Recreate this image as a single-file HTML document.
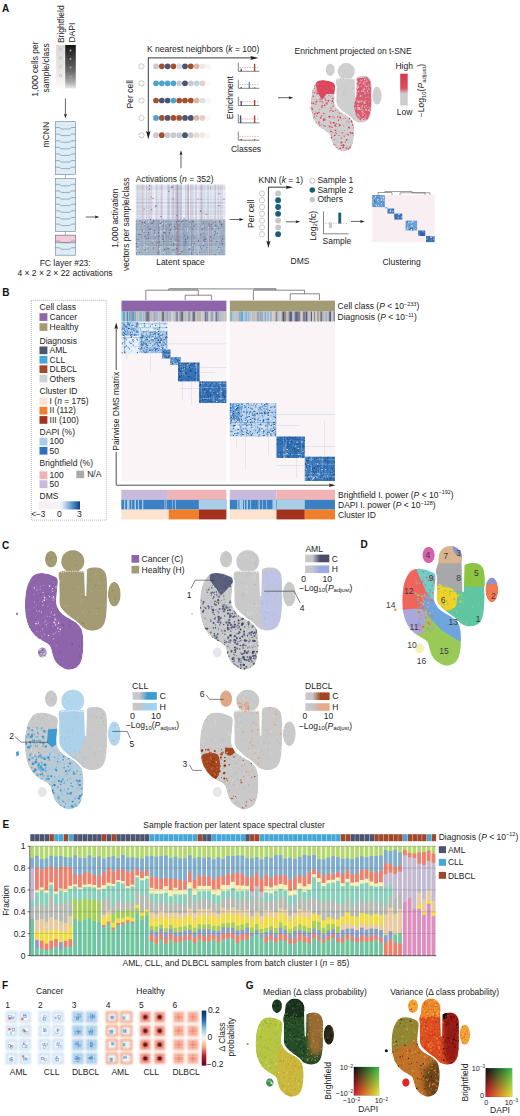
<!DOCTYPE html>
<html><head><meta charset="utf-8"><title>Figure</title>
<style>
html,body{margin:0;padding:0;background:#fff;}
body{width:520px;height:1116px;overflow:hidden;}
svg{display:block;font-family:"Liberation Sans",sans-serif;font-size:8.5px;fill:#222;}
</style></head><body>
<svg width="520" height="1116" viewBox="0 0 520 1116">
<defs><filter id="bl3" x="-20%" y="-20%" width="140%" height="140%"><feGaussianBlur stdDeviation="2.5"/></filter>
<clipPath id="tclip"><path d="M33.1 574.6C35.6 572.68 38.65 572.1 42.3 572.3C45.95 572.5 52.3 574.45 55 575.8C57.7 577.15 58.07 577.7 58.5 580.4C58.93 583.1 57.8 587.97 57.6 592C57.4 596.03 56.38 600.97 57.3 604.6C58.22 608.23 60.22 611.1 63.1 613.8C65.98 616.5 71.53 618.48 74.6 620.8C77.67 623.12 79.97 625.02 81.5 627.7C83.03 630.38 83.42 633.05 83.8 636.9C84.18 640.75 84.18 646.57 83.8 650.8C83.42 655.03 82.65 659.42 81.5 662.3C80.35 665.18 79.2 666.75 76.9 668.1C74.6 669.45 70.77 670.78 67.7 670.4C64.63 670.02 60.82 667.53 58.5 665.8C56.18 664.07 54.97 662.12 53.8 660C52.63 657.88 52.27 655.4 51.5 653.1C50.73 650.8 50.73 648.13 49.2 646.2C47.67 644.27 44.6 643.05 42.3 641.5C40 639.95 37.7 639.2 35.4 636.9C33.1 634.6 30.23 631.15 28.5 627.7C26.77 624.25 25.7 620.05 25 616.2C24.3 612.35 24.3 608.45 24.3 604.6C24.3 600.75 24.5 596.57 25 593.1C25.5 589.63 25.95 586.88 27.3 583.8C28.65 580.72 30.6 576.52 33.1 574.6Z"/><path d="M59.5 572.3C61.27 570.38 66.58 570.72 70 570.5C73.42 570.28 77.47 570.83 80 571C82.53 571.17 83.95 571.8 85.2 571.5C86.45 571.2 86.28 569.85 87.5 569.2C88.72 568.55 90.33 567.77 92.5 567.6C94.67 567.43 98.37 567.38 100.5 568.2C102.63 569.02 104.25 570.53 105.3 572.5C106.35 574.47 106.52 576.75 106.8 580C107.08 583.25 107.03 587.13 107 592C106.97 596.87 106.92 604.4 106.6 609.2C106.28 614 106 617.72 105.1 620.8C104.2 623.88 103.2 626.08 101.2 627.7C99.2 629.32 95.8 630.32 93.1 630.5C90.4 630.68 87.6 630.13 85 628.8C82.4 627.47 80.58 625.05 77.5 622.5C74.42 619.95 69.38 616.28 66.5 613.5C63.62 610.72 61.35 609.05 60.2 605.8C59.05 602.55 59.73 597.97 59.6 594C59.47 590.03 59.42 585.62 59.4 582C59.38 578.38 57.73 574.22 59.5 572.3Z"/><path d="M84.3 561.4C84.3 562.37 84.16 563.37 83.91 564.3C83.65 565.23 83.26 566.16 82.76 567C82.26 567.84 81.63 568.64 80.93 569.32C80.23 570 79.41 570.62 78.55 571.1C77.69 571.58 76.73 571.97 75.78 572.22C74.82 572.47 73.79 572.6 72.8 572.6C71.81 572.6 70.78 572.47 69.82 572.22C68.87 571.97 67.91 571.58 67.05 571.1C66.19 570.62 65.37 570 64.67 569.32C63.97 568.64 63.34 567.84 62.84 567C62.34 566.16 61.95 565.23 61.69 564.3C61.44 563.37 61.3 562.37 61.3 561.4C61.3 560.43 61.44 559.43 61.69 558.5C61.95 557.57 62.34 556.64 62.84 555.8C63.34 554.96 63.97 554.16 64.67 553.48C65.37 552.8 66.19 552.18 67.05 551.7C67.91 551.22 68.87 550.83 69.82 550.58C70.78 550.33 71.81 550.2 72.8 550.2C73.79 550.2 74.82 550.33 75.78 550.58C76.73 550.83 77.69 551.22 78.55 551.7C79.41 552.18 80.23 552.8 80.93 553.48C81.63 554.16 82.26 554.96 82.76 555.8C83.26 556.64 83.65 557.57 83.91 558.5C84.16 559.43 84.3 560.43 84.3 561.4Z"/><path d="M57.1 559.2C57.1 559.9 57.03 560.62 56.9 561.3C56.76 561.97 56.55 562.64 56.3 563.25C56.04 563.86 55.71 564.43 55.34 564.93C54.98 565.42 54.55 565.87 54.1 566.21C53.65 566.56 53.15 566.84 52.65 567.02C52.15 567.2 51.62 567.3 51.1 567.3C50.58 567.3 50.05 567.2 49.55 567.02C49.05 566.84 48.55 566.56 48.1 566.21C47.65 565.87 47.22 565.42 46.86 564.93C46.49 564.43 46.16 563.86 45.9 563.25C45.65 562.64 45.44 561.97 45.3 561.3C45.17 560.62 45.1 559.9 45.1 559.2C45.1 558.5 45.17 557.78 45.3 557.1C45.44 556.43 45.65 555.76 45.9 555.15C46.16 554.54 46.49 553.97 46.86 553.47C47.22 552.98 47.65 552.53 48.1 552.19C48.55 551.84 49.05 551.56 49.55 551.38C50.05 551.2 50.58 551.1 51.1 551.1C51.62 551.1 52.15 551.2 52.65 551.38C53.15 551.56 53.65 551.84 54.1 552.19C54.55 552.53 54.98 552.98 55.34 553.47C55.71 553.97 56.04 554.54 56.3 555.15C56.55 555.76 56.76 556.43 56.9 557.1C57.03 557.78 57.1 558.5 57.1 559.2Z"/><path d="M121.2 594.2C121.2 595.3 121.12 596.43 120.96 597.49C120.81 598.55 120.57 599.6 120.28 600.55C119.98 601.5 119.6 602.41 119.18 603.18C118.76 603.96 118.27 604.65 117.75 605.2C117.23 605.75 116.66 606.18 116.09 606.47C115.51 606.75 114.9 606.9 114.3 606.9C113.7 606.9 113.09 606.75 112.51 606.47C111.94 606.18 111.37 605.75 110.85 605.2C110.33 604.65 109.84 603.96 109.42 603.18C109 602.41 108.62 601.5 108.32 600.55C108.03 599.6 107.79 598.55 107.64 597.49C107.48 596.43 107.4 595.3 107.4 594.2C107.4 593.1 107.48 591.97 107.64 590.91C107.79 589.85 108.03 588.8 108.32 587.85C108.62 586.9 109 585.99 109.42 585.22C109.84 584.44 110.33 583.75 110.85 583.2C111.37 582.65 111.94 582.22 112.51 581.93C113.09 581.65 113.7 581.5 114.3 581.5C114.9 581.5 115.51 581.65 116.09 581.93C116.66 582.22 117.23 582.65 117.75 583.2C118.27 583.75 118.76 584.44 119.18 585.22C119.6 585.99 119.98 586.9 120.28 587.85C120.57 588.8 120.81 589.85 120.96 590.91C121.12 591.97 121.2 593.1 121.2 594.2Z"/><path d="M46.7 652.5C46.7 652.93 46.65 653.38 46.55 653.79C46.45 654.21 46.3 654.63 46.11 655C45.92 655.37 45.68 655.73 45.41 656.04C45.14 656.34 44.83 656.61 44.5 656.83C44.17 657.05 43.81 657.22 43.44 657.33C43.07 657.44 42.68 657.5 42.3 657.5C41.92 657.5 41.53 657.44 41.16 657.33C40.79 657.22 40.43 657.05 40.1 656.83C39.77 656.61 39.46 656.34 39.19 656.04C38.92 655.73 38.68 655.37 38.49 655C38.3 654.63 38.15 654.21 38.05 653.79C37.95 653.38 37.9 652.93 37.9 652.5C37.9 652.07 37.95 651.62 38.05 651.21C38.15 650.79 38.3 650.37 38.49 650C38.68 649.63 38.92 649.27 39.19 648.96C39.46 648.66 39.77 648.39 40.1 648.17C40.43 647.95 40.79 647.78 41.16 647.67C41.53 647.56 41.92 647.5 42.3 647.5C42.68 647.5 43.07 647.56 43.44 647.67C43.81 647.78 44.17 647.95 44.5 648.17C44.83 648.39 45.14 648.66 45.41 648.96C45.68 649.27 45.92 649.63 46.11 650C46.3 650.37 46.45 650.79 46.55 651.21C46.65 651.62 46.7 652.07 46.7 652.5Z"/><path d="M61.3 561.2C61.51 559.5 61.5 558.88 61.86 557.8C62.23 556.72 62.8 555.65 63.5 554.73C64.19 553.82 65.08 552.97 66.04 552.3C67 551.63 68.12 551.09 69.25 550.74C70.37 550.39 71.62 550.2 72.8 550.2C73.98 550.2 75.23 550.39 76.35 550.74C77.48 551.09 78.6 551.63 79.56 552.3C80.52 552.97 81.41 553.82 82.1 554.73C82.8 555.65 83.37 556.72 83.74 557.8C84.1 558.88 84.16 559.5 84.3 561.2C84.44 562.9 84.48 566.03 84.6 568C84.72 569.97 87.1 572.23 85 573C82.9 573.77 76.17 572.6 72 572.6C67.83 572.6 61.9 573.77 60 573C58.1 572.23 60.38 569.97 60.6 568C60.82 566.03 61.09 562.9 61.3 561.2Z"/></clipPath>
<path id="tL" d="M33.1 574.6C35.6 572.68 38.65 572.1 42.3 572.3C45.95 572.5 52.3 574.45 55 575.8C57.7 577.15 58.07 577.7 58.5 580.4C58.93 583.1 57.8 587.97 57.6 592C57.4 596.03 56.38 600.97 57.3 604.6C58.22 608.23 60.22 611.1 63.1 613.8C65.98 616.5 71.53 618.48 74.6 620.8C77.67 623.12 79.97 625.02 81.5 627.7C83.03 630.38 83.42 633.05 83.8 636.9C84.18 640.75 84.18 646.57 83.8 650.8C83.42 655.03 82.65 659.42 81.5 662.3C80.35 665.18 79.2 666.75 76.9 668.1C74.6 669.45 70.77 670.78 67.7 670.4C64.63 670.02 60.82 667.53 58.5 665.8C56.18 664.07 54.97 662.12 53.8 660C52.63 657.88 52.27 655.4 51.5 653.1C50.73 650.8 50.73 648.13 49.2 646.2C47.67 644.27 44.6 643.05 42.3 641.5C40 639.95 37.7 639.2 35.4 636.9C33.1 634.6 30.23 631.15 28.5 627.7C26.77 624.25 25.7 620.05 25 616.2C24.3 612.35 24.3 608.45 24.3 604.6C24.3 600.75 24.5 596.57 25 593.1C25.5 589.63 25.95 586.88 27.3 583.8C28.65 580.72 30.6 576.52 33.1 574.6Z"/>
<clipPath id="cL"><path d="M33.1 574.6C35.6 572.68 38.65 572.1 42.3 572.3C45.95 572.5 52.3 574.45 55 575.8C57.7 577.15 58.07 577.7 58.5 580.4C58.93 583.1 57.8 587.97 57.6 592C57.4 596.03 56.38 600.97 57.3 604.6C58.22 608.23 60.22 611.1 63.1 613.8C65.98 616.5 71.53 618.48 74.6 620.8C77.67 623.12 79.97 625.02 81.5 627.7C83.03 630.38 83.42 633.05 83.8 636.9C84.18 640.75 84.18 646.57 83.8 650.8C83.42 655.03 82.65 659.42 81.5 662.3C80.35 665.18 79.2 666.75 76.9 668.1C74.6 669.45 70.77 670.78 67.7 670.4C64.63 670.02 60.82 667.53 58.5 665.8C56.18 664.07 54.97 662.12 53.8 660C52.63 657.88 52.27 655.4 51.5 653.1C50.73 650.8 50.73 648.13 49.2 646.2C47.67 644.27 44.6 643.05 42.3 641.5C40 639.95 37.7 639.2 35.4 636.9C33.1 634.6 30.23 631.15 28.5 627.7C26.77 624.25 25.7 620.05 25 616.2C24.3 612.35 24.3 608.45 24.3 604.6C24.3 600.75 24.5 596.57 25 593.1C25.5 589.63 25.95 586.88 27.3 583.8C28.65 580.72 30.6 576.52 33.1 574.6Z"/></clipPath>
<path id="tU" d="M59.5 572.3C61.27 570.38 66.58 570.72 70 570.5C73.42 570.28 77.47 570.83 80 571C82.53 571.17 83.95 571.8 85.2 571.5C86.45 571.2 86.28 569.85 87.5 569.2C88.72 568.55 90.33 567.77 92.5 567.6C94.67 567.43 98.37 567.38 100.5 568.2C102.63 569.02 104.25 570.53 105.3 572.5C106.35 574.47 106.52 576.75 106.8 580C107.08 583.25 107.03 587.13 107 592C106.97 596.87 106.92 604.4 106.6 609.2C106.28 614 106 617.72 105.1 620.8C104.2 623.88 103.2 626.08 101.2 627.7C99.2 629.32 95.8 630.32 93.1 630.5C90.4 630.68 87.6 630.13 85 628.8C82.4 627.47 80.58 625.05 77.5 622.5C74.42 619.95 69.38 616.28 66.5 613.5C63.62 610.72 61.35 609.05 60.2 605.8C59.05 602.55 59.73 597.97 59.6 594C59.47 590.03 59.42 585.62 59.4 582C59.38 578.38 57.73 574.22 59.5 572.3Z"/>
<clipPath id="cU"><path d="M59.5 572.3C61.27 570.38 66.58 570.72 70 570.5C73.42 570.28 77.47 570.83 80 571C82.53 571.17 83.95 571.8 85.2 571.5C86.45 571.2 86.28 569.85 87.5 569.2C88.72 568.55 90.33 567.77 92.5 567.6C94.67 567.43 98.37 567.38 100.5 568.2C102.63 569.02 104.25 570.53 105.3 572.5C106.35 574.47 106.52 576.75 106.8 580C107.08 583.25 107.03 587.13 107 592C106.97 596.87 106.92 604.4 106.6 609.2C106.28 614 106 617.72 105.1 620.8C104.2 623.88 103.2 626.08 101.2 627.7C99.2 629.32 95.8 630.32 93.1 630.5C90.4 630.68 87.6 630.13 85 628.8C82.4 627.47 80.58 625.05 77.5 622.5C74.42 619.95 69.38 616.28 66.5 613.5C63.62 610.72 61.35 609.05 60.2 605.8C59.05 602.55 59.73 597.97 59.6 594C59.47 590.03 59.42 585.62 59.4 582C59.38 578.38 57.73 574.22 59.5 572.3Z"/></clipPath>
<path id="tT" d="M84.3 561.4C84.3 562.37 84.16 563.37 83.91 564.3C83.65 565.23 83.26 566.16 82.76 567C82.26 567.84 81.63 568.64 80.93 569.32C80.23 570 79.41 570.62 78.55 571.1C77.69 571.58 76.73 571.97 75.78 572.22C74.82 572.47 73.79 572.6 72.8 572.6C71.81 572.6 70.78 572.47 69.82 572.22C68.87 571.97 67.91 571.58 67.05 571.1C66.19 570.62 65.37 570 64.67 569.32C63.97 568.64 63.34 567.84 62.84 567C62.34 566.16 61.95 565.23 61.69 564.3C61.44 563.37 61.3 562.37 61.3 561.4C61.3 560.43 61.44 559.43 61.69 558.5C61.95 557.57 62.34 556.64 62.84 555.8C63.34 554.96 63.97 554.16 64.67 553.48C65.37 552.8 66.19 552.18 67.05 551.7C67.91 551.22 68.87 550.83 69.82 550.58C70.78 550.33 71.81 550.2 72.8 550.2C73.79 550.2 74.82 550.33 75.78 550.58C76.73 550.83 77.69 551.22 78.55 551.7C79.41 552.18 80.23 552.8 80.93 553.48C81.63 554.16 82.26 554.96 82.76 555.8C83.26 556.64 83.65 557.57 83.91 558.5C84.16 559.43 84.3 560.43 84.3 561.4Z"/>
<clipPath id="cT"><path d="M84.3 561.4C84.3 562.37 84.16 563.37 83.91 564.3C83.65 565.23 83.26 566.16 82.76 567C82.26 567.84 81.63 568.64 80.93 569.32C80.23 570 79.41 570.62 78.55 571.1C77.69 571.58 76.73 571.97 75.78 572.22C74.82 572.47 73.79 572.6 72.8 572.6C71.81 572.6 70.78 572.47 69.82 572.22C68.87 571.97 67.91 571.58 67.05 571.1C66.19 570.62 65.37 570 64.67 569.32C63.97 568.64 63.34 567.84 62.84 567C62.34 566.16 61.95 565.23 61.69 564.3C61.44 563.37 61.3 562.37 61.3 561.4C61.3 560.43 61.44 559.43 61.69 558.5C61.95 557.57 62.34 556.64 62.84 555.8C63.34 554.96 63.97 554.16 64.67 553.48C65.37 552.8 66.19 552.18 67.05 551.7C67.91 551.22 68.87 550.83 69.82 550.58C70.78 550.33 71.81 550.2 72.8 550.2C73.79 550.2 74.82 550.33 75.78 550.58C76.73 550.83 77.69 551.22 78.55 551.7C79.41 552.18 80.23 552.8 80.93 553.48C81.63 554.16 82.26 554.96 82.76 555.8C83.26 556.64 83.65 557.57 83.91 558.5C84.16 559.43 84.3 560.43 84.3 561.4Z"/></clipPath>
<path id="tO1" d="M57.1 559.2C57.1 559.9 57.03 560.62 56.9 561.3C56.76 561.97 56.55 562.64 56.3 563.25C56.04 563.86 55.71 564.43 55.34 564.93C54.98 565.42 54.55 565.87 54.1 566.21C53.65 566.56 53.15 566.84 52.65 567.02C52.15 567.2 51.62 567.3 51.1 567.3C50.58 567.3 50.05 567.2 49.55 567.02C49.05 566.84 48.55 566.56 48.1 566.21C47.65 565.87 47.22 565.42 46.86 564.93C46.49 564.43 46.16 563.86 45.9 563.25C45.65 562.64 45.44 561.97 45.3 561.3C45.17 560.62 45.1 559.9 45.1 559.2C45.1 558.5 45.17 557.78 45.3 557.1C45.44 556.43 45.65 555.76 45.9 555.15C46.16 554.54 46.49 553.97 46.86 553.47C47.22 552.98 47.65 552.53 48.1 552.19C48.55 551.84 49.05 551.56 49.55 551.38C50.05 551.2 50.58 551.1 51.1 551.1C51.62 551.1 52.15 551.2 52.65 551.38C53.15 551.56 53.65 551.84 54.1 552.19C54.55 552.53 54.98 552.98 55.34 553.47C55.71 553.97 56.04 554.54 56.3 555.15C56.55 555.76 56.76 556.43 56.9 557.1C57.03 557.78 57.1 558.5 57.1 559.2Z"/>
<clipPath id="cO1"><path d="M57.1 559.2C57.1 559.9 57.03 560.62 56.9 561.3C56.76 561.97 56.55 562.64 56.3 563.25C56.04 563.86 55.71 564.43 55.34 564.93C54.98 565.42 54.55 565.87 54.1 566.21C53.65 566.56 53.15 566.84 52.65 567.02C52.15 567.2 51.62 567.3 51.1 567.3C50.58 567.3 50.05 567.2 49.55 567.02C49.05 566.84 48.55 566.56 48.1 566.21C47.65 565.87 47.22 565.42 46.86 564.93C46.49 564.43 46.16 563.86 45.9 563.25C45.65 562.64 45.44 561.97 45.3 561.3C45.17 560.62 45.1 559.9 45.1 559.2C45.1 558.5 45.17 557.78 45.3 557.1C45.44 556.43 45.65 555.76 45.9 555.15C46.16 554.54 46.49 553.97 46.86 553.47C47.22 552.98 47.65 552.53 48.1 552.19C48.55 551.84 49.05 551.56 49.55 551.38C50.05 551.2 50.58 551.1 51.1 551.1C51.62 551.1 52.15 551.2 52.65 551.38C53.15 551.56 53.65 551.84 54.1 552.19C54.55 552.53 54.98 552.98 55.34 553.47C55.71 553.97 56.04 554.54 56.3 555.15C56.55 555.76 56.76 556.43 56.9 557.1C57.03 557.78 57.1 558.5 57.1 559.2Z"/></clipPath>
<path id="tO2" d="M121.2 594.2C121.2 595.3 121.12 596.43 120.96 597.49C120.81 598.55 120.57 599.6 120.28 600.55C119.98 601.5 119.6 602.41 119.18 603.18C118.76 603.96 118.27 604.65 117.75 605.2C117.23 605.75 116.66 606.18 116.09 606.47C115.51 606.75 114.9 606.9 114.3 606.9C113.7 606.9 113.09 606.75 112.51 606.47C111.94 606.18 111.37 605.75 110.85 605.2C110.33 604.65 109.84 603.96 109.42 603.18C109 602.41 108.62 601.5 108.32 600.55C108.03 599.6 107.79 598.55 107.64 597.49C107.48 596.43 107.4 595.3 107.4 594.2C107.4 593.1 107.48 591.97 107.64 590.91C107.79 589.85 108.03 588.8 108.32 587.85C108.62 586.9 109 585.99 109.42 585.22C109.84 584.44 110.33 583.75 110.85 583.2C111.37 582.65 111.94 582.22 112.51 581.93C113.09 581.65 113.7 581.5 114.3 581.5C114.9 581.5 115.51 581.65 116.09 581.93C116.66 582.22 117.23 582.65 117.75 583.2C118.27 583.75 118.76 584.44 119.18 585.22C119.6 585.99 119.98 586.9 120.28 587.85C120.57 588.8 120.81 589.85 120.96 590.91C121.12 591.97 121.2 593.1 121.2 594.2Z"/>
<clipPath id="cO2"><path d="M121.2 594.2C121.2 595.3 121.12 596.43 120.96 597.49C120.81 598.55 120.57 599.6 120.28 600.55C119.98 601.5 119.6 602.41 119.18 603.18C118.76 603.96 118.27 604.65 117.75 605.2C117.23 605.75 116.66 606.18 116.09 606.47C115.51 606.75 114.9 606.9 114.3 606.9C113.7 606.9 113.09 606.75 112.51 606.47C111.94 606.18 111.37 605.75 110.85 605.2C110.33 604.65 109.84 603.96 109.42 603.18C109 602.41 108.62 601.5 108.32 600.55C108.03 599.6 107.79 598.55 107.64 597.49C107.48 596.43 107.4 595.3 107.4 594.2C107.4 593.1 107.48 591.97 107.64 590.91C107.79 589.85 108.03 588.8 108.32 587.85C108.62 586.9 109 585.99 109.42 585.22C109.84 584.44 110.33 583.75 110.85 583.2C111.37 582.65 111.94 582.22 112.51 581.93C113.09 581.65 113.7 581.5 114.3 581.5C114.9 581.5 115.51 581.65 116.09 581.93C116.66 582.22 117.23 582.65 117.75 583.2C118.27 583.75 118.76 584.44 119.18 585.22C119.6 585.99 119.98 586.9 120.28 587.85C120.57 588.8 120.81 589.85 120.96 590.91C121.12 591.97 121.2 593.1 121.2 594.2Z"/></clipPath>
<path id="tS" d="M46.7 652.5C46.7 652.93 46.65 653.38 46.55 653.79C46.45 654.21 46.3 654.63 46.11 655C45.92 655.37 45.68 655.73 45.41 656.04C45.14 656.34 44.83 656.61 44.5 656.83C44.17 657.05 43.81 657.22 43.44 657.33C43.07 657.44 42.68 657.5 42.3 657.5C41.92 657.5 41.53 657.44 41.16 657.33C40.79 657.22 40.43 657.05 40.1 656.83C39.77 656.61 39.46 656.34 39.19 656.04C38.92 655.73 38.68 655.37 38.49 655C38.3 654.63 38.15 654.21 38.05 653.79C37.95 653.38 37.9 652.93 37.9 652.5C37.9 652.07 37.95 651.62 38.05 651.21C38.15 650.79 38.3 650.37 38.49 650C38.68 649.63 38.92 649.27 39.19 648.96C39.46 648.66 39.77 648.39 40.1 648.17C40.43 647.95 40.79 647.78 41.16 647.67C41.53 647.56 41.92 647.5 42.3 647.5C42.68 647.5 43.07 647.56 43.44 647.67C43.81 647.78 44.17 647.95 44.5 648.17C44.83 648.39 45.14 648.66 45.41 648.96C45.68 649.27 45.92 649.63 46.11 650C46.3 650.37 46.45 650.79 46.55 651.21C46.65 651.62 46.7 652.07 46.7 652.5Z"/>
<clipPath id="cS"><path d="M46.7 652.5C46.7 652.93 46.65 653.38 46.55 653.79C46.45 654.21 46.3 654.63 46.11 655C45.92 655.37 45.68 655.73 45.41 656.04C45.14 656.34 44.83 656.61 44.5 656.83C44.17 657.05 43.81 657.22 43.44 657.33C43.07 657.44 42.68 657.5 42.3 657.5C41.92 657.5 41.53 657.44 41.16 657.33C40.79 657.22 40.43 657.05 40.1 656.83C39.77 656.61 39.46 656.34 39.19 656.04C38.92 655.73 38.68 655.37 38.49 655C38.3 654.63 38.15 654.21 38.05 653.79C37.95 653.38 37.9 652.93 37.9 652.5C37.9 652.07 37.95 651.62 38.05 651.21C38.15 650.79 38.3 650.37 38.49 650C38.68 649.63 38.92 649.27 39.19 648.96C39.46 648.66 39.77 648.39 40.1 648.17C40.43 647.95 40.79 647.78 41.16 647.67C41.53 647.56 41.92 647.5 42.3 647.5C42.68 647.5 43.07 647.56 43.44 647.67C43.81 647.78 44.17 647.95 44.5 648.17C44.83 648.39 45.14 648.66 45.41 648.96C45.68 649.27 45.92 649.63 46.11 650C46.3 650.37 46.45 650.79 46.55 651.21C46.65 651.62 46.7 652.07 46.7 652.5Z"/></clipPath>
<path id="tT2" d="M61.3 561.2C61.51 559.5 61.5 558.88 61.86 557.8C62.23 556.72 62.8 555.65 63.5 554.73C64.19 553.82 65.08 552.97 66.04 552.3C67 551.63 68.12 551.09 69.25 550.74C70.37 550.39 71.62 550.2 72.8 550.2C73.98 550.2 75.23 550.39 76.35 550.74C77.48 551.09 78.6 551.63 79.56 552.3C80.52 552.97 81.41 553.82 82.1 554.73C82.8 555.65 83.37 556.72 83.74 557.8C84.1 558.88 84.16 559.5 84.3 561.2C84.44 562.9 84.48 566.03 84.6 568C84.72 569.97 87.1 572.23 85 573C82.9 573.77 76.17 572.6 72 572.6C67.83 572.6 61.9 573.77 60 573C58.1 572.23 60.38 569.97 60.6 568C60.82 566.03 61.09 562.9 61.3 561.2Z"/>
<clipPath id="cT2"><path d="M61.3 561.2C61.51 559.5 61.5 558.88 61.86 557.8C62.23 556.72 62.8 555.65 63.5 554.73C64.19 553.82 65.08 552.97 66.04 552.3C67 551.63 68.12 551.09 69.25 550.74C70.37 550.39 71.62 550.2 72.8 550.2C73.98 550.2 75.23 550.39 76.35 550.74C77.48 551.09 78.6 551.63 79.56 552.3C80.52 552.97 81.41 553.82 82.1 554.73C82.8 555.65 83.37 556.72 83.74 557.8C84.1 558.88 84.16 559.5 84.3 561.2C84.44 562.9 84.48 566.03 84.6 568C84.72 569.97 87.1 572.23 85 573C82.9 573.77 76.17 572.6 72 572.6C67.83 572.6 61.9 573.77 60 573C58.1 572.23 60.38 569.97 60.6 568C60.82 566.03 61.09 562.9 61.3 561.2Z"/></clipPath>
<linearGradient id="gDapi" x1="0" y1="0" x2="0" y2="1"><stop offset="0" stop-color="#151515"/><stop offset="0.6" stop-color="#6a6a6a"/><stop offset="0.88" stop-color="#b4b4b4"/><stop offset="1" stop-color="#ececec"/></linearGradient>
<linearGradient id="gBf" x1="0" y1="0" x2="0" y2="1"><stop offset="0" stop-color="#d8d8d8"/><stop offset="0.6" stop-color="#e8e8e8"/><stop offset="1" stop-color="#fcfcfc"/></linearGradient>
<linearGradient id="gHL" x1="0" y1="0" x2="0" y2="1"><stop offset="0" stop-color="#d8374f"/><stop offset="0.45" stop-color="#dc4a5e"/><stop offset="0.63" stop-color="#cdcdcd"/><stop offset="1" stop-color="#cccccc"/></linearGradient>
<linearGradient id="gDMS" x1="0" y1="0" x2="1" y2="0"><stop offset="0" stop-color="#f7eef1"/><stop offset="0.5" stop-color="#f7f3f6"/><stop offset="0.58" stop-color="#dce9f5"/><stop offset="0.8" stop-color="#5d97cf"/><stop offset="1" stop-color="#0d3f85"/></linearGradient>
<linearGradient id="gAMLC" x1="0" y1="0" x2="1" y2="0"><stop offset="0" stop-color="#c9c9cc"/><stop offset="0.3" stop-color="#c6c6ca"/><stop offset="0.62" stop-color="#4a4c6a"/><stop offset="1" stop-color="#4a4c6a"/></linearGradient>
<linearGradient id="gAMLH" x1="0" y1="0" x2="1" y2="0"><stop offset="0" stop-color="#c9c9cc"/><stop offset="0.3" stop-color="#c6c6ca"/><stop offset="0.62" stop-color="#9ea8e6"/><stop offset="1" stop-color="#9ea8e6"/></linearGradient>
<linearGradient id="gCLLC" x1="0" y1="0" x2="1" y2="0"><stop offset="0" stop-color="#c9c9cc"/><stop offset="0.3" stop-color="#c6c6ca"/><stop offset="0.62" stop-color="#3a9ad2"/><stop offset="1" stop-color="#3a9ad2"/></linearGradient>
<linearGradient id="gCLLH" x1="0" y1="0" x2="1" y2="0"><stop offset="0" stop-color="#c9c9cc"/><stop offset="0.3" stop-color="#c6c6ca"/><stop offset="0.62" stop-color="#9fd3f0"/><stop offset="1" stop-color="#9fd3f0"/></linearGradient>
<linearGradient id="gDLBC" x1="0" y1="0" x2="1" y2="0"><stop offset="0" stop-color="#c9c9cc"/><stop offset="0.3" stop-color="#c6c6ca"/><stop offset="0.62" stop-color="#a4471f"/><stop offset="1" stop-color="#a4471f"/></linearGradient>
<linearGradient id="gDLBH" x1="0" y1="0" x2="1" y2="0"><stop offset="0" stop-color="#c9c9cc"/><stop offset="0.3" stop-color="#c6c6ca"/><stop offset="0.62" stop-color="#e6a98a"/><stop offset="1" stop-color="#e6a98a"/></linearGradient>
<filter id="bl" x="-30%" y="-30%" width="160%" height="160%"><feGaussianBlur stdDeviation="1.1"/></filter>
<filter id="bl2" x="-30%" y="-30%" width="160%" height="160%"><feGaussianBlur stdDeviation="0.45"/></filter>
<linearGradient id="gRdBu" x1="0" y1="0" x2="0" y2="1"><stop offset="0" stop-color="#053061"/><stop offset="0.17" stop-color="#2166ac"/><stop offset="0.33" stop-color="#92c5de"/><stop offset="0.5" stop-color="#f7f7f7"/><stop offset="0.67" stop-color="#f4a582"/><stop offset="0.83" stop-color="#b2182b"/><stop offset="1" stop-color="#67001f"/></linearGradient>
<linearGradient id="cmAT" x1="0" y1="0" x2="1" y2="0"><stop offset="0" stop-color="#0a0a0a"/><stop offset="1" stop-color="#3cbc4c"/></linearGradient>
<linearGradient id="cmAB" x1="0" y1="0" x2="1" y2="0"><stop offset="0" stop-color="#e8182a"/><stop offset="1" stop-color="#eeea30"/></linearGradient>
<linearGradient id="cmAM" x1="0" y1="0" x2="0" y2="1"><stop offset="0" stop-color="#fff" stop-opacity="0"/><stop offset="1" stop-color="#fff" stop-opacity="1"/></linearGradient>
<mask id="cmAK" maskContentUnits="userSpaceOnUse"><rect x="353.8" y="1066.9" width="25.4" height="28.5" fill="url(#cmAM)"/></mask>
<linearGradient id="cmBT" x1="0" y1="0" x2="1" y2="0"><stop offset="0" stop-color="#0a0a0a"/><stop offset="1" stop-color="#3cbc4c"/></linearGradient>
<linearGradient id="cmBB" x1="0" y1="0" x2="1" y2="0"><stop offset="0" stop-color="#e8182a"/><stop offset="1" stop-color="#eeea30"/></linearGradient>
<linearGradient id="cmBM" x1="0" y1="0" x2="0" y2="1"><stop offset="0" stop-color="#fff" stop-opacity="0"/><stop offset="1" stop-color="#fff" stop-opacity="1"/></linearGradient>
<mask id="cmBK" maskContentUnits="userSpaceOnUse"><rect x="485.6" y="1068.1" width="26.7" height="28.8" fill="url(#cmBM)"/></mask></defs>
<rect width="520" height="1116" fill="#fff"/>
<text x="2" y="12" font-weight="bold" font-size="10" fill="#111">A</text>
<text x="38.4" y="69" text-anchor="middle" transform="rotate(-90 38.4 69)">1,000 cells per</text>
<text x="48.8" y="67.8" text-anchor="middle" transform="rotate(-90 48.8 67.8)">sample/class</text>
<text x="64.2" y="24.2" text-anchor="middle" transform="rotate(-90 64.2 24.2)">Brightfield</text>
<text x="74.6" y="32.6" text-anchor="middle" transform="rotate(-90 74.6 32.6)">DAPI</text>
<rect x="56.2" y="45" width="8.6" height="43.5" fill="url(#gBf)"/>
<rect x="65.2" y="45" width="10.6" height="43.5" fill="url(#gDapi)"/>
<circle cx="60.5" cy="49.5" r="1.3" fill="none" stroke="#b0b0b0" stroke-width="0.5"/>
<circle cx="70.5" cy="50.5" r="1" fill="#cfcfcf" opacity="0.8"/>
<circle cx="60.5" cy="58" r="1.3" fill="none" stroke="#b0b0b0" stroke-width="0.5"/>
<circle cx="70.5" cy="59" r="1" fill="#cfcfcf" opacity="0.68"/>
<circle cx="60.5" cy="66.5" r="1.3" fill="none" stroke="#b0b0b0" stroke-width="0.5"/>
<circle cx="70.5" cy="67.5" r="1" fill="#cfcfcf" opacity="0.56"/>
<circle cx="60.5" cy="75.5" r="1.3" fill="none" stroke="#b0b0b0" stroke-width="0.5"/>
<circle cx="70.5" cy="76.5" r="1" fill="#cfcfcf" opacity="0.44"/>
<line x1="65.4" y1="98.5" x2="65.4" y2="114.62" stroke="#222" stroke-width="0.7"/>
<polygon points="65.4,118.3 63.9,113.7 65.4,114.39 66.9,113.7" fill="#222"/>
<text x="49.3" y="134.7" text-anchor="middle" transform="rotate(-90 49.3 134.7)">mCNN</text>
<rect x="55.4" y="121.7" width="20" height="52.9" fill="#dcedf8" stroke="#6f7f8f" stroke-width="0.6"/>
<path d="M55.4 127.51 L59.5 127.51 Q60.5 129.01 61.5 129.01 L69.3 129.01 Q70.3 129.01 71.3 127.51 L75.4 127.51" fill="none" stroke="#6f7f8f" stroke-width="0.6"/>
<path d="M55.4 134.12 L59.5 134.12 Q60.5 135.62 61.5 135.62 L69.3 135.62 Q70.3 135.62 71.3 134.12 L75.4 134.12" fill="none" stroke="#6f7f8f" stroke-width="0.6"/>
<path d="M55.4 140.74 L59.5 140.74 Q60.5 142.24 61.5 142.24 L69.3 142.24 Q70.3 142.24 71.3 140.74 L75.4 140.74" fill="none" stroke="#6f7f8f" stroke-width="0.6"/>
<path d="M55.4 147.35 L59.5 147.35 Q60.5 148.85 61.5 148.85 L69.3 148.85 Q70.3 148.85 71.3 147.35 L75.4 147.35" fill="none" stroke="#6f7f8f" stroke-width="0.6"/>
<path d="M55.4 153.96 L59.5 153.96 Q60.5 155.46 61.5 155.46 L69.3 155.46 Q70.3 155.46 71.3 153.96 L75.4 153.96" fill="none" stroke="#6f7f8f" stroke-width="0.6"/>
<path d="M55.4 160.57 L59.5 160.57 Q60.5 162.07 61.5 162.07 L69.3 162.07 Q70.3 162.07 71.3 160.57 L75.4 160.57" fill="none" stroke="#6f7f8f" stroke-width="0.6"/>
<path d="M55.4 167.19 L59.5 167.19 Q60.5 168.69 61.5 168.69 L69.3 168.69 Q70.3 168.69 71.3 167.19 L75.4 167.19" fill="none" stroke="#6f7f8f" stroke-width="0.6"/>
<line x1="65.4" y1="174.6" x2="65.4" y2="178.5" stroke="#6f7f8f" stroke-width="0.6"/>
<rect x="55.4" y="178.5" width="20" height="53" fill="#dcedf8" stroke="#6f7f8f" stroke-width="0.6"/>
<path d="M55.4 184.32 L59.5 184.32 Q60.5 185.82 61.5 185.82 L69.3 185.82 Q70.3 185.82 71.3 184.32 L75.4 184.32" fill="none" stroke="#6f7f8f" stroke-width="0.6"/>
<path d="M55.4 190.95 L59.5 190.95 Q60.5 192.45 61.5 192.45 L69.3 192.45 Q70.3 192.45 71.3 190.95 L75.4 190.95" fill="none" stroke="#6f7f8f" stroke-width="0.6"/>
<path d="M55.4 197.57 L59.5 197.57 Q60.5 199.07 61.5 199.07 L69.3 199.07 Q70.3 199.07 71.3 197.57 L75.4 197.57" fill="none" stroke="#6f7f8f" stroke-width="0.6"/>
<path d="M55.4 204.2 L59.5 204.2 Q60.5 205.7 61.5 205.7 L69.3 205.7 Q70.3 205.7 71.3 204.2 L75.4 204.2" fill="none" stroke="#6f7f8f" stroke-width="0.6"/>
<path d="M55.4 210.82 L59.5 210.82 Q60.5 212.32 61.5 212.32 L69.3 212.32 Q70.3 212.32 71.3 210.82 L75.4 210.82" fill="none" stroke="#6f7f8f" stroke-width="0.6"/>
<path d="M55.4 217.45 L59.5 217.45 Q60.5 218.95 61.5 218.95 L69.3 218.95 Q70.3 218.95 71.3 217.45 L75.4 217.45" fill="none" stroke="#6f7f8f" stroke-width="0.6"/>
<path d="M55.4 224.07 L59.5 224.07 Q60.5 225.57 61.5 225.57 L69.3 225.57 Q70.3 225.57 71.3 224.07 L75.4 224.07" fill="none" stroke="#6f7f8f" stroke-width="0.6"/>
<line x1="65.4" y1="231.5" x2="65.4" y2="235.2" stroke="#6f7f8f" stroke-width="0.6"/>
<rect x="55.4" y="235.2" width="20" height="20" fill="#dcedf8" stroke="#6f7f8f" stroke-width="0.6"/>
<rect x="55.4" y="235.2" width="20" height="7.67" fill="#f6c9d6" stroke="#6f7f8f" stroke-width="0.6"/>
<path d="M55.4 241.07 L59.5 241.07 Q60.5 242.57 61.5 242.57 L69.3 242.57 Q70.3 242.57 71.3 241.07 L75.4 241.07" fill="none" stroke="#6f7f8f" stroke-width="0.6"/>
<path d="M55.4 247.73 L59.5 247.73 Q60.5 249.23 61.5 249.23 L69.3 249.23 Q70.3 249.23 71.3 247.73 L75.4 247.73" fill="none" stroke="#6f7f8f" stroke-width="0.6"/>
<text x="65.2" y="265.6" text-anchor="middle">FC layer #23:</text>
<text x="65" y="276.2" text-anchor="middle">4 × 2 × 2 × 22 activations</text>
<line x1="85.8" y1="217" x2="95.72" y2="217" stroke="#222" stroke-width="0.7"/>
<polygon points="99.4,217 94.8,215.5 95.49,217 94.8,218.5" fill="#222"/>
<text x="117.7" y="218.3" text-anchor="middle" transform="rotate(-90 117.7 218.3)">1,000 activation</text>
<text x="128.6" y="224.2" text-anchor="middle" transform="rotate(-90 128.6 224.2)">vectors per sample/class</text>
<text x="135.8" y="181.6">Activations (<tspan font-style="italic">n</tspan> = 352)</text>
<rect x="135.8" y="184.6" width="89.4" height="35" fill="#dde3ee"/>
<rect x="135.8" y="219.6" width="89.4" height="35.6" fill="#9fb2c5"/>
<g><rect x="135.8" y="184.6" width="0.9" height="35" fill="#e8eef6" opacity="0.7"/><rect x="135.8" y="219.6" width="0.9" height="35.6" fill="#6c7898" opacity="0.31"/><rect x="136.7" y="184.6" width="1.1" height="35" fill="#c0cadc" opacity="0.62"/><rect x="136.7" y="219.6" width="1.1" height="35.6" fill="#9aa2bc" opacity="0.36"/><rect x="137.8" y="184.6" width="1.1" height="35" fill="#c0cadc" opacity="0.49"/><rect x="137.8" y="219.6" width="1.1" height="35.6" fill="#a8bccc" opacity="0.59"/><rect x="138.9" y="184.6" width="0.5" height="35" fill="#c0cadc" opacity="0.5"/><rect x="138.9" y="219.6" width="0.5" height="35.6" fill="#9aa2bc" opacity="0.76"/><rect x="139.4" y="184.6" width="1.1" height="35" fill="#d8c8d4" opacity="0.68"/><rect x="139.4" y="219.6" width="1.1" height="35.6" fill="#a8bccc" opacity="0.37"/><rect x="140.5" y="184.6" width="1.1" height="35" fill="#d8c8d4" opacity="0.37"/><rect x="140.5" y="219.6" width="1.1" height="35.6" fill="#8aa6bc" opacity="0.4"/><rect x="141.6" y="184.6" width="0.7" height="35" fill="#d8c8d4" opacity="0.74"/><rect x="141.6" y="219.6" width="0.7" height="35.6" fill="#7e96b0" opacity="0.46"/><rect x="142.3" y="184.6" width="0.7" height="35" fill="#c8a8b8" opacity="0.74"/><rect x="142.3" y="219.6" width="0.7" height="35.6" fill="#b0a0b8" opacity="0.39"/><rect x="143" y="184.6" width="0.7" height="35" fill="#a8b8cc" opacity="0.45"/><rect x="143" y="219.6" width="0.7" height="35.6" fill="#b8ccd8" opacity="0.51"/><rect x="143.7" y="184.6" width="0.7" height="35" fill="#b4a0b4" opacity="0.33"/><rect x="143.7" y="219.6" width="0.7" height="35.6" fill="#7e96b0" opacity="0.71"/><rect x="144.4" y="184.6" width="0.5" height="35" fill="#e8eef6" opacity="0.33"/><rect x="144.4" y="219.6" width="0.5" height="35.6" fill="#b8ccd8" opacity="0.71"/><rect x="144.9" y="184.6" width="1.1" height="35" fill="#e8eef6" opacity="0.39"/><rect x="144.9" y="219.6" width="1.1" height="35.6" fill="#8c9cb4" opacity="0.65"/><rect x="146" y="184.6" width="0.5" height="35" fill="#b4a0b4" opacity="0.79"/><rect x="146" y="219.6" width="0.5" height="35.6" fill="#8aa6bc" opacity="0.77"/><rect x="146.5" y="184.6" width="0.9" height="35" fill="#a8b8cc" opacity="0.31"/><rect x="146.5" y="219.6" width="0.9" height="35.6" fill="#98acc4" opacity="0.48"/><rect x="147.4" y="184.6" width="0.5" height="35" fill="#f4f6fa" opacity="0.32"/><rect x="147.4" y="219.6" width="0.5" height="35.6" fill="#9aa2bc" opacity="0.61"/><rect x="147.9" y="184.6" width="0.7" height="35" fill="#cdd8e6" opacity="0.68"/><rect x="147.9" y="219.6" width="0.7" height="35.6" fill="#8c9cb4" opacity="0.47"/><rect x="148.6" y="184.6" width="0.9" height="35" fill="#c8a8b8" opacity="0.43"/><rect x="148.6" y="219.6" width="0.9" height="35.6" fill="#8c9cb4" opacity="0.35"/><rect x="149.5" y="184.6" width="0.9" height="35" fill="#b4a0b4" opacity="0.32"/><rect x="149.5" y="219.6" width="0.9" height="35.6" fill="#a8bccc" opacity="0.4"/><rect x="150.4" y="184.6" width="0.9" height="35" fill="#d8c8d4" opacity="0.47"/><rect x="150.4" y="219.6" width="0.9" height="35.6" fill="#6c7898" opacity="0.35"/><rect x="151.3" y="184.6" width="0.9" height="35" fill="#b4a0b4" opacity="0.39"/><rect x="151.3" y="219.6" width="0.9" height="35.6" fill="#a8bccc" opacity="0.61"/><rect x="152.2" y="184.6" width="0.9" height="35" fill="#f4f6fa" opacity="0.38"/><rect x="152.2" y="219.6" width="0.9" height="35.6" fill="#8aa6bc" opacity="0.34"/><rect x="153.1" y="184.6" width="1.1" height="35" fill="#eef2f8" opacity="0.42"/><rect x="153.1" y="219.6" width="1.1" height="35.6" fill="#a890a8" opacity="0.47"/><rect x="154.2" y="184.6" width="0.9" height="35" fill="#f4f6fa" opacity="0.63"/><rect x="154.2" y="219.6" width="0.9" height="35.6" fill="#9aa2bc" opacity="0.33"/><rect x="155.1" y="184.6" width="0.5" height="35" fill="#f4f6fa" opacity="0.47"/><rect x="155.1" y="219.6" width="0.5" height="35.6" fill="#b0a0b8" opacity="0.37"/><rect x="155.6" y="184.6" width="0.7" height="35" fill="#a8b8cc" opacity="0.35"/><rect x="155.6" y="219.6" width="0.7" height="35.6" fill="#98acc4" opacity="0.49"/><rect x="156.3" y="184.6" width="0.5" height="35" fill="#a8b8cc" opacity="0.45"/><rect x="156.3" y="219.6" width="0.5" height="35.6" fill="#8c9cb4" opacity="0.76"/><rect x="156.8" y="184.6" width="0.7" height="35" fill="#c8a8b8" opacity="0.53"/><rect x="156.8" y="219.6" width="0.7" height="35.6" fill="#8c9cb4" opacity="0.64"/><rect x="157.5" y="184.6" width="0.9" height="35" fill="#f4f6fa" opacity="0.44"/><rect x="157.5" y="219.6" width="0.9" height="35.6" fill="#8c9cb4" opacity="0.5"/><rect x="158.4" y="184.6" width="0.7" height="35" fill="#cdd8e6" opacity="0.49"/><rect x="158.4" y="219.6" width="0.7" height="35.6" fill="#6c7898" opacity="0.78"/><rect x="159.1" y="184.6" width="1.1" height="35" fill="#e8eef6" opacity="0.39"/><rect x="159.1" y="219.6" width="1.1" height="35.6" fill="#8c9cb4" opacity="0.44"/><rect x="160.2" y="184.6" width="0.9" height="35" fill="#cdd8e6" opacity="0.69"/><rect x="160.2" y="219.6" width="0.9" height="35.6" fill="#b8ccd8" opacity="0.65"/><rect x="161.1" y="184.6" width="0.5" height="35" fill="#b4a0b4" opacity="0.48"/><rect x="161.1" y="219.6" width="0.5" height="35.6" fill="#7e96b0" opacity="0.72"/><rect x="161.6" y="184.6" width="0.9" height="35" fill="#b4a0b4" opacity="0.78"/><rect x="161.6" y="219.6" width="0.9" height="35.6" fill="#b8ccd8" opacity="0.62"/><rect x="162.5" y="184.6" width="0.5" height="35" fill="#f4f6fa" opacity="0.57"/><rect x="162.5" y="219.6" width="0.5" height="35.6" fill="#7e96b0" opacity="0.46"/><rect x="163" y="184.6" width="0.9" height="35" fill="#f4f6fa" opacity="0.44"/><rect x="163" y="219.6" width="0.9" height="35.6" fill="#6c7898" opacity="0.62"/><rect x="163.9" y="184.6" width="0.9" height="35" fill="#e8eef6" opacity="0.44"/><rect x="163.9" y="219.6" width="0.9" height="35.6" fill="#b8ccd8" opacity="0.67"/><rect x="164.8" y="184.6" width="1.1" height="35" fill="#e8eef6" opacity="0.76"/><rect x="164.8" y="219.6" width="1.1" height="35.6" fill="#9aa2bc" opacity="0.73"/><rect x="165.9" y="184.6" width="1.1" height="35" fill="#e8eef6" opacity="0.78"/><rect x="165.9" y="219.6" width="1.1" height="35.6" fill="#6c7898" opacity="0.37"/><rect x="167" y="184.6" width="0.7" height="35" fill="#c0cadc" opacity="0.72"/><rect x="167" y="219.6" width="0.7" height="35.6" fill="#8c9cb4" opacity="0.44"/><rect x="167.7" y="184.6" width="0.5" height="35" fill="#a8b8cc" opacity="0.39"/><rect x="167.7" y="219.6" width="0.5" height="35.6" fill="#a890a8" opacity="0.56"/><rect x="168.2" y="184.6" width="1.1" height="35" fill="#b4a0b4" opacity="0.61"/><rect x="168.2" y="219.6" width="1.1" height="35.6" fill="#7e96b0" opacity="0.66"/><rect x="169.3" y="184.6" width="0.5" height="35" fill="#c0cadc" opacity="0.38"/><rect x="169.3" y="219.6" width="0.5" height="35.6" fill="#8c9cb4" opacity="0.61"/><rect x="169.8" y="184.6" width="0.7" height="35" fill="#c0cadc" opacity="0.68"/><rect x="169.8" y="219.6" width="0.7" height="35.6" fill="#9aa2bc" opacity="0.62"/><rect x="170.5" y="184.6" width="0.5" height="35" fill="#f4f6fa" opacity="0.79"/><rect x="170.5" y="219.6" width="0.5" height="35.6" fill="#9aa2bc" opacity="0.33"/><rect x="171" y="184.6" width="0.7" height="35" fill="#cdd8e6" opacity="0.46"/><rect x="171" y="219.6" width="0.7" height="35.6" fill="#9aa2bc" opacity="0.54"/><rect x="171.7" y="184.6" width="0.5" height="35" fill="#a8b8cc" opacity="0.53"/><rect x="171.7" y="219.6" width="0.5" height="35.6" fill="#98acc4" opacity="0.63"/><rect x="172.2" y="184.6" width="0.5" height="35" fill="#c0cadc" opacity="0.42"/><rect x="172.2" y="219.6" width="0.5" height="35.6" fill="#b8ccd8" opacity="0.3"/><rect x="172.7" y="184.6" width="1.1" height="35" fill="#b4a0b4" opacity="0.73"/><rect x="172.7" y="219.6" width="1.1" height="35.6" fill="#a8bccc" opacity="0.64"/><rect x="173.8" y="184.6" width="0.9" height="35" fill="#eef2f8" opacity="0.57"/><rect x="173.8" y="219.6" width="0.9" height="35.6" fill="#7e96b0" opacity="0.35"/><rect x="174.7" y="184.6" width="0.9" height="35" fill="#b4a0b4" opacity="0.78"/><rect x="174.7" y="219.6" width="0.9" height="35.6" fill="#9aa2bc" opacity="0.51"/><rect x="175.6" y="184.6" width="0.9" height="35" fill="#f4f6fa" opacity="0.37"/><rect x="175.6" y="219.6" width="0.9" height="35.6" fill="#a890a8" opacity="0.49"/><rect x="176.5" y="184.6" width="1.1" height="35" fill="#c0cadc" opacity="0.78"/><rect x="176.5" y="219.6" width="1.1" height="35.6" fill="#a890a8" opacity="0.35"/><rect x="177.6" y="184.6" width="0.5" height="35" fill="#a8b8cc" opacity="0.35"/><rect x="177.6" y="219.6" width="0.5" height="35.6" fill="#a890a8" opacity="0.76"/><rect x="178.1" y="184.6" width="0.7" height="35" fill="#e8eef6" opacity="0.61"/><rect x="178.1" y="219.6" width="0.7" height="35.6" fill="#a890a8" opacity="0.49"/><rect x="178.8" y="184.6" width="1.1" height="35" fill="#c0cadc" opacity="0.55"/><rect x="178.8" y="219.6" width="1.1" height="35.6" fill="#8c9cb4" opacity="0.79"/><rect x="179.9" y="184.6" width="1.1" height="35" fill="#a8b8cc" opacity="0.78"/><rect x="179.9" y="219.6" width="1.1" height="35.6" fill="#9aa2bc" opacity="0.6"/><rect x="181" y="184.6" width="0.9" height="35" fill="#b4a0b4" opacity="0.55"/><rect x="181" y="219.6" width="0.9" height="35.6" fill="#98acc4" opacity="0.31"/><rect x="181.9" y="184.6" width="0.9" height="35" fill="#f4f6fa" opacity="0.76"/><rect x="181.9" y="219.6" width="0.9" height="35.6" fill="#9aa2bc" opacity="0.54"/><rect x="182.8" y="184.6" width="0.5" height="35" fill="#f4f6fa" opacity="0.42"/><rect x="182.8" y="219.6" width="0.5" height="35.6" fill="#8aa6bc" opacity="0.69"/><rect x="183.3" y="184.6" width="1.1" height="35" fill="#eef2f8" opacity="0.54"/><rect x="183.3" y="219.6" width="1.1" height="35.6" fill="#6c7898" opacity="0.44"/><rect x="184.4" y="184.6" width="1.1" height="35" fill="#eef2f8" opacity="0.42"/><rect x="184.4" y="219.6" width="1.1" height="35.6" fill="#7e96b0" opacity="0.72"/><rect x="185.5" y="184.6" width="0.9" height="35" fill="#b4a0b4" opacity="0.55"/><rect x="185.5" y="219.6" width="0.9" height="35.6" fill="#8c9cb4" opacity="0.56"/><rect x="186.4" y="184.6" width="0.5" height="35" fill="#eef2f8" opacity="0.68"/><rect x="186.4" y="219.6" width="0.5" height="35.6" fill="#7e96b0" opacity="0.44"/><rect x="186.9" y="184.6" width="0.9" height="35" fill="#b4a0b4" opacity="0.67"/><rect x="186.9" y="219.6" width="0.9" height="35.6" fill="#8aa6bc" opacity="0.53"/><rect x="187.8" y="184.6" width="0.9" height="35" fill="#d8c8d4" opacity="0.32"/><rect x="187.8" y="219.6" width="0.9" height="35.6" fill="#7e96b0" opacity="0.58"/><rect x="188.7" y="184.6" width="0.5" height="35" fill="#c8a8b8" opacity="0.4"/><rect x="188.7" y="219.6" width="0.5" height="35.6" fill="#98acc4" opacity="0.69"/><rect x="189.2" y="184.6" width="1.1" height="35" fill="#f4f6fa" opacity="0.73"/><rect x="189.2" y="219.6" width="1.1" height="35.6" fill="#98acc4" opacity="0.54"/><rect x="190.3" y="184.6" width="0.7" height="35" fill="#b4a0b4" opacity="0.53"/><rect x="190.3" y="219.6" width="0.7" height="35.6" fill="#a8bccc" opacity="0.45"/><rect x="191" y="184.6" width="0.5" height="35" fill="#a8b8cc" opacity="0.59"/><rect x="191" y="219.6" width="0.5" height="35.6" fill="#8c9cb4" opacity="0.76"/><rect x="191.5" y="184.6" width="0.7" height="35" fill="#d8c8d4" opacity="0.54"/><rect x="191.5" y="219.6" width="0.7" height="35.6" fill="#6c7898" opacity="0.74"/><rect x="192.2" y="184.6" width="0.9" height="35" fill="#c8a8b8" opacity="0.38"/><rect x="192.2" y="219.6" width="0.9" height="35.6" fill="#a890a8" opacity="0.57"/><rect x="193.1" y="184.6" width="0.5" height="35" fill="#cdd8e6" opacity="0.67"/><rect x="193.1" y="219.6" width="0.5" height="35.6" fill="#7e96b0" opacity="0.71"/><rect x="193.6" y="184.6" width="0.5" height="35" fill="#eef2f8" opacity="0.47"/><rect x="193.6" y="219.6" width="0.5" height="35.6" fill="#98acc4" opacity="0.79"/><rect x="194.1" y="184.6" width="1.1" height="35" fill="#f4f6fa" opacity="0.32"/><rect x="194.1" y="219.6" width="1.1" height="35.6" fill="#a8bccc" opacity="0.41"/><rect x="195.2" y="184.6" width="0.5" height="35" fill="#d8c8d4" opacity="0.8"/><rect x="195.2" y="219.6" width="0.5" height="35.6" fill="#8c9cb4" opacity="0.37"/><rect x="195.7" y="184.6" width="0.7" height="35" fill="#a8b8cc" opacity="0.7"/><rect x="195.7" y="219.6" width="0.7" height="35.6" fill="#a8bccc" opacity="0.61"/><rect x="196.4" y="184.6" width="0.5" height="35" fill="#c8a8b8" opacity="0.35"/><rect x="196.4" y="219.6" width="0.5" height="35.6" fill="#98acc4" opacity="0.67"/><rect x="196.9" y="184.6" width="0.9" height="35" fill="#eef2f8" opacity="0.59"/><rect x="196.9" y="219.6" width="0.9" height="35.6" fill="#a8bccc" opacity="0.67"/><rect x="197.8" y="184.6" width="0.7" height="35" fill="#eef2f8" opacity="0.52"/><rect x="197.8" y="219.6" width="0.7" height="35.6" fill="#b8ccd8" opacity="0.64"/><rect x="198.5" y="184.6" width="1.1" height="35" fill="#f4f6fa" opacity="0.48"/><rect x="198.5" y="219.6" width="1.1" height="35.6" fill="#b8ccd8" opacity="0.76"/><rect x="199.6" y="184.6" width="0.7" height="35" fill="#b4a0b4" opacity="0.38"/><rect x="199.6" y="219.6" width="0.7" height="35.6" fill="#6c7898" opacity="0.45"/><rect x="200.3" y="184.6" width="0.7" height="35" fill="#b4a0b4" opacity="0.33"/><rect x="200.3" y="219.6" width="0.7" height="35.6" fill="#b0a0b8" opacity="0.43"/><rect x="201" y="184.6" width="0.9" height="35" fill="#c8a8b8" opacity="0.79"/><rect x="201" y="219.6" width="0.9" height="35.6" fill="#b0a0b8" opacity="0.73"/><rect x="201.9" y="184.6" width="1.1" height="35" fill="#a8b8cc" opacity="0.39"/><rect x="201.9" y="219.6" width="1.1" height="35.6" fill="#8aa6bc" opacity="0.63"/><rect x="203" y="184.6" width="0.5" height="35" fill="#eef2f8" opacity="0.35"/><rect x="203" y="219.6" width="0.5" height="35.6" fill="#a8bccc" opacity="0.55"/><rect x="203.5" y="184.6" width="1.1" height="35" fill="#c0cadc" opacity="0.49"/><rect x="203.5" y="219.6" width="1.1" height="35.6" fill="#8c9cb4" opacity="0.54"/><rect x="204.6" y="184.6" width="0.9" height="35" fill="#cdd8e6" opacity="0.7"/><rect x="204.6" y="219.6" width="0.9" height="35.6" fill="#8aa6bc" opacity="0.57"/><rect x="205.5" y="184.6" width="1.1" height="35" fill="#eef2f8" opacity="0.72"/><rect x="205.5" y="219.6" width="1.1" height="35.6" fill="#98acc4" opacity="0.64"/><rect x="206.6" y="184.6" width="0.7" height="35" fill="#cdd8e6" opacity="0.34"/><rect x="206.6" y="219.6" width="0.7" height="35.6" fill="#8c9cb4" opacity="0.71"/><rect x="207.3" y="184.6" width="0.7" height="35" fill="#a8b8cc" opacity="0.48"/><rect x="207.3" y="219.6" width="0.7" height="35.6" fill="#b0a0b8" opacity="0.44"/><rect x="208" y="184.6" width="0.9" height="35" fill="#a8b8cc" opacity="0.49"/><rect x="208" y="219.6" width="0.9" height="35.6" fill="#b8ccd8" opacity="0.62"/><rect x="208.9" y="184.6" width="1.1" height="35" fill="#e8eef6" opacity="0.56"/><rect x="208.9" y="219.6" width="1.1" height="35.6" fill="#a890a8" opacity="0.8"/><rect x="210" y="184.6" width="0.7" height="35" fill="#d8c8d4" opacity="0.5"/><rect x="210" y="219.6" width="0.7" height="35.6" fill="#a8bccc" opacity="0.32"/><rect x="210.7" y="184.6" width="0.7" height="35" fill="#c0cadc" opacity="0.4"/><rect x="210.7" y="219.6" width="0.7" height="35.6" fill="#8c9cb4" opacity="0.74"/><rect x="211.4" y="184.6" width="1.1" height="35" fill="#e8eef6" opacity="0.3"/><rect x="211.4" y="219.6" width="1.1" height="35.6" fill="#8c9cb4" opacity="0.45"/><rect x="212.5" y="184.6" width="1.1" height="35" fill="#e8eef6" opacity="0.53"/><rect x="212.5" y="219.6" width="1.1" height="35.6" fill="#a8bccc" opacity="0.4"/><rect x="213.6" y="184.6" width="0.7" height="35" fill="#cdd8e6" opacity="0.49"/><rect x="213.6" y="219.6" width="0.7" height="35.6" fill="#98acc4" opacity="0.73"/><rect x="214.3" y="184.6" width="1.1" height="35" fill="#d8c8d4" opacity="0.58"/><rect x="214.3" y="219.6" width="1.1" height="35.6" fill="#a8bccc" opacity="0.44"/><rect x="215.4" y="184.6" width="0.7" height="35" fill="#b4a0b4" opacity="0.64"/><rect x="215.4" y="219.6" width="0.7" height="35.6" fill="#8aa6bc" opacity="0.54"/><rect x="216.1" y="184.6" width="0.5" height="35" fill="#e8eef6" opacity="0.76"/><rect x="216.1" y="219.6" width="0.5" height="35.6" fill="#b8ccd8" opacity="0.46"/><rect x="216.6" y="184.6" width="0.5" height="35" fill="#eef2f8" opacity="0.64"/><rect x="216.6" y="219.6" width="0.5" height="35.6" fill="#8c9cb4" opacity="0.72"/><rect x="217.1" y="184.6" width="0.7" height="35" fill="#cdd8e6" opacity="0.69"/><rect x="217.1" y="219.6" width="0.7" height="35.6" fill="#b8ccd8" opacity="0.45"/><rect x="217.8" y="184.6" width="0.7" height="35" fill="#d8c8d4" opacity="0.32"/><rect x="217.8" y="219.6" width="0.7" height="35.6" fill="#8aa6bc" opacity="0.59"/><rect x="218.5" y="184.6" width="0.5" height="35" fill="#a8b8cc" opacity="0.76"/><rect x="218.5" y="219.6" width="0.5" height="35.6" fill="#b8ccd8" opacity="0.64"/><rect x="219" y="184.6" width="0.7" height="35" fill="#f4f6fa" opacity="0.48"/><rect x="219" y="219.6" width="0.7" height="35.6" fill="#a8bccc" opacity="0.67"/><rect x="219.7" y="184.6" width="1.1" height="35" fill="#d8c8d4" opacity="0.69"/><rect x="219.7" y="219.6" width="1.1" height="35.6" fill="#9aa2bc" opacity="0.64"/><rect x="220.8" y="184.6" width="0.5" height="35" fill="#a8b8cc" opacity="0.66"/><rect x="220.8" y="219.6" width="0.5" height="35.6" fill="#7e96b0" opacity="0.3"/><rect x="221.3" y="184.6" width="0.5" height="35" fill="#f4f6fa" opacity="0.69"/><rect x="221.3" y="219.6" width="0.5" height="35.6" fill="#98acc4" opacity="0.38"/><rect x="221.8" y="184.6" width="0.5" height="35" fill="#c8a8b8" opacity="0.72"/><rect x="221.8" y="219.6" width="0.5" height="35.6" fill="#6c7898" opacity="0.58"/><rect x="222.3" y="184.6" width="0.5" height="35" fill="#cdd8e6" opacity="0.42"/><rect x="222.3" y="219.6" width="0.5" height="35.6" fill="#8c9cb4" opacity="0.35"/><rect x="222.8" y="184.6" width="1.1" height="35" fill="#eef2f8" opacity="0.64"/><rect x="222.8" y="219.6" width="1.1" height="35.6" fill="#8aa6bc" opacity="0.55"/><rect x="223.9" y="184.6" width="0.5" height="35" fill="#eef2f8" opacity="0.43"/><rect x="223.9" y="219.6" width="0.5" height="35.6" fill="#98acc4" opacity="0.52"/><rect x="224.4" y="184.6" width="0.5" height="35" fill="#eef2f8" opacity="0.78"/><rect x="224.4" y="219.6" width="0.5" height="35.6" fill="#b0a0b8" opacity="0.39"/><rect x="224.9" y="184.6" width="0.3" height="35" fill="#c0cadc" opacity="0.57"/><rect x="224.9" y="219.6" width="0.3" height="35.6" fill="#a8bccc" opacity="0.76"/><rect x="135.8" y="184.6" width="89.4" height="0.5" fill="#ffffff" opacity="0.17"/><rect x="135.8" y="186.19" width="89.4" height="0.5" fill="#b08aa8" opacity="0.3"/><rect x="135.8" y="187.67" width="89.4" height="0.5" fill="#b08aa8" opacity="0.31"/><rect x="135.8" y="188.83" width="89.4" height="0.5" fill="#7a88b0" opacity="0.27"/><rect x="135.8" y="190.08" width="89.4" height="0.5" fill="#e8eef4" opacity="0.28"/><rect x="135.8" y="190.99" width="89.4" height="0.5" fill="#ffffff" opacity="0.38"/><rect x="135.8" y="192.04" width="89.4" height="0.5" fill="#e8eef4" opacity="0.37"/><rect x="135.8" y="193.64" width="89.4" height="0.5" fill="#ffffff" opacity="0.18"/><rect x="135.8" y="194.69" width="89.4" height="0.5" fill="#ffffff" opacity="0.34"/><rect x="135.8" y="195.7" width="89.4" height="0.5" fill="#e8eef4" opacity="0.23"/><rect x="135.8" y="196.6" width="89.4" height="0.5" fill="#ffffff" opacity="0.27"/><rect x="135.8" y="197.96" width="89.4" height="0.5" fill="#e8eef4" opacity="0.39"/><rect x="135.8" y="199.29" width="89.4" height="0.5" fill="#7a88b0" opacity="0.17"/><rect x="135.8" y="200.65" width="89.4" height="0.5" fill="#ffffff" opacity="0.33"/><rect x="135.8" y="202.09" width="89.4" height="0.5" fill="#7a88b0" opacity="0.37"/><rect x="135.8" y="202.95" width="89.4" height="0.5" fill="#7a88b0" opacity="0.24"/><rect x="135.8" y="204.36" width="89.4" height="0.5" fill="#ffffff" opacity="0.37"/><rect x="135.8" y="205.68" width="89.4" height="0.5" fill="#b08aa8" opacity="0.29"/><rect x="135.8" y="206.84" width="89.4" height="0.5" fill="#9ab0c0" opacity="0.31"/><rect x="135.8" y="208.4" width="89.4" height="0.5" fill="#9ab0c0" opacity="0.16"/><rect x="135.8" y="209.54" width="89.4" height="0.5" fill="#ffffff" opacity="0.35"/><rect x="135.8" y="210.65" width="89.4" height="0.5" fill="#b08aa8" opacity="0.23"/><rect x="135.8" y="211.69" width="89.4" height="0.5" fill="#b08aa8" opacity="0.22"/><rect x="135.8" y="213.04" width="89.4" height="0.5" fill="#7a88b0" opacity="0.16"/><rect x="135.8" y="214.27" width="89.4" height="0.5" fill="#9ab0c0" opacity="0.29"/><rect x="135.8" y="215.09" width="89.4" height="0.5" fill="#ffffff" opacity="0.39"/><rect x="135.8" y="216.55" width="89.4" height="0.5" fill="#e8eef4" opacity="0.36"/><rect x="135.8" y="218.11" width="89.4" height="0.5" fill="#ffffff" opacity="0.15"/><rect x="135.8" y="219.33" width="89.4" height="0.5" fill="#b08aa8" opacity="0.24"/><rect x="135.8" y="220.4" width="89.4" height="0.5" fill="#ffffff" opacity="0.19"/><rect x="135.8" y="221.69" width="89.4" height="0.5" fill="#b08aa8" opacity="0.33"/><rect x="135.8" y="222.57" width="89.4" height="0.5" fill="#ffffff" opacity="0.3"/><rect x="135.8" y="223.87" width="89.4" height="0.5" fill="#b08aa8" opacity="0.26"/><rect x="135.8" y="225.43" width="89.4" height="0.5" fill="#e8eef4" opacity="0.18"/><rect x="135.8" y="226.48" width="89.4" height="0.5" fill="#b08aa8" opacity="0.27"/><rect x="135.8" y="227.63" width="89.4" height="0.5" fill="#e8eef4" opacity="0.16"/><rect x="135.8" y="228.96" width="89.4" height="0.5" fill="#b08aa8" opacity="0.28"/><rect x="135.8" y="230.54" width="89.4" height="0.5" fill="#ffffff" opacity="0.15"/><rect x="135.8" y="231.44" width="89.4" height="0.5" fill="#e8eef4" opacity="0.32"/><rect x="135.8" y="232.4" width="89.4" height="0.5" fill="#ffffff" opacity="0.16"/><rect x="135.8" y="233.67" width="89.4" height="0.5" fill="#e8eef4" opacity="0.33"/><rect x="135.8" y="234.75" width="89.4" height="0.5" fill="#e8eef4" opacity="0.2"/><rect x="135.8" y="235.77" width="89.4" height="0.5" fill="#b08aa8" opacity="0.23"/><rect x="135.8" y="236.98" width="89.4" height="0.5" fill="#b08aa8" opacity="0.24"/><rect x="135.8" y="238.43" width="89.4" height="0.5" fill="#9ab0c0" opacity="0.36"/><rect x="135.8" y="239.91" width="89.4" height="0.5" fill="#ffffff" opacity="0.27"/><rect x="135.8" y="240.99" width="89.4" height="0.5" fill="#b08aa8" opacity="0.36"/><rect x="135.8" y="242.18" width="89.4" height="0.5" fill="#ffffff" opacity="0.17"/><rect x="135.8" y="243.3" width="89.4" height="0.5" fill="#9ab0c0" opacity="0.22"/><rect x="135.8" y="244.84" width="89.4" height="0.5" fill="#7a88b0" opacity="0.27"/><rect x="135.8" y="246.01" width="89.4" height="0.5" fill="#ffffff" opacity="0.31"/><rect x="135.8" y="247.45" width="89.4" height="0.5" fill="#e8eef4" opacity="0.32"/><rect x="135.8" y="248.33" width="89.4" height="0.5" fill="#ffffff" opacity="0.3"/><rect x="135.8" y="249.28" width="89.4" height="0.5" fill="#e8eef4" opacity="0.16"/><rect x="135.8" y="250.63" width="89.4" height="0.5" fill="#ffffff" opacity="0.23"/><rect x="135.8" y="251.73" width="89.4" height="0.5" fill="#e8eef4" opacity="0.29"/><rect x="135.8" y="253.08" width="89.4" height="0.5" fill="#e8eef4" opacity="0.4"/><rect x="135.8" y="254.54" width="89.4" height="0.5" fill="#9ab0c0" opacity="0.29"/><path d="M148.8 234.6h1M215.3 244h1M189.9 227.4h1M164.5 249.4h1M186.3 241.9h1M162.6 229.9h1M138.5 224.1h1M217.9 228.1h1M144 225.4h1M199 252.3h1M169 224.2h1M204.1 237.5h1M219.1 243.1h1M149.3 238.1h1M206.1 222.1h1M186.2 229.7h1M182.6 233.6h1M136.1 239.8h1M216.9 249.2h1M199.7 241.4h1M198.3 245.1h1M162.7 238.4h1M192.5 235.3h1M216.9 226h1M173.5 249.5h1M219.4 247.6h1M155.8 221h1M183.7 242.8h1M174.6 229.6h1M164.7 248.3h1M162.9 239.3h1M197.6 239h1M213.3 238.2h1M165.9 236.2h1M210 188.1h1M150.8 197h1M194 225.7h1M200.9 211.1h1M204 233.9h1M191 243.4h1M189.3 248.5h1M197.5 199.1h1M206.1 214.1h1M200.7 199.2h1M168.2 191.7h1M219.8 236.9h1M156.1 205.7h1M159.2 242.5h1M205.5 214.5h1" stroke="#a07a98" stroke-width="1"/><path d="M137.6 246.9h1M151.6 242.8h1M196.8 254.3h1M178.6 240.8h1M201 248.5h1M168.2 248.4h1M140.3 234.7h1M159.8 245.2h1M212.7 222.8h1M216.9 233.3h1M214.8 225.3h1M194.9 224.4h1M139 234.4h1M220.9 240.9h1M218.9 221.2h1M207.8 223.1h1M202.6 233.1h1M184.3 235.5h1M184.1 245.6h1M156.4 245h1M192.9 222h1M170.2 242h1M193.4 226.2h1M180.3 253.2h1M204.6 239h1M177.1 223.7h1M154.3 238h1M169.6 242.2h1M192.1 229h1M175.2 228.2h1M158.6 236.2h1M136 252.9h1M169.9 230.1h1M193 249.3h1M168.9 225.7h1M152.6 198.4h1M168.5 191.3h1M215.1 233.2h1M147.5 247.9h1M152.8 222.3h1M189.7 222.6h1M142.1 222.6h1M143.6 209h1" stroke="#7a6a8a" stroke-width="1"/><path d="M161 222.8h1M218.1 228.3h1M206.4 247.8h1M203.7 227.9h1M148 238.2h1M210.3 236.7h1M135.9 243.5h1M191.2 253.7h1M214.7 254.5h1M221 224.7h1M179.7 253.6h1M192.7 246.8h1M167.3 248.3h1M208.3 225h1M153 248.1h1M192.1 221.4h1M148.1 232.7h1M221.3 225h1M156.8 243.2h1M162.5 225.9h1M176 222.2h1M178.7 225.1h1M185.5 220.4h1M197.3 241.4h1M186.9 238.8h1M143.6 232.4h1M175.4 240h1M159.2 242h1M220.5 224.2h1M210.6 240.4h1M144.6 250h1M172.2 250.4h1M141.7 222.5h1M171.8 236.2h1M164.4 232.7h1M146 238.8h1M176 248.7h1M171.6 244.8h1M147.7 227.2h1M193.8 237.9h1M164.8 233.2h1M149.9 219.6h1M156.9 243h1M184.6 241.3h1M214.8 222.1h1M148.9 189.1h1M178 221.5h1M223.5 199.2h1M170.8 187.4h1M170.5 239h1M158 232.7h1M149.1 185.6h1M170.6 224.1h1M151.2 209.6h1M163.2 232.4h1M217.9 247.2h1M160.5 216.5h1M209.5 226.3h1M218.3 205.5h1M138.9 252.5h1M182.4 220.9h1M218.6 193.8h1" stroke="#5a6484" stroke-width="1"/><path d="M204.4 241.4h1M222.2 239h1M221.7 243.5h1M216.4 241.5h1M215.3 225.9h1M200.3 234.6h1M214.6 231.6h1M185 239.7h1M200.4 222.2h1M164 249.7h1M203.2 240.1h1M154.1 233.1h1M157.6 252.9h1M169.7 230.2h1M219.4 222.3h1M159.8 223.4h1M174.1 226.4h1M211.6 228.6h1M137.7 239.7h1M188.8 249.3h1M180.8 221.9h1M173.2 245.3h1M203 222.8h1M153.2 220.7h1M143.8 224h1M169 232.9h1M136.5 246.9h1M204.6 239.5h1M218.8 253.1h1M162.3 239.3h1M148 232.3h1M198 240.7h1M138.1 234.4h1M144 222.4h1M181.5 251.5h1M163.7 241.4h1M148.7 229.4h1M185 243.2h1M193.8 243.2h1M142.1 230.8h1M201.7 229h1M150.7 223.2h1M187 236.8h1M147.6 234.7h1M173.1 243.6h1M183.6 218.8h1M176.4 215.7h1M153.9 230.6h1M162.4 236h1M172 186.9h1M203.4 245.9h1M214 234.9h1M151.9 223.1h1M200.2 246.9h1M199.9 210.9h1M144.2 236.1h1M139.4 220.9h1M155 206.3h1M150 228.8h1M210.7 224.9h1M172.4 198.8h1" stroke="#4e5a78" stroke-width="1"/><path d="M163 252.4h1M202.6 243.4h1M143.9 224.3h1M214.4 227.5h1M152.7 240.8h1M179.3 252.7h1M137.2 248.3h1M202.3 226.9h1M186.8 230.4h1M177.6 223.1h1M173.2 253.9h1M155 234.8h1M177.3 222.8h1M156.9 244.2h1M175.7 242.9h1M146.2 250.9h1M221.5 229.3h1M159 249h1M148 221.9h1M199.7 222.5h1M146.5 246.4h1M176 230.5h1M169.5 242.9h1M184.7 228.8h1M161.8 223.9h1M165.6 223.7h1M192.2 245.3h1M163.4 230.3h1M206.8 236.9h1M187.2 228.9h1M146.6 246.7h1M160.8 231.7h1M168.6 247h1M135.9 251h1M221.2 214.2h1M182.3 199.2h1M174.2 242h1M177.1 242.9h1M159.3 225h1M143.2 230.8h1M221.7 221.2h1M167.4 192.4h1M144.5 245.3h1M188.5 247.2h1M174.7 246.4h1" stroke="#e8eef4" stroke-width="1"/><rect x="176.5" y="184.6" width="2.0" height="70.6" fill="#8a6480" opacity="0.45"/><rect x="188" y="184.6" width="1.0" height="35" fill="#8a6480" opacity="0.3"/></g>
<text x="180.5" y="264.7" text-anchor="middle">Latent space</text>
<line x1="181" y1="168.3" x2="181" y2="153.98" stroke="#222" stroke-width="0.7"/>
<polygon points="181,150.3 179.5,154.9 181,154.21 182.5,154.9" fill="#222"/>
<text x="147" y="52.2">K nearest neighbors (<tspan font-style="italic">k</tspan> = 100)</text>
<line x1="148.3" y1="57.9" x2="252" y2="57.9" stroke="#222" stroke-width="0.9"/>
<polygon points="258.4,57.9 250.2,55.9 251.43,57.9 250.2,59.9" fill="#222"/>
<line x1="148.3" y1="57.5" x2="148.3" y2="132" stroke="#222" stroke-width="0.9"/>
<polygon points="148.3,139.2 146.1,131 148.3,132.23 150.5,131" fill="#222"/>
<text x="133.2" y="94.2" text-anchor="middle" transform="rotate(-90 133.2 94.2)">Per cell</text>
<circle cx="141.5" cy="66.3" r="2.6" fill="#fff" stroke="#a8a8a8" stroke-width="0.6"/>
<circle cx="156" cy="66.3" r="2.85" fill="#c9c9cf"/>
<circle cx="161.8" cy="66.3" r="2.85" fill="#a4502e"/>
<circle cx="167.6" cy="66.3" r="2.85" fill="#4b5472"/>
<circle cx="173.4" cy="66.3" r="2.85" fill="#a4502e"/>
<circle cx="179.2" cy="66.3" r="2.85" fill="#d8d8dc"/>
<circle cx="185" cy="66.3" r="2.85" fill="#4b5472"/>
<circle cx="190.8" cy="66.3" r="2.85" fill="#a4502e"/>
<circle cx="196.6" cy="66.3" r="2.85" fill="#d4ad9b" opacity="0.85"/>
<circle cx="202.4" cy="66.3" r="2.85" fill="#e4d8d2" opacity="0.6"/>
<circle cx="208.2" cy="66.3" r="2.85" fill="#e4d8d2" opacity="0.25"/>
<circle cx="141.5" cy="83.3" r="2.6" fill="#fff" stroke="#a8a8a8" stroke-width="0.6"/>
<circle cx="156" cy="83.3" r="2.85" fill="#4fa3cf"/>
<circle cx="161.8" cy="83.3" r="2.85" fill="#4fa3cf"/>
<circle cx="167.6" cy="83.3" r="2.85" fill="#4fa3cf"/>
<circle cx="173.4" cy="83.3" r="2.85" fill="#4fa3cf"/>
<circle cx="179.2" cy="83.3" r="2.85" fill="#c9c9cf"/>
<circle cx="185" cy="83.3" r="2.85" fill="#4b5472"/>
<circle cx="190.8" cy="83.3" r="2.85" fill="#c9c9cf"/>
<circle cx="196.6" cy="83.3" r="2.85" fill="#a9cfe6" opacity="0.85"/>
<circle cx="202.4" cy="83.3" r="2.85" fill="#d4ad9b" opacity="0.6"/>
<circle cx="208.2" cy="83.3" r="2.85" fill="#dfe8f0" opacity="0.25"/>
<circle cx="141.5" cy="100.5" r="2.6" fill="#fff" stroke="#a8a8a8" stroke-width="0.6"/>
<circle cx="156" cy="100.5" r="2.85" fill="#a4502e"/>
<circle cx="161.8" cy="100.5" r="2.85" fill="#4b5472"/>
<circle cx="167.6" cy="100.5" r="2.85" fill="#4b5472"/>
<circle cx="173.4" cy="100.5" r="2.85" fill="#4fa3cf"/>
<circle cx="179.2" cy="100.5" r="2.85" fill="#a4502e"/>
<circle cx="185" cy="100.5" r="2.85" fill="#a4502e"/>
<circle cx="190.8" cy="100.5" r="2.85" fill="#a4502e"/>
<circle cx="196.6" cy="100.5" r="2.85" fill="#d4ad9b" opacity="0.85"/>
<circle cx="202.4" cy="100.5" r="2.85" fill="#c9c9cf" opacity="0.6"/>
<circle cx="208.2" cy="100.5" r="2.85" fill="#e4d8d2" opacity="0.25"/>
<circle cx="141.5" cy="117.9" r="2.6" fill="#fff" stroke="#a8a8a8" stroke-width="0.6"/>
<circle cx="156" cy="117.9" r="2.85" fill="#4fa3cf"/>
<circle cx="161.8" cy="117.9" r="2.85" fill="#a4502e"/>
<circle cx="167.6" cy="117.9" r="2.85" fill="#4b5472"/>
<circle cx="173.4" cy="117.9" r="2.85" fill="#a4502e"/>
<circle cx="179.2" cy="117.9" r="2.85" fill="#a4502e"/>
<circle cx="185" cy="117.9" r="2.85" fill="#4b5472"/>
<circle cx="190.8" cy="117.9" r="2.85" fill="#4b5472"/>
<circle cx="196.6" cy="117.9" r="2.85" fill="#d4ad9b" opacity="0.85"/>
<circle cx="202.4" cy="117.9" r="2.85" fill="#d4ad9b" opacity="0.6"/>
<circle cx="208.2" cy="117.9" r="2.85" fill="#e4d8d2" opacity="0.25"/>
<circle cx="141.5" cy="135.2" r="2.6" fill="#fff" stroke="#a8a8a8" stroke-width="0.6"/>
<circle cx="156" cy="135.2" r="2.85" fill="#c9c9cf"/>
<circle cx="161.8" cy="135.2" r="2.85" fill="#a4502e"/>
<circle cx="167.6" cy="135.2" r="2.85" fill="#c9c9cf"/>
<circle cx="173.4" cy="135.2" r="2.85" fill="#c9c9cf"/>
<circle cx="179.2" cy="135.2" r="2.85" fill="#c9c9cf"/>
<circle cx="185" cy="135.2" r="2.85" fill="#4b5472"/>
<circle cx="190.8" cy="135.2" r="2.85" fill="#c9c9cf"/>
<circle cx="196.6" cy="135.2" r="2.85" fill="#e4d8d2" opacity="0.85"/>
<circle cx="202.4" cy="135.2" r="2.85" fill="#e4d8d2" opacity="0.6"/>
<circle cx="208.2" cy="135.2" r="2.85" fill="#e4d8d2" opacity="0.25"/>
<rect x="240.5" y="68.8" width="1.4" height="2.5" fill="#4b5472"/>
<rect x="253.9" y="63.8" width="1.4" height="7.5" fill="#b0452a"/>
<line x1="238.3" y1="62.7" x2="238.3" y2="71.3" stroke="#333" stroke-width="0.6"/>
<line x1="238.3" y1="71.3" x2="259.4" y2="71.3" stroke="#333" stroke-width="0.6"/>
<line x1="239.5" y1="67.5" x2="259.4" y2="67.5" stroke="#e05a5a" stroke-width="0.5" stroke-dasharray="1.3 1.2"/>
<rect x="240.5" y="87.1" width="1.4" height="1.2" fill="#4b5472"/>
<rect x="248.6" y="81.8" width="1.4" height="6.5" fill="#4fa3cf"/>
<rect x="253.9" y="87.3" width="1.4" height="1" fill="#b0452a"/>
<line x1="238.3" y1="79.7" x2="238.3" y2="88.3" stroke="#333" stroke-width="0.6"/>
<line x1="238.3" y1="88.3" x2="259.4" y2="88.3" stroke="#333" stroke-width="0.6"/>
<line x1="239.5" y1="84.5" x2="259.4" y2="84.5" stroke="#e05a5a" stroke-width="0.5" stroke-dasharray="1.3 1.2"/>
<rect x="240.5" y="101" width="1.4" height="4.5" fill="#4b5472"/>
<rect x="253.9" y="100" width="1.4" height="5.5" fill="#b0452a"/>
<line x1="238.3" y1="96.9" x2="238.3" y2="105.5" stroke="#333" stroke-width="0.6"/>
<line x1="238.3" y1="105.5" x2="259.4" y2="105.5" stroke="#333" stroke-width="0.6"/>
<line x1="239.5" y1="101.7" x2="259.4" y2="101.7" stroke="#e05a5a" stroke-width="0.5" stroke-dasharray="1.3 1.2"/>
<rect x="239.9" y="115.4" width="1.4" height="7.5" fill="#4b5472"/>
<rect x="253.9" y="115.4" width="1.4" height="7.5" fill="#b0452a"/>
<line x1="238.3" y1="114.3" x2="238.3" y2="122.9" stroke="#333" stroke-width="0.6"/>
<line x1="238.3" y1="122.9" x2="259.4" y2="122.9" stroke="#333" stroke-width="0.6"/>
<line x1="239.5" y1="119.1" x2="259.4" y2="119.1" stroke="#e05a5a" stroke-width="0.5" stroke-dasharray="1.3 1.2"/>
<rect x="240.5" y="139" width="1.4" height="1.2" fill="#4b5472"/>
<rect x="253.9" y="139.2" width="1.4" height="1" fill="#b0452a"/>
<line x1="238.3" y1="131.6" x2="238.3" y2="140.2" stroke="#333" stroke-width="0.6"/>
<line x1="238.3" y1="140.2" x2="259.4" y2="140.2" stroke="#333" stroke-width="0.6"/>
<line x1="239.5" y1="136.4" x2="259.4" y2="136.4" stroke="#e05a5a" stroke-width="0.5" stroke-dasharray="1.3 1.2"/>
<text x="233.3" y="97.7" text-anchor="middle" transform="rotate(-90 233.3 97.7)">Enrichment</text>
<text x="246" y="152.4" text-anchor="middle">Classes</text>
<line x1="278" y1="97.7" x2="289.62" y2="97.7" stroke="#222" stroke-width="0.7"/>
<polygon points="293.3,97.7 288.7,96.2 289.39,97.7 288.7,99.2" fill="#222"/>
<text x="294.5" y="53.8">Enrichment projected on t-SNE</text>
<text x="404.2" y="69.4" text-anchor="middle">High</text>
<rect x="400.2" y="73.7" width="7.5" height="31.8" fill="url(#gHL)"/>
<text x="404.5" y="115.2" text-anchor="middle">Low</text>
<text x="424.2" y="90.6" text-anchor="middle" transform="rotate(-90 424.2 90.6)">−Log<tspan font-size="6" dy="1.5">10</tspan><tspan dy="-1.5">(</tspan><tspan font-style="italic">P</tspan><tspan font-size="6" dy="1.5">adjust</tspan><tspan dy="-1.5">)</tspan></text>
<line x1="229.6" y1="219.5" x2="240.12" y2="219.5" stroke="#222" stroke-width="0.7"/>
<polygon points="243.8,219.5 239.2,218 239.89,219.5 239.2,221" fill="#222"/>
<text x="258.5" y="183.1">KNN (<tspan font-style="italic">k</tspan> = 1)</text>
<line x1="268.4" y1="187.2" x2="287" y2="187.2" stroke="#222" stroke-width="0.9"/>
<polygon points="293,187.2 285.8,185.5 286.88,187.2 285.8,188.9" fill="#222"/>
<line x1="268.4" y1="187.2" x2="268.4" y2="242" stroke="#222" stroke-width="0.9"/>
<polygon points="268.4,248 266.4,240.8 268.4,241.88 270.4,240.8" fill="#222"/>
<text x="253.6" y="213.7" text-anchor="middle" transform="rotate(-90 253.6 213.7)">Per cell</text>
<circle cx="262" cy="193.4" r="2.6" fill="#fff" stroke="#a8a8a8" stroke-width="0.6"/>
<circle cx="278.1" cy="193.4" r="2.9" fill="#c8c6c6"/>
<circle cx="262" cy="200.2" r="2.6" fill="#fff" stroke="#a8a8a8" stroke-width="0.6"/>
<circle cx="278.1" cy="200.2" r="2.9" fill="#195f7a"/>
<circle cx="262" cy="207" r="2.6" fill="#fff" stroke="#a8a8a8" stroke-width="0.6"/>
<circle cx="278.1" cy="207" r="2.9" fill="#195f7a"/>
<circle cx="262" cy="213.8" r="2.6" fill="#fff" stroke="#a8a8a8" stroke-width="0.6"/>
<circle cx="278.1" cy="213.8" r="2.9" fill="#195f7a"/>
<circle cx="262" cy="220.6" r="2.6" fill="#fff" stroke="#a8a8a8" stroke-width="0.6"/>
<circle cx="278.1" cy="220.6" r="2.9" fill="#c8c6c6"/>
<circle cx="262" cy="227.4" r="2.6" fill="#fff" stroke="#a8a8a8" stroke-width="0.6"/>
<circle cx="278.1" cy="227.4" r="2.9" fill="#cbc4c8"/>
<circle cx="262" cy="234.2" r="2.6" fill="#fff" stroke="#a8a8a8" stroke-width="0.6"/>
<circle cx="278.1" cy="234.2" r="2.9" fill="#195f7a"/>
<line x1="286" y1="221.8" x2="296.52" y2="221.8" stroke="#222" stroke-width="0.7"/>
<polygon points="300.2,221.8 295.6,220.3 296.29,221.8 295.6,223.3" fill="#222"/>
<circle cx="312.3" cy="180.7" r="2.6" fill="#fff" stroke="#999" stroke-width="0.6"/>
<circle cx="312.3" cy="190" r="2.8" fill="#195f7a"/>
<circle cx="312.3" cy="199.5" r="2.7" fill="#c6c6c6"/>
<text x="317.4" y="183.1">Sample 1</text>
<text x="317.4" y="192.6">Sample 2</text>
<text x="317.4" y="202.2">Others</text>
<text x="315.8" y="225.8" text-anchor="middle" transform="rotate(-90 315.8 225.8)">Log<tspan font-size="6" dy="1.5">2</tspan><tspan dy="-1.5">(fc)</tspan></text>
<line x1="323.5" y1="211.5" x2="323.5" y2="233.8" stroke="#333" stroke-width="0.6"/>
<line x1="323.5" y1="233.8" x2="348.5" y2="233.8" stroke="#333" stroke-width="0.6"/>
<line x1="325" y1="223.3" x2="348.5" y2="223.3" stroke="#e05a5a" stroke-width="0.5" stroke-dasharray="1.2 1.4"/>
<rect x="329" y="222.4" width="2.8" height="5.6" fill="#c8c8c8"/>
<rect x="338.3" y="212.6" width="2.9" height="10.9" fill="#195f7a"/>
<text x="336.9" y="244.4" text-anchor="middle">Sample</text>
<text x="300" y="263.9" text-anchor="middle">DMS</text>
<line x1="351" y1="221.4" x2="361.12" y2="221.4" stroke="#222" stroke-width="0.7"/>
<polygon points="364.8,221.4 360.2,219.9 360.89,221.4 360.2,222.9" fill="#222"/>
<rect x="372.2" y="195" width="62.4" height="47.1" fill="#f9eef2"/>
<rect x="372.2" y="195" width="12.6" height="12.1" fill="#5d95cc"/><rect x="384.8" y="207.1" width="2.7" height="1.4" fill="#8ab8e0"/><rect x="387.5" y="208.5" width="6.7" height="5.1" fill="#3f7cbc"/><rect x="394.2" y="213.6" width="8.1" height="6" fill="#3a74b5"/><rect x="405.5" y="220.6" width="11.6" height="9.9" fill="#6ca2d6"/><rect x="418" y="230.5" width="7.2" height="5.5" fill="#2f66a8"/><rect x="426" y="236" width="8.6" height="6.1" fill="#3a70b0"/><path d="M377.6 199.7h1M383.3 200.2h1M383 197.8h1M375.5 204.6h1M383.5 195.5h1M378.1 201.9h1M372.8 201.7h1M373.6 203.4h1M397.8 217.7h1M398.3 214.4h1M401.1 217h1M405.8 229.6h1M418.4 232h1M422.3 231.1h1" stroke="#cfe3f4" stroke-width="1"/><path d="M374.4 203.1h1M374.1 201.2h1M392.5 209.5h1M396.1 218.3h1M394.9 218h1M399 215h1M410.3 228.2h1M412 229.8h1M408.5 225.4h1M407 221.9h1M411.8 228.3h1M409.2 229.4h1M406.4 226h1M423.5 233.6h1M426.2 240.5h1" stroke="#1f4f8f" stroke-width="1"/><path d="M378.1 205.6h1M376.1 206h1M375 196.7h1M381.3 199.8h1M380.7 200.2h1M373.8 198.2h1M382.7 197.8h1M382.6 197h1M377.1 200h1M380.4 197.1h1M380.9 203.8h1M392.4 211.2h1M390.1 210.7h1M389.7 211.6h1M398.7 214.6h1M408.3 222.6h1M412 221.2h1M411.2 222.7h1M407.2 228.2h1M411.2 229.6h1M411.3 225.8h1M418.4 235.1h1M432.7 236.7h1M430.5 236.9h1M430.7 237.4h1" stroke="#ffffff" stroke-width="1"/><path d="M380.7 197.4h1M381.2 205.7h1M380.5 195.6h1M372.8 199.7h1M390 209.9h1M394.4 218.1h1M412.9 221.7h1M407 226.2h1M413.8 229h1M407.7 225.4h1M411.7 226.4h1M418.7 234.2h1M423.5 232.1h1M430.7 240h1M426.2 239.7h1M426.7 238.2h1M433.3 239.6h1" stroke="#9cc4e8" stroke-width="1"/>
<polyline points="378,195 378,192.5 392,192.5 392,195" fill="none" stroke="#444" stroke-width="0.5"/>
<polyline points="385,192.5 385,191.5 412,191.5 412,192.8" fill="none" stroke="#444" stroke-width="0.5"/>
<polyline points="400,195 400,192.8 425,192.8 425,195" fill="none" stroke="#444" stroke-width="0.5"/>
<polyline points="412,192.8 430,192.8 430,195" fill="none" stroke="#444" stroke-width="0.5"/>
<text x="401.6" y="265.1" text-anchor="middle">Clustering</text>
<g transform="translate(292.4 -344.1) scale(0.74)"><use href="#tU" fill="#cfcfcf"/><use href="#tT" fill="#cfcfcf"/><use href="#tO1" fill="#cfcfcf"/><use href="#tS" fill="#fff"/><use href="#tO2" fill="#cfcfcf" stroke="#fff" stroke-width="1"/><use href="#tL" fill="#cfcfcf" stroke="#fff" stroke-width="1.6"/><g clip-path="url(#tclip)"><g><path d="M62.4 632.4h0M60 642.9h0M82.9 647.8h0M91.7 585.6h0" stroke="#b9b9b9" stroke-width="2" stroke-linecap="round"/><path d="M76.2 635.7h0M44.2 621.5h0M115.4 598.6h0M62.3 621.9h0M63.4 643.6h0M103.8 600.7h0M46.2 581.4h0M38.2 602.6h0M77.7 621.4h0M96 601.4h0M82.4 648h0M117.6 598.3h0M71.8 591.6h0M42.4 609.4h0M83 595h0M28.7 616h0M61.3 654.6h0M52 567h0M117.2 604.2h0M76.6 571.1h0" stroke="#b9b9b9" stroke-width="1" stroke-linecap="round"/><path d="M37.5 614.6h0M65.5 567.1h0M54 620.8h0M63.2 648.5h0M47.6 588.9h0M71.1 585.9h0M38.1 626.2h0M72 587h0M77.2 559.4h0M66.9 607.9h0M55.2 579h0M46.4 591.2h0M101.8 615.3h0M82.5 587.9h0M95.8 621.3h0M31.4 600h0M99.5 612.9h0M43.6 581.1h0M71 613.7h0M92.5 591.3h0M92.8 612.9h0M96.7 576.5h0M33.5 628h0M86.5 627.7h0M52.1 606h0M37.4 614.3h0M43.2 591.7h0M110.4 595.5h0M117.7 595.4h0M76.8 612.8h0M50.7 574.8h0M33.3 615h0" stroke="#d9d9d9" stroke-width="1.5" stroke-linecap="round"/><path d="M45.3 620.5h0M60.6 665.2h0M29.9 623.7h0M49.4 574.5h0M110.4 604.5h0M69.4 593.3h0M68.3 566.7h0M93 573.8h0M77.1 644.8h0M55.1 623h0M73.9 632.2h0M49.8 551.8h0M95 622.5h0M64.5 615h0M68.2 569.3h0M48.8 558.5h0M102.5 617.3h0M116 602.5h0M41.5 623.1h0M64.8 668.6h0M99.3 603h0M82.6 584.4h0M58.2 653.7h0M76.8 658.4h0" stroke="#c0c0c0" stroke-width="1" stroke-linecap="round"/><path d="M101.4 595.4h0M100.8 587h0M50.7 584.4h0M28.9 587.8h0M43.9 576.5h0M31.6 623.9h0M72.7 629.9h0M71.1 587.2h0M26.8 597.8h0M78.9 627.7h0M48.4 576.9h0M38.4 618.4h0M62.3 620.6h0M78.6 568.3h0M44.7 588.4h0M71.4 583.4h0M95.3 610.7h0M70.2 661.7h0M58.8 661.7h0M29 606.3h0M65.1 572.4h0" stroke="#b9b9b9" stroke-width="1.5" stroke-linecap="round"/><path d="M95 573.5h0M60.4 623.8h0M78 617.3h0M61.9 631.6h0M92.8 623.6h0M55.8 580.2h0M70 559.8h0M98.6 609.2h0M49.5 583.1h0M78.2 603.8h0M72.4 628.7h0M62.8 584.9h0M90.5 619.6h0M77 663.1h0M114 588.3h0M60.3 664.5h0M70.2 623.8h0M73.8 636.9h0M55.7 648.4h0M82.5 574.9h0M79.1 561.1h0M118.4 599.2h0M28.6 599.7h0M81.7 638.1h0" stroke="#c0c0c0" stroke-width="1.5" stroke-linecap="round"/><path d="M71 581.9h0M68.4 646.4h0M98.7 580.8h0M25.4 595.3h0M75.1 636.4h0M103.7 589.4h0M48.4 609.3h0M95.1 604.4h0M54.4 630.1h0M62 658.1h0M69.4 636.3h0M115.7 584.1h0M88 622.5h0M37.3 595.5h0M82.8 597.7h0M103.3 580.1h0M74.2 621.9h0M80.2 561.9h0M91.4 611.6h0M70.6 555.9h0M75.8 556.5h0M49.6 585.8h0M90.2 579h0M61.4 607.1h0M53.9 612.4h0" stroke="#d9d9d9" stroke-width="1" stroke-linecap="round"/><path d="M62.7 627.9h0M101.6 623.1h0M64.2 659.9h0M51.2 593.1h0M101.2 595.7h0" stroke="#d9d9d9" stroke-width="2" stroke-linecap="round"/><path d="M69.2 590.6h0M103.9 594.6h0M66.3 669.4h0M61.5 602.3h0M81.4 584.4h0" stroke="#c0c0c0" stroke-width="2" stroke-linecap="round"/></g><path d="M31 573 L55 574 L58 581 L57 592 L46 592 L40 600 L33 588 Z" fill="#dc3a52" opacity="0.9"/><path d="M86 571 L101 569 L106 576 L107 600 L106 615 L102 626 L92 628 L86 622 L83 608 L86 596 Z" fill="#dc3a52" opacity="0.78"/><g><path d="M85.8 581h0M96.3 575.3h0M102 589.2h0M94.3 620.6h0M102.5 596.3h0M104.7 614.1h0M103.2 580.7h0M91.5 573.1h0M99.6 612.2h0M101.2 574.4h0M89 581.4h0" stroke="#e38a98" stroke-width="2" stroke-linecap="round"/><path d="M89.5 569.1h0M100.2 573.3h0M106.2 579.1h0M94.2 595.9h0M103.1 583.5h0M88.2 582.2h0M99.7 622.4h0M91 595.7h0M100.1 613.6h0M97.5 618.5h0M92.9 600.9h0M95.8 614.1h0M85.8 610.1h0M106 594.7h0" stroke="#f2b9c2" stroke-width="1" stroke-linecap="round"/><path d="M95.7 620.6h0M87 591.2h0M98.2 589.5h0M106 611.8h0M94.1 610.3h0M84.2 606.5h0M106.5 586h0M97.3 575.3h0M87.9 611.8h0M105.6 577.4h0" stroke="#c8c8c8" stroke-width="1.5" stroke-linecap="round"/><path d="M84 615.1h0M84.8 600.7h0M85.6 597.6h0M90 602.3h0M98.2 600.6h0M91.3 628.4h0M86.6 587.6h0M99.7 607.8h0M94.9 607.6h0M90.2 577.3h0M96.1 625h0M93.4 574h0M99.4 596.7h0M99.4 571.5h0M97.9 591.9h0M102.1 581.2h0M98.2 623.6h0M98.1 579.6h0M84.3 580.3h0M91.8 576.9h0M93.6 569.5h0M87.6 600.4h0" stroke="#d2d2d2" stroke-width="1.5" stroke-linecap="round"/><path d="M95.2 616.2h0M92.7 613.1h0M84.6 627.4h0M97.3 585.2h0M101.5 588h0M86.1 580.7h0M94 588.2h0M84.5 616.9h0M87.3 583.3h0M94.5 615.8h0M99.8 581.9h0M99.4 613.7h0M105.3 615.4h0M97.7 572.5h0M89.8 601.9h0M89.5 610.4h0" stroke="#d2d2d2" stroke-width="2" stroke-linecap="round"/><path d="M105.9 580.3h0M88.5 569.9h0M103.9 614.9h0M93 581.4h0M98 603.3h0M87.2 602.5h0M90.8 610.8h0M98.5 612.9h0M93.2 610.7h0M95.3 617.8h0M98.1 576.9h0" stroke="#f2b9c2" stroke-width="1.5" stroke-linecap="round"/><path d="M93.9 625.6h0M99.2 620.5h0M96.1 588.2h0M99.9 584.1h0M97.8 580.1h0M92.4 608.2h0M94.2 583.7h0M92 574.2h0M102.6 578.8h0M86.8 588.3h0M94.1 609.3h0M102.4 609.9h0M101.2 609.9h0M95.5 577.8h0M88.1 575.5h0" stroke="#e38a98" stroke-width="1.5" stroke-linecap="round"/><path d="M94.8 613.4h0M101.5 570.3h0M86.3 592.6h0M95.9 569.8h0" stroke="#c8c8c8" stroke-width="1" stroke-linecap="round"/><path d="M102.7 614h0M89.3 582.9h0M88.5 610.7h0M97.8 609.5h0M103.3 585.4h0M99.8 575.3h0M96.2 577.8h0M106.3 590h0M89.2 588.7h0M88 581.3h0M88 626.8h0M87.5 584.2h0M90.8 612.7h0" stroke="#f2b9c2" stroke-width="2" stroke-linecap="round"/><path d="M97.5 582h0M99.7 589.7h0M106.6 606.6h0M100.2 622.3h0M104.8 618.3h0M100.7 601.6h0M98.4 617.9h0M86.5 570.8h0M100.8 586.1h0" stroke="#e38a98" stroke-width="1" stroke-linecap="round"/><path d="M85.9 587.6h0M85.9 623.1h0M89.9 612.4h0" stroke="#d2d2d2" stroke-width="2.5" stroke-linecap="round"/><path d="M91 625.3h0M96.9 569.3h0M84.1 595.7h0M103.2 602.6h0M94.6 572.7h0M89.3 579h0M102.5 591.5h0M104 609.8h0M88.8 606.1h0M104.6 573.6h0M96.7 588.4h0" stroke="#d2d2d2" stroke-width="1" stroke-linecap="round"/><path d="M97.1 603h0M93.4 602.2h0M97.7 604.3h0M92.3 594.4h0" stroke="#c8c8c8" stroke-width="2.5" stroke-linecap="round"/><path d="M88.3 607.6h0M106.2 581.1h0M106.8 597.8h0M95.9 586.5h0M89.8 621.8h0M84.8 611.5h0M98.2 626.2h0M94.4 629.3h0M94.6 608.1h0" stroke="#c8c8c8" stroke-width="2" stroke-linecap="round"/><path d="M89.4 602.9h0M94.3 626.5h0M88.2 619.9h0M87.2 575h0" stroke="#f2b9c2" stroke-width="2.5" stroke-linecap="round"/><path d="M88.6 612.8h0M90.9 623.5h0M104.5 611.9h0M94.7 617h0" stroke="#e38a98" stroke-width="2.5" stroke-linecap="round"/></g><g><path d="M58.2 644.5h0M28.2 625.8h0M54.8 622.5h0M59.4 632h0M49.4 635.7h0M72.5 665.1h0M31.8 616.8h0M61.9 613.5h0M58.1 614.3h0M56.5 660.1h0M50.6 629.2h0M29.8 622.7h0M66.1 652.3h0M51 651h0M76.4 636.9h0M38.7 634.1h0M71.5 657.1h0M36.6 634.4h0M74.1 646.4h0M54.1 644.2h0M37.7 624.1h0M75.6 647.7h0M46.7 604h0M56.8 653.7h0M52.4 611.4h0" stroke="#e06a7a" stroke-width="2" stroke-linecap="round"/><path d="M76.7 637.5h0M57.4 648h0M43.6 607.4h0M80.2 629.1h0M64.5 623.6h0M80.6 629.2h0M52.7 650.9h0M66.1 657.6h0M42.6 626.1h0M69.2 661.6h0M54 601.5h0M81.8 633.9h0M28.4 604.5h0M81.1 644.8h0M64.7 665.5h0M73.3 654h0M83.5 637.6h0M26.4 612.9h0M33.8 618.2h0M61.4 611.4h0M63.9 633.7h0M48.7 601.1h0M57.7 634.6h0" stroke="#dc3a52" stroke-width="2.5" stroke-linecap="round"/><path d="M78.2 666.4h0M75.5 647.7h0M56.6 631.2h0M73.5 665.4h0M67.5 644.2h0M39.5 609.8h0M35.9 630h0M24.7 603.4h0M61.9 667.3h0M65.3 625.9h0" stroke="#e06a7a" stroke-width="2.5" stroke-linecap="round"/><path d="M55.7 631.3h0M59.2 636h0M75.9 637.2h0M25.7 610.5h0M26.8 611.2h0M37.3 602.3h0M59.8 664.7h0M35.9 631.7h0M39.9 602h0M49.1 622.3h0M50 623.5h0M32.9 621.7h0M44.4 635.7h0M69.1 663.8h0M66.1 627h0M75.4 665.9h0M57.5 640.5h0M52 631.7h0M58.4 641.5h0M63.1 635.2h0M79.3 645.8h0M54.7 608.5h0M62.9 648.1h0M71.7 619.3h0M31.6 605.5h0M59.8 645.4h0M52.7 642.6h0M55.2 607.7h0M31.4 618.2h0M52.2 614.2h0M70.3 648.9h0M76.2 629.9h0" stroke="#dc3a52" stroke-width="1.5" stroke-linecap="round"/><path d="M42.7 634.9h0M42.4 627.8h0M29.8 619h0M32.5 602.8h0M68.4 661h0M61.1 623h0M39.3 621.6h0M78.3 644.1h0M68.5 664.3h0M77.7 664.1h0M77.4 625.2h0M36 617.1h0M42.6 618.3h0M55 615.5h0M50.5 622.5h0M76.2 668h0M51.9 630.7h0M50.8 636h0M38.4 624.4h0M55.2 630.7h0M46.6 605.5h0M53.4 637.1h0M40.3 607.9h0M27.7 624.3h0M51.9 642.7h0M66.2 661.4h0M62.2 627.6h0M66.5 651.7h0" stroke="#dc3a52" stroke-width="2" stroke-linecap="round"/><path d="M76.6 625.7h0M69.4 625.5h0M36.1 613.3h0M51.9 622.8h0M64.6 634.5h0M66.8 657.5h0M32.2 630.3h0M45.1 604.5h0M71 641.2h0M77.7 625.3h0M76.8 624.6h0M65.9 618h0M78.5 665.3h0M43.9 627.5h0" stroke="#dc3a52" stroke-width="1" stroke-linecap="round"/><path d="M64.6 627.4h0M58.2 606.5h0M72 625.7h0M72.6 651.6h0M51.6 606.5h0M47.7 609.5h0M58.6 649.3h0M49.9 647.3h0M83 642h0M49.6 644.5h0M50.1 630.3h0M44.7 609.2h0" stroke="#d2d2d2" stroke-width="2.5" stroke-linecap="round"/><path d="M74.5 660.8h0M81.5 641.9h0M48.1 644.4h0M50.7 619.4h0M43.9 632h0M34.1 630.1h0M69.1 667.4h0M28.5 627.4h0M30.8 617.2h0M57.1 600.9h0M54.3 639.7h0M55.1 644.8h0M66.5 653.1h0M29.6 603.6h0M78.9 641.8h0M65.5 660.5h0M35.9 609.9h0M74.8 648.9h0" stroke="#d2d2d2" stroke-width="2" stroke-linecap="round"/><path d="M53.1 648.6h0M60 640.3h0M62.7 667.3h0M50.6 614.9h0M50.1 635.3h0M31.4 602.2h0M54.7 625.1h0M72 624.7h0M69.4 634.8h0M56.9 623.9h0M44.8 635.6h0M80.4 627.7h0M52.8 656.9h0M73.9 628.5h0M51.3 640.9h0M58.8 660.6h0M63 617.6h0M53.5 613.9h0M47.5 604.6h0M32.5 601.3h0" stroke="#e06a7a" stroke-width="1.5" stroke-linecap="round"/><path d="M61.3 653.3h0M77.8 637.4h0M35.5 628.1h0M70 626.6h0M26.9 620.5h0M38.9 634.7h0M60.4 661.1h0" stroke="#d2d2d2" stroke-width="1" stroke-linecap="round"/><path d="M67.4 624.9h0M30.1 627.2h0M61 652.9h0M66.4 626.7h0M48.1 606.9h0M25.1 611.9h0M66.8 652.5h0M59.7 660h0M33.4 628.9h0M71 666h0M51.9 641.5h0M57.6 654.1h0M41.9 636.3h0M32.7 626.4h0M42.4 623.4h0M55 619.3h0M41.6 632.4h0M83.3 639.8h0M59.3 640.3h0" stroke="#d2d2d2" stroke-width="1.5" stroke-linecap="round"/><path d="M50.2 637.2h0M54.9 614.5h0M64.2 618.3h0M44.5 626.6h0M35.4 630h0M78.4 661.9h0M27.2 616.6h0M68.8 648.7h0M46.5 642.3h0M51.3 610.7h0M44.8 624.2h0M72.5 646.2h0" stroke="#e06a7a" stroke-width="1" stroke-linecap="round"/></g><g><path d="M43.2 592.6h0M45.9 586.9h0" stroke="#dc3a52" stroke-width="2.5" stroke-linecap="round"/><path d="M55.8 585.9h0M45.2 583.9h0M52.4 579.8h0M35.9 580.2h0M47 584.6h0M48.6 581.6h0M32.7 576.6h0M44.9 599.8h0M29.7 581.1h0" stroke="#dc3a52" stroke-width="1.5" stroke-linecap="round"/><path d="M35.2 577.8h0M46.1 601.1h0M53.4 604.7h0" stroke="#dc3a52" stroke-width="1" stroke-linecap="round"/><path d="M36.7 575h0M33.4 591.6h0M40.5 580.4h0M38.3 587.7h0M28.3 595.1h0M33.8 591.6h0M40.9 575.3h0M57.1 596.3h0M54.8 588.2h0M37.5 599.1h0M51.3 587h0M52.9 578.4h0" stroke="#dc3a52" stroke-width="2" stroke-linecap="round"/><path d="M47 583.8h0M31.4 580.2h0M56.7 590.6h0M29.9 584.3h0M30.5 580.6h0M37.3 583.4h0M30.2 590.5h0M55.7 603.7h0M34.3 601.4h0M25.9 604.7h0M32 599.4h0M37 584.6h0M35.1 588.7h0M44.2 593.6h0M37.4 599.8h0M49.6 594h0M54.5 576.8h0M45.4 587h0" stroke="#e06a7a" stroke-width="1.5" stroke-linecap="round"/><path d="M34.3 578.5h0M54.5 597.9h0M56.2 598.3h0M54.8 584.1h0" stroke="#e06a7a" stroke-width="2.5" stroke-linecap="round"/><path d="M40.8 578.9h0M51.1 596.1h0M53.6 593.7h0M25.6 597.9h0" stroke="#e06a7a" stroke-width="1" stroke-linecap="round"/><path d="M43.8 597.9h0M27 587h0M29.7 590.2h0M57.8 585.2h0M44.6 600.4h0M40.8 603.9h0M31.8 589.2h0M26.6 589.6h0" stroke="#e06a7a" stroke-width="2" stroke-linecap="round"/></g></g><path d="M84.6 566 L86.6 566 L86.2 582 L85.8 596 L85.4 596 L84.9 582 Z" fill="#fff" stroke="#fff" stroke-width="0.96" stroke-linejoin="round"/><path d="M33.1 574.6C35.6 572.68 38.65 572.1 42.3 572.3C45.95 572.5 52.3 574.45 55 575.8C57.7 577.15 58.07 577.7 58.5 580.4C58.93 583.1 57.8 587.97 57.6 592C57.4 596.03 56.38 600.97 57.3 604.6C58.22 608.23 60.22 611.1 63.1 613.8C65.98 616.5 71.53 618.48 74.6 620.8C77.67 623.12 79.97 625.02 81.5 627.7C83.03 630.38 83.42 633.05 83.8 636.9C84.18 640.75 84.18 646.57 83.8 650.8C83.42 655.03 82.65 659.42 81.5 662.3C80.35 665.18 79.2 666.75 76.9 668.1C74.6 669.45 70.77 670.78 67.7 670.4C64.63 670.02 60.82 667.53 58.5 665.8C56.18 664.07 54.97 662.12 53.8 660C52.63 657.88 52.27 655.4 51.5 653.1C50.73 650.8 50.73 648.13 49.2 646.2C47.67 644.27 44.6 643.05 42.3 641.5C40 639.95 37.7 639.2 35.4 636.9C33.1 634.6 30.23 631.15 28.5 627.7C26.77 624.25 25.7 620.05 25 616.2C24.3 612.35 24.3 608.45 24.3 604.6C24.3 600.75 24.5 596.57 25 593.1C25.5 589.63 25.95 586.88 27.3 583.8C28.65 580.72 30.6 576.52 33.1 574.6Z" fill="none" stroke="#fff" stroke-width="1.6"/><path d="M121.2 594.2C121.2 595.3 121.12 596.43 120.96 597.49C120.81 598.55 120.57 599.6 120.28 600.55C119.98 601.5 119.6 602.41 119.18 603.18C118.76 603.96 118.27 604.65 117.75 605.2C117.23 605.75 116.66 606.18 116.09 606.47C115.51 606.75 114.9 606.9 114.3 606.9C113.7 606.9 113.09 606.75 112.51 606.47C111.94 606.18 111.37 605.75 110.85 605.2C110.33 604.65 109.84 603.96 109.42 603.18C109 602.41 108.62 601.5 108.32 600.55C108.03 599.6 107.79 598.55 107.64 597.49C107.48 596.43 107.4 595.3 107.4 594.2C107.4 593.1 107.48 591.97 107.64 590.91C107.79 589.85 108.03 588.8 108.32 587.85C108.62 586.9 109 585.99 109.42 585.22C109.84 584.44 110.33 583.75 110.85 583.2C111.37 582.65 111.94 582.22 112.51 581.93C113.09 581.65 113.7 581.5 114.3 581.5C114.9 581.5 115.51 581.65 116.09 581.93C116.66 582.22 117.23 582.65 117.75 583.2C118.27 583.75 118.76 584.44 119.18 585.22C119.6 585.99 119.98 586.9 120.28 587.85C120.57 588.8 120.81 589.85 120.96 590.91C121.12 591.97 121.2 593.1 121.2 594.2Z" fill="none" stroke="#fff" stroke-width="1"/><path d="M61 572.3 Q72 570.3 84 572.3" fill="none" stroke="#fff" stroke-width="0.9" stroke-dasharray="1.2 1"/></g>
<circle cx="310" cy="108" r="0.7" fill="#bbb"/>
<circle cx="322" cy="100" r="0.5" fill="#bbb"/>
<text x="2.3" y="295.5" font-weight="bold" font-size="10" fill="#111">B</text>
<rect x="31.3" y="300.3" width="75" height="219.8" fill="none" stroke="#777" stroke-width="0.6" stroke-dasharray="0.9 1.1"/>
<text x="39.6" y="310.1">Cell class</text>
<rect x="39.5" y="313.2" width="7.9" height="7.7" fill="#8e64aa"/>
<text x="49.6" y="320.4">Cancer</text>
<rect x="39.5" y="323.2" width="7.9" height="7.7" fill="#a29b74"/>
<text x="49.6" y="330.3">Healthy</text>
<text x="39.6" y="343.5">Diagnosis</text>
<rect x="39.5" y="346.5" width="7.9" height="7.7" fill="#4d5470"/>
<text x="49.6" y="353.4">AML</text>
<rect x="39.5" y="355.9" width="7.9" height="7.7" fill="#45a6d8"/>
<text x="49.6" y="362.8">CLL</text>
<rect x="39.5" y="365.3" width="7.9" height="7.7" fill="#a2482a"/>
<text x="49.6" y="372.2">DLBCL</text>
<rect x="39.5" y="374.7" width="7.9" height="7.7" fill="#cdd2d8"/>
<text x="49.6" y="381.6">Others</text>
<text x="39.6" y="394.3">Cluster ID</text>
<rect x="39.5" y="397.5" width="7.9" height="7.7" fill="#fde3cf"/>
<text x="49.6" y="404">I (<tspan font-style="italic">n</tspan> = 175)</text>
<rect x="39.5" y="406.8" width="7.9" height="7.7" fill="#ef7f2b"/>
<text x="49.6" y="413.2">II (112)</text>
<rect x="39.5" y="416.1" width="7.9" height="7.7" fill="#a5321f"/>
<text x="49.6" y="422.5">III (100)</text>
<text x="39.6" y="435">DAPI (%)</text>
<rect x="39.5" y="437.7" width="7.9" height="7.7" fill="#a9cbe7"/>
<text x="49.6" y="444.4">100</text>
<rect x="39.5" y="446.9" width="7.9" height="7.7" fill="#2f71bf"/>
<text x="49.6" y="453.6">50</text>
<text x="39.6" y="466.3">Brightfield (%)</text>
<rect x="39.5" y="471.4" width="7.9" height="7.7" fill="#f2b3b5"/>
<text x="49.6" y="478.4">100</text>
<rect x="39.5" y="480.3" width="7.9" height="7.7" fill="#c9badc"/>
<text x="49.6" y="487.1">50</text>
<rect x="76.3" y="470.7" width="7.9" height="7.5" fill="#a9a9a9"/>
<text x="87.2" y="477.4">N/A</text>
<text x="39.6" y="498.6">DMS</text>
<rect x="38.8" y="501.3" width="41.2" height="8.2" fill="url(#gDMS)"/>
<text x="31.3" y="517.1" font-size="8.2">&lt;−3</text>
<text x="59.4" y="517.1" text-anchor="middle">0</text>
<text x="79.4" y="517.1" text-anchor="middle">3</text>
<polyline points="145.8,300.3 145.8,290.2 198.3,290.2 198.3,295.2" fill="none" stroke="#555" stroke-width="0.7"/>
<polyline points="185.2,300.3 185.2,295.2 211.4,295.2 211.4,300.3" fill="none" stroke="#555" stroke-width="0.7"/>
<polyline points="168.7,290.2 168.7,288.9 276,288.9 276,290.2" fill="none" stroke="#555" stroke-width="0.7"/>
<line x1="170" y1="288.9" x2="198" y2="288.9" stroke="#999" stroke-width="1.6"/>
<line x1="254" y1="288.9" x2="276" y2="288.9" stroke="#999" stroke-width="1.6"/>
<polyline points="253.4,300.3 253.4,290.2 304.6,290.2 304.6,293.8" fill="none" stroke="#555" stroke-width="0.7"/>
<polyline points="290.2,300.3 290.2,293.8 319.4,293.8 319.4,300.3" fill="none" stroke="#555" stroke-width="0.7"/>
<rect x="121.5" y="300.2" width="104.9" height="0.9" fill="#cdb8dc"/>
<rect x="121.5" y="301" width="104.9" height="10.5" fill="#8e64aa"/>
<rect x="229.8" y="300.2" width="105.2" height="0.9" fill="#d6d2bf"/>
<rect x="229.8" y="301" width="105.2" height="10.5" fill="#a29b74"/>
<rect x="121.5" y="311.5" width="1.05" height="10" fill="#6ab6dc"/><rect x="122.5" y="311.5" width="2.85" height="10" fill="#58aed6"/><rect x="125.3" y="311.5" width="1.65" height="10" fill="#b0b4bc"/><rect x="126.9" y="311.5" width="1.05" height="10" fill="#6c7288"/><rect x="127.9" y="311.5" width="0.85" height="10" fill="#8cc2e0"/><rect x="128.7" y="311.5" width="1.65" height="10" fill="#58aed6"/><rect x="130.3" y="311.5" width="1.05" height="10" fill="#878ca2"/><rect x="131.3" y="311.5" width="2.85" height="10" fill="#878ca2"/><rect x="134.1" y="311.5" width="2.25" height="10" fill="#6ab6dc"/><rect x="136.3" y="311.5" width="2.25" height="10" fill="#c6b9aa"/><rect x="138.5" y="311.5" width="2.85" height="10" fill="#a9b6c8"/><rect x="141.3" y="311.5" width="0.85" height="10" fill="#58aed6"/><rect x="142.1" y="311.5" width="0.85" height="10" fill="#b7c3d0"/><rect x="142.9" y="311.5" width="1.65" height="10" fill="#a9b6c8"/><rect x="144.5" y="311.5" width="1.65" height="10" fill="#9ea4b4"/><rect x="146.1" y="311.5" width="2.85" height="10" fill="#6c7288"/><rect x="148.9" y="311.5" width="0.85" height="10" fill="#6c7288"/><rect x="149.7" y="311.5" width="2.85" height="10" fill="#c6b9aa"/><rect x="152.5" y="311.5" width="0.85" height="10" fill="#b0b4bc"/><rect x="153.3" y="311.5" width="1.65" height="10" fill="#9ea4b4"/><rect x="154.9" y="311.5" width="2.25" height="10" fill="#a9b6c8"/><rect x="157.1" y="311.5" width="1.65" height="10" fill="#a9b6c8"/><rect x="158.7" y="311.5" width="1.65" height="10" fill="#b7c3d0"/><rect x="160.3" y="311.5" width="0.85" height="10" fill="#bdb1a4"/><rect x="161.1" y="311.5" width="0.85" height="10" fill="#b0b4bc"/><rect x="161.9" y="311.5" width="2.25" height="10" fill="#6c7288"/><rect x="164.1" y="311.5" width="2.25" height="10" fill="#b0b4bc"/><rect x="166.3" y="311.5" width="2.25" height="10" fill="#9ea4b4"/><rect x="168.5" y="311.5" width="2.85" height="10" fill="#a9b6c8"/><rect x="171.3" y="311.5" width="1.35" height="10" fill="#d2cfd0"/><rect x="172.6" y="311.5" width="1.05" height="10" fill="#c6b9aa"/><rect x="173.6" y="311.5" width="1.05" height="10" fill="#a9b6c8"/><rect x="174.6" y="311.5" width="1.05" height="10" fill="#b0b4bc"/><rect x="175.6" y="311.5" width="2.85" height="10" fill="#878ca2"/><rect x="178.4" y="311.5" width="1.05" height="10" fill="#b7c3d0"/><rect x="179.4" y="311.5" width="1.35" height="10" fill="#878ca2"/><rect x="180.7" y="311.5" width="2.85" height="10" fill="#6c7288"/><rect x="183.5" y="311.5" width="1.05" height="10" fill="#bdb1a4"/><rect x="184.5" y="311.5" width="1.65" height="10" fill="#bdb1a4"/><rect x="186.1" y="311.5" width="0.85" height="10" fill="#b7c3d0"/><rect x="186.9" y="311.5" width="1.35" height="10" fill="#b7c3d0"/><rect x="188.2" y="311.5" width="1.65" height="10" fill="#878ca2"/><rect x="189.8" y="311.5" width="0.85" height="10" fill="#9ea4b4"/><rect x="190.6" y="311.5" width="1.05" height="10" fill="#bdb1a4"/><rect x="191.6" y="311.5" width="0.85" height="10" fill="#b0b4bc"/><rect x="192.4" y="311.5" width="2.85" height="10" fill="#6c7288"/><rect x="195.2" y="311.5" width="1.35" height="10" fill="#a9b6c8"/><rect x="196.5" y="311.5" width="2.25" height="10" fill="#bdb1a4"/><rect x="198.7" y="311.5" width="2.25" height="10" fill="#bdb1a4"/><rect x="200.9" y="311.5" width="1.35" height="10" fill="#d2cfd0"/><rect x="202.2" y="311.5" width="1.05" height="10" fill="#b7c3d0"/><rect x="203.2" y="311.5" width="1.65" height="10" fill="#b7c3d0"/><rect x="204.8" y="311.5" width="1.35" height="10" fill="#6c7288"/><rect x="206.1" y="311.5" width="2.25" height="10" fill="#878ca2"/><rect x="208.3" y="311.5" width="1.05" height="10" fill="#c6b9aa"/><rect x="209.3" y="311.5" width="1.65" height="10" fill="#b7c3d0"/><rect x="210.9" y="311.5" width="2.85" height="10" fill="#9ea4b4"/><rect x="213.7" y="311.5" width="0.85" height="10" fill="#d2cfd0"/><rect x="214.5" y="311.5" width="1.05" height="10" fill="#a9b6c8"/><rect x="215.5" y="311.5" width="1.65" height="10" fill="#6c7288"/><rect x="217.1" y="311.5" width="2.25" height="10" fill="#9ea4b4"/><rect x="219.3" y="311.5" width="1.65" height="10" fill="#b0b4bc"/><rect x="220.9" y="311.5" width="0.85" height="10" fill="#b0b4bc"/><rect x="221.7" y="311.5" width="2.85" height="10" fill="#b7c3d0"/><rect x="224.5" y="311.5" width="1.65" height="10" fill="#c6b9aa"/><rect x="226.1" y="311.5" width="0.35" height="10" fill="#9ea4b4"/><rect x="229.8" y="311.5" width="2.85" height="10" fill="#7fb5d6"/><rect x="232.6" y="311.5" width="2.25" height="10" fill="#c9bcb0"/><rect x="234.8" y="311.5" width="1.05" height="10" fill="#b7c3d0"/><rect x="235.8" y="311.5" width="2.85" height="10" fill="#b7c3d0"/><rect x="238.6" y="311.5" width="2.25" height="10" fill="#9ea4b4"/><rect x="240.8" y="311.5" width="2.25" height="10" fill="#58aed6"/><rect x="243" y="311.5" width="2.25" height="10" fill="#b7c3d0"/><rect x="245.2" y="311.5" width="2.25" height="10" fill="#7fb5d6"/><rect x="247.4" y="311.5" width="2.25" height="10" fill="#a9b6c8"/><rect x="249.6" y="311.5" width="1.05" height="10" fill="#7cbcdc"/><rect x="250.6" y="311.5" width="1.05" height="10" fill="#b7c3d0"/><rect x="251.6" y="311.5" width="2.85" height="10" fill="#c9bcb0"/><rect x="254.4" y="311.5" width="0.85" height="10" fill="#7fb5d6"/><rect x="255.2" y="311.5" width="1.65" height="10" fill="#c9bcb0"/><rect x="256.8" y="311.5" width="2.85" height="10" fill="#9ea4b4"/><rect x="259.6" y="311.5" width="1.65" height="10" fill="#9ea4b4"/><rect x="261.2" y="311.5" width="1.65" height="10" fill="#58aed6"/><rect x="262.8" y="311.5" width="0.85" height="10" fill="#c9bcb0"/><rect x="263.6" y="311.5" width="1.05" height="10" fill="#a9b6c8"/><rect x="264.6" y="311.5" width="1.65" height="10" fill="#9ea4b4"/><rect x="266.2" y="311.5" width="1.05" height="10" fill="#b7c3d0"/><rect x="267.2" y="311.5" width="1.65" height="10" fill="#7fb5d6"/><rect x="268.8" y="311.5" width="0.85" height="10" fill="#d5c9c3"/><rect x="269.6" y="311.5" width="1.65" height="10" fill="#a9b6c8"/><rect x="271.2" y="311.5" width="1.05" height="10" fill="#7fb5d6"/><rect x="272.2" y="311.5" width="2.85" height="10" fill="#d5c9c3"/><rect x="275" y="311.5" width="1.05" height="10" fill="#bdb1a4"/><rect x="276" y="311.5" width="1.65" height="10" fill="#7b8098"/><rect x="277.6" y="311.5" width="2.25" height="10" fill="#b7c3d0"/><rect x="279.8" y="311.5" width="1.05" height="10" fill="#d5c9c3"/><rect x="280.8" y="311.5" width="1.65" height="10" fill="#c6b9aa"/><rect x="282.4" y="311.5" width="2.25" height="10" fill="#4e546c"/><rect x="284.6" y="311.5" width="1.35" height="10" fill="#7b8098"/><rect x="285.9" y="311.5" width="2.85" height="10" fill="#c6b9aa"/><rect x="288.7" y="311.5" width="1.05" height="10" fill="#5e647c"/><rect x="289.7" y="311.5" width="2.85" height="10" fill="#5e647c"/><rect x="292.5" y="311.5" width="1.35" height="10" fill="#b7c3d0"/><rect x="293.8" y="311.5" width="1.35" height="10" fill="#9ea4b4"/><rect x="295.1" y="311.5" width="2.85" height="10" fill="#5e647c"/><rect x="297.9" y="311.5" width="2.25" height="10" fill="#7b8098"/><rect x="300.1" y="311.5" width="1.05" height="10" fill="#bdb1a4"/><rect x="301.1" y="311.5" width="1.65" height="10" fill="#d5c9c3"/><rect x="302.7" y="311.5" width="2.85" height="10" fill="#7b8098"/><rect x="305.5" y="311.5" width="2.25" height="10" fill="#5e647c"/><rect x="307.7" y="311.5" width="1.05" height="10" fill="#a9b6c8"/><rect x="308.7" y="311.5" width="0.85" height="10" fill="#b7c3d0"/><rect x="309.5" y="311.5" width="1.65" height="10" fill="#bdb1a4"/><rect x="311.1" y="311.5" width="1.05" height="10" fill="#4e546c"/><rect x="312.1" y="311.5" width="1.05" height="10" fill="#d5c9c3"/><rect x="313.1" y="311.5" width="1.05" height="10" fill="#b7c3d0"/><rect x="314.1" y="311.5" width="1.35" height="10" fill="#7b8098"/><rect x="315.4" y="311.5" width="2.25" height="10" fill="#d5c9c3"/><rect x="317.6" y="311.5" width="1.05" height="10" fill="#4e546c"/><rect x="318.6" y="311.5" width="1.05" height="10" fill="#bdb1a4"/><rect x="319.6" y="311.5" width="0.85" height="10" fill="#c6b9aa"/><rect x="320.4" y="311.5" width="0.85" height="10" fill="#5e647c"/><rect x="321.2" y="311.5" width="1.05" height="10" fill="#4e546c"/><rect x="322.2" y="311.5" width="2.25" height="10" fill="#bdb1a4"/><rect x="324.4" y="311.5" width="1.65" height="10" fill="#a9b6c8"/><rect x="326" y="311.5" width="1.05" height="10" fill="#a9b6c8"/><rect x="327" y="311.5" width="1.35" height="10" fill="#b7c3d0"/><rect x="328.3" y="311.5" width="0.85" height="10" fill="#9ea4b4"/><rect x="329.1" y="311.5" width="2.25" height="10" fill="#5e647c"/><rect x="331.3" y="311.5" width="1.35" height="10" fill="#b7c3d0"/><rect x="332.6" y="311.5" width="1.05" height="10" fill="#bdb1a4"/><rect x="333.6" y="311.5" width="1.35" height="10" fill="#7b8098"/>
<rect x="121.5" y="322" width="104.9" height="159" fill="#fbf4f7"/>
<rect x="229.8" y="322" width="105.2" height="159" fill="#fbf4f7"/>
<rect x="121.5" y="322" width="46" height="31.5" fill="#e4eef8"/><rect x="121.5" y="327.47" width="46" height="0.6" fill="#1e5fa6" opacity="0.5"/><rect x="121.5" y="349.08" width="46" height="0.6" fill="#ffffff" opacity="0.5"/><rect x="121.5" y="323.48" width="46" height="0.6" fill="#1e5fa6" opacity="0.5"/><rect x="121.5" y="331.76" width="46" height="0.6" fill="#1e5fa6" opacity="0.5"/><rect x="121.5" y="336.47" width="46" height="0.6" fill="#ffffff" opacity="0.5"/><rect x="121.5" y="344.91" width="46" height="0.6" fill="#ffffff" opacity="0.5"/><rect x="121.5" y="337.46" width="46" height="0.6" fill="#1e5fa6" opacity="0.5"/><rect x="148.53" y="322" width="0.6" height="31.5" fill="#cfe0f2" opacity="0.5"/><rect x="151.22" y="322" width="0.6" height="31.5" fill="#ffffff" opacity="0.5"/><rect x="145.25" y="322" width="0.6" height="31.5" fill="#cfe0f2" opacity="0.5"/><rect x="166.54" y="322" width="0.6" height="31.5" fill="#cfe0f2" opacity="0.5"/><rect x="133.22" y="322" width="0.6" height="31.5" fill="#ffffff" opacity="0.5"/><rect x="159.55" y="322" width="0.6" height="31.5" fill="#1e5fa6" opacity="0.5"/><rect x="124.51" y="322" width="0.6" height="31.5" fill="#1e5fa6" opacity="0.5"/><rect x="150.89" y="322" width="0.6" height="31.5" fill="#ffffff" opacity="0.5"/><rect x="154.84" y="322" width="0.6" height="31.5" fill="#cfe0f2" opacity="0.5"/><rect x="141.56" y="322" width="0.6" height="31.5" fill="#cfe0f2" opacity="0.5"/><rect x="124.54" y="322" width="0.6" height="31.5" fill="#1e5fa6" opacity="0.5"/><rect x="121.5" y="322" width="17.5" height="14" fill="#a8c8e8"/><rect x="121.5" y="324.56" width="17.5" height="0.6" fill="#ffffff" opacity="0.5"/><rect x="121.5" y="323.72" width="17.5" height="0.6" fill="#cfe0f2" opacity="0.5"/><rect x="121.5" y="334.34" width="17.5" height="0.6" fill="#1e5fa6" opacity="0.5"/><rect x="122.77" y="322" width="0.6" height="14" fill="#1e5fa6" opacity="0.5"/><rect x="136.38" y="322" width="0.6" height="14" fill="#1e5fa6" opacity="0.5"/><rect x="133.13" y="322" width="0.6" height="14" fill="#ffffff" opacity="0.5"/><rect x="128.82" y="322" width="0.6" height="14" fill="#ffffff" opacity="0.5"/><rect x="139.5" y="331" width="27.8" height="22" fill="#a4c4e6"/><rect x="139.5" y="344.61" width="27.8" height="0.6" fill="#cfe0f2" opacity="0.5"/><rect x="139.5" y="334.82" width="27.8" height="0.6" fill="#cfe0f2" opacity="0.5"/><rect x="139.5" y="346.72" width="27.8" height="0.6" fill="#ffffff" opacity="0.5"/><rect x="139.5" y="332.77" width="27.8" height="0.6" fill="#ffffff" opacity="0.5"/><rect x="139.5" y="337.88" width="27.8" height="0.6" fill="#ffffff" opacity="0.5"/><rect x="166.5" y="331" width="0.6" height="22" fill="#1e5fa6" opacity="0.5"/><rect x="155.15" y="331" width="0.6" height="22" fill="#1e5fa6" opacity="0.5"/><rect x="146.48" y="331" width="0.6" height="22" fill="#1e5fa6" opacity="0.5"/><rect x="154.08" y="331" width="0.6" height="22" fill="#cfe0f2" opacity="0.5"/><rect x="139.97" y="331" width="0.6" height="22" fill="#ffffff" opacity="0.5"/><rect x="149.53" y="331" width="0.6" height="22" fill="#ffffff" opacity="0.5"/><rect x="162" y="349.5" width="8.5" height="9" fill="#3f78b8"/><rect x="162" y="353.93" width="8.5" height="0.6" fill="#ffffff" opacity="0.5"/><rect x="162" y="351.44" width="8.5" height="0.6" fill="#ffffff" opacity="0.5"/><rect x="163.39" y="349.5" width="0.6" height="9" fill="#cfe0f2" opacity="0.5"/><rect x="162.17" y="349.5" width="0.6" height="9" fill="#cfe0f2" opacity="0.5"/><rect x="170" y="357" width="10.8" height="8" fill="#6e9ed2"/><rect x="170" y="361.89" width="10.8" height="0.6" fill="#1e5fa6" opacity="0.5"/><rect x="170" y="363.43" width="10.8" height="0.6" fill="#ffffff" opacity="0.5"/><rect x="176.99" y="357" width="0.6" height="8" fill="#cfe0f2" opacity="0.5"/><rect x="175.14" y="357" width="0.6" height="8" fill="#1e5fa6" opacity="0.5"/><rect x="178" y="362.5" width="21.6" height="18.9" fill="#3b74b6"/><rect x="178" y="366.73" width="21.6" height="0.6" fill="#cfe0f2" opacity="0.5"/><rect x="178" y="375.94" width="21.6" height="0.6" fill="#1e5fa6" opacity="0.5"/><rect x="178" y="363.74" width="21.6" height="0.6" fill="#1e5fa6" opacity="0.5"/><rect x="178" y="378.88" width="21.6" height="0.6" fill="#1e5fa6" opacity="0.5"/><rect x="197.98" y="362.5" width="0.6" height="18.9" fill="#1e5fa6" opacity="0.5"/><rect x="180.05" y="362.5" width="0.6" height="18.9" fill="#cfe0f2" opacity="0.5"/><rect x="182.2" y="362.5" width="0.6" height="18.9" fill="#cfe0f2" opacity="0.5"/><rect x="196.43" y="362.5" width="0.6" height="18.9" fill="#ffffff" opacity="0.5"/><rect x="183.75" y="362.5" width="0.6" height="18.9" fill="#cfe0f2" opacity="0.5"/><rect x="199" y="381.4" width="27.4" height="21.6" fill="#3a74b6"/><rect x="199" y="382.96" width="27.4" height="0.6" fill="#ffffff" opacity="0.5"/><rect x="199" y="398.11" width="27.4" height="0.6" fill="#cfe0f2" opacity="0.5"/><rect x="199" y="387.12" width="27.4" height="0.6" fill="#ffffff" opacity="0.5"/><rect x="199" y="398.49" width="27.4" height="0.6" fill="#cfe0f2" opacity="0.5"/><rect x="199" y="392.43" width="27.4" height="0.6" fill="#1e5fa6" opacity="0.5"/><rect x="212.72" y="381.4" width="0.6" height="21.6" fill="#ffffff" opacity="0.5"/><rect x="220.75" y="381.4" width="0.6" height="21.6" fill="#ffffff" opacity="0.5"/><rect x="219.91" y="381.4" width="0.6" height="21.6" fill="#cfe0f2" opacity="0.5"/><rect x="201.46" y="381.4" width="0.6" height="21.6" fill="#cfe0f2" opacity="0.5"/><rect x="200.4" y="381.4" width="0.6" height="21.6" fill="#1e5fa6" opacity="0.5"/><rect x="208.34" y="381.4" width="0.6" height="21.6" fill="#1e5fa6" opacity="0.5"/><rect x="229.8" y="403" width="46.7" height="33.5" fill="#bcd4ee"/><rect x="229.8" y="426.8" width="46.7" height="0.6" fill="#ffffff" opacity="0.5"/><rect x="229.8" y="411.98" width="46.7" height="0.6" fill="#ffffff" opacity="0.5"/><rect x="229.8" y="406.85" width="46.7" height="0.6" fill="#cfe0f2" opacity="0.5"/><rect x="229.8" y="422.25" width="46.7" height="0.6" fill="#1e5fa6" opacity="0.5"/><rect x="229.8" y="404.44" width="46.7" height="0.6" fill="#ffffff" opacity="0.5"/><rect x="229.8" y="411.87" width="46.7" height="0.6" fill="#1e5fa6" opacity="0.5"/><rect x="229.8" y="425.98" width="46.7" height="0.6" fill="#ffffff" opacity="0.5"/><rect x="229.8" y="425.82" width="46.7" height="0.6" fill="#ffffff" opacity="0.5"/><rect x="274.81" y="403" width="0.6" height="33.5" fill="#cfe0f2" opacity="0.5"/><rect x="255.73" y="403" width="0.6" height="33.5" fill="#ffffff" opacity="0.5"/><rect x="260.69" y="403" width="0.6" height="33.5" fill="#cfe0f2" opacity="0.5"/><rect x="236.53" y="403" width="0.6" height="33.5" fill="#ffffff" opacity="0.5"/><rect x="267.6" y="403" width="0.6" height="33.5" fill="#1e5fa6" opacity="0.5"/><rect x="238.34" y="403" width="0.6" height="33.5" fill="#ffffff" opacity="0.5"/><rect x="275.37" y="403" width="0.6" height="33.5" fill="#cfe0f2" opacity="0.5"/><rect x="240.74" y="403" width="0.6" height="33.5" fill="#1e5fa6" opacity="0.5"/><rect x="246.01" y="403" width="0.6" height="33.5" fill="#1e5fa6" opacity="0.5"/><rect x="233.06" y="403" width="0.6" height="33.5" fill="#cfe0f2" opacity="0.5"/><rect x="275.05" y="403" width="0.6" height="33.5" fill="#1e5fa6" opacity="0.5"/><rect x="229.8" y="403" width="10.2" height="17" fill="#6c9ed3"/><rect x="229.8" y="403.39" width="10.2" height="0.6" fill="#ffffff" opacity="0.5"/><rect x="229.8" y="417.74" width="10.2" height="0.6" fill="#ffffff" opacity="0.5"/><rect x="229.8" y="418.54" width="10.2" height="0.6" fill="#cfe0f2" opacity="0.5"/><rect x="229.8" y="417.46" width="10.2" height="0.6" fill="#ffffff" opacity="0.5"/><rect x="231.29" y="403" width="0.6" height="17" fill="#ffffff" opacity="0.5"/><rect x="238.46" y="403" width="0.6" height="17" fill="#cfe0f2" opacity="0.5"/><rect x="276.5" y="436.5" width="28.3" height="21.5" fill="#3c76b8"/><rect x="276.5" y="451.3" width="28.3" height="0.6" fill="#1e5fa6" opacity="0.5"/><rect x="276.5" y="454.02" width="28.3" height="0.6" fill="#ffffff" opacity="0.5"/><rect x="276.5" y="444.08" width="28.3" height="0.6" fill="#1e5fa6" opacity="0.5"/><rect x="276.5" y="443.57" width="28.3" height="0.6" fill="#1e5fa6" opacity="0.5"/><rect x="276.5" y="446.65" width="28.3" height="0.6" fill="#1e5fa6" opacity="0.5"/><rect x="284.83" y="436.5" width="0.6" height="21.5" fill="#ffffff" opacity="0.5"/><rect x="301.55" y="436.5" width="0.6" height="21.5" fill="#ffffff" opacity="0.5"/><rect x="287.99" y="436.5" width="0.6" height="21.5" fill="#1e5fa6" opacity="0.5"/><rect x="282.07" y="436.5" width="0.6" height="21.5" fill="#1e5fa6" opacity="0.5"/><rect x="289.36" y="436.5" width="0.6" height="21.5" fill="#1e5fa6" opacity="0.5"/><rect x="286.27" y="436.5" width="0.6" height="21.5" fill="#cfe0f2" opacity="0.5"/><rect x="283.13" y="436.5" width="0.6" height="21.5" fill="#ffffff" opacity="0.5"/><rect x="304.8" y="456.7" width="30.2" height="24.3" fill="#3e78ba"/><rect x="304.8" y="475.82" width="30.2" height="0.6" fill="#ffffff" opacity="0.5"/><rect x="304.8" y="459.31" width="30.2" height="0.6" fill="#cfe0f2" opacity="0.5"/><rect x="304.8" y="463.75" width="30.2" height="0.6" fill="#ffffff" opacity="0.5"/><rect x="304.8" y="477.5" width="30.2" height="0.6" fill="#cfe0f2" opacity="0.5"/><rect x="304.8" y="473.75" width="30.2" height="0.6" fill="#1e5fa6" opacity="0.5"/><rect x="304.8" y="473.61" width="30.2" height="0.6" fill="#ffffff" opacity="0.5"/><rect x="319.62" y="456.7" width="0.6" height="24.3" fill="#cfe0f2" opacity="0.5"/><rect x="310.66" y="456.7" width="0.6" height="24.3" fill="#cfe0f2" opacity="0.5"/><rect x="320.4" y="456.7" width="0.6" height="24.3" fill="#1e5fa6" opacity="0.5"/><rect x="305.56" y="456.7" width="0.6" height="24.3" fill="#ffffff" opacity="0.5"/><rect x="327.03" y="456.7" width="0.6" height="24.3" fill="#1e5fa6" opacity="0.5"/><rect x="310.93" y="456.7" width="0.6" height="24.3" fill="#cfe0f2" opacity="0.5"/><rect x="321.82" y="456.7" width="0.6" height="24.3" fill="#cfe0f2" opacity="0.5"/><path d="M135.2 344.5h0.5M145.1 333.3h0.5M132.1 330.2h0.5M150.4 350.9h0.5M147.6 333h0.5M129.8 352.7h0.5M150.5 336.9h0.5M164.6 343.3h0.5M166.6 327.9h0.5M147.8 341.4h0.5M158.3 323.2h0.5M156.8 339.2h0.5M143.2 342.1h0.5M127.7 326.5h0.5M136 331.2h0.5M124.7 324.9h0.5M123.5 323.5h0.5M127.7 333.8h0.5M155.9 331.6h0.5M161.5 332.9h0.5M157.4 352.1h0.5M142.7 331.3h0.5M159.5 344.9h0.5M273.5 425.2h0.5M262.8 410.4h0.5M243.2 433.7h0.5M259.8 418.5h0.5M229.8 408.7h0.5M269.1 429.3h0.5M244.9 408.1h0.5M256.7 427.9h0.5M325.8 471.2h0.5M317.6 471.9h0.5M330.9 469.2h0.5" stroke="#ffffff" stroke-width="0.5"/><path d="M122.4 339.2h0.5M163.4 324.4h0.5M135.3 346.6h0.5M124.7 329.2h0.5M161.7 331.1h0.5M141.1 324.7h0.5M153.9 345.2h0.5M163.4 331h0.5M158 337.2h0.5M141 330.6h0.5M126.6 326.1h0.5M131.3 327.3h0.5M165.1 341.1h0.5M156.8 343.7h0.5M165.5 333.8h0.5M152.2 334.4h0.5M151.5 347.7h0.5M140.3 350.7h0.5M142.7 333.5h0.5M142.8 335.1h0.5M179.3 360.7h0.5M179.8 363.4h0.5M180.8 380.9h0.5M198.5 368.5h0.5M178.8 370.4h0.5M181.4 364.9h0.5M178.4 370.6h0.5M187.4 369.3h0.5M183.8 379.9h0.5M195 372.1h0.5M189.5 366h0.5M188.2 363.3h0.5M212.9 384.5h0.5M214.6 382.6h0.5M208.3 390h0.5M218.9 401.1h0.5M206.4 392.9h0.5M201 398.9h0.5M219.4 391.2h0.5M214.8 398.7h0.5M215.3 383.3h0.5M209.3 386.8h0.5M222.7 399.7h0.5M218.2 402h0.5M237 408.3h0.5M236.4 429.3h0.5M251.7 403.7h0.5M275.3 427.3h0.5M258.7 431.8h0.5M259 411.6h0.5M257.2 419.2h0.5M231.2 418.6h0.5M231.6 436h0.5M231.5 420.4h0.5M253.7 426h0.5M254.8 419.9h0.5M237.8 409.8h0.5M231.2 425.7h0.5M242.9 432.2h0.5M265.3 406.3h0.5M233.8 404.4h0.5M236.1 406.7h0.5M231.6 419.4h0.5M286.6 438.6h0.5M288.4 446.8h0.5M303.4 442.5h0.5M278.2 439.7h0.5M296.2 456h0.5M278 445h0.5M280.2 446.1h0.5M299.1 439.9h0.5M316.1 469.4h0.5M319 466.1h0.5M309.9 463.1h0.5M318.1 459.4h0.5M313.4 466.4h0.5M332 460.3h0.5M333.9 471.1h0.5M326.1 478.6h0.5M321.7 471.6h0.5" stroke="#1e5fa6" stroke-width="0.5"/><path d="M131.2 350.9h1M130.2 332h1M121.8 331.4h1M160.1 326.2h1M127.7 334.2h1M145.3 342.5h1M122.8 338h1M148.6 323.6h1M128.9 353h1M128.8 327.4h1M132.4 336h1M129.8 337h1M137.2 340.1h1M165 327.5h1M150.8 343.6h1M154.4 351.2h1M135.9 329.2h1M135.8 331.3h1M132.3 330.6h1M140.8 343.7h1M139.9 337h1M159.1 340.9h1M160.4 346.1h1M159.1 351.5h1M148.6 351h1M150.7 333.7h1M164.4 336.4h1M139.5 335.7h1M155.7 337.3h1M187.2 364.7h1M181.8 380.1h1M181.7 364.1h1M179.3 364.9h1M219.2 390.2h1M208.8 402.2h1M204.6 391.3h1M219.5 392.4h1M213.3 400.1h1M210.7 389.7h1M247.8 409.1h1M250.5 412.2h1M229.9 424.4h1M250.3 406.5h1M245.9 432.1h1M232.3 416.2h1M270.4 406.9h1M268 435.8h1M261.6 410.2h1M235.3 429.6h1M266.9 417.4h1M267.7 413.2h1M253.6 416.7h1M265 405.5h1M266 408.7h1M238.1 433.8h1M232.8 417.2h1M258.8 414.1h1M256.5 426.4h1M238.4 405.7h1M288.1 451.2h1M302.5 451.6h1M308 464.8h1M321.1 469.5h1" stroke="#a9cbe8" stroke-width="1"/><path d="M159.8 332.6h0.5M144.1 323.2h0.5M139.4 346h0.5M140.1 331.3h0.5M155.9 323.4h0.5M124.8 341.6h0.5M155.5 325.1h0.5M135.8 332.4h0.5M146.2 327.3h0.5M150.2 326.2h0.5M154.5 344.8h0.5M135.4 329.3h0.5M135 327.4h0.5M129.9 331.5h0.5M153.1 337.9h0.5M166.6 336.6h0.5M162.8 341.3h0.5M139.6 338.6h0.5M153.9 344.9h0.5M147.9 352.1h0.5M150.4 349.9h0.5M163.3 353.7h0.5M165.8 351.9h0.5M178.1 362.6h0.5M183 370.7h0.5M194.5 378.1h0.5M181.5 373.5h0.5M181.5 372.4h0.5M224.8 394.4h0.5M204.8 402.2h0.5M218.8 400.4h0.5M199.8 383.5h0.5M221.5 393.2h0.5M202.3 392.7h0.5M220.9 400.5h0.5M221.7 394h0.5M220.4 395.2h0.5M223.3 397.4h0.5M215.8 392.2h0.5M221.3 395.7h0.5M201.4 387.3h0.5M210.7 384.6h0.5M209 395.6h0.5M206.6 392h0.5M254.2 417.3h0.5M251.2 424.1h0.5M230 411h0.5M274.3 426.6h0.5M265.7 413.2h0.5M250.4 412.2h0.5M231.3 412.6h0.5M232.2 425.8h0.5M260.1 417.8h0.5M231.6 412.5h0.5M247.9 405.2h0.5M230.7 406.5h0.5M274.6 417.2h0.5M254.9 432.1h0.5M270.4 407.3h0.5M266.7 425.2h0.5M239.1 413.6h0.5M253.6 416.9h0.5M240.9 434.9h0.5M241.1 414.5h0.5M271.7 423.4h0.5M231.7 423h0.5M262.9 420.7h0.5M234.6 413.6h0.5M237.6 407.5h0.5M236 414.7h0.5M294 443.1h0.5M302.5 452.2h0.5M295.5 441.3h0.5M281.3 439.4h0.5M283.9 444.9h0.5M300.2 438.9h0.5M288.4 448.5h0.5M303.8 446.8h0.5M282.9 439.4h0.5M301.8 450.7h0.5M299.2 442.6h0.5M291.1 442.5h0.5M287.4 451.2h0.5M311.4 468.3h0.5M322.9 467.6h0.5M334.2 460.7h0.5M326.4 466.9h0.5M322.2 470.6h0.5M318.8 458.7h0.5M327.6 473.7h0.5M328.4 477.9h0.5M317.6 461.1h0.5M318.8 461.1h0.5M313.2 478.3h0.5M325.5 461.6h0.5M319.4 479.7h0.5M322.4 476.3h0.5M311.8 465.3h0.5M323.4 470.6h0.5M315.5 474.4h0.5M331.4 475.5h0.5M312.9 474.6h0.5" stroke="#2b6db3" stroke-width="0.5"/><path d="M132.7 330.9h0.5M156.6 334.9h0.5M126.7 341.4h0.5M139.5 340.2h0.5M138.5 327.3h0.5M153.8 337.6h0.5M153.1 325.8h0.5M157.6 332h0.5M146.5 326.6h0.5M161.7 351.7h0.5M127.8 351.9h0.5M145.1 323.7h0.5M129.2 336.3h0.5M137.7 322.8h0.5M147.8 346.6h0.5M153.8 342.1h0.5M171.4 358.3h0.5M183.5 368.7h0.5M185.5 377.6h0.5M213.7 397.4h0.5M270 425.2h0.5M260.2 433.3h0.5M248.7 411.2h0.5M253 409.5h0.5M273.6 426.8h0.5M231.5 415.9h0.5M250.7 431.1h0.5M265.1 421.7h0.5M234 426.5h0.5M259.1 431.1h0.5M262.5 424.9h0.5M237.5 408.9h0.5M261.2 403.8h0.5M241.6 434.2h0.5M235.3 410.6h0.5M236.8 407.5h0.5M296.3 442.5h0.5M313.1 477.2h0.5M330.3 459.8h0.5M318.9 463.4h0.5" stroke="#f6f8fc" stroke-width="0.5"/><path d="M130.2 335.3h1M136.9 352.7h1M158.1 331.4h1M165.7 337h1M123.2 335.4h1M144.3 352.2h1M146.6 347.5h1M159.9 342.6h1M150 334.8h1M143.9 326h1M143.7 332.3h1M132.7 341.6h1M127.4 333h1M157.2 329.2h1M128 328.5h1M122 329h1M123.8 328.2h1M134.3 329h1M142.7 336.1h1M142.2 337.7h1M141.2 334.9h1M157.6 334.9h1M141.5 347.6h1M158 334.4h1M140.7 337.8h1M146.3 337.6h1M140.5 349.9h1M144.8 346.7h1M166.1 333.1h1M162.4 352.1h1M159.1 342.1h1M172.9 361.8h1M176.8 360.1h1M172.2 363.3h1M179.1 360.4h1M176.5 359.8h1M182.9 367.2h1M179.8 377h1M185.4 372.6h1M193.2 368.5h1M180.9 375.7h1M195.2 374.7h1M198.2 380.2h1M180.1 371.5h1M187.2 366.1h1M194.1 363.3h1M183.3 364h1M178.9 376.3h1M184.6 367.5h1M180.8 368.3h1M186.1 373.4h1M180.5 365.3h1M189 367.6h1M190.4 371.2h1M181.8 363.6h1M202 399.5h1M218.5 387.3h1M210 394.9h1M209.4 388.1h1M203.8 389.6h1M206.3 397.2h1M211.3 397.9h1M211.1 383.1h1M210.1 385.3h1M213.2 386.8h1M212.1 383.1h1M220.7 384.7h1M199.6 398h1M200 384.6h1M223.5 402h1M210.1 395.6h1M220.6 392.3h1M224.2 396.5h1M221.7 382.1h1M202.1 382.1h1M212.4 390h1M213.3 392.4h1M264.4 413.8h1M267.3 432.4h1M272.9 430.5h1M247.5 433.5h1M238.5 419.3h1M275 430.8h1M255.3 407h1M251.7 409h1M271.6 431.3h1M274.1 429.3h1M270.2 434.8h1M252.2 415.9h1M273.2 422.7h1M246.7 417.3h1M255.3 430.2h1M246.9 421.8h1M240.4 407.9h1M259.3 429.3h1M231 417.3h1M233.1 417.4h1M267.6 413.8h1M275.2 434.2h1M246.1 425h1M267.7 419.5h1M238.1 429.5h1M267.7 412.6h1M270.7 425.8h1M242.1 415.1h1M254.2 419.1h1M234.3 433.5h1M252.1 414h1M271.8 431.1h1M237.8 412.7h1M256.5 404.1h1M250.9 427.7h1M258.2 409.6h1M249.9 419.4h1M252.2 418.2h1M235.7 421.7h1M263.1 421h1M265.1 425.9h1M234.6 418.5h1M235.8 417h1M230.1 407.7h1M233 413.8h1M237.2 407.6h1M282.4 442.1h1M297.2 444.3h1M283.6 437.7h1M294.1 449h1M296.5 455.6h1M286.9 448.8h1M279.6 452.9h1M301.8 454.3h1M303.8 440.6h1M302.1 456.3h1M281.1 455h1M290.1 443h1M303.4 446.5h1M283.5 452.7h1M290.7 441.2h1M290 454.6h1M289.5 439.7h1M292.4 438.8h1M286.5 456.1h1M314.1 468.1h1M313.2 474.7h1M320.7 468.6h1M310.8 478.9h1M314.2 473.6h1M306.9 476.3h1M319.4 477.5h1M329.1 478.2h1M327.3 457.9h1M308.9 479.1h1M329 480h1M316.4 458.1h1M312.6 471.8h1M327.7 463.2h1M314.5 477.7h1M307.5 460.5h1M314.1 459.3h1M332 479.4h1M304.9 464.1h1M325.3 460h1M327 479.1h1M314 468h1M305.8 469.2h1M318 470.8h1M327.2 461.5h1M315.7 471.9h1M309.8 477.4h1M307.8 475.2h1M333.8 474.2h1M318.6 461.8h1M331.5 462.9h1M330.6 477.7h1M305.7 466.7h1M330.4 478.6h1M311.5 464.5h1M323.9 478.1h1" stroke="#0f3d7a" stroke-width="1"/><path d="M142.5 353h0.5M127 338.6h0.5M155.3 338.8h0.5M131.6 329.8h0.5M160.6 332.6h0.5M130.9 329.9h0.5M154.4 347.6h0.5M126.1 333.4h0.5M138.9 349.6h0.5M130.2 344.3h0.5M137.3 333.5h0.5M149.1 340.7h0.5M163.7 329.2h0.5M127.1 333.4h0.5M137.9 332h0.5M122.2 330.8h0.5M155.6 343.3h0.5M154 331.4h0.5M201.2 399.2h0.5M267.7 409.3h0.5M267.2 417h0.5M242.9 435.9h0.5M262.9 429.4h0.5M242.6 408.1h0.5M253.6 436h0.5M241.4 417.5h0.5M250.6 405.7h0.5M270.8 433.8h0.5M236.3 420.5h0.5M265.6 405h0.5M237.3 418.1h0.5M229.9 416.1h0.5M292.4 448.1h0.5M278 447.3h0.5M289.3 452.1h0.5M312.4 477.6h0.5M326.6 463.9h0.5M321.2 470h0.5M307.4 466.7h0.5M306.1 459.3h0.5M318.6 471.2h0.5" stroke="#6aa3d6" stroke-width="0.5"/><path d="M150.3 335.8h0.5M138.1 348.8h0.5M146.1 330.4h0.5M123.3 338h0.5M129.7 333.6h0.5M146.9 339.1h0.5M146 343.4h0.5M161.5 352.3h0.5M159.7 335.1h0.5M164.9 345.2h0.5M162.6 341.4h0.5M142.1 339.8h0.5M164.7 350.1h0.5M170.3 357.8h0.5M172.5 363.2h0.5M171.6 358.1h0.5M173.9 359.9h0.5M170.2 358.5h0.5M197.2 370.1h0.5M180.6 375.4h0.5M194.3 372.5h0.5M179 370.1h0.5M197.2 379.1h0.5M190.2 376.5h0.5M185.3 372.8h0.5M189.4 365.4h0.5M182.3 375.1h0.5M182.6 366.1h0.5M185.6 378.8h0.5M223.3 390.9h0.5M199.7 401.8h0.5M215.3 386.9h0.5M213.8 384.4h0.5M219.4 388.8h0.5M208.4 395.6h0.5M201.2 396.1h0.5M202.3 396.3h0.5M248.4 434.7h0.5M230.5 425.8h0.5M253.7 430.5h0.5M259.7 424.1h0.5M273 414.6h0.5M269.5 430.9h0.5M244.5 423.7h0.5M254.9 425.8h0.5M254.7 419.2h0.5M258.8 417.2h0.5M260.8 426.4h0.5M272.7 407.1h0.5M251.3 427.7h0.5M272.4 419.5h0.5M267.7 404.7h0.5M265.8 406.3h0.5M241.3 426.4h0.5M245.2 421.7h0.5M237.6 405h0.5M237.5 413.9h0.5M280.7 437.8h0.5M300.8 438.9h0.5M279.7 443h0.5M295.6 437.3h0.5M280.2 444.3h0.5M297.5 439.7h0.5M287.4 456.6h0.5M282.6 452.1h0.5M287.2 439.9h0.5M301.8 439.3h0.5M277.2 449.5h0.5M294.9 438.4h0.5M310.3 464h0.5M316.5 474.9h0.5M325.9 463.3h0.5M312.3 478.5h0.5M321 480.4h0.5M323.4 458.8h0.5M308.7 466h0.5M315.7 461.6h0.5M317.2 462.5h0.5M328.2 457h0.5" stroke="#0f3d7a" stroke-width="0.5"/><path d="M147.9 341.7h1M122.7 333.4h1M151.7 332.4h1M121.9 323.9h1M163.1 351.8h1M160.2 340.9h1M132.1 337.3h1M132.7 345.1h1M124.2 347.8h1M127.7 323.8h1M130.9 337.2h1M128.9 325.4h1M158.9 327.8h1M134.1 326.8h1M127.5 322.6h1M136.9 340h1M159.6 338.1h1M131.5 334.5h1M164.9 323h1M124.9 331.7h1M124.7 326.6h1M124.1 330.1h1M136.3 325.9h1M161.3 340.2h1M151.3 340h1M162.2 334.4h1M149.3 347.8h1M166.3 337.3h1M163.7 339.6h1M165 337.9h1M143.1 351h1M141.5 351.3h1M140.3 337.8h1M154.4 333.5h1M156.1 349.2h1M150.5 350.1h1M154.3 331.8h1M165 350.2h1M167.9 357.3h1M174.9 358.6h1M178.3 368.7h1M188.9 377h1M183.3 377.9h1M191.9 364.9h1M180.8 367.6h1M178.7 377.6h1M190.3 370.1h1M182.9 375.8h1M187.6 380.6h1M182.2 379.8h1M189.7 370.4h1M180.9 380.6h1M181.4 371.7h1M180 380.3h1M194.8 374.3h1M190.4 370.8h1M180.3 376.8h1M193.6 366.3h1M184.2 377.8h1M183.9 372.4h1M193.9 379.5h1M178.8 369.6h1M190.2 364.9h1M213.4 394.5h1M217.7 394.6h1M211.7 395.1h1M222.4 395h1M206 392.9h1M206.1 390.6h1M207.1 394.7h1M210 399h1M206.3 399.7h1M216.3 383.3h1M222.7 393.9h1M201.8 397.5h1M204.8 399.5h1M222 385.3h1M204.7 399.4h1M224.7 397.6h1M211.7 401.9h1M201.4 400.7h1M216.7 398.4h1M214.2 386.2h1M219.2 396.8h1M209.2 401.6h1M207.8 396.5h1M199.4 385.2h1M265.5 404.3h1M244.8 407h1M257.1 413.6h1M260.7 409.9h1M234.4 419.9h1M244.8 420.3h1M250.7 425.8h1M264.5 411.1h1M263 420.8h1M247.4 403.5h1M242.6 434.5h1M237.4 433.6h1M273.8 424.7h1M266.3 409.2h1M272.8 428.2h1M233 425.9h1M273.6 416.8h1M264 412.6h1M251.2 435.6h1M246.1 432.4h1M259.7 424.6h1M253.4 411.2h1M230.6 408.1h1M234.5 425.3h1M263.3 419.6h1M263.9 408.7h1M244.8 418.2h1M230.5 431.3h1M262.8 435.6h1M230.4 410.7h1M232.3 414.8h1M230.3 418.1h1M235.9 409.2h1M235.9 405.3h1M237.8 407.9h1M298.4 452.7h1M281.7 457.1h1M294.5 439.4h1M287.6 439.6h1M287 438.3h1M294.2 448.8h1M293.4 455.1h1M279.8 454.6h1M297.6 447.7h1M286.2 446.8h1M286.2 450.7h1M295.4 455.1h1M290.4 437.9h1M281.8 457.3h1M295.3 452h1M301.8 445.2h1M303.9 438.1h1M294.4 437.3h1M292.1 442h1M284.7 441.4h1M299.4 443.3h1M280.7 452.1h1M283.7 445h1M291.6 448.8h1M291.9 450.1h1M283.7 439h1M279.7 440h1M277.1 454.3h1M295.5 443.7h1M316.8 467h1M311.3 462.1h1M331.7 468.5h1M305.3 464.1h1M304.9 469.9h1M332.5 474.5h1M311.8 471.2h1M316.8 466.1h1M312.4 468.7h1M308.5 461.6h1M305.9 465h1M319.1 466h1M320.9 476.1h1M332.5 472.3h1M319 463.7h1M307.8 458.6h1M329.6 478.4h1M322.1 474.9h1M325.2 460.1h1M316.8 476.9h1M321.8 476.3h1M324.2 461h1M334 462h1M314.4 471.9h1" stroke="#15488a" stroke-width="1"/><path d="M159.5 344.1h0.5M159.9 346.8h0.5M123 329h0.5M122.7 328.2h0.5M134.7 333.8h0.5M126.9 335.4h0.5M161.9 346.2h0.5M165.3 348.7h0.5M151.4 337.5h0.5M151.8 352.5h0.5M162.1 350.5h0.5M159.6 333.2h0.5M159.7 348.5h0.5M141.2 343.5h0.5M168.8 356.1h0.5M168.5 351.8h0.5M165.2 350h0.5M170.9 360.6h0.5M178.4 360.8h0.5M180 365.9h0.5M178.4 375.3h0.5M188.5 375.6h0.5M217 394.3h0.5M215.4 384h0.5M202.3 398.5h0.5M201.3 390.9h0.5M214.3 396.5h0.5M211.7 391.5h0.5M203.5 384.7h0.5M224.3 383.1h0.5M222.7 401.1h0.5M200.2 389.8h0.5M203.8 399h0.5M251.4 424.1h0.5M255.4 430.9h0.5M253.7 418.6h0.5M240.6 428.7h0.5M230 404.8h0.5M270 415.9h0.5M238.2 432.7h0.5M259.8 425.9h0.5M234.9 413.5h0.5M257.4 427.9h0.5M261 432h0.5M235.9 435.5h0.5M232.4 414.5h0.5M297.4 456.6h0.5M302.8 443.5h0.5M295.2 447.1h0.5M286.6 438.5h0.5M291.8 437.3h0.5M290.6 453.4h0.5M302.6 454h0.5M279.8 453.5h0.5M278.7 437.7h0.5M303.1 440.6h0.5M290.2 444.3h0.5M303.2 454h0.5M281.4 437.8h0.5M311.8 476h0.5M330.1 458.7h0.5M323.8 473.3h0.5M326.9 479.2h0.5M331.2 457.9h0.5M307.7 468.8h0.5M317.5 462.4h0.5M331.4 462.7h0.5M328 472.6h0.5M313.6 464.6h0.5M321.7 465.3h0.5M305.4 466.6h0.5M332.6 464.3h0.5M309.5 469.9h0.5M306.5 459h0.5M319.4 463.4h0.5" stroke="#3b7fc0" stroke-width="0.5"/><path d="M147.3 335.9h1M129 349h1M149 341.8h1M145.7 331.8h1M158.9 347h1M157.1 344.1h1M122.4 342.5h1M130.5 343.2h1M124.4 338.5h1M158.2 350.3h1M156.2 342.5h1M138.3 348.4h1M127.7 347.8h1M129.3 324.4h1M126.8 324.4h1M125.4 334.2h1M134.7 326.3h1M129.1 328.5h1M131.9 334.7h1M123.7 324.9h1M128.3 324.6h1M137.4 324.1h1M132.1 325.3h1M136.7 324.3h1M142 344.1h1M159.8 340.6h1M149.9 333.1h1M149.1 340.6h1M144.5 348.6h1M143.2 331.7h1M160.7 338.6h1M164.2 350.4h1M155.6 338.2h1M151.6 336.3h1M157.4 345.2h1M158.3 346.7h1M146.7 349.7h1M166.3 350.5h1M162.4 350.4h1M163.8 352h1M164.3 350.2h1M177.7 364.3h1M192.5 363.4h1M187.6 378.6h1M188.5 363.5h1M179 378.8h1M182.3 376.7h1M183.3 378.4h1M185.3 366.2h1M187.3 363.2h1M201.3 387.3h1M202.9 392h1M203.2 390.1h1M214.9 398.9h1M218.3 396.8h1M208.4 397h1M208.4 388.4h1M224.2 400.8h1M215.8 392.3h1M209.1 390.1h1M202.3 391h1M203.4 387.9h1M205.1 389.1h1M209.8 396.2h1M211.6 389.5h1M223.8 400.3h1M201.7 384.9h1M200.6 398.6h1M209.3 390.2h1M220.5 384.8h1M210 402.1h1M203.5 396h1M203.3 397.8h1M208.2 391.1h1M204.8 383.7h1M247.4 420.3h1M268.4 419.6h1M241 419.4h1M250.1 431.6h1M237.5 432.7h1M253 415.2h1M242.6 428.8h1M248 407.5h1M231.7 431.8h1M241.6 420.8h1M241.6 404.5h1M254.1 414.9h1M258.9 431h1M263 421.6h1M243.5 411.6h1M267.7 418.8h1M261.4 428.5h1M247 430.6h1M258.3 436.1h1M241.4 430.4h1M263 432.9h1M262.1 406.9h1M236.3 433.5h1M249.5 433h1M271.3 435.6h1M269.6 429.8h1M262.4 405.5h1M249.6 435.4h1M244.4 424.1h1M252.8 405h1M257.1 427.2h1M258.8 434.9h1M260.1 408.1h1M246.3 413h1M236.7 416.4h1M234.6 422.7h1M257.6 419.9h1M262.7 421.4h1M258.9 407.8h1M237.8 417.4h1M262 415.3h1M254 421.3h1M237.6 418.4h1M232.9 411.1h1M237 412.4h1M234.3 417.6h1M237 408.7h1M277.4 453.2h1M299.9 437.3h1M290.2 440h1M287 452.7h1M281.2 452.3h1M298.4 451.8h1M297.8 448.6h1M286.9 447.9h1M297.9 444.9h1M295.3 449.5h1M276.6 444.5h1M299 439.6h1M279.7 439.1h1M298.5 437.6h1M285.3 457.3h1M288.2 443.7h1M301.8 439.4h1M284.1 440.7h1M282.9 446.2h1M283.9 442h1M281.1 444h1M279.1 447h1M298 449.8h1M288.2 446h1M301.5 440.1h1M290.2 448.6h1M319.4 477h1M313.7 472.3h1M332.6 472.1h1M325.2 459.1h1M305 475.2h1M326.1 458.4h1M321.9 477.3h1M326.1 476.6h1M328.7 476.3h1M328 463.3h1M333 479.9h1M305.8 474.2h1M318.6 465.9h1M310.8 471.7h1M329.1 460.3h1M325.8 480.1h1M311.1 464h1M326.1 474.9h1M319.4 476.5h1M324.9 467.3h1M320 475.7h1M331.9 458.2h1M333 478.1h1M331.2 466h1M322.2 475h1M329.5 463.2h1M320.5 476.3h1M326.6 468.7h1M313.8 478.8h1M322.7 471.7h1M316.3 464.4h1M329.2 478.8h1M328.6 461.5h1M309.4 480.3h1" stroke="#2b6db3" stroke-width="1"/><path d="M124.2 324h0.5M139.7 351.1h0.5M164.5 324.8h0.5M155.7 348.8h0.5M159.5 335.5h0.5M125.5 325.7h0.5M133 332.6h0.5M130.1 334.1h0.5M126.8 327.6h0.5M160.6 332.9h0.5M144.4 337.8h0.5M162.1 342.6h0.5M142.3 346.2h0.5M148.6 336.8h0.5M162.4 335.4h0.5M152.6 343.2h0.5M155.4 336.3h0.5M166.4 353.5h0.5M164.4 351h0.5M172.1 364.2h0.5M174.5 363h0.5M182.3 379.5h0.5M182 373.7h0.5M181.9 364.8h0.5M182.9 368.5h0.5M183.2 371.9h0.5M208 398h0.5M214.5 397.9h0.5M213.1 393.6h0.5M209.1 383.6h0.5M209.7 383.7h0.5M206.5 392.7h0.5M213.3 394h0.5M211.2 383.3h0.5M220 382.7h0.5M213.3 383.1h0.5M200.9 392.8h0.5M204.8 399h0.5M268.5 431.1h0.5M232 425.8h0.5M239.7 431.8h0.5M250.3 407.5h0.5M258.6 429.8h0.5M238.2 409.2h0.5M232.6 434.7h0.5M231 405.8h0.5M255.4 423.8h0.5M258.9 432.1h0.5M252.7 426.2h0.5M259.1 415.7h0.5M257.8 421.9h0.5M257.1 420.6h0.5M253 414.8h0.5M250.7 411.9h0.5M249.2 431.2h0.5M269.9 430.6h0.5M267.1 434.5h0.5M232 414.9h0.5M233.1 416.7h0.5M236.3 410.9h0.5M302.8 438.2h0.5M287.4 454h0.5M293.3 448.8h0.5M294.4 452.7h0.5M277 450.9h0.5M289.8 455.6h0.5M290.1 443.8h0.5M282.2 440.2h0.5M295.5 453.9h0.5M279.1 442.2h0.5M303.4 454.1h0.5M300.8 455h0.5M333 478.3h0.5M328.8 479.9h0.5M325 458.7h0.5M321.7 477h0.5M334 474.5h0.5M319.5 465.4h0.5M324.1 458.3h0.5M333.6 475.4h0.5M331.2 471.7h0.5M311.8 468.8h0.5M314 460.7h0.5M322.8 470.8h0.5M316.8 462.4h0.5M324.8 457.8h0.5M311.7 464.4h0.5M315.9 459.9h0.5M308.5 479.3h0.5M324.6 466.9h0.5M313 478.1h0.5" stroke="#1a5398" stroke-width="0.5"/><path d="M149 339.1h0.5M136.7 342.5h0.5M131.1 327.1h0.5M122.3 349.6h0.5M126.8 331.4h0.5M123.5 330.6h0.5M127.7 334.8h0.5M128.1 326h0.5M159.2 350.8h0.5M155.5 343h0.5M150.1 334.3h0.5M158.5 333.9h0.5M144.1 337.9h0.5M157.5 335.8h0.5M204.5 387.6h0.5M264 415h0.5M261.8 418h0.5M246.7 416.6h0.5M254.5 403.5h0.5M274.1 405.8h0.5M268.6 429.9h0.5M262.4 406.7h0.5M275.1 430h0.5M274.9 422h0.5M241.5 405.2h0.5M264.3 408.4h0.5M244.8 412.8h0.5M283.3 449.4h0.5M296.6 448.2h0.5M282.3 445h0.5M287.8 436.8h0.5" stroke="#a9cbe8" stroke-width="0.5"/><path d="M130.8 329.5h1M151.4 323.8h1M147.2 345.3h1M122.3 330h1M137.8 322.6h1M165.1 322.8h1M155.5 325.1h1M125.6 328.9h1M128.3 345.1h1M155 345.4h1M136.9 333.5h1M147.5 323.3h1M160.8 341.6h1M157.2 335.7h1M160.1 333.7h1M145.2 330.9h1M161.1 332.9h1M127.3 336.8h1M145 336.2h1M133.3 326.1h1M133.2 326.1h1M124.6 328.9h1M140 345.7h1M145.6 336.6h1M148.2 334.9h1M143.6 340.1h1M166.2 349.2h1M146.4 342.7h1M148.8 340h1M159.2 346.8h1M159.1 344.1h1M153.8 335.2h1M146.5 332.4h1M166.3 350h1M179.6 361.3h1M183.4 372.6h1M207.7 384.9h1M273.8 406.9h1M269.7 406.2h1M264.4 403.5h1M242.5 414.3h1M269.8 418.9h1M242.3 413.2h1M250.4 426.2h1M268.5 408.2h1M238.8 427.6h1M235.1 419.2h1M247.3 404.8h1M245.7 405.6h1M272.1 413.6h1M261.9 426.8h1M236 434.7h1M249.1 429.1h1M229.9 423.2h1M274.9 408.4h1M256.3 434.2h1M235.5 430.1h1M234.7 407.4h1M230.4 414.8h1M233 410.1h1M295.2 446.2h1M289.3 442.8h1M289.6 440.2h1M324.8 469.5h1" stroke="#d7e7f5" stroke-width="1"/><path d="M123.8 350.9h1M139 335.7h1M158.4 339.7h1M157 340.9h1M121.6 324.1h1M156.8 339.9h1M161.3 342.6h1M137 343h1M133.1 332.8h1M160.9 325h1M137.6 345.5h1M131.1 333.2h1M145.5 348.1h1M154.5 329.9h1M136 341h1M151 345.2h1M136.6 328.8h1M151.2 327.1h1M152.1 324.7h1M142.4 346.9h1M134.7 327.2h1M134.3 329.3h1M137.1 334.9h1M130.2 332.2h1M152 343.3h1M139.9 344.9h1M161.3 337h1M152.7 338.4h1M157.5 346h1M156 334.7h1M166.9 356.1h1M170.3 357.9h1M174.6 364.1h1M187.3 365.9h1M183.5 368.4h1M189.2 363.7h1M223.7 401.2h1M209.7 391h1M211.7 397.7h1M221 391.8h1M217.2 393.4h1M271.2 413.9h1M244.7 421.3h1M230.7 413.4h1M245.8 421.1h1M261.5 426.5h1M272.1 434.9h1M236.3 411.7h1M230.7 406.5h1M270.3 423.8h1M269.2 414.6h1M251.1 406.2h1M260.2 405.5h1M267.1 416.7h1M273.5 420.1h1M274 425.6h1M268 416.2h1M246.6 424.6h1M260.9 421.9h1M232.6 433.1h1M235.3 405.2h1M234.9 408.8h1M284.1 457.2h1M296.7 442.2h1M301.5 441.8h1M312.9 478.7h1M317 464h1M326.8 475.9h1M308.7 477h1M311.1 467.9h1M311.9 479.1h1M319.2 474h1" stroke="#f6f8fc" stroke-width="1"/><path d="M164.9 342.5h1M132 337.4h1M143.8 332.9h1M164 347.6h1M140.1 326.4h1M159.7 348h1M166 327.5h1M145.4 348.6h1M139.6 332h1M149.5 347.6h1M124.7 348.5h1M136.4 343.7h1M143.6 330.3h1M141.7 351.3h1M155.3 326.8h1M138.2 344.5h1M124.6 344.9h1M122.8 333.9h1M133.8 325h1M134 325.9h1M130.3 330.5h1M130.2 324.2h1M133.1 326.2h1M122.8 330.6h1M135.9 333.2h1M148.2 342.1h1M140.5 350.6h1M144.2 346.3h1M142.6 339.7h1M152.2 338.1h1M158.9 346.9h1M161.2 348.5h1M165 345.8h1M155.8 335.9h1M165.4 348.9h1M163.5 357.8h1M172.8 362.1h1M195.2 365.1h1M188.1 365.1h1M216.2 401.5h1M268.6 429.4h1M236.1 407.3h1M269 434.9h1M264.1 429h1M261.5 430.5h1M245.8 422.1h1M234.8 427.3h1M234.2 405.1h1M252 416.8h1M262.6 404.9h1M264.2 407.8h1M274.7 430.3h1M235.4 414.7h1M257.1 405.2h1M273.1 406.6h1M270.1 418.8h1M252.2 404.3h1M247.8 412.8h1M236.1 423.5h1M233.7 432.3h1M261 404.8h1M251.7 428.2h1M259.5 423.1h1M264.4 405.2h1M247.3 418.5h1M235.7 428.9h1M237.7 425.8h1M237 412.5h1M237.2 404.8h1M298.3 454.4h1M286.6 453.5h1M299 457.2h1M297.8 448.3h1M286.9 449.6h1M292.9 445.4h1M316.5 477.1h1M305.7 469.4h1M317.6 473.6h1M322 469.5h1M313.6 477.6h1" stroke="#ffffff" stroke-width="1"/><path d="M151.6 324.4h1M140.3 344.3h1M124.3 352.5h1M149.4 350.4h1M143.8 323.8h1M121.8 343.9h1M123.9 324.9h1M130.9 337h1M121.7 352.9h1M132.7 339.8h1M157.7 339.5h1M140.8 345h1M154.2 338.4h1M134.5 335.2h1M148.8 337.2h1M131.7 332h1M137.1 331.9h1M126.3 326.6h1M130 332.5h1M137.1 323.2h1M165.2 338.2h1M141.3 348.1h1M146.7 339.5h1M149.6 332.3h1M164.7 343.8h1M140.9 337.3h1M141.7 336h1M151.8 350.1h1M161.2 345h1M160.7 339.4h1M160.5 335.5h1M158 345.5h1M156.9 348.8h1M162.1 348.7h1M162.8 345.3h1M162.4 347.5h1M158.9 336.9h1M157.3 346.1h1M155.2 349.7h1M158.1 340.5h1M168.6 352.9h1M166 351.8h1M166.6 357h1M166 351.3h1M171.4 358.9h1M177.3 361.7h1M180.7 379.2h1M183 368.4h1M178.6 366.3h1M184.9 368.4h1M178.8 365.3h1M188 376.8h1M186.2 363.5h1M182.2 377.9h1M197.9 375.4h1M184.7 363.3h1M188.2 377.2h1M195.4 372.4h1M188.8 371.2h1M180 370.5h1M189.4 376.3h1M196.2 372.6h1M197.2 378.8h1M178 379.2h1M183.2 367.4h1M212.3 398.9h1M219.7 388.1h1M204.7 383.8h1M218.5 387.7h1M221.1 400.3h1M221.6 383.4h1M203 401.1h1M209.9 401.5h1M205.7 384.3h1M205.7 391.4h1M202.5 389.9h1M200.2 395.5h1M200.4 395.9h1M207.5 391.1h1M215.2 398.9h1M217.9 395h1M223.1 395.2h1M206.3 392.1h1M219.9 401.2h1M223.4 385.8h1M240.8 416.6h1M233.1 435.5h1M274.8 417.5h1M266.6 426.1h1M248.9 416.7h1M260.8 413.1h1M274.6 435.1h1M237.7 412.3h1M250.9 424.9h1M265.3 413h1M241.6 434.2h1M259.4 413.4h1M268 415.4h1M230.2 423.3h1M268.7 424h1M236 408.6h1M270.4 407.6h1M266.2 403.9h1M263 431.5h1M274.1 422.7h1M272.8 424.7h1M269.2 410.5h1M249.2 412.8h1M261.4 413.4h1M241.8 431.7h1M233 428.2h1M264 404.7h1M250.1 422.7h1M238.8 413.1h1M251.6 422.1h1M256.9 432.5h1M247.2 425.3h1M254.3 411.5h1M239.8 426.9h1M236.4 435.5h1M233 411.2h1M232.6 418.4h1M238 405.4h1M297 450.3h1M292.7 447.7h1M298.3 456.2h1M284.8 439.9h1M276.7 439.8h1M296.2 449.9h1M290.4 446.1h1M277 443.1h1M301.9 446.8h1M293 445.8h1M298.6 439.6h1M299.5 446.7h1M296.5 439.4h1M286.7 447.9h1M290.4 441.6h1M278.4 439.5h1M293.5 456.9h1M278.4 449.1h1M292.1 437.5h1M287.5 442.5h1M286.9 445.6h1M282.4 444h1M294.4 450.1h1M290.2 438.1h1M286.3 443.4h1M288.2 456.7h1M284.4 437.1h1M285.3 441.4h1M318.9 466.1h1M307.5 463.5h1M332.6 457.9h1M312.3 469.7h1M316 469.3h1M331 476.7h1M326.8 463.8h1M330.5 467.7h1M323.3 469.7h1M330 472.8h1M332 469.5h1M321 474.1h1M307.9 478.2h1M315.6 459h1M310.5 462.1h1M315 480h1M313.5 468.2h1M305.5 475.6h1M305.8 459.6h1M305.7 459.8h1M309.2 466.5h1M331.3 475.6h1M330.9 468h1M321.1 473.2h1M333.6 474.5h1M312.4 475.5h1M314.7 477.9h1M306.2 460.4h1M327.2 459.1h1M318.7 479.9h1" stroke="#1a5398" stroke-width="1"/><path d="M123.9 351.3h1M149.1 336h1M166 332.9h1M140 329h1M132.7 328.6h1M123.1 332.4h1M132.2 340.1h1M153.6 328.9h1M144.7 342.8h1M125.6 327.3h1M165.9 333.8h1M126.1 345.7h1M126 339.9h1M152.5 350h1M155.6 332.7h1M139.9 348.6h1M157.2 340.7h1M130.9 329.3h1M131.8 329.3h1M127.2 331h1M129.6 323.4h1M131.4 325.3h1M125.5 325.9h1M126.3 329.2h1M131 329.7h1M137.1 331.7h1M156.5 337.1h1M145.1 339.3h1M154 343.9h1M140.9 339.8h1M145.9 343.8h1M143 342.3h1M140.6 346.5h1M154.8 333.9h1M157.3 340.8h1M164.9 344.7h1M162.6 337.9h1M149.7 343.5h1M146.1 351.3h1M158.9 346.5h1M144.6 336.6h1M149.9 350.4h1M153.6 348.6h1M152.4 336.5h1M158.9 348.5h1M169.5 352.1h1M164.9 356.8h1M163.3 350.4h1M171 358.3h1M178.1 358.7h1M176 357.6h1M194.3 368.5h1M179.5 367.4h1M182.4 380.6h1M182 380.6h1M184.9 365.1h1M193.2 369.2h1M193.9 373.3h1M188.6 371.7h1M197.9 374.3h1M193.2 368.6h1M198.2 374.4h1M189.7 363.7h1M192.8 367.8h1M190.1 375h1M192.5 364.6h1M179 378.4h1M198 368.5h1M182.3 372.2h1M182.8 379.7h1M186.5 365.5h1M193.3 367.9h1M192.6 379.8h1M217.1 383.8h1M199.6 390h1M214.8 389.1h1M221.8 385.2h1M215.6 396.6h1M209.1 391.5h1M221.8 391.3h1M218.9 390.7h1M215 383.3h1M212.1 398.3h1M218.6 390h1M225.3 390.8h1M219 401.9h1M199.4 399.7h1M222.1 387.5h1M212.7 387.7h1M219.2 391.5h1M205.6 400.9h1M216.8 385.3h1M215.7 384.8h1M217.3 394.9h1M209.3 397.5h1M216.3 392.5h1M225.2 393.2h1M208.9 383.6h1M218.6 395h1M270.5 428.8h1M248.3 404.7h1M230.2 408.5h1M270.4 407h1M245.3 424.9h1M232.5 414.6h1M264 435.5h1M265.4 429.6h1M265.9 419.6h1M270.3 433.7h1M262.4 416.9h1M274.7 412.6h1M265.1 406.6h1M260.9 425h1M273.3 406.7h1M259.5 408h1M260.3 423h1M250.8 434.6h1M261.8 413.2h1M244.7 428.3h1M236.2 418.5h1M251.5 427.3h1M244.5 407.6h1M258.7 428.2h1M260.3 406.4h1M238.7 425h1M240.3 416.1h1M242.9 411.8h1M230.2 421h1M268.8 432.4h1M255.3 427h1M237.2 429.7h1M247.9 416.4h1M253.6 403.7h1M231.9 406.3h1M238.9 421.3h1M248.9 424.6h1M258.3 431h1M262.7 421.2h1M265.6 403.9h1M237.9 414.9h1M236.9 412.9h1M236.5 409.7h1M234.9 410.1h1M237.8 419.5h1M230.7 415.7h1M232.9 407.6h1M300.4 439.8h1M293.7 440.8h1M301.9 454.1h1M293.7 455.8h1M283.8 456.6h1M278.3 456.6h1M296.2 455.2h1M285.2 455.4h1M293.4 450.4h1M292.5 441.4h1M280.9 444h1M287.8 451.2h1M278.2 449.1h1M300.2 455.8h1M290.3 448.4h1M284.6 437.1h1M296.6 455.1h1M290 441h1M292.6 441.5h1M279 444.1h1M283.2 437.5h1M283.5 445.7h1M307.3 472.7h1M321.3 477h1M318 462.8h1M308.5 461.9h1M330.1 467.1h1M313.3 474.6h1M321 474.5h1M314.2 474.2h1M317.6 474.4h1M312 466.6h1M319.6 465.8h1M318.5 457.6h1M330 469.9h1M310.9 463h1M318.5 476.3h1M321.3 457.6h1M310.9 464.2h1M331 476.5h1M312.1 462.8h1M316.8 474.4h1M312.4 459h1M321 468h1M315.6 462.1h1M327 462.4h1M330.6 459.2h1M314.8 462.4h1M313.5 463.5h1M319.7 465.9h1M332 478.9h1M314.2 471h1M309.5 464.2h1M327.4 459.8h1" stroke="#3b7fc0" stroke-width="1"/><path d="M122.7 323.5h1M156.7 342.5h1M148 330.2h1M157.2 350.1h1M158.4 329.5h1M145.3 349.3h1M155.6 335h1M162 343.8h1M164.7 343.4h1M141.2 333.2h1M161.2 352.5h1M141.3 338.8h1M153.6 339.6h1M157 351.9h1M122.9 328.9h1M136.1 338.9h1M140 344.8h1M144.4 325.8h1M129.9 329.8h1M128.3 327.2h1M141.1 336.2h1M156.8 333.1h1M151 350.2h1M161.5 347.5h1M164.4 350h1M143.5 348.1h1M141.9 341.4h1M147.8 351.9h1M162.9 350.3h1M144.3 340.5h1M158.3 337.2h1M203.4 401.8h1M225.1 389.3h1M204 392.9h1M222.8 382.1h1M222.9 398.3h1M203.2 383.9h1M260.9 407.1h1M234.8 430.6h1M263.6 431.1h1M264.1 408.2h1M256.9 418.9h1M266.5 425.6h1M233.1 412.5h1M239 412.7h1M258.4 424.5h1M262.9 408.9h1M268.5 431.8h1M258.1 418.6h1M256.7 414.5h1M231.3 405.8h1M268.2 421.7h1M247.4 425.2h1M259.4 430.5h1M251.2 421h1M248.4 414.1h1M233.5 417.3h1M296.8 442.2h1M298.3 452.4h1M291.3 450.2h1M286.3 454.7h1M306.9 470.6h1M331.2 471.2h1M308.9 459.8h1" stroke="#6aa3d6" stroke-width="1"/><path d="M156.3 338.4h0.5M125.4 339h0.5M152.1 341.4h0.5M146.8 352.3h0.5M158.3 340.2h0.5M138.5 344h0.5M161.5 349.2h0.5M128.8 331.9h0.5M160.6 349.8h0.5M144.5 348.7h0.5M154.1 334.5h0.5M161.8 347.8h0.5M141.7 346.8h0.5M149.1 338.1h0.5M149.8 347h0.5M144.5 347.1h0.5M163.8 357.1h0.5M187.9 364.8h0.5M195.8 372.5h0.5M184.7 363.4h0.5M180.9 379h0.5M184 380.2h0.5M196.4 378h0.5M192.6 378.1h0.5M182.2 380.1h0.5M183.7 379.6h0.5M192.4 370.7h0.5M213.9 393h0.5M221.7 397.4h0.5M225.6 382.1h0.5M224.3 391.5h0.5M209.5 393.8h0.5M200.6 393.4h0.5M225.6 391h0.5M216.3 383.2h0.5M209.1 401h0.5M201.5 397h0.5M213 382.7h0.5M223.7 399.2h0.5M207.2 401.1h0.5M229.9 435.3h0.5M271.4 415.7h0.5M250.8 418h0.5M233.5 429.1h0.5M256.8 433.6h0.5M272.7 434.7h0.5M263.1 420.2h0.5M251.4 419.1h0.5M271.7 430.5h0.5M264.5 413.9h0.5M241.4 430.6h0.5M249.3 414.1h0.5M254.4 414.1h0.5M263.2 411.7h0.5M237.8 403.4h0.5M235.2 409.6h0.5M292.4 449.6h0.5M295.4 452.1h0.5M300.6 450.2h0.5M287 446.8h0.5M296.3 440.7h0.5M284.6 440.4h0.5M291.6 450.4h0.5M283.8 443.1h0.5M291.8 452.9h0.5M280.2 454.1h0.5M280.9 438h0.5M288.1 445.4h0.5M281.7 441.8h0.5M313.7 464.2h0.5M311.9 466.8h0.5M319.2 459.5h0.5M333.4 471.8h0.5M333.3 458.3h0.5M324 465.3h0.5M320.3 479.8h0.5M315.7 464.7h0.5M317.7 467h0.5M318 465.7h0.5M309 465h0.5M314.8 460.1h0.5M325.2 459.2h0.5M312.6 464h0.5M316.9 460.1h0.5M332.3 470.6h0.5M323.1 474.1h0.5" stroke="#15488a" stroke-width="0.5"/><path d="M129.1 342.1h1M136.2 331.7h1M145.3 352.7h1M155.3 328.9h1M165.9 327.5h1M130.5 343.5h1M125.5 346.5h1M157.3 342.9h1M149.9 326.1h1M155.2 325.5h1M133.2 330.1h1M123.7 333.2h1M133.7 330.7h1M133.4 325.2h1M134 335.1h1M124.2 333.4h1M146.5 346h1M143 344h1M141 343.9h1M154.6 350.9h1M163.4 342.5h1M142.3 345.6h1M157.8 339.2h1M149.1 350.2h1M141.3 341.8h1M158.4 333.7h1M153.2 334.4h1M162.6 351.6h1M140.4 341.9h1M144.3 343.7h1M145.4 344.6h1M152.2 346h1M156.5 338.6h1M154.3 348h1M158.8 342.7h1M147.1 345.4h1M152.5 340h1M163.2 354.5h1M164.4 353h1M166 357.4h1M177.4 360.3h1M177.8 361.8h1M176.5 359.2h1M197.9 379.1h1M190.6 378.8h1M188.9 370.7h1M180.6 373.7h1M179.3 374h1M194.2 373.5h1M191.6 368.6h1M190.7 364h1M187.9 365.6h1M179.4 377.3h1M192.6 366.5h1M197.9 380h1M191.1 377.7h1M193.9 378.7h1M195 374.3h1M191.7 368.4h1M179.5 368.7h1M190.6 366.4h1M216.2 396.8h1M207.4 383.6h1M213.2 389.1h1M204 388.5h1M221.4 386.8h1M199.7 402h1M224.8 390.6h1M223 392.4h1M217.6 390.5h1M205 388.9h1M216.6 396.7h1M203.4 396.2h1M219.7 401.2h1M215.4 388.2h1M217.6 386.5h1M223.9 398h1M221.6 402.6h1M219.1 389.6h1M219.5 391h1M207.9 385.2h1M216.2 394.6h1M211.4 400.7h1M224.8 397.9h1M206 382.2h1M211.9 397.3h1M215 393.1h1M250.5 408.4h1M247.1 412.1h1M273.1 427.1h1M271.7 412.3h1M241.7 406.8h1M267.7 423h1M234 425.7h1M244.2 405.7h1M254.4 414.3h1M274.4 429.7h1M274 407.1h1M259.7 420.4h1M232.7 416.2h1M238.7 420.3h1M270.8 425.3h1M264.5 413.3h1M266.3 434.1h1M233.6 426h1M255.3 405.4h1M261.2 404.1h1M245.6 422.9h1M263.8 405.9h1M251.4 405.3h1M242.5 424.9h1M249.7 411.7h1M241.3 404.2h1M254.7 415.8h1M230.6 421.8h1M231 420.2h1M255.8 413.4h1M263.3 430.9h1M237.3 420.6h1M237.9 418.5h1M241.3 409.2h1M254.7 419h1M271.6 413h1M252.1 433.6h1M263.5 431.7h1M273.5 432.8h1M230.2 403.8h1M234.5 415.3h1M276.7 454.8h1M280.3 438.4h1M278.3 439.9h1M286.6 442h1M277.1 444.7h1M293.8 454.2h1M302.6 445.3h1M286.6 454.8h1M286 437.5h1M295.3 455.2h1M302.7 453.8h1M299 446.6h1M289.7 453h1M296.1 453.4h1M279.8 440.8h1M301.2 453.3h1M285.7 439.2h1M281.9 454.1h1M295.6 457.4h1M295 438.5h1M292.3 438.3h1M288.9 437.1h1M299.4 456.2h1M288.5 448.9h1M291.3 447.5h1M309.3 457.2h1M306.2 470.4h1M308.2 479.7h1M312 471.7h1M320.5 465.3h1M306.5 472.9h1M319.5 473.3h1M326.5 466.3h1M312.1 467.4h1M305 463.6h1M323.7 467.6h1M306.5 461.2h1M310.6 474.6h1M319.6 457.3h1M315.7 472.2h1M323.2 480h1M329.6 474.3h1M324.3 459.7h1M322 468.8h1M310.6 467.2h1M326.3 467.2h1" stroke="#1e5fa6" stroke-width="1"/><path d="M129.3 337h0.5M139.8 341h0.5M141.2 331.9h0.5M144.8 328h0.5M162.5 344.2h0.5M131 335.4h0.5M122.6 323.9h0.5M133.5 326.4h0.5M142.9 350.6h0.5M182.5 369.6h0.5M214.6 384.7h0.5M216.7 382.2h0.5M220.5 391.3h0.5M262.2 426.9h0.5M236.8 434.4h0.5M269.5 418.4h0.5M241.3 412.8h0.5M257.4 422.7h0.5M258.5 412.5h0.5M234.9 404.8h0.5M258.5 409.6h0.5M237.3 415.8h0.5M235.6 417.2h0.5M285.2 446h0.5M333.4 472.4h0.5" stroke="#d7e7f5" stroke-width="0.5"/><rect x="167" y="343.5" width="59.4" height="0.7" fill="#b8d0ea" opacity="0.55"/><rect x="121.5" y="346" width="38.5" height="0.7" fill="#b8d0ea" opacity="0.55"/><rect x="200" y="367" width="26.4" height="0.7" fill="#b8d0ea" opacity="0.55"/><rect x="199" y="372" width="16" height="0.7" fill="#b8d0ea" opacity="0.55"/><rect x="182" y="381" width="0.7" height="19" fill="#b8d0ea" opacity="0.55"/><rect x="191" y="381" width="0.7" height="24" fill="#b8d0ea" opacity="0.55"/><rect x="126" y="353" width="0.7" height="7" fill="#b8d0ea" opacity="0.55"/><rect x="150" y="353" width="0.7" height="19" fill="#b8d0ea" opacity="0.55"/><rect x="276.5" y="414" width="58.5" height="0.7" fill="#b8d0ea" opacity="0.55"/><rect x="276.5" y="425" width="23.5" height="0.7" fill="#b8d0ea" opacity="0.55"/><rect x="245" y="436.5" width="0.7" height="33.5" fill="#b8d0ea" opacity="0.55"/><rect x="268" y="436.5" width="0.7" height="18.5" fill="#b8d0ea" opacity="0.55"/><rect x="296" y="458" width="0.7" height="20" fill="#b8d0ea" opacity="0.55"/><rect x="324" y="420" width="0.7" height="36" fill="#b8d0ea" opacity="0.55"/><rect x="305" y="446" width="30" height="0.7" fill="#b8d0ea" opacity="0.55"/><rect x="276" y="465" width="28" height="0.7" fill="#b8d0ea" opacity="0.55"/><rect x="236" y="436.5" width="0.7" height="11.5" fill="#b8d0ea" opacity="0.55"/><rect x="180" y="388" width="19" height="0.7" fill="#b8d0ea" opacity="0.55"/>
<line x1="116.2" y1="484.9" x2="116.2" y2="452" stroke="#222" stroke-width="0.8"/>
<line x1="116.2" y1="370" x2="116.2" y2="327" stroke="#222" stroke-width="0.8"/>
<polygon points="116.2,322.6 114.4,329.1 116.2,328.12 118,329.1" fill="#222"/>
<line x1="116.2" y1="485.2" x2="330" y2="485.2" stroke="#222" stroke-width="0.8"/>
<polygon points="335.4,485.2 328.9,483.4 329.88,485.2 328.9,487" fill="#222"/>
<text x="119.3" y="411.3" text-anchor="middle" transform="rotate(-90 119.3 411.3)">Pairwise DMS matrix</text>
<rect x="121.3" y="489.8" width="46.6" height="10" fill="#c9badc"/>
<rect x="167.9" y="489.8" width="58.5" height="10" fill="#f2b3b5"/>
<rect x="229.8" y="489.8" width="46.7" height="10" fill="#c9badc"/>
<rect x="276.5" y="489.8" width="58.5" height="10" fill="#f2b3b5"/>
<rect x="121.3" y="499.8" width="105.1" height="9.8" fill="#3b7fc4"/>
<rect x="198.8" y="499.8" width="27.6" height="9.8" fill="#a9cfe8"/>
<rect x="229.8" y="499.8" width="105.2" height="9.8" fill="#3b7fc4"/>
<rect x="276.5" y="499.8" width="28.3" height="9.8" fill="#a9cfe8"/>
<rect x="124" y="499.8" width="1.2" height="9.8" fill="#a9cfe8"/>
<rect x="127" y="499.8" width="2.5" height="9.8" fill="#a9cfe8"/>
<rect x="131" y="499.8" width="0.8" height="9.8" fill="#a9cfe8"/>
<rect x="134.5" y="499.8" width="1.5" height="9.8" fill="#a9cfe8"/>
<rect x="138" y="499.8" width="1" height="9.8" fill="#a9cfe8"/>
<rect x="142" y="499.8" width="1.3" height="9.8" fill="#a9cfe8"/>
<rect x="164.5" y="499.8" width="0.8" height="9.8" fill="#a9cfe8"/>
<rect x="166" y="499.8" width="0.6" height="9.8" fill="#a9cfe8"/>
<rect x="172" y="499.8" width="0.6" height="9.8" fill="#a9cfe8"/>
<rect x="175" y="499.8" width="0.8" height="9.8" fill="#a9cfe8"/>
<rect x="237.3" y="499.8" width="1.2" height="9.8" fill="#a9cfe8"/>
<rect x="239.5" y="499.8" width="3.5" height="9.8" fill="#a9cfe8"/>
<rect x="244" y="499.8" width="1" height="9.8" fill="#a9cfe8"/>
<rect x="246.5" y="499.8" width="1.5" height="9.8" fill="#a9cfe8"/>
<rect x="250" y="499.8" width="0.8" height="9.8" fill="#a9cfe8"/>
<rect x="258.5" y="499.8" width="1.2" height="9.8" fill="#a9cfe8"/>
<rect x="262" y="499.8" width="0.7" height="9.8" fill="#a9cfe8"/>
<rect x="266" y="499.8" width="0.7" height="9.8" fill="#a9cfe8"/>
<rect x="272.5" y="499.8" width="3.5" height="9.8" fill="#a9cfe8"/>
<rect x="121.3" y="509.6" width="47.4" height="9.8" fill="#fde3cf"/>
<rect x="168.7" y="509.6" width="30.1" height="9.8" fill="#ef7f2b"/>
<rect x="198.8" y="509.6" width="27.6" height="9.8" fill="#a5321f"/>
<rect x="229.8" y="509.6" width="46.7" height="9.8" fill="#fde3cf"/>
<rect x="276.5" y="509.6" width="28.3" height="9.8" fill="#a5321f"/>
<rect x="304.8" y="509.6" width="30.2" height="9.8" fill="#ef7f2b"/>
<text x="337.6" y="309.1">Cell class (<tspan font-style="italic">P</tspan> &lt; 10<tspan font-size="5.5" dy="-3.3">−233</tspan><tspan dy="3.3">)</tspan></text>
<text x="337.6" y="319.9">Diagnosis (<tspan font-style="italic">P</tspan> &lt; 10<tspan font-size="5.5" dy="-3.3">−11</tspan><tspan dy="3.3">)</tspan></text>
<text x="338" y="497.6">Brightfield I. power (<tspan font-style="italic">P</tspan> &lt; 10<tspan font-size="5.5" dy="-3.3">−192</tspan><tspan dy="3.3">)</tspan></text>
<text x="338" y="508.3">DAPI I. power (<tspan font-style="italic">P</tspan> &lt; 10<tspan font-size="5.5" dy="-3.3">−128</tspan><tspan dy="3.3">)</tspan></text>
<text x="338" y="517.8">Cluster ID</text>
<text x="2" y="549" font-weight="bold" font-size="10" fill="#111">C</text>
<g transform="translate(0 0) scale(1)"><use href="#tU" fill="#a29b74"/><use href="#tT" fill="#a29b74"/><use href="#tO1" fill="#a29b74"/><use href="#tS" fill="#a99abd"/><use href="#tO2" fill="#a29b74" stroke="#fff" stroke-width="1"/><use href="#tL" fill="#8e64aa" stroke="#fff" stroke-width="1.4"/><g clip-path="url(#tclip)"><g><path d="M44.7 597.7h0M49.5 586h0M54.2 622.5h0M44.3 600.2h0M58.6 623.1h0M60.3 629.2h0M36 623.8h0" stroke="#ffffff" stroke-width="1.5" stroke-linecap="round"/><path d="M44.8 634.3h0M58.9 631.6h0M36.2 637h0M53.7 634.2h0M55 618.5h0M52.9 591.5h0M54 615.4h0M36.7 610.8h0M34.4 601.9h0M41.9 635.9h0M52.1 597.9h0M53.1 600.1h0M52.1 590h0" stroke="#e6dcef" stroke-width="1" stroke-linecap="round"/><path d="M44.7 625.2h0M41.2 623h0M58.8 626.3h0M50.5 636.8h0M40.5 631.7h0M47.7 616.2h0M48.9 600h0M45.3 614.9h0M61 632.1h0M59.1 629.3h0M40.3 586.4h0M42.4 637.1h0" stroke="#b9a2cc" stroke-width="0.5" stroke-linecap="round"/><path d="M41 639.9h0M53.3 638.9h0M37 590.1h0M54.8 614.7h0M43 592.6h0M36.8 637h0M49.5 596.8h0M52.7 588.5h0M51.4 612.1h0M39.1 611.1h0M43 605.2h0M42.7 601.7h0M38.5 623.1h0M41.6 612.1h0M54.1 598.3h0" stroke="#ffffff" stroke-width="1" stroke-linecap="round"/><path d="M38.3 593.2h0M40 624.9h0M40.3 586.4h0M36.3 621.8h0M53.2 600.2h0M55.9 588.9h0M38.2 632h0M37.4 623.9h0M57.1 624.4h0M34.5 594.1h0M38.2 621h0M35.2 603h0M45.3 621.2h0M48.6 595.6h0M36.6 631.5h0M47.9 623h0M56.2 620.4h0M59.7 634.4h0" stroke="#b9a2cc" stroke-width="1" stroke-linecap="round"/><path d="M56 586.8h0M54.5 622.4h0M48.5 635.6h0M53.4 596.8h0M55.2 619.7h0M55.5 625h0M34.4 587.9h0M57.8 627.9h0M56.5 599.8h0" stroke="#e6dcef" stroke-width="1.5" stroke-linecap="round"/><path d="M47.8 606.7h0M46.8 599.5h0M52.6 608.1h0M55.2 623.3h0" stroke="#ffffff" stroke-width="0.5" stroke-linecap="round"/><path d="M44 599.9h0M47.2 616.3h0M56.5 631.9h0M36.4 605.4h0M39.7 601.3h0M43.8 585.4h0" stroke="#e6dcef" stroke-width="0.5" stroke-linecap="round"/><path d="M42.5 628.9h0M46.3 624.5h0M55.1 633h0M45.3 621.1h0M43.9 596h0M40.1 589.6h0" stroke="#b9a2cc" stroke-width="1.5" stroke-linecap="round"/></g><g><path d="M40.7 594.2h0M59.4 651.7h0M37.9 600.7h0M48.1 593.8h0M82.1 656.7h0M69.6 622.1h0M69.7 625.2h0M79.6 646.4h0" stroke="#7a549a" stroke-width="1.5" stroke-linecap="round"/><path d="M49.4 575.2h0M62.1 624.7h0M42.1 635h0M53.2 579.1h0M55.1 584.2h0M52.4 612.2h0M67.6 650.8h0M79.4 655.6h0M52.9 657.1h0" stroke="#7a549a" stroke-width="1" stroke-linecap="round"/><path d="M60.1 627.4h0M33.8 613.8h0M26.2 603.2h0M78.6 627.9h0M54 659.1h0M69 647.7h0M48 638.2h0M37 585.3h0M35.6 616.3h0M79.4 649.3h0" stroke="#a284bb" stroke-width="1" stroke-linecap="round"/><path d="M29.8 581.8h0M46.8 626.5h0M34 607.2h0M62.4 626.9h0M56.4 645.6h0M28.1 609.7h0M53.4 583.3h0M52.6 626.2h0M44 622.7h0M49.9 613.9h0" stroke="#a284bb" stroke-width="1.5" stroke-linecap="round"/><path d="M72.3 643.9h0M63.1 625.3h0" stroke="#7a549a" stroke-width="2" stroke-linecap="round"/><path d="M50.2 616.8h0" stroke="#a284bb" stroke-width="2" stroke-linecap="round"/></g><g><path d="M96.2 613.9h0M91.4 591.5h0M82.8 612.2h0M49.8 563.5h0M95.5 574h0M99.7 590.2h0M65.5 606.4h0M81.3 601.6h0M82.1 594.3h0M78.2 616.7h0M78.5 587.1h0M98.3 604.9h0M69.5 614.4h0M98.8 582.8h0M78.3 617.1h0" stroke="#b3ad8a" stroke-width="1.5" stroke-linecap="round"/><path d="M49.5 558.8h0M73.8 554.1h0M110.2 597.1h0M80 555.1h0M60.4 584.3h0M120.1 599.2h0M116.5 597.5h0M88.5 591.8h0M99.7 588.9h0M115.7 599.5h0M52.7 552.3h0M89.1 611.9h0M68.9 558.4h0M66.6 584.4h0" stroke="#8f895f" stroke-width="1" stroke-linecap="round"/><path d="M92.5 613.4h0M68.5 605.6h0M75.9 605.2h0M89.7 623.5h0M62.9 574.3h0M61.6 581h0M65.2 560.6h0M105.5 588.9h0M78.9 608.2h0M82.1 587.3h0M80 605.9h0M106.3 579h0M68.6 611h0M84.9 616h0M64.2 605.7h0M79.4 552.8h0" stroke="#b3ad8a" stroke-width="1" stroke-linecap="round"/><path d="M95.6 585.4h0M90.1 579.8h0M54.8 557.1h0M112.7 590.6h0M86.1 593.6h0M84.5 596.4h0M98.3 608.5h0M47 558.9h0M48.8 564.8h0M101.9 579.3h0M75.4 565.2h0M51 558.6h0M114.7 598.3h0M48 555.3h0" stroke="#8f895f" stroke-width="1.5" stroke-linecap="round"/><path d="M83.1 623.6h0" stroke="#8f895f" stroke-width="2" stroke-linecap="round"/></g><g><path d="M41.5 652.9h0M41.3 652.3h0M39.3 649.7h0M41 649.5h0M43.6 656.7h0" stroke="#ffffff" stroke-width="1" stroke-linecap="round"/><path d="M39.3 652.6h0M42.7 649.8h0M43.2 653.1h0M40.9 651.9h0" stroke="#6a4a8a" stroke-width="1.5" stroke-linecap="round"/><path d="M41.2 651.6h0M44.2 654.9h0" stroke="#c0b0d0" stroke-width="1.5" stroke-linecap="round"/><path d="M41.1 650.9h0M41.2 652.2h0M44.5 655.4h0M42.2 650.3h0M43.7 648.2h0" stroke="#6a4a8a" stroke-width="1" stroke-linecap="round"/><path d="M38.8 653.8h0M40.6 656.3h0" stroke="#6a4a8a" stroke-width="0.5" stroke-linecap="round"/><path d="M40.2 650h0" stroke="#ffffff" stroke-width="0.5" stroke-linecap="round"/><path d="M46.4 654.3h0M43.3 657.2h0M38.9 649.7h0" stroke="#c0b0d0" stroke-width="0.5" stroke-linecap="round"/><path d="M41.7 648h0" stroke="#c0b0d0" stroke-width="1" stroke-linecap="round"/><path d="M44 653.8h0M42.2 657.3h0" stroke="#ffffff" stroke-width="1.5" stroke-linecap="round"/></g></g><path d="M84.6 566 L86.6 566 L86.2 582 L85.8 596 L85.4 596 L84.9 582 Z" fill="#fff" stroke="#fff" stroke-width="0.96" stroke-linejoin="round"/><path d="M33.1 574.6C35.6 572.68 38.65 572.1 42.3 572.3C45.95 572.5 52.3 574.45 55 575.8C57.7 577.15 58.07 577.7 58.5 580.4C58.93 583.1 57.8 587.97 57.6 592C57.4 596.03 56.38 600.97 57.3 604.6C58.22 608.23 60.22 611.1 63.1 613.8C65.98 616.5 71.53 618.48 74.6 620.8C77.67 623.12 79.97 625.02 81.5 627.7C83.03 630.38 83.42 633.05 83.8 636.9C84.18 640.75 84.18 646.57 83.8 650.8C83.42 655.03 82.65 659.42 81.5 662.3C80.35 665.18 79.2 666.75 76.9 668.1C74.6 669.45 70.77 670.78 67.7 670.4C64.63 670.02 60.82 667.53 58.5 665.8C56.18 664.07 54.97 662.12 53.8 660C52.63 657.88 52.27 655.4 51.5 653.1C50.73 650.8 50.73 648.13 49.2 646.2C47.67 644.27 44.6 643.05 42.3 641.5C40 639.95 37.7 639.2 35.4 636.9C33.1 634.6 30.23 631.15 28.5 627.7C26.77 624.25 25.7 620.05 25 616.2C24.3 612.35 24.3 608.45 24.3 604.6C24.3 600.75 24.5 596.57 25 593.1C25.5 589.63 25.95 586.88 27.3 583.8C28.65 580.72 30.6 576.52 33.1 574.6Z" fill="none" stroke="#fff" stroke-width="1.4"/><path d="M121.2 594.2C121.2 595.3 121.12 596.43 120.96 597.49C120.81 598.55 120.57 599.6 120.28 600.55C119.98 601.5 119.6 602.41 119.18 603.18C118.76 603.96 118.27 604.65 117.75 605.2C117.23 605.75 116.66 606.18 116.09 606.47C115.51 606.75 114.9 606.9 114.3 606.9C113.7 606.9 113.09 606.75 112.51 606.47C111.94 606.18 111.37 605.75 110.85 605.2C110.33 604.65 109.84 603.96 109.42 603.18C109 602.41 108.62 601.5 108.32 600.55C108.03 599.6 107.79 598.55 107.64 597.49C107.48 596.43 107.4 595.3 107.4 594.2C107.4 593.1 107.48 591.97 107.64 590.91C107.79 589.85 108.03 588.8 108.32 587.85C108.62 586.9 109 585.99 109.42 585.22C109.84 584.44 110.33 583.75 110.85 583.2C111.37 582.65 111.94 582.22 112.51 581.93C113.09 581.65 113.7 581.5 114.3 581.5C114.9 581.5 115.51 581.65 116.09 581.93C116.66 582.22 117.23 582.65 117.75 583.2C118.27 583.75 118.76 584.44 119.18 585.22C119.6 585.99 119.98 586.9 120.28 587.85C120.57 588.8 120.81 589.85 120.96 590.91C121.12 591.97 121.2 593.1 121.2 594.2Z" fill="none" stroke="#fff" stroke-width="1"/><path d="M61 572.3 Q72 570.3 84 572.3" fill="none" stroke="#fff" stroke-width="0.9" stroke-dasharray="1.2 1"/></g>
<circle cx="17" cy="613.8" r="1.1" fill="#8e64aa"/>
<rect x="131.5" y="555" width="7.7" height="7.7" fill="#8e64aa"/>
<text x="141.6" y="562.1">Cancer (C)</text>
<rect x="131.5" y="565.8" width="7.7" height="7.7" fill="#a29b74"/>
<text x="141.6" y="572.8">Healthy (H)</text>
<g transform="translate(175 0) scale(1)"><use href="#tU" fill="#c9c9c9"/><use href="#tT" fill="#c9c9c9"/><use href="#tO1" fill="#c9c9c9"/><use href="#tS" fill="#e6e6ea"/><use href="#tO2" fill="#c9c9c9" stroke="#fff" stroke-width="1"/><use href="#tL" fill="#c9c9c9" stroke="#fff" stroke-width="1.4"/><g clip-path="url(#tclip)"><g><path d="M47.9 610.6h0M49.3 607.6h0M39.5 600.8h0M62.2 617.7h0M27.5 589.2h0M68.1 622.3h0M71.3 610.8h0M98.9 607.6h0M75 599.4h0M71.4 560.4h0M70 647.4h0M96.7 586.3h0M87 605.7h0M45.9 576.9h0M37.2 595.1h0M68.2 583.1h0M106.6 591.1h0M85.1 594.8h0M55 579.9h0M61.3 573.2h0M58.5 622.5h0M68.4 663.6h0M38 598.9h0M105.6 602.6h0M104.2 577.1h0M93.5 604.4h0M72.2 575.4h0M57.3 580h0M46.4 610.2h0M44.7 610.6h0M92 576.4h0M79.8 566h0M80 563.2h0M30.4 598.4h0M99.4 602.9h0M111.5 602.5h0M36.6 618.5h0M79 554.7h0M32.7 606.8h0M62.9 659.8h0M57.8 617.3h0M75.1 559.2h0M52.9 639.2h0M63.1 573.5h0M67 583.5h0M116.5 589.9h0M51.6 600.4h0M100.1 582.4h0M70.6 613.8h0M68.7 592.6h0M55.4 581.3h0M33.4 628.1h0M40.5 617.3h0" stroke="#b5b5b5" stroke-width="1" stroke-linecap="round"/><path d="M77.4 605.9h0M119.1 594.7h0M77.6 571.7h0M72.3 612.6h0M76.6 613.2h0M111 583.7h0M29.5 606.1h0M99.8 616.3h0M72.8 665.5h0M65.5 651.7h0M95.5 570.4h0M43.5 602.3h0M105.9 583.2h0M62 636.3h0M71.9 586.4h0M101.4 607.2h0M98.1 578.7h0M25.8 592.3h0M114 599.5h0M46.8 599.3h0M64 617.4h0M44.9 610h0M75.8 659h0M24.9 603.5h0M71.8 592h0M73.1 614.6h0M70.1 555.4h0M42 599.5h0M70.2 629.6h0M84.7 605.5h0M103.7 622.6h0M106.1 611.9h0M54.3 563.1h0M57.8 642.4h0M101 585.6h0M106.1 601.6h0M33.5 629.4h0M81.2 606.1h0M52.4 646h0" stroke="#dadada" stroke-width="1.5" stroke-linecap="round"/><path d="M53.3 604.2h0M77.5 663.9h0M27 600.8h0M41.6 586h0M98.9 572.5h0M25.3 613.9h0M73.4 618.1h0M95 589.3h0M26.1 608.7h0M40.7 610.3h0M69.1 623.4h0M93.3 589.3h0M56.8 607.2h0M76.6 618.4h0M75.5 652.8h0M95.8 577.6h0M87.5 585.3h0M72.9 624.7h0M64.3 573.2h0M67.3 657.2h0M68 595.3h0M87.7 603.7h0M46.7 602.9h0M68.2 651.4h0M87.8 623.5h0M41.6 594.2h0M80 584.6h0M43.2 639.2h0M78.9 603.5h0M78.6 625.4h0M81.1 563.9h0M80 651.5h0M41.4 581.2h0M80.3 654h0M69.3 641h0" stroke="#b5b5b5" stroke-width="1.5" stroke-linecap="round"/><path d="M77.7 656.8h0M81.8 602.8h0M51.4 644.2h0M55.3 618.8h0M63.9 639.5h0M62.3 664.1h0M29.5 605.3h0M82.8 611.8h0M77.1 570.4h0M53.4 560.2h0M90.4 617.3h0M56.1 621h0M55.7 641h0M63 587.1h0M100 625.4h0M34.5 614.2h0M50.3 637.5h0M78 657h0M36.8 599.3h0M65.2 666.3h0M33.8 624.4h0M103.3 603.9h0M77.4 577.9h0M101.3 614.4h0M57.7 626.1h0M78.2 647.4h0M26.7 615.4h0M80.1 576.6h0M28 584.8h0M40.1 608.2h0M102.9 582.7h0M106.1 596.5h0M82.6 585.7h0M51.7 626.3h0M98 569.1h0M118.7 595.1h0M64.8 557.2h0M77.2 657.9h0M49.1 643h0M57.2 636.3h0M93.2 586h0M78.7 580.7h0M92.4 622.3h0M30.2 581.2h0M64.2 574.6h0M92.8 589.4h0M47.7 554.3h0M82.6 582.9h0M61.8 628.8h0M90.2 582.5h0M52.9 594.8h0M59.7 581.7h0M104.8 602.3h0M81.9 611.3h0M66.9 619.9h0M54.3 659h0M67.2 666.9h0M77 560.9h0M73.3 667.3h0M99.1 586.3h0M90.4 606h0M61.2 611h0M41.3 593.3h0M48.4 620h0M118.9 598.6h0M74.3 639.5h0M106.4 589.1h0M48.3 587.2h0M71.9 627.1h0M78.9 565.5h0M72.9 558.2h0M74.6 604.2h0M66 634.6h0" stroke="#dadada" stroke-width="1" stroke-linecap="round"/></g><path d="M36 572C37.5 571.25 47.9 572.3 50 572.5C52.1 572.7 56.1 573.25 57 574C57.9 574.75 59.3 578.7 59 580C58.7 581.3 55.3 585.5 54 587C52.7 588.5 47.3 594.9 46 595C44.7 595.1 42.1 589.5 41 588C39.9 586.5 35.5 581.6 35 580C34.5 578.4 34.5 572.75 36 572Z" fill="#4d5472" opacity="0.9"/><g><path d="M52.6 587.1h0M48.5 591.8h0M38.5 593h0M39.5 592.2h0M55.9 579.8h0M38 598.4h0M48.7 596h0M54 581.6h0" stroke="#6a7090" stroke-width="1.5" stroke-linecap="round"/><path d="M37.9 583.7h0M43.5 575.3h0M50.7 585.7h0M37.6 578.1h0M44.6 588.7h0M51.1 576.9h0M34.2 587.9h0M52.9 584.4h0M38.6 581.3h0M39.6 594.7h0M37.3 585.6h0" stroke="#4d5472" stroke-width="1" stroke-linecap="round"/><path d="M46 590.6h0M44.2 596.4h0M41.7 594.7h0M44.6 591.9h0M38.7 597h0M49.4 576.4h0M36.3 593h0" stroke="#6a7090" stroke-width="2" stroke-linecap="round"/><path d="M36.8 588h0M50 580.5h0M37.2 592.2h0M40 587.1h0M50.7 587.7h0M37.6 575.4h0M33.7 589.7h0" stroke="#4d5472" stroke-width="1.5" stroke-linecap="round"/><path d="M55.1 586.3h0M45.4 576.2h0M54 581.5h0M56.6 582.4h0M50.5 586.5h0M55.4 576.4h0" stroke="#4d5472" stroke-width="2" stroke-linecap="round"/><path d="M49.8 575.1h0" stroke="#6a7090" stroke-width="1" stroke-linecap="round"/></g><g><path d="M66.3 662.4h0M53.2 609.1h0M80.5 654h0M73.2 660.7h0M54.8 615.9h0M51.3 607.8h0M75.1 634.6h0M47.6 644h0M49.7 640.4h0M69.2 634.9h0M63.1 657.9h0M60.8 626.3h0M60.3 626.7h0M81.4 637.8h0M79 646h0M57.3 606.7h0M64.5 641.6h0M61.5 616.2h0M60 623.9h0M61 633.9h0M75.1 640.2h0M81.3 656.6h0M81.7 656.8h0M46.3 617.2h0M49.1 630.4h0M74.1 621.8h0M66.8 658.7h0M74.3 632.8h0M66 667.2h0M79.8 659h0M54.3 629.6h0M58.6 663.1h0M61.7 639.5h0M75.6 667.2h0M49.1 599.2h0" stroke="#8a8fa8" stroke-width="1.5" stroke-linecap="round"/><path d="M60.1 650h0M60 647.4h0M42.9 622.1h0M55.1 614h0M49.7 609.6h0M64 659.3h0M63.6 620.6h0M43.4 600.2h0M66.9 625h0M71.5 652.7h0M52.9 628.9h0M69.5 659.4h0M78.7 651.7h0M62.3 644.1h0M68.1 618.3h0M79.8 641.1h0M65.6 629.5h0M41.8 637.4h0M69.5 668.8h0M52.9 613.4h0M78.2 656h0M56 625h0M69.8 650.9h0M54.9 610.1h0M52.2 652.9h0M57.5 658.7h0M52.8 625.3h0M59.2 627.2h0M69 633.9h0M67.4 636.6h0M44 618.7h0M59.9 624.8h0" stroke="#3e4460" stroke-width="2" stroke-linecap="round"/><path d="M71.3 660.1h0M52.7 627.7h0M52.7 622.4h0M61.9 638h0M56.5 627.8h0M80 655.7h0M60.5 640.5h0M43.4 616.7h0M38.6 623.1h0M69.1 631.5h0M53.2 637.7h0M79.7 632.5h0M59.3 640.1h0M77.7 653.3h0M74.4 621.6h0M58.3 616.9h0M40.7 638.2h0M63.4 633.6h0M56.9 602.3h0M65 638.3h0M54.1 619.9h0M65.7 664.7h0M67.1 619.2h0M76.8 632.6h0M71.4 667.1h0M58.2 659.1h0M42.4 640.5h0M56.6 651h0M76.3 632.4h0" stroke="#4d5472" stroke-width="2" stroke-linecap="round"/><path d="M40.6 601.4h0M62.5 644.4h0M62 665.8h0M67.3 645.7h0M49.1 644.8h0M45.6 623.5h0M76.8 661.9h0M42.9 634.4h0M80.4 658h0M73 622.4h0M55.3 601.9h0M48.1 604.8h0M51.5 642.3h0M49.7 615.9h0M65.9 640.6h0M69.5 653h0M42.7 599.8h0M77.5 631.7h0M51.4 607.6h0M58.3 657.8h0M43.5 640.5h0M60.9 636.4h0M49.9 634.2h0M81.7 651.7h0M68.7 653.5h0M42.8 634.2h0" stroke="#5d6484" stroke-width="1.5" stroke-linecap="round"/><path d="M48.5 608h0M49.8 642.6h0M59.8 635.7h0M82 651.8h0M78.6 633.5h0M45.5 622.3h0M47.5 606.4h0M60.4 651.9h0M53.9 656.2h0M40.4 627.7h0M65.2 645.4h0M54.9 617.3h0M68.2 647.9h0M74 641.7h0M48.8 606h0M78.6 658.3h0M59 661.1h0M72.4 657.1h0M52.9 652h0M63 625.2h0M48.7 624.6h0M52.7 610.6h0M70.5 640.6h0M71.7 652.6h0M64.7 632.6h0" stroke="#3e4460" stroke-width="1.5" stroke-linecap="round"/><path d="M83.3 645.6h0M58.5 657.7h0M73.7 624h0M81.6 631.5h0M59.8 642.6h0M57.5 626.7h0M60.3 612.9h0M50 630.7h0M64.3 660.3h0M64.3 632h0M79.5 635.9h0M74.6 633.2h0M47.6 608.8h0M68.4 657h0M39.4 635.4h0M44.8 618.6h0M75.7 659.5h0M40.3 604.8h0M55.7 640.4h0M48.7 611.3h0M67.1 654.2h0M62.2 648.6h0M51.2 622.6h0M54.9 602.5h0M59.6 610.9h0M54.8 616.2h0M73.3 651.6h0M71 640.7h0M81.4 629.5h0M77.6 626.5h0M63.7 623.2h0M43.8 620.2h0" stroke="#5d6484" stroke-width="2" stroke-linecap="round"/><path d="M65.1 658.7h0M55.1 600.6h0M41.1 609.9h0M81.9 657.9h0M59.4 655.1h0M57.3 661.5h0M73.9 627.2h0M42.3 600.8h0M41.5 602.4h0M43.2 620h0M60.9 629.5h0M47.4 633.2h0M53 630h0M52.9 636.9h0M54.7 635.3h0M66.4 660.6h0M39.7 618.9h0M65.9 662.5h0" stroke="#5d6484" stroke-width="1" stroke-linecap="round"/><path d="M49.8 602.1h0M55.3 619.5h0M55 648.1h0M46 622h0M79.5 664.6h0M66.5 623.3h0M60.7 647.9h0M55.3 622.7h0M73.5 635.1h0M65.3 667.4h0M43.6 604h0M73.9 638.6h0M80.4 646.6h0M68.5 630.9h0M65.1 620.5h0M50.1 604.9h0M51.3 652.3h0M46.4 641.9h0M48.8 644.7h0M64.4 627.7h0M52.9 642.2h0M61.1 614.7h0M81.5 643.2h0M42.9 620.4h0M52.8 607.7h0M69 633.5h0M71.7 667.8h0" stroke="#8a8fa8" stroke-width="1" stroke-linecap="round"/><path d="M59.1 615.2h0M63.9 614.9h0M62.8 641.6h0M40.7 624.9h0M56.2 652h0M38.5 612.1h0M68 653.9h0M44.2 621.9h0M53.3 642.2h0M80.8 627.2h0M77.2 627h0M58.9 652.7h0M74.3 657h0M58.9 654.5h0" stroke="#3e4460" stroke-width="1" stroke-linecap="round"/><path d="M40.8 636.5h0M64.7 661h0M59.4 657.9h0M55.1 642.4h0M63.7 662h0M65.8 653.1h0M55.5 613.7h0M43.7 612.4h0M61.2 626.5h0M69 633.1h0M41.7 636.1h0M63.3 666.7h0M69.6 635.7h0M60 664.6h0M42.8 621.4h0M58.7 640.7h0M55.9 615.5h0M52.7 646.4h0M51.1 642.5h0M57.5 625.6h0M74.9 640.5h0M73.4 660.6h0M72.9 647.8h0M52.8 622h0M70.7 645.6h0M77.5 647.4h0M66.3 666.4h0M55.8 630.9h0M54.4 607.2h0M78.3 626.1h0M49.2 604.8h0M68 616.9h0M40.3 637.8h0M54.3 628h0M51 606.1h0M46.8 630.8h0" stroke="#8a8fa8" stroke-width="2" stroke-linecap="round"/><path d="M70 640.6h0M38.1 610.1h0M78.4 640.7h0M75.7 657.4h0" stroke="#4d5472" stroke-width="2.5" stroke-linecap="round"/><path d="M63 628h0M45.9 618.3h0M74.2 661.2h0M71.7 640.6h0M59.5 621.7h0M59.4 636.5h0M79 663.3h0M65.7 668.4h0M72.1 653.2h0M74.3 657.3h0M69.7 626.9h0M76.1 634.9h0M77.1 637.6h0M60.4 652.3h0M72.3 635.3h0M64.3 626.7h0M60.4 642.4h0M80.8 634.1h0M59.8 616.5h0M69.8 651.5h0M57.4 613.6h0M76.8 661.1h0M64.8 648.9h0M73.2 659.4h0" stroke="#4d5472" stroke-width="1.5" stroke-linecap="round"/><path d="M41.2 604.8h0M61.4 644.2h0M66.1 619.5h0M49.9 611.9h0M46.6 600.3h0M72.5 636.2h0M73.4 625.2h0M81.5 632.4h0M50.9 641.7h0M83.6 642.4h0M55 639.8h0M74.3 646.7h0M63.7 616.1h0M61.6 655.7h0M40 618.3h0" stroke="#4d5472" stroke-width="1" stroke-linecap="round"/><path d="M79.2 663.9h0M55.5 616.3h0M75.4 658.6h0M51.7 607.5h0M43.9 617.5h0M68.4 644.9h0M54.6 622.9h0" stroke="#5d6484" stroke-width="2.5" stroke-linecap="round"/><path d="M67.5 623.7h0M55.6 635.6h0M68.6 657.5h0M68.8 665h0M78.1 652.1h0" stroke="#3e4460" stroke-width="2.5" stroke-linecap="round"/><path d="M54.3 641.3h0" stroke="#8a8fa8" stroke-width="2.5" stroke-linecap="round"/></g><g><path d="M43.2 596.9h0M44.2 609h0M35.7 619.9h0M37.7 637.3h0M44.6 625h0M29.2 607h0M41.7 604.7h0M43.5 628.9h0M36.8 609.2h0M36.3 594.9h0M40.3 617.8h0M28.5 627.2h0M39.9 601.3h0M27.8 603.9h0M33.7 608.6h0M32.4 592.3h0M35.9 621.4h0" stroke="#6a7090" stroke-width="1.5" stroke-linecap="round"/><path d="M39.4 633.8h0M28 612h0M43.7 602.6h0M41.4 591.9h0M28.7 610.5h0M39.4 603.6h0M38.4 628.1h0M36.8 606.7h0M42.4 633.9h0M43.8 616.4h0M39.2 614.4h0" stroke="#4d5472" stroke-width="1.5" stroke-linecap="round"/><path d="M43.6 603.7h0M31.8 590h0M26.3 600.1h0M42.8 611.4h0M30 618.4h0" stroke="#4d5472" stroke-width="1" stroke-linecap="round"/><path d="M43.1 634.1h0M42.8 602.3h0M36.3 601.9h0M37.7 609.4h0M28.5 603.5h0" stroke="#6a7090" stroke-width="1" stroke-linecap="round"/><path d="M35.7 632.5h0M37.9 612.4h0M33.2 605.9h0M34 607h0M30.7 608.3h0M44.7 609h0M39.7 618.8h0" stroke="#6a7090" stroke-width="2" stroke-linecap="round"/><path d="M30.9 628.5h0M28 611.4h0M32.4 628.7h0M25.1 607.7h0M28.6 602h0" stroke="#4d5472" stroke-width="2" stroke-linecap="round"/></g><path d="M86 571 L101 569 L106 576 L107 600 L106 615 L102 626 L94 630 L87 627 L85 610 L86 596 Z" fill="#bec4e4"/><g><path d="M87 627.4h0" stroke="#c8cdea" stroke-width="2" stroke-linecap="round"/><path d="M91.7 572.6h0M88.6 587h0M92.8 624.3h0M89.6 626.7h0M89.6 609.7h0M101.9 616.9h0M86.7 620.3h0M99.2 607.7h0M96.1 617h0M86.4 597.4h0" stroke="#c8cdea" stroke-width="1" stroke-linecap="round"/><path d="M92.7 613h0M90.1 612h0M91.6 575.8h0M97.9 614.2h0M90.9 572.9h0M95.9 571.9h0M87.7 581.7h0M100.7 580.2h0M91.4 600.9h0M89.9 618.4h0M91 594.4h0M88 603.5h0M99.8 599.1h0" stroke="#b0b8de" stroke-width="1.5" stroke-linecap="round"/><path d="M93.5 593.1h0" stroke="#b0b8de" stroke-width="2" stroke-linecap="round"/><path d="M102 570.2h0M86.2 582.2h0M101.8 593.4h0M85.2 619.5h0M93 580.4h0M104.6 583.6h0M101 589.9h0M92.6 604.1h0M106.7 602.7h0M103 584.6h0M101.2 612.9h0" stroke="#b0b8de" stroke-width="1" stroke-linecap="round"/><path d="M88.8 585h0M91.2 621.9h0M85.6 615.1h0M92.8 610.4h0" stroke="#c8cdea" stroke-width="1.5" stroke-linecap="round"/></g></g><path d="M84.6 566 L86.6 566 L86.2 582 L85.8 596 L85.4 596 L84.9 582 Z" fill="#fff" stroke="#fff" stroke-width="0.96" stroke-linejoin="round"/><path d="M33.1 574.6C35.6 572.68 38.65 572.1 42.3 572.3C45.95 572.5 52.3 574.45 55 575.8C57.7 577.15 58.07 577.7 58.5 580.4C58.93 583.1 57.8 587.97 57.6 592C57.4 596.03 56.38 600.97 57.3 604.6C58.22 608.23 60.22 611.1 63.1 613.8C65.98 616.5 71.53 618.48 74.6 620.8C77.67 623.12 79.97 625.02 81.5 627.7C83.03 630.38 83.42 633.05 83.8 636.9C84.18 640.75 84.18 646.57 83.8 650.8C83.42 655.03 82.65 659.42 81.5 662.3C80.35 665.18 79.2 666.75 76.9 668.1C74.6 669.45 70.77 670.78 67.7 670.4C64.63 670.02 60.82 667.53 58.5 665.8C56.18 664.07 54.97 662.12 53.8 660C52.63 657.88 52.27 655.4 51.5 653.1C50.73 650.8 50.73 648.13 49.2 646.2C47.67 644.27 44.6 643.05 42.3 641.5C40 639.95 37.7 639.2 35.4 636.9C33.1 634.6 30.23 631.15 28.5 627.7C26.77 624.25 25.7 620.05 25 616.2C24.3 612.35 24.3 608.45 24.3 604.6C24.3 600.75 24.5 596.57 25 593.1C25.5 589.63 25.95 586.88 27.3 583.8C28.65 580.72 30.6 576.52 33.1 574.6Z" fill="none" stroke="#fff" stroke-width="1.4"/><path d="M121.2 594.2C121.2 595.3 121.12 596.43 120.96 597.49C120.81 598.55 120.57 599.6 120.28 600.55C119.98 601.5 119.6 602.41 119.18 603.18C118.76 603.96 118.27 604.65 117.75 605.2C117.23 605.75 116.66 606.18 116.09 606.47C115.51 606.75 114.9 606.9 114.3 606.9C113.7 606.9 113.09 606.75 112.51 606.47C111.94 606.18 111.37 605.75 110.85 605.2C110.33 604.65 109.84 603.96 109.42 603.18C109 602.41 108.62 601.5 108.32 600.55C108.03 599.6 107.79 598.55 107.64 597.49C107.48 596.43 107.4 595.3 107.4 594.2C107.4 593.1 107.48 591.97 107.64 590.91C107.79 589.85 108.03 588.8 108.32 587.85C108.62 586.9 109 585.99 109.42 585.22C109.84 584.44 110.33 583.75 110.85 583.2C111.37 582.65 111.94 582.22 112.51 581.93C113.09 581.65 113.7 581.5 114.3 581.5C114.9 581.5 115.51 581.65 116.09 581.93C116.66 582.22 117.23 582.65 117.75 583.2C118.27 583.75 118.76 584.44 119.18 585.22C119.6 585.99 119.98 586.9 120.28 587.85C120.57 588.8 120.81 589.85 120.96 590.91C121.12 591.97 121.2 593.1 121.2 594.2Z" fill="none" stroke="#fff" stroke-width="1"/><path d="M61 572.3 Q72 570.3 84 572.3" fill="none" stroke="#fff" stroke-width="0.9" stroke-dasharray="1.2 1"/></g>
<circle cx="192" cy="613.8" r="0.9" fill="#bbb"/>
<text x="305.4" y="552.3">AML</text>
<rect x="305.1" y="554.6" width="24.2" height="7.7" fill="url(#gAMLC)"/>
<text x="331.7" y="561.5">C</text>
<rect x="305.1" y="565.4" width="24.2" height="7.7" fill="url(#gAMLH)"/>
<text x="331.7" y="572.3">H</text>
<text x="303.7" y="581.5" text-anchor="middle">0</text>
<text x="327.3" y="581.5" text-anchor="middle">10</text>
<text x="299.2" y="590.8">−Log<tspan font-size="6" dy="1.5">10</tspan><tspan dy="-1.5">(</tspan><tspan font-style="italic">P</tspan><tspan font-size="6" dy="1.5">adjust</tspan><tspan dy="-1.5">)</tspan></text>
<text x="189.2" y="597.9" text-anchor="middle">1</text>
<polyline points="191,588.5 195,580.2 214.4,580.2" fill="none" stroke="#333" stroke-width="0.6"/>
<text x="302.2" y="611" text-anchor="middle">4</text>
<polyline points="300.2,602.8 294.2,591.2 264.2,591.2" fill="none" stroke="#333" stroke-width="0.6"/>
<g transform="translate(0 139.5) scale(1)"><use href="#tU" fill="#c9c9c9"/><use href="#tT" fill="#b1d7ef"/><use href="#tO1" fill="#c9c9c9"/><use href="#tS" fill="#e6e6ea"/><use href="#tO2" fill="#b1d7ef" stroke="#fff" stroke-width="1"/><use href="#tL" fill="#c9c9c9" stroke="#fff" stroke-width="1.4"/><g clip-path="url(#tclip)"><g><path d="M72.2 617.1h0M35.4 592.7h0M71.5 601h0M41.6 623.3h0M79.4 599.5h0M67.7 618.2h0M44.8 595.1h0M74.3 614.8h0M52.1 553.9h0M70.8 589.2h0M39.6 621.7h0M114.8 603.3h0M71.5 613.4h0M83.3 639.1h0M38.1 626.3h0M82.3 608h0M62.1 589.6h0M75.1 573.8h0M57.5 620.6h0M68.1 609.9h0M66.6 627.1h0M112.2 596.3h0M67.5 581.1h0M79 581.9h0M51.5 614.4h0M116.7 587.1h0M90.4 590.6h0M34.4 612.6h0M46.7 596h0M52.7 592.2h0M69.6 608.4h0M116.3 582.8h0M38.5 602.6h0M38.8 602h0M40.9 577.6h0M31 582.9h0M71.1 620.3h0M69 559h0M105.2 617.9h0M30.5 619.9h0M42 585.8h0M86.1 626.6h0M48.6 577.4h0M63.9 601.8h0M50.9 641h0M117 603.9h0M104.4 615.1h0M95.7 609.6h0M79.3 574.8h0M90.5 576h0M60.4 638.4h0M35.2 588.8h0M25.7 612.6h0M101.4 583.1h0M48.2 559h0M68.1 646.5h0M96.9 583.9h0M66.7 612.1h0" stroke="#dadada" stroke-width="1" stroke-linecap="round"/><path d="M69 667.3h0M85.8 590.8h0M36.7 598.7h0M106.1 603.2h0M31.2 609.6h0M85.2 599.2h0M40.6 605.4h0M66.5 602.6h0M52.3 567h0M100 609.3h0M72.8 570.7h0M38.1 595.1h0M58.3 642.6h0M70.1 603.6h0M68 670.1h0M39.9 633.4h0M65.1 643.2h0M60.5 572.7h0M69.2 591.8h0M62.4 576.7h0M71.8 578.6h0M63 642.7h0M71.3 554.3h0M78.8 658.4h0M33.8 616h0M74.1 627.9h0M26.1 603.8h0M100.4 626.4h0M58.8 648.9h0M51.9 556.5h0M38.4 616h0M34.4 612.6h0M47 614.3h0M55.7 589.6h0M25.7 599.4h0M80.5 573.1h0M48.8 615.7h0M76.2 616.4h0M59.1 627.1h0M115.6 582.3h0M70.6 643.6h0M83.1 564.3h0M51.2 584.1h0M70.7 596.8h0M31.3 610.2h0M40.7 599.5h0M34.6 625.8h0M49.9 564.4h0" stroke="#dadada" stroke-width="1.5" stroke-linecap="round"/><path d="M98.1 625.7h0M73.1 663.7h0M94.6 614h0M106.5 606.2h0M60 645.8h0M79 578.1h0M34.2 587.5h0M82.7 626.8h0M33.1 578.9h0M46.2 558.3h0M101.9 577.9h0M112.2 600.9h0M64.2 625.1h0M62.3 602.3h0M114.3 601.4h0M30.5 613.5h0M100.8 578.2h0M82.1 624.3h0M114.9 586h0M83.5 619.3h0M26.2 599.3h0M31.7 597.4h0M45.6 625.2h0M84.8 599h0M42.6 606.4h0M77 642.7h0M57.7 646.9h0M42.8 636.9h0M35.5 617.2h0M49.4 588.7h0M38.8 578h0M42.5 578.3h0M50.4 597.9h0M63.8 573.8h0M103.1 574.6h0M54.8 621.2h0M67.1 596.9h0M52.3 642.3h0M91.9 576.2h0M103.4 582.3h0M96.7 577.8h0M42.5 624h0" stroke="#b5b5b5" stroke-width="1.5" stroke-linecap="round"/><path d="M83.9 600.6h0M30 594.4h0M32.6 587.3h0M34.8 591.8h0M33 622.1h0M71.5 610.9h0M85.6 587.5h0M80.7 642.3h0M74.3 573.1h0M67.1 623.5h0M102.6 575.6h0M52.1 559.4h0M68.4 562.8h0M65.2 637h0M92.8 596.3h0M43.3 631.4h0M72.8 667.9h0M78 551.9h0M25.6 610.5h0M44.1 575.2h0M102.9 585.6h0M54.1 601.2h0M97.2 624.8h0M94.5 625.1h0M68 631.7h0M53.7 610.5h0M70 622.4h0M52.9 652.8h0M82.5 631.8h0M27.9 594.6h0M76.7 579.9h0M55 639.4h0M79 586.5h0M70.7 627.7h0M48.4 591.7h0M55 611.6h0M76.3 592.1h0M71.6 627h0M105.4 585.7h0M89 576h0M84.9 627.1h0M70.3 643.5h0M84.6 598.2h0M83.5 579.4h0M37 628.2h0M72.5 652.4h0M57.9 614.3h0M44.8 596.6h0M72 612.9h0M89.3 609.1h0M71.6 629h0M64.3 559.2h0" stroke="#b5b5b5" stroke-width="1" stroke-linecap="round"/></g><path d="M58 571 L86 571 L85 598 L80 612 L72 615 L62 610 L58 600 Z" fill="#a9d3ee" opacity="0.9"/><g><path d="M84.1 577h0M68.2 603.6h0M62.2 582.4h0M74 596.9h0" stroke="#c8c8c8" stroke-width="2" stroke-linecap="round"/><path d="M67.6 602.9h0M82.5 617.5h0M83.2 571.7h0M71.5 605.4h0M76.3 588.9h0M63.9 597.2h0M60.2 603.4h0M78.4 586h0M69.5 610.5h0M73.3 580.4h0M72.5 594.7h0M79.7 616.1h0M80.7 580.3h0M66.5 573.1h0" stroke="#c8c8c8" stroke-width="1.5" stroke-linecap="round"/><path d="M85.6 576.9h0M69 614.8h0M74.6 578.4h0M81.9 587.2h0M79.8 580.4h0M68.4 591.9h0M77.6 607.5h0M69.7 590h0M85 585h0M72.8 586.6h0M72.7 614h0M75 577.1h0M80.5 617h0M80 586.9h0M67.1 583.3h0M69.9 614.2h0" stroke="#c8c8c8" stroke-width="1" stroke-linecap="round"/><path d="M78.5 585h0M70 605.1h0M72.3 618.1h0M82.3 603.5h0M83 603.8h0M62.5 576.5h0M74.1 572.2h0M65 579h0M72.4 589.9h0" stroke="#9ccbe8" stroke-width="1.5" stroke-linecap="round"/><path d="M75.8 616.7h0M62.1 587h0M85.8 618.3h0M74.6 611.6h0M69.1 597.6h0M67.6 592.3h0M72.1 591.2h0M64.7 598.9h0M79.8 612.8h0M75.9 577.9h0" stroke="#9ccbe8" stroke-width="2" stroke-linecap="round"/><path d="M67.1 590.2h0M68.5 589.2h0M85.8 603h0M70 583.9h0M84.4 587.3h0M72.7 597h0M81.2 571.2h0" stroke="#9ccbe8" stroke-width="1" stroke-linecap="round"/></g><path d="M48 590 L57.5 589 L57.6 604 L52 608 L47 603 Z" fill="#3d9bd3"/><g><path d="M34 594.5h0M36.4 597.5h0M36.9 588.3h0M32.1 595h0M33.4 602.2h0M33.2 602.2h0M29.2 588.5h0M43.8 599.1h0M38.5 601.1h0M27.7 597.5h0" stroke="#6fb5de" stroke-width="2" stroke-linecap="round"/><path d="M26.2 604.5h0M32.1 590.8h0M30.6 597.4h0M34.3 600.9h0M28.5 595.1h0" stroke="#3d9bd3" stroke-width="2" stroke-linecap="round"/><path d="M30.6 606.2h0M41.8 588.7h0M25 601.4h0M29 589h0M40.2 601.2h0" stroke="#6fb5de" stroke-width="2.5" stroke-linecap="round"/><path d="M37.6 592.9h0M40.2 602.9h0M40.6 602.9h0M38.4 594.6h0M26.2 603.9h0M32.5 600.4h0M37.3 607.1h0M31.7 595.4h0M35.4 606.2h0" stroke="#3d9bd3" stroke-width="1.5" stroke-linecap="round"/><path d="M30.2 602.8h0M43.3 603.7h0M44.3 591.8h0M25.1 597.1h0M31.9 596.2h0M42.8 597.3h0M31.7 597.1h0M45.8 607.1h0" stroke="#3d9bd3" stroke-width="2.5" stroke-linecap="round"/><path d="M28.8 607.8h0" stroke="#3d9bd3" stroke-width="3" stroke-linecap="round"/><path d="M37.8 604.5h0" stroke="#3d9bd3" stroke-width="1" stroke-linecap="round"/><path d="M32.9 597.6h0M26.9 607.1h0M43.8 605.6h0M25.4 600.1h0M39.7 609.5h0M37.9 589.5h0M37.7 597.8h0M43 591h0" stroke="#6fb5de" stroke-width="1" stroke-linecap="round"/><path d="M25.4 597.3h0" stroke="#6fb5de" stroke-width="3" stroke-linecap="round"/><path d="M29.2 609.3h0M42.4 606.8h0M25.7 603.3h0M45.7 593.1h0M42.2 607.1h0M34.8 604.1h0M27.4 588.3h0M27.9 595.7h0M37.2 607h0M36.6 600.8h0M36.9 602.5h0M37.9 597.2h0" stroke="#6fb5de" stroke-width="1.5" stroke-linecap="round"/></g><path d="M45 612C47.33 607 56.17 608.33 62 610C67.83 611.67 76 617 80 622C84 627 85 631.67 86 640C87 648.33 91.17 666.67 86 672C80.83 677.33 61.33 677.33 55 672C48.67 666.67 49.67 650 48 640C46.33 630 42.67 617 45 612Z" fill="#9fcbe8" opacity="0.45"/><g><path d="M60.9 648.8h0M46.5 627.1h0M46.5 637.7h0M58.9 654.9h0M79.8 637.6h0M67.3 629.1h0M43 637h0M60.5 641.7h0M41.8 628.5h0M62 642.4h0M44.5 618.8h0M53.4 656.1h0M64.6 652.9h0M61.1 613.2h0" stroke="#9dcbe6" stroke-width="1.5" stroke-linecap="round"/><path d="M70.1 623.9h0M55.7 629.9h0M51.2 636.8h0M69.1 619.2h0M58.9 641.4h0M76.9 641h0M66 631.6h0M49 639.6h0M58.5 659h0M41.5 617.6h0M40.8 626.9h0M79.7 641.3h0" stroke="#2f8cc8" stroke-width="2" stroke-linecap="round"/><path d="M75.2 658.9h0M43.5 636.3h0M70.1 630.3h0M68.8 631.5h0M67.2 634.1h0M77.1 631.5h0M57.9 647.7h0M70.2 639.1h0M71 646.6h0M78.2 644.8h0M45.7 629.2h0M42.1 625.3h0" stroke="#6fb5de" stroke-width="2" stroke-linecap="round"/><path d="M40.2 615.7h0M63.6 617.2h0M71.6 666.8h0M58.5 657.9h0M56.4 631h0M59 615.3h0M61.1 642.3h0M57.5 622.2h0M81.9 655.3h0M47.6 639.2h0M53.7 653.4h0M81.4 649.6h0M67.6 653.9h0M60.9 651.2h0M79.9 645.6h0M73.8 634.6h0M77.2 667.2h0" stroke="#3d9bd3" stroke-width="2" stroke-linecap="round"/><path d="M57.4 624.5h0M62.7 614.9h0M56.3 628h0M57.9 618.7h0M64.3 650.2h0M56.6 639.6h0M50 614.6h0M47.8 644.4h0M61.7 666.7h0M59.3 662.3h0M62.2 654.6h0M54.8 618h0M63.3 643.8h0M42 639.5h0" stroke="#6fb5de" stroke-width="1.5" stroke-linecap="round"/><path d="M49.4 615.3h0M72.5 647.1h0M69 660.3h0M60.4 650.2h0M65.7 664.4h0M67.5 640.7h0M62.3 639.7h0M66 634.8h0M74.8 633.4h0M54.9 637.5h0" stroke="#2f8cc8" stroke-width="1" stroke-linecap="round"/><path d="M53.1 649.5h0M80.7 650.5h0M56.7 622.9h0M78.8 664.5h0M65.7 634.1h0M59.2 615h0M67.1 620.6h0M69.6 619.9h0M79.6 636.4h0M74.7 648.9h0M58 652.3h0M40.7 637.2h0M75.3 625.8h0M59.2 645.7h0M73.2 644.2h0M70.2 637.4h0M56 647.1h0M74.3 661.7h0M56.1 639.2h0M63.6 667.4h0" stroke="#c8c8c8" stroke-width="2" stroke-linecap="round"/><path d="M79.8 663h0M41.2 631h0M46.3 639.7h0M75.3 665.2h0M64.1 643.3h0" stroke="#6fb5de" stroke-width="2.5" stroke-linecap="round"/><path d="M45.6 618.5h0M61.4 614.7h0M46.7 629.2h0M63.6 631.7h0M70.8 642h0M61.8 667.3h0M73.9 638h0M69.6 640.6h0M60.9 616h0" stroke="#c8c8c8" stroke-width="1" stroke-linecap="round"/><path d="M47.4 631.5h0M58.5 659.3h0M58.2 614.2h0M55.8 648.5h0M48.8 624.2h0M57.2 637.7h0M57.5 625.2h0M71.4 659.2h0M63.6 642.9h0M60.2 648h0M64.1 661.7h0M80 634.2h0M60.4 613.6h0" stroke="#c8c8c8" stroke-width="1.5" stroke-linecap="round"/><path d="M53.9 642.1h0M75.8 634.3h0M49.3 645.1h0M80.6 634.9h0M60.2 622.9h0M54.3 617.8h0" stroke="#3d9bd3" stroke-width="1" stroke-linecap="round"/><path d="M83 654.6h0M60.9 644.9h0M63.2 620.2h0M41.5 622.9h0M63.1 639.8h0M68.4 626.9h0M64.4 667.6h0M81.1 661.3h0M52.3 646.3h0M71.3 653.1h0M71.1 643.7h0M62 641.3h0" stroke="#3d9bd3" stroke-width="1.5" stroke-linecap="round"/><path d="M53.5 641.5h0M49.1 613.4h0M68.4 659.2h0M59.8 656.5h0M48.1 634.3h0M58.7 619.9h0M53.9 621h0M75.4 640.9h0M59.7 638.6h0M50.2 629.5h0M73.8 664.1h0M79.8 660.6h0M71.8 624h0" stroke="#9dcbe6" stroke-width="2" stroke-linecap="round"/><path d="M44.6 619.2h0M52.5 650.9h0M54.5 645.5h0M48.4 617.9h0M78.8 659.1h0" stroke="#2f8cc8" stroke-width="2.5" stroke-linecap="round"/><path d="M53.7 656.2h0M40.9 621.8h0M63.8 652.9h0M61.9 664.1h0M43.6 629.7h0M73.8 647.4h0M55 629.5h0M60.5 613.7h0" stroke="#9dcbe6" stroke-width="1" stroke-linecap="round"/><path d="M58.6 655.5h0M58.9 636.2h0M68.4 660.8h0M76 652.2h0" stroke="#9dcbe6" stroke-width="2.5" stroke-linecap="round"/><path d="M69.9 667.1h0M52 642.6h0M44.7 612.2h0M78.8 647.4h0M49.5 639.7h0M77.8 649.1h0M77.9 645.3h0M60.1 659.6h0M64.9 662.7h0" stroke="#6fb5de" stroke-width="1" stroke-linecap="round"/><path d="M79.2 653.2h0M58.4 633.6h0M78.3 660.9h0" stroke="#c8c8c8" stroke-width="2.5" stroke-linecap="round"/><path d="M73.5 632.5h0M68.2 649.5h0M49.4 620.6h0M78.6 642h0M73.1 662.1h0M63 661.7h0M79.9 645.4h0M64.1 628.2h0M72.1 661.9h0" stroke="#2f8cc8" stroke-width="1.5" stroke-linecap="round"/><path d="M59.9 666.4h0M72.6 667h0M51.2 652.2h0M70.5 653.9h0M79.9 656.5h0" stroke="#3d9bd3" stroke-width="2.5" stroke-linecap="round"/></g><g><path d="M36.3 620.1h0M38.9 617.1h0M40.6 635h0M42.5 634.6h0" stroke="#3d9bd3" stroke-width="2" stroke-linecap="round"/><path d="M38.6 627.4h0M38.8 624h0M47.9 636.4h0M41.3 618h0M45.7 631.6h0M32.4 618.4h0M35.2 616.5h0M45.3 625.4h0M30.2 616h0" stroke="#6fb5de" stroke-width="2.5" stroke-linecap="round"/><path d="M36.7 618.3h0M42 633.3h0M46.1 627.9h0M45.7 618.7h0" stroke="#6fb5de" stroke-width="1.5" stroke-linecap="round"/><path d="M41.1 629.5h0M31.9 628.2h0M38.8 612.9h0M45 619.6h0M43.6 619h0" stroke="#3d9bd3" stroke-width="1.5" stroke-linecap="round"/><path d="M35.4 630.3h0M35.9 622.5h0M44.8 625.3h0M33.1 624.3h0" stroke="#3d9bd3" stroke-width="3" stroke-linecap="round"/><path d="M45.4 618.4h0M42.8 618.3h0M30.6 614.6h0M39.8 627.4h0M41.1 639.4h0" stroke="#6fb5de" stroke-width="2" stroke-linecap="round"/><path d="M29.3 620.1h0M38.6 625.5h0M43.1 630.1h0M33.9 631.7h0M41.1 628h0" stroke="#3d9bd3" stroke-width="2.5" stroke-linecap="round"/><path d="M37.5 635.3h0M39.3 629h0" stroke="#6fb5de" stroke-width="3" stroke-linecap="round"/><path d="M33.1 618.2h0M41.7 614.7h0" stroke="#6fb5de" stroke-width="1" stroke-linecap="round"/></g></g><path d="M84.6 566 L86.6 566 L86.2 582 L85.8 596 L85.4 596 L84.9 582 Z" fill="#fff" stroke="#fff" stroke-width="0.96" stroke-linejoin="round"/><path d="M33.1 574.6C35.6 572.68 38.65 572.1 42.3 572.3C45.95 572.5 52.3 574.45 55 575.8C57.7 577.15 58.07 577.7 58.5 580.4C58.93 583.1 57.8 587.97 57.6 592C57.4 596.03 56.38 600.97 57.3 604.6C58.22 608.23 60.22 611.1 63.1 613.8C65.98 616.5 71.53 618.48 74.6 620.8C77.67 623.12 79.97 625.02 81.5 627.7C83.03 630.38 83.42 633.05 83.8 636.9C84.18 640.75 84.18 646.57 83.8 650.8C83.42 655.03 82.65 659.42 81.5 662.3C80.35 665.18 79.2 666.75 76.9 668.1C74.6 669.45 70.77 670.78 67.7 670.4C64.63 670.02 60.82 667.53 58.5 665.8C56.18 664.07 54.97 662.12 53.8 660C52.63 657.88 52.27 655.4 51.5 653.1C50.73 650.8 50.73 648.13 49.2 646.2C47.67 644.27 44.6 643.05 42.3 641.5C40 639.95 37.7 639.2 35.4 636.9C33.1 634.6 30.23 631.15 28.5 627.7C26.77 624.25 25.7 620.05 25 616.2C24.3 612.35 24.3 608.45 24.3 604.6C24.3 600.75 24.5 596.57 25 593.1C25.5 589.63 25.95 586.88 27.3 583.8C28.65 580.72 30.6 576.52 33.1 574.6Z" fill="none" stroke="#fff" stroke-width="1.4"/><path d="M121.2 594.2C121.2 595.3 121.12 596.43 120.96 597.49C120.81 598.55 120.57 599.6 120.28 600.55C119.98 601.5 119.6 602.41 119.18 603.18C118.76 603.96 118.27 604.65 117.75 605.2C117.23 605.75 116.66 606.18 116.09 606.47C115.51 606.75 114.9 606.9 114.3 606.9C113.7 606.9 113.09 606.75 112.51 606.47C111.94 606.18 111.37 605.75 110.85 605.2C110.33 604.65 109.84 603.96 109.42 603.18C109 602.41 108.62 601.5 108.32 600.55C108.03 599.6 107.79 598.55 107.64 597.49C107.48 596.43 107.4 595.3 107.4 594.2C107.4 593.1 107.48 591.97 107.64 590.91C107.79 589.85 108.03 588.8 108.32 587.85C108.62 586.9 109 585.99 109.42 585.22C109.84 584.44 110.33 583.75 110.85 583.2C111.37 582.65 111.94 582.22 112.51 581.93C113.09 581.65 113.7 581.5 114.3 581.5C114.9 581.5 115.51 581.65 116.09 581.93C116.66 582.22 117.23 582.65 117.75 583.2C118.27 583.75 118.76 584.44 119.18 585.22C119.6 585.99 119.98 586.9 120.28 587.85C120.57 588.8 120.81 589.85 120.96 590.91C121.12 591.97 121.2 593.1 121.2 594.2Z" fill="none" stroke="#fff" stroke-width="1"/><path d="M61 572.3 Q72 570.3 84 572.3" fill="none" stroke="#fff" stroke-width="0.9" stroke-dasharray="1.2 1"/></g>
<path d="M16 752 L18.5 751 L19 755 L16.5 756.5 Z" fill="#3d9bd3"/>
<text x="132.1" y="688.6" font-size="8.9">CLL</text>
<rect x="132.6" y="692.1" width="24.2" height="7.6" fill="url(#gCLLC)"/>
<text x="159.4" y="699" font-size="8.9">C</text>
<rect x="132.6" y="702.9" width="24.2" height="7.6" fill="url(#gCLLH)"/>
<text x="159.4" y="709.8" font-size="8.9">H</text>
<text x="132.4" y="719" text-anchor="middle" font-size="8.9">0</text>
<text x="156" y="719" text-anchor="middle" font-size="8.9">10</text>
<text x="125.9" y="728.3">−Log<tspan font-size="6" dy="1.5">10</tspan><tspan dy="-1.5">(</tspan><tspan font-style="italic">P</tspan><tspan font-size="6" dy="1.5">adjust</tspan><tspan dy="-1.5">)</tspan></text>
<text x="11.5" y="738.6" text-anchor="middle">2</text>
<polyline points="14.6,736.4 21.3,742.2 48,742.2" fill="none" stroke="#333" stroke-width="0.6"/>
<text x="131.9" y="746.6" text-anchor="middle">5</text>
<polyline points="112.3,731.4 127.3,731.4 130.4,738.5" fill="none" stroke="#333" stroke-width="0.6"/>
<g transform="translate(175 139.5) scale(1)"><use href="#tU" fill="#c9c9c9"/><use href="#tT" fill="#c9c9c9"/><use href="#tO1" fill="#e0a886"/><use href="#tS" fill="#e6e6ea"/><use href="#tO2" fill="#c9c9c9" stroke="#fff" stroke-width="1"/><use href="#tL" fill="#c9c9c9" stroke="#fff" stroke-width="1.4"/><g clip-path="url(#tclip)"><g><path d="M55.7 624.7h0M87.1 573h0M88.6 580.2h0M62.4 558.5h0M33.5 586.6h0M29.5 614.8h0M70.9 550.8h0M76.2 585.2h0M29.5 581.3h0M71.9 558.3h0M48.8 628h0M62.2 560.7h0M78.3 583.3h0M82.6 619.3h0M87.7 574.2h0M59.9 614.1h0M91.9 583.5h0M67.5 665.2h0M67.7 600.9h0M100.4 594.8h0M39.3 579.8h0M47.8 553h0M85.2 613.6h0M95.1 623.9h0M73.7 645h0M64.2 645.5h0M105.2 578.2h0M63.7 665.6h0M74.9 559.9h0M108.2 596.3h0M66.5 563.3h0M103.7 574.9h0M86.8 611.6h0M82 653.7h0M55.1 555.8h0M58.2 617.4h0M67.6 573.8h0M57.1 653h0M56.3 636.5h0M79 636.9h0M59.8 642.7h0M73.2 646.1h0M88.2 615.4h0M93.4 609.6h0M94.5 629.6h0M67.5 665.9h0M91.3 596.5h0M76.5 601.3h0M66 558.2h0M100.6 614.8h0M66.2 625.9h0M93.3 594.5h0M98.9 582.5h0M74.1 646.1h0M35.3 617.1h0M100.9 571.7h0M63.4 621.2h0M97.1 595.8h0M39 592h0M78.9 583.5h0M27.7 606.6h0M120.6 594.6h0" stroke="#b5b5b5" stroke-width="1" stroke-linecap="round"/><path d="M73.9 621.7h0M104.9 603.8h0M67.8 610.1h0M94.4 568.8h0M56 658.6h0M47.5 600.9h0M100 572.1h0M43.3 609h0M73.6 609.3h0M77 573.9h0M65.5 616.7h0M61 623.5h0M51.9 620.1h0M102.4 601.6h0M38.3 627.7h0M95.2 567.8h0M59.2 645.7h0M65.2 582.5h0M62.4 577.4h0M75.6 602.6h0M46.2 554.7h0M54.4 643.3h0M61.3 616.7h0M60.8 663.4h0M37.4 627.7h0M74.4 603.6h0M31.7 580.2h0M46.2 623.9h0M77.6 630.9h0M91.4 591.1h0M62.7 639.4h0M87 582.3h0M82.6 602.4h0M59.4 634.5h0M77.3 604.8h0M62.7 559.6h0M89.1 602.4h0M36.7 600.9h0M62.3 587.7h0M69.8 647.4h0" stroke="#b5b5b5" stroke-width="1.5" stroke-linecap="round"/><path d="M75.3 662.1h0M49.5 631h0M42.6 606.9h0M53.7 618.4h0M82.2 633.2h0M96 613.9h0M87.3 570.6h0M52 642.9h0M66.1 587.1h0M62.9 588.7h0M74.4 663.9h0M41.4 616.2h0M40.5 582.8h0M34.6 586.5h0M67.9 665.9h0M68.6 558.3h0M109.8 588.9h0M83 640h0M39.4 580.3h0M63.1 606.5h0M54.5 595.2h0M98.8 576.8h0M112.9 582.8h0M27.8 602.6h0M82.5 655.4h0M83.3 612.2h0M64.2 656.2h0M26 617.5h0M96.6 592h0M53 591.9h0M57.1 606.1h0M79.8 628.7h0M57.7 662.5h0M73.3 639h0M65.7 574.1h0M106.8 589.4h0M47.3 632.3h0M105.4 611h0M95.5 607.1h0M70.9 555h0M74.5 611.4h0M45.4 618.6h0M27.3 588.8h0M57.5 641.2h0" stroke="#dadada" stroke-width="1.5" stroke-linecap="round"/><path d="M58.7 619.7h0M37.8 607.6h0M82.6 575.7h0M69.6 654.2h0M94 625.1h0M29.2 601.3h0M78.1 591.6h0M61.2 618.4h0M60.8 599.3h0M80 618.2h0M71 659.6h0M36.7 618.5h0M62.9 625.9h0M79.7 615.7h0M61.8 648.7h0M91.1 584.1h0M41.8 591.6h0M40.1 600.5h0M79.4 586.5h0M52 585.3h0M56.6 642.9h0M82.7 653.8h0M81.1 591.9h0M58 639.9h0M30.7 583.9h0M90.9 606.6h0M60.3 622.3h0M88.9 573.3h0M81.1 658.4h0M69 624.2h0M79.2 611.1h0M64.1 580.7h0M80.3 559.1h0M31.7 630.7h0M71 596.7h0M38.6 623.3h0M82.2 588h0M42.7 638h0M34.7 605.8h0M39.8 630h0M53.9 635.9h0M60.6 657.6h0M78 558.4h0M57.4 626.8h0M45.9 632.6h0M32.5 607.3h0M68.3 609.9h0M60.5 596.6h0M106.4 594.2h0M87.2 580.3h0M56.6 631.6h0M58.3 650.8h0M85.8 602.6h0M83.7 614.1h0" stroke="#dadada" stroke-width="1" stroke-linecap="round"/></g><path d="M27 616C28.67 613.58 33.33 613.58 36 613.5C38.67 613.42 41.5 613.58 43 615.5C44.5 617.42 44.92 621.58 45 625C45.08 628.42 44.67 633.33 43.5 636C42.33 638.67 40.25 640.67 38 641C35.75 641.33 32 640.17 30 638C28 635.83 26.5 631.67 26 628C25.5 624.33 25.33 618.42 27 616Z" fill="#a4471f"/><g><path d="M49.7 621.4h0M45.9 617.9h0M38.4 622.7h0M36.2 625.2h0M38.4 618.9h0M48.8 633.7h0M44.7 631.8h0M49.3 639h0M37.7 635.6h0" stroke="#7f3212" stroke-width="2" stroke-linecap="round"/><path d="M33.4 633.7h0M44.9 626.5h0M28.6 620.6h0M36.3 621.6h0M46.5 610.1h0M36.3 616.9h0M49.1 626.7h0M38.9 631.9h0" stroke="#7f3212" stroke-width="1" stroke-linecap="round"/><path d="M49.8 632.9h0M41.2 632.8h0M27 620.9h0M34.5 612.7h0" stroke="#a4471f" stroke-width="1.5" stroke-linecap="round"/><path d="M26.3 612.3h0M29.5 622.8h0M44.3 641.5h0" stroke="#c2603a" stroke-width="1" stroke-linecap="round"/><path d="M33.6 610.6h0M32.5 622.2h0M41.2 621.5h0M27.3 620h0M40.3 635.5h0M38.9 634.1h0M36.1 613.4h0M48 613h0M36.9 629.1h0" stroke="#c2603a" stroke-width="2" stroke-linecap="round"/><path d="M33.2 623.5h0M30.7 610.2h0M49.9 618.1h0M40 627.4h0M41 637.2h0M38.9 626.9h0" stroke="#7f3212" stroke-width="1.5" stroke-linecap="round"/><path d="M46.4 614.8h0" stroke="#a4471f" stroke-width="2.5" stroke-linecap="round"/><path d="M39 628.2h0M30.9 629.1h0M42 631h0" stroke="#c2603a" stroke-width="1.5" stroke-linecap="round"/><path d="M44.8 626.6h0M36.1 631.8h0M33.2 625.9h0M40.7 620.8h0M39.7 611.4h0M41.8 620.9h0M43.9 624h0M34 634.7h0M39 620.4h0M49.3 633.8h0" stroke="#a4471f" stroke-width="2" stroke-linecap="round"/><path d="M46.4 638.1h0M42.2 635.3h0M46.2 619.9h0" stroke="#a4471f" stroke-width="1" stroke-linecap="round"/><path d="M27 611h0M49.9 626h0" stroke="#7f3212" stroke-width="2.5" stroke-linecap="round"/><path d="M33.2 610.2h0M36 618.6h0" stroke="#c2603a" stroke-width="2.5" stroke-linecap="round"/></g><path d="M50 608 L58 608.5 L60 613 L55 616.5 L50 614 Z" fill="#a4471f"/><g><path d="M52.3 641.3h0M65.7 640.5h0M42.5 627.5h0M71 666.2h0M68.2 621.1h0M68.1 669.6h0M71.4 662.4h0M67.5 668.1h0" stroke="#c2603a" stroke-width="1.5" stroke-linecap="round"/><path d="M41 636h0M57.2 615.4h0M56.8 659.1h0M60.4 657.1h0M40.1 612.2h0M76.2 661.2h0M58.4 656.7h0M76.8 638.2h0" stroke="#a4471f" stroke-width="1" stroke-linecap="round"/><path d="M64.4 641.1h0M64 629.5h0M60.6 622h0M67.9 649.9h0M58.8 621h0M52.5 612.7h0M62.6 629.5h0" stroke="#d0b0a8" stroke-width="1" stroke-linecap="round"/><path d="M71.4 632.4h0" stroke="#d89880" stroke-width="2" stroke-linecap="round"/><path d="M50 624.7h0M61.5 658.3h0M51.5 613.3h0M53.5 615.8h0M54.3 650.9h0M53.8 618.8h0M67 626.6h0M62.1 662.7h0M49.6 642.2h0" stroke="#d89880" stroke-width="1.5" stroke-linecap="round"/><path d="M79.7 637.1h0M53.3 615.3h0M44.1 626.1h0M51.5 639.3h0M54.2 625.3h0M46.6 613.6h0M76.3 624.1h0M59 617.6h0M57.1 659.1h0" stroke="#a4471f" stroke-width="1.5" stroke-linecap="round"/><path d="M45.8 620.3h0M74.1 636.3h0M73.6 632.2h0M67.4 630.7h0M62 633.3h0M47.7 629.1h0M41.4 622.8h0" stroke="#d0b0a8" stroke-width="1.5" stroke-linecap="round"/><path d="M79.2 659.6h0M68.9 637.3h0M75 660h0" stroke="#c2603a" stroke-width="1" stroke-linecap="round"/><path d="M58.1 645.1h0M63 653.7h0M65.2 619.1h0M52.3 641.9h0M50.7 624.6h0M69.5 624.8h0M53.1 640.7h0" stroke="#d89880" stroke-width="1" stroke-linecap="round"/><path d="M66.4 643h0" stroke="#c2603a" stroke-width="2" stroke-linecap="round"/></g><g><path d="M72.2 567.5h0M71.5 563.9h0M66.8 566.9h0M65.1 563.9h0M66.2 568.3h0M72.1 566.7h0M66.7 568.9h0" stroke="#e0a886" stroke-width="1.5" stroke-linecap="round"/><path d="M66.9 566.8h0M64.2 563.6h0M69.7 565.1h0M72.7 568.9h0M72.5 563.3h0M70 571.7h0M71.1 563.9h0M70.6 567.4h0M66.5 564.6h0M66.3 568h0M73.2 569.3h0" stroke="#d99a78" stroke-width="1.5" stroke-linecap="round"/><path d="M65.3 567.3h0M73.8 571.1h0M63.2 563.8h0M71.5 569.2h0" stroke="#e0a886" stroke-width="2" stroke-linecap="round"/><path d="M64.5 569h0M70.7 569.6h0M72.9 562.6h0M70.4 564.4h0M70.1 566.1h0M69.6 565.8h0" stroke="#d99a78" stroke-width="1" stroke-linecap="round"/><path d="M73.2 566.2h0M73.6 567.9h0M73.7 568.9h0M65 567.8h0" stroke="#d99a78" stroke-width="2" stroke-linecap="round"/><path d="M69.1 565.2h0M73.7 563.7h0M72.4 570h0M68 568.4h0M67.4 566.3h0M69.1 570.8h0" stroke="#e0a886" stroke-width="1" stroke-linecap="round"/><path d="M70.6 564.1h0M70.4 571.4h0" stroke="#e0a886" stroke-width="2.5" stroke-linecap="round"/></g><g><path d="M80.9 585.3h0M65.1 574.9h0M79.8 607h0M83.5 618.7h0M76.9 598.7h0M79.7 613.7h0" stroke="#e0a886" stroke-width="1.5" stroke-linecap="round"/><path d="M83.9 618.6h0M101.2 574.5h0M72.3 565.8h0M81.6 573.6h0M77.3 606.1h0M105.8 594.2h0M76.8 591.5h0M83.4 623.9h0M68.4 592.8h0M100.1 585.2h0M82.6 590.2h0" stroke="#e0a886" stroke-width="2" stroke-linecap="round"/><path d="M91.7 618.2h0M92.4 624.6h0M93.7 603.6h0M86.7 587.4h0M85.9 575.7h0M76 572.9h0M63.3 562.7h0M77.7 582.7h0" stroke="#e0a886" stroke-width="1" stroke-linecap="round"/></g></g><path d="M84.6 566 L86.6 566 L86.2 582 L85.8 596 L85.4 596 L84.9 582 Z" fill="#fff" stroke="#fff" stroke-width="0.96" stroke-linejoin="round"/><path d="M33.1 574.6C35.6 572.68 38.65 572.1 42.3 572.3C45.95 572.5 52.3 574.45 55 575.8C57.7 577.15 58.07 577.7 58.5 580.4C58.93 583.1 57.8 587.97 57.6 592C57.4 596.03 56.38 600.97 57.3 604.6C58.22 608.23 60.22 611.1 63.1 613.8C65.98 616.5 71.53 618.48 74.6 620.8C77.67 623.12 79.97 625.02 81.5 627.7C83.03 630.38 83.42 633.05 83.8 636.9C84.18 640.75 84.18 646.57 83.8 650.8C83.42 655.03 82.65 659.42 81.5 662.3C80.35 665.18 79.2 666.75 76.9 668.1C74.6 669.45 70.77 670.78 67.7 670.4C64.63 670.02 60.82 667.53 58.5 665.8C56.18 664.07 54.97 662.12 53.8 660C52.63 657.88 52.27 655.4 51.5 653.1C50.73 650.8 50.73 648.13 49.2 646.2C47.67 644.27 44.6 643.05 42.3 641.5C40 639.95 37.7 639.2 35.4 636.9C33.1 634.6 30.23 631.15 28.5 627.7C26.77 624.25 25.7 620.05 25 616.2C24.3 612.35 24.3 608.45 24.3 604.6C24.3 600.75 24.5 596.57 25 593.1C25.5 589.63 25.95 586.88 27.3 583.8C28.65 580.72 30.6 576.52 33.1 574.6Z" fill="none" stroke="#fff" stroke-width="1.4"/><path d="M121.2 594.2C121.2 595.3 121.12 596.43 120.96 597.49C120.81 598.55 120.57 599.6 120.28 600.55C119.98 601.5 119.6 602.41 119.18 603.18C118.76 603.96 118.27 604.65 117.75 605.2C117.23 605.75 116.66 606.18 116.09 606.47C115.51 606.75 114.9 606.9 114.3 606.9C113.7 606.9 113.09 606.75 112.51 606.47C111.94 606.18 111.37 605.75 110.85 605.2C110.33 604.65 109.84 603.96 109.42 603.18C109 602.41 108.62 601.5 108.32 600.55C108.03 599.6 107.79 598.55 107.64 597.49C107.48 596.43 107.4 595.3 107.4 594.2C107.4 593.1 107.48 591.97 107.64 590.91C107.79 589.85 108.03 588.8 108.32 587.85C108.62 586.9 109 585.99 109.42 585.22C109.84 584.44 110.33 583.75 110.85 583.2C111.37 582.65 111.94 582.22 112.51 581.93C113.09 581.65 113.7 581.5 114.3 581.5C114.9 581.5 115.51 581.65 116.09 581.93C116.66 582.22 117.23 582.65 117.75 583.2C118.27 583.75 118.76 584.44 119.18 585.22C119.6 585.99 119.98 586.9 120.28 587.85C120.57 588.8 120.81 589.85 120.96 590.91C121.12 591.97 121.2 593.1 121.2 594.2Z" fill="none" stroke="#fff" stroke-width="1"/><path d="M61 572.3 Q72 570.3 84 572.3" fill="none" stroke="#fff" stroke-width="0.9" stroke-dasharray="1.2 1"/></g>
<text x="305.1" y="689">DLBCL</text>
<rect x="305.4" y="692.4" width="24.2" height="7.6" fill="url(#gDLBC)"/>
<text x="332.15" y="699.3">C</text>
<rect x="305.4" y="703.2" width="24.2" height="7.6" fill="url(#gDLBH)"/>
<text x="332.15" y="710.1">H</text>
<text x="304.9" y="719.3" text-anchor="middle">0</text>
<text x="328.5" y="719.3" text-anchor="middle">10</text>
<text x="298.9" y="728.6">−Log<tspan font-size="6" dy="1.5">10</tspan><tspan dy="-1.5">(</tspan><tspan font-style="italic">P</tspan><tspan font-size="6" dy="1.5">adjust</tspan><tspan dy="-1.5">)</tspan></text>
<text x="202.1" y="696.7" text-anchor="middle">6</text>
<polyline points="206.2,694.8 209.6,699.4 223.5,699.4" fill="none" stroke="#333" stroke-width="0.6"/>
<text x="184.8" y="767.1" text-anchor="middle">3</text>
<polyline points="189.4,764.6 192.6,770.4 202,770.4" fill="none" stroke="#333" stroke-width="0.6"/>
<text x="360.5" y="548" font-weight="bold" font-size="10" fill="#111">D</text>
<g transform="translate(377.5 -4.2) scale(1)"><use href="#tU" fill="#5ec6a0"/><use href="#tT2" fill="#d8b58e"/><use href="#tO1" fill="#d662b0"/><use href="#tS" fill="#f3f0b8"/><use href="#tO2" fill="#f27a52" stroke="#fff" stroke-width="1"/><use href="#tL" fill="#99c957" stroke="#fff" stroke-width="1.3"/><g clip-path="url(#tclip)"><g opacity="0.35"><path d="M38.3 609.1h0M37.4 608.1h0M58.8 631.9h0M63.4 629.8h0M90.2 610.5h0M101.6 584.8h0M98.5 576.1h0M91.9 616h0M73.9 557.8h0M68.1 626.8h0M30.4 579.1h0M115.3 592.2h0M101.2 609.1h0M24.8 605.3h0M88 602.3h0M71.4 632.3h0M31.8 579.7h0M104 619.1h0M97.8 570.2h0M32.7 597.4h0M37.7 599.9h0M65.9 566.7h0M38.1 577.4h0M88.3 585.6h0" stroke="#e0e0e0" stroke-width="1" stroke-linecap="round"/><path d="M90.2 569h0M47.8 635h0M53.5 653.6h0M68.9 664.8h0M62.1 633.6h0M52.2 577.9h0M91.8 580.8h0M112.4 604h0M65.7 610.7h0M43.6 590.8h0M55.4 583.9h0M115.5 586h0M69.6 592.5h0M77.6 560.1h0M102.5 597.1h0M36 574.2h0M73.9 629.4h0M78.1 593.3h0M95.6 595.6h0M75.4 598.5h0M70.4 661.8h0M81 628.3h0M70.6 594.4h0M55.3 635.2h0M90.4 571.5h0M49.7 552.1h0M64.8 647h0M61.3 576.3h0M64.5 654.8h0M89.2 593.7h0M88.1 605h0M83.3 586.6h0M91.3 593.2h0M97.6 618h0M85.4 603h0M103.9 598.5h0M75.5 660.9h0M40.2 575.8h0M89 625.9h0M30.6 584.8h0M67.8 576h0M66.9 665h0M62.4 638.2h0M30.3 623.9h0M68.4 598.6h0M109.5 585.2h0M110.4 592.2h0M72.7 590.1h0M63.7 655.4h0M94 629.3h0" stroke="#ffffff" stroke-width="0.5" stroke-linecap="round"/><path d="M80.8 562.2h0M78.6 636.2h0M52.4 597.4h0M31.6 600h0M85.9 628.6h0M48.4 560.7h0M52.3 567h0M118.3 584h0M78.7 613.5h0M32.1 579.9h0M50.7 559.6h0M77.4 648.9h0M54.2 651.7h0M57.9 626.9h0M47.4 634.9h0M52.2 563.5h0M63.4 556.7h0M106.1 596.2h0M76 655.8h0M97.7 569h0M72.5 657.9h0M76.5 563.7h0M93.9 598.4h0M52.3 564h0M72.4 642.4h0M71.1 627.4h0M88 572.9h0M49.4 634.3h0M103.5 615.7h0M60.7 610.3h0M74.7 560.5h0M57.5 636.1h0M77.4 642.1h0M78.9 589.9h0M75.4 616.1h0M52.5 575.3h0M71 558.8h0M40.3 638.4h0M45.6 595h0M55.1 661.1h0M101.4 621.6h0M62.5 576.3h0M50 581.1h0M47.4 591.3h0M53.1 585.4h0M60.4 648.6h0M68.8 656.7h0M84 597.5h0M75.7 637.8h0M41.5 582.2h0M96.8 573.9h0M116.6 593.2h0M50 594h0M96.9 604.1h0M71 618.7h0M100.2 579.5h0" stroke="#e0e0e0" stroke-width="0.5" stroke-linecap="round"/><path d="M117.7 586.1h0M95 611.1h0M49.2 636.2h0M53.7 560h0M75.7 576.4h0M51.5 600.1h0M85 607.2h0M44.5 585h0M64.5 653.3h0M40.2 582.5h0M35.2 627.5h0M77.1 624.7h0M58.6 636.7h0M73.8 639.4h0M89 628h0M39.2 608.7h0M61.6 619h0M65.3 603.4h0M73.3 620.4h0M75.6 615.1h0" stroke="#ffffff" stroke-width="1" stroke-linecap="round"/></g></g><g clip-path="url(#cT2)"><path d="M75 548C76.3 547.1 88.5 546.5 90 548C91.5 549.5 90.6 561.6 90 563C89.4 564.4 85.3 562.6 84 562C82.7 561.4 77.9 558.4 77 557C76.1 555.6 73.7 548.9 75 548Z" fill="#8a93cb"/><polygon points="55,567.5 90,567.5 90,580 55,580" fill="#a8a8aa"/></g><g clip-path="url(#cU)"><polygon points="57,566 86,566 86,596 75,594 62,591 57,590" fill="#a8a8aa"/><path d="M57 590C57.6 589.05 61.2 590.2 63 590.5C64.8 590.8 73.3 592.05 75 593C76.7 593.95 79.7 598.2 80 600C80.3 601.8 79 609.5 78 611C77 612.5 71.7 615.1 70 615C68.3 614.9 62.3 611.5 61 610C59.7 608.5 57.4 602 57 600C56.6 598 56.4 590.95 57 590Z" fill="#f1d224"/><polygon points="86,564 110,564 110,590 95,591.5 86,590" fill="#8dc542"/><g><path d="M72.9 613.7h0M66 601.4h0M64.8 605.1h0M75.3 601.4h0M83 590h0M68.5 589.6h0M61.3 588.7h0M84.3 601.3h0M78.8 616.3h0" stroke="#f1d224" stroke-width="1" stroke-linecap="round"/><path d="M65.5 593.2h0M76.4 610.1h0M81.1 599.4h0M62.4 589.1h0M83 605.6h0" stroke="#f1d224" stroke-width="2" stroke-linecap="round"/><path d="M61.4 592.6h0M70.3 608.2h0M74.3 615.4h0M74 617.7h0M85.5 613.4h0M69.4 605.2h0M67.5 594.6h0M80.2 603.1h0M80 605.3h0" stroke="#5ec6a0" stroke-width="1.5" stroke-linecap="round"/><path d="M65.3 611.6h0M76.8 603.2h0M79.4 596.5h0" stroke="#a8a8aa" stroke-width="2" stroke-linecap="round"/><path d="M72.1 599.6h0M81.1 607.7h0M61.5 596h0M60.7 593.2h0M82.6 614.6h0M66 596.8h0M74.4 613.1h0" stroke="#a8a8aa" stroke-width="1" stroke-linecap="round"/><path d="M84.2 597.5h0M75 590.1h0M73.1 595.4h0" stroke="#5ec6a0" stroke-width="2" stroke-linecap="round"/><path d="M82.6 613.4h0M63.2 605.7h0M83.2 589.4h0M83 588.1h0" stroke="#5ec6a0" stroke-width="1" stroke-linecap="round"/><path d="M83.7 609.5h0M72.1 597.6h0M76.5 595.5h0M75.6 613.6h0M82.7 591.3h0M73.7 617.4h0M82.5 610.6h0M81.6 589.9h0M66.8 608.9h0M64.5 607.7h0M80.2 595.7h0M66.1 607.7h0" stroke="#a8a8aa" stroke-width="1.5" stroke-linecap="round"/><path d="M62.5 590.3h0M70.9 600.5h0M84 599h0M63.9 601.7h0M73.8 610.1h0M64.4 590h0M73 607.6h0M62.6 605.6h0" stroke="#f1d224" stroke-width="1.5" stroke-linecap="round"/></g></g><g clip-path="url(#cO2)"><polygon points="104,578 124,578 124,587 114,588.5 104,589" fill="#8b94cc"/></g><g clip-path="url(#cL)"><path d="M20 568C21.87 563.4 36.3 569.3 38.7 571C41.1 572.7 42.95 582.39 44 585C45.05 587.61 48.9 594 49.2 597.1C49.5 600.2 49.92 614.01 47 616C44.08 617.99 22.7 621.8 20 617C17.3 612.2 18.13 572.6 20 568Z" fill="#f0645c"/><path d="M20 616C22.7 613.3 44.4 611.8 47 614C49.6 616.2 46.9 635.3 46 638C45.1 640.7 40.6 640.7 38 641C35.4 641.3 21.8 643.5 20 641C18.2 638.5 17.3 618.7 20 616Z" fill="#aaa7dd"/><path d="M38.7 571C40.3 569.8 57.92 570.2 60 573C62.08 575.8 60.05 595.8 59.5 599C58.95 602.2 55.53 605.19 54.5 605C53.47 604.81 50.25 599.1 49.2 597.1C48.15 595.1 45.05 587.61 44 585C42.95 582.39 37.1 572.2 38.7 571Z" fill="#6dcdc8"/><path d="M49.2 597.1C49.95 596.15 53.52 605.21 54.5 605.5C55.48 605.79 58.35 599.85 59 600C59.65 600.15 60.2 605.65 61 607C61.8 608.35 65.4 612.1 67 613.5C68.6 614.9 75.3 619.45 77 621C78.7 622.55 82.8 626.6 84 629C85.2 631.4 89.3 643.4 89 645C88.7 646.6 83.3 645.9 81 645C78.7 644.1 69.4 639 66 636C62.6 633 48.68 618.89 47 615C45.32 611.11 48.45 598.05 49.2 597.1Z" fill="#6fa5dd"/><path d="M36 641C37 637.1 44.9 638.3 46 637C47.1 635.7 46 628.4 47 628C48 627.6 54.1 632.2 56 633C57.9 633.8 63.5 634.8 66 636C68.5 637.2 78.7 644 81 645C83.3 646 88.2 642.9 89 646C89.8 649.1 94.3 673 89 676C83.7 679 41.3 679.5 36 676C30.7 672.5 35 644.9 36 641Z" fill="#99c957"/><g><path d="M48.1 614.7h0M43.4 626.3h0M45.7 608.2h0M43.4 607h0M52 629h0M40.2 614.3h0M46.6 600.4h0M45 633.2h0M47.1 599.6h0" stroke="#99c957" stroke-width="2" stroke-linecap="round"/><path d="M47.7 597.7h0M46.9 599.6h0M53.5 626.2h0M45.8 602.7h0M44.7 627.1h0M44.5 623.7h0M40.1 627.5h0M51.2 623.2h0" stroke="#aaa7dd" stroke-width="1.5" stroke-linecap="round"/><path d="M52.2 620.6h0M42.9 630.5h0M47.3 626.4h0M52 614.7h0M41 607.1h0M53 607.2h0" stroke="#6fa5dd" stroke-width="1.5" stroke-linecap="round"/><path d="M45.7 608.9h0M52.3 617h0M50.5 611.3h0M44.5 616.8h0M47.7 616.5h0M46.7 606.3h0" stroke="#aaa7dd" stroke-width="2" stroke-linecap="round"/><path d="M54.2 627.1h0M47.2 618.7h0M48.6 602.2h0M44.5 619.6h0M53.9 622.3h0M42.4 623h0M52.1 635.9h0M47.4 613.3h0M54.1 631.8h0M55.5 598.5h0" stroke="#e8807a" stroke-width="1.5" stroke-linecap="round"/><path d="M45.6 630.9h0M42.7 599.7h0M45.5 607.3h0M55.9 599.2h0M52.9 618.5h0M46.2 632.3h0M49.7 623.1h0M51.1 624.9h0" stroke="#99c957" stroke-width="1.5" stroke-linecap="round"/><path d="M52.5 603.4h0M41.6 617.5h0M40.3 630h0M44.9 602.7h0M52.3 628.9h0" stroke="#e8807a" stroke-width="2" stroke-linecap="round"/><path d="M54 630.9h0M45.8 627.8h0M50.7 607.3h0M46 630.4h0M42.5 620.9h0M43.6 626.9h0" stroke="#aaa7dd" stroke-width="2.5" stroke-linecap="round"/><path d="M43.6 600.9h0M50.1 607.8h0M45.7 607.6h0M46.4 615.7h0M40.8 628.1h0" stroke="#aaa7dd" stroke-width="1" stroke-linecap="round"/><path d="M50 608.6h0M49.5 626.2h0" stroke="#f0645c" stroke-width="1" stroke-linecap="round"/><path d="M40.6 610.7h0M54 619.7h0M42.1 633.9h0M52.7 602.9h0M54.7 604.5h0M51.1 627.5h0M41.6 616.1h0M46.4 614.5h0" stroke="#f0645c" stroke-width="2" stroke-linecap="round"/><path d="M45.9 614.7h0M42.7 599.9h0M41 626.2h0M41.4 617.3h0M45.2 624.9h0M52 603.8h0" stroke="#6fa5dd" stroke-width="1" stroke-linecap="round"/><path d="M54.9 633.9h0M45.4 604.3h0M42.7 611.8h0M48.9 601.7h0M43.8 597.4h0" stroke="#e8807a" stroke-width="2.5" stroke-linecap="round"/><path d="M46.9 627h0M46.8 627.2h0M43.9 610.7h0" stroke="#99c957" stroke-width="1" stroke-linecap="round"/><path d="M43.7 610h0M41.7 611.9h0M40.5 604.6h0M50.3 632.6h0" stroke="#6fa5dd" stroke-width="2" stroke-linecap="round"/><path d="M53.7 606.3h0M50.4 616.9h0M51.4 625.5h0M53.3 634.6h0M44.5 622.1h0M47 613.9h0" stroke="#e8807a" stroke-width="1" stroke-linecap="round"/><path d="M50.9 616h0M43 629.3h0M44.2 597.1h0M52.3 599.7h0M48.7 621.7h0" stroke="#f0645c" stroke-width="1.5" stroke-linecap="round"/><path d="M48.8 616.7h0M55.5 627.2h0M40.4 599.4h0M54.9 634.4h0M41.7 618.7h0" stroke="#99c957" stroke-width="2.5" stroke-linecap="round"/><path d="M45.5 631h0" stroke="#f0645c" stroke-width="2.5" stroke-linecap="round"/><path d="M53 611.5h0M41.2 628.5h0" stroke="#6fa5dd" stroke-width="2.5" stroke-linecap="round"/></g><g><path d="M52.6 602.2h0M48.4 593.9h0M40.5 603h0M52.1 581.2h0M39.6 587.9h0M56.5 593.1h0M51.9 582.4h0M56.6 587.5h0M49.1 591.8h0M44.2 582.4h0M38.7 586.3h0M50.5 587.7h0M46 588.6h0M49.1 596h0M42.2 587.4h0M47 582.2h0M55.8 599.1h0" stroke="#6dcdc8" stroke-width="1.5" stroke-linecap="round"/><path d="M55.1 597h0M48.9 597h0M46 601.6h0M38.9 573.8h0M50.9 584.9h0M42.4 595.6h0M43.4 597.3h0M56.2 586.3h0M45.3 594.2h0M45.7 576.2h0M47.7 589.1h0M49.4 598.4h0M52.7 594.7h0M45 575.5h0M50.4 597.6h0M54.7 589.7h0" stroke="#f0645c" stroke-width="1.5" stroke-linecap="round"/><path d="M38.2 578.9h0M53.2 604.7h0M41.7 601.1h0M54.2 604.4h0M51.3 583.7h0M51 600.5h0M44.6 598.2h0M56.9 587.9h0M39.9 585h0M52.6 596.6h0M50.7 577.7h0M55.8 580.6h0" stroke="#f0645c" stroke-width="1" stroke-linecap="round"/><path d="M50.1 593.6h0M38.2 581.3h0M46.8 599.3h0M56.8 597.1h0M51.1 599.2h0" stroke="#6dcdc8" stroke-width="1" stroke-linecap="round"/><path d="M56.4 600h0M57.7 590.2h0M56 583.5h0M44.6 600.4h0M38.2 597.5h0" stroke="#6dcdc8" stroke-width="2" stroke-linecap="round"/><path d="M53.9 581.6h0M43.8 587.2h0M56.6 584.3h0M44.9 585.4h0M49.3 581.8h0" stroke="#f0645c" stroke-width="2" stroke-linecap="round"/></g></g><path d="M84.6 566 L86.6 566 L86.2 582 L85.8 596 L85.4 596 L84.9 582 Z" fill="#fff" stroke="#fff" stroke-width="0.96" stroke-linejoin="round"/><path d="M33.1 574.6C35.6 572.68 38.65 572.1 42.3 572.3C45.95 572.5 52.3 574.45 55 575.8C57.7 577.15 58.07 577.7 58.5 580.4C58.93 583.1 57.8 587.97 57.6 592C57.4 596.03 56.38 600.97 57.3 604.6C58.22 608.23 60.22 611.1 63.1 613.8C65.98 616.5 71.53 618.48 74.6 620.8C77.67 623.12 79.97 625.02 81.5 627.7C83.03 630.38 83.42 633.05 83.8 636.9C84.18 640.75 84.18 646.57 83.8 650.8C83.42 655.03 82.65 659.42 81.5 662.3C80.35 665.18 79.2 666.75 76.9 668.1C74.6 669.45 70.77 670.78 67.7 670.4C64.63 670.02 60.82 667.53 58.5 665.8C56.18 664.07 54.97 662.12 53.8 660C52.63 657.88 52.27 655.4 51.5 653.1C50.73 650.8 50.73 648.13 49.2 646.2C47.67 644.27 44.6 643.05 42.3 641.5C40 639.95 37.7 639.2 35.4 636.9C33.1 634.6 30.23 631.15 28.5 627.7C26.77 624.25 25.7 620.05 25 616.2C24.3 612.35 24.3 608.45 24.3 604.6C24.3 600.75 24.5 596.57 25 593.1C25.5 589.63 25.95 586.88 27.3 583.8C28.65 580.72 30.6 576.52 33.1 574.6Z" fill="none" stroke="#fff" stroke-width="1.3"/><path d="M121.2 594.2C121.2 595.3 121.12 596.43 120.96 597.49C120.81 598.55 120.57 599.6 120.28 600.55C119.98 601.5 119.6 602.41 119.18 603.18C118.76 603.96 118.27 604.65 117.75 605.2C117.23 605.75 116.66 606.18 116.09 606.47C115.51 606.75 114.9 606.9 114.3 606.9C113.7 606.9 113.09 606.75 112.51 606.47C111.94 606.18 111.37 605.75 110.85 605.2C110.33 604.65 109.84 603.96 109.42 603.18C109 602.41 108.62 601.5 108.32 600.55C108.03 599.6 107.79 598.55 107.64 597.49C107.48 596.43 107.4 595.3 107.4 594.2C107.4 593.1 107.48 591.97 107.64 590.91C107.79 589.85 108.03 588.8 108.32 587.85C108.62 586.9 109 585.99 109.42 585.22C109.84 584.44 110.33 583.75 110.85 583.2C111.37 582.65 111.94 582.22 112.51 581.93C113.09 581.65 113.7 581.5 114.3 581.5C114.9 581.5 115.51 581.65 116.09 581.93C116.66 582.22 117.23 582.65 117.75 583.2C118.27 583.75 118.76 584.44 119.18 585.22C119.6 585.99 119.98 586.9 120.28 587.85C120.57 588.8 120.81 589.85 120.96 590.91C121.12 591.97 121.2 593.1 121.2 594.2Z" fill="none" stroke="#fff" stroke-width="1"/></g>
<circle cx="395.4" cy="609.8" r="1.4" fill="#f0a050"/>
<text x="427.8" y="558.3" text-anchor="middle" fill="#3a3a3a">4</text>
<text x="445.8" y="559" text-anchor="middle" fill="#3a3a3a">7</text>
<text x="458.5" y="555.8" text-anchor="middle" fill="#3a3a3a">3</text>
<text x="476.4" y="575.9" text-anchor="middle" fill="#3a3a3a">5</text>
<text x="431" y="581.1" text-anchor="middle" fill="#3a3a3a">9</text>
<text x="458.5" y="581.1" text-anchor="middle" fill="#3a3a3a">8</text>
<text x="408.8" y="593.9" text-anchor="middle" fill="#3a3a3a">12</text>
<text x="493.4" y="598.5" text-anchor="middle" fill="#3a3a3a">2</text>
<text x="443.2" y="603.4" text-anchor="middle" fill="#3a3a3a">6</text>
<text x="390.8" y="607.7" text-anchor="middle" fill="#3a3a3a">14</text>
<text x="478.1" y="622.4" text-anchor="middle" fill="#3a3a3a">1</text>
<text x="453.2" y="624.5" text-anchor="middle" fill="#3a3a3a">13</text>
<text x="414" y="629.8" text-anchor="middle" fill="#3a3a3a">11</text>
<text x="412" y="647.8" text-anchor="middle" fill="#3a3a3a">10</text>
<text x="444.1" y="654.1" text-anchor="middle" fill="#3a3a3a">15</text>
<text x="421.4" y="663.7" text-anchor="middle" fill="#3a3a3a">16</text>
<text x="2.5" y="828" font-weight="bold" font-size="10" fill="#111">E</text>
<text x="143.3" y="827.9">Sample fraction per latent space spectral cluster</text>
<rect x="30.3" y="834.2" width="4.43" height="7" fill="#4d5470"/><rect x="35.08" y="834.2" width="4.43" height="7" fill="#4d5470"/><rect x="39.86" y="834.2" width="4.43" height="7" fill="#4d5470"/><rect x="44.63" y="834.2" width="4.43" height="7" fill="#4d5470"/><rect x="49.41" y="834.2" width="4.43" height="7" fill="#a2482a"/><rect x="54.19" y="834.2" width="4.43" height="7" fill="#45a6d8"/><rect x="58.97" y="834.2" width="4.43" height="7" fill="#45a6d8"/><rect x="63.75" y="834.2" width="4.43" height="7" fill="#a2482a"/><rect x="68.52" y="834.2" width="4.43" height="7" fill="#45a6d8"/><rect x="73.3" y="834.2" width="4.43" height="7" fill="#4d5470"/><rect x="78.08" y="834.2" width="4.43" height="7" fill="#4d5470"/><rect x="82.86" y="834.2" width="4.43" height="7" fill="#4d5470"/><rect x="87.64" y="834.2" width="4.43" height="7" fill="#4d5470"/><rect x="92.41" y="834.2" width="4.43" height="7" fill="#4d5470"/><rect x="97.19" y="834.2" width="4.43" height="7" fill="#4d5470"/><rect x="101.97" y="834.2" width="4.43" height="7" fill="#a2482a"/><rect x="106.75" y="834.2" width="4.43" height="7" fill="#4d5470"/><rect x="111.53" y="834.2" width="4.43" height="7" fill="#a2482a"/><rect x="116.3" y="834.2" width="4.43" height="7" fill="#4d5470"/><rect x="121.08" y="834.2" width="4.43" height="7" fill="#4d5470"/><rect x="125.86" y="834.2" width="4.43" height="7" fill="#4d5470"/><rect x="130.64" y="834.2" width="4.43" height="7" fill="#4d5470"/><rect x="135.42" y="834.2" width="4.43" height="7" fill="#4d5470"/><rect x="140.19" y="834.2" width="4.43" height="7" fill="#4d5470"/><rect x="144.97" y="834.2" width="4.43" height="7" fill="#4d5470"/><rect x="149.75" y="834.2" width="4.43" height="7" fill="#45a6d8"/><rect x="154.53" y="834.2" width="4.43" height="7" fill="#45a6d8"/><rect x="159.31" y="834.2" width="4.43" height="7" fill="#45a6d8"/><rect x="164.08" y="834.2" width="4.43" height="7" fill="#45a6d8"/><rect x="168.86" y="834.2" width="4.43" height="7" fill="#45a6d8"/><rect x="173.64" y="834.2" width="4.43" height="7" fill="#45a6d8"/><rect x="178.42" y="834.2" width="4.43" height="7" fill="#45a6d8"/><rect x="183.2" y="834.2" width="4.43" height="7" fill="#45a6d8"/><rect x="187.97" y="834.2" width="4.43" height="7" fill="#45a6d8"/><rect x="192.75" y="834.2" width="4.43" height="7" fill="#45a6d8"/><rect x="197.53" y="834.2" width="4.43" height="7" fill="#a2482a"/><rect x="202.31" y="834.2" width="4.43" height="7" fill="#4d5470"/><rect x="207.09" y="834.2" width="4.43" height="7" fill="#4d5470"/><rect x="211.86" y="834.2" width="4.43" height="7" fill="#45a6d8"/><rect x="216.64" y="834.2" width="4.43" height="7" fill="#45a6d8"/><rect x="221.42" y="834.2" width="4.43" height="7" fill="#45a6d8"/><rect x="226.2" y="834.2" width="4.43" height="7" fill="#45a6d8"/><rect x="230.98" y="834.2" width="4.43" height="7" fill="#45a6d8"/><rect x="235.75" y="834.2" width="4.43" height="7" fill="#45a6d8"/><rect x="240.53" y="834.2" width="4.43" height="7" fill="#45a6d8"/><rect x="245.31" y="834.2" width="4.43" height="7" fill="#4d5470"/><rect x="250.09" y="834.2" width="4.43" height="7" fill="#a2482a"/><rect x="254.87" y="834.2" width="4.43" height="7" fill="#a2482a"/><rect x="259.64" y="834.2" width="4.43" height="7" fill="#45a6d8"/><rect x="264.42" y="834.2" width="4.43" height="7" fill="#45a6d8"/><rect x="269.2" y="834.2" width="4.43" height="7" fill="#45a6d8"/><rect x="273.98" y="834.2" width="4.43" height="7" fill="#45a6d8"/><rect x="278.76" y="834.2" width="4.43" height="7" fill="#45a6d8"/><rect x="283.53" y="834.2" width="4.43" height="7" fill="#45a6d8"/><rect x="288.31" y="834.2" width="4.43" height="7" fill="#45a6d8"/><rect x="293.09" y="834.2" width="4.43" height="7" fill="#45a6d8"/><rect x="297.87" y="834.2" width="4.43" height="7" fill="#45a6d8"/><rect x="302.65" y="834.2" width="4.43" height="7" fill="#45a6d8"/><rect x="307.42" y="834.2" width="4.43" height="7" fill="#45a6d8"/><rect x="312.2" y="834.2" width="4.43" height="7" fill="#45a6d8"/><rect x="316.98" y="834.2" width="4.43" height="7" fill="#45a6d8"/><rect x="321.76" y="834.2" width="4.43" height="7" fill="#45a6d8"/><rect x="326.54" y="834.2" width="4.43" height="7" fill="#45a6d8"/><rect x="331.31" y="834.2" width="4.43" height="7" fill="#45a6d8"/><rect x="336.09" y="834.2" width="4.43" height="7" fill="#45a6d8"/><rect x="340.87" y="834.2" width="4.43" height="7" fill="#a2482a"/><rect x="345.65" y="834.2" width="4.43" height="7" fill="#a2482a"/><rect x="350.43" y="834.2" width="4.43" height="7" fill="#4d5470"/><rect x="355.2" y="834.2" width="4.43" height="7" fill="#4d5470"/><rect x="359.98" y="834.2" width="4.43" height="7" fill="#4d5470"/><rect x="364.76" y="834.2" width="4.43" height="7" fill="#4d5470"/><rect x="369.54" y="834.2" width="4.43" height="7" fill="#4d5470"/><rect x="374.32" y="834.2" width="4.43" height="7" fill="#a2482a"/><rect x="379.09" y="834.2" width="4.43" height="7" fill="#a2482a"/><rect x="383.87" y="834.2" width="4.43" height="7" fill="#a2482a"/><rect x="388.65" y="834.2" width="4.43" height="7" fill="#a2482a"/><rect x="393.43" y="834.2" width="4.43" height="7" fill="#a2482a"/><rect x="398.21" y="834.2" width="4.43" height="7" fill="#a2482a"/><rect x="402.98" y="834.2" width="4.43" height="7" fill="#45a6d8"/><rect x="407.76" y="834.2" width="4.43" height="7" fill="#a2482a"/><rect x="412.54" y="834.2" width="4.43" height="7" fill="#a2482a"/><rect x="417.32" y="834.2" width="4.43" height="7" fill="#a2482a"/><rect x="422.1" y="834.2" width="4.43" height="7" fill="#a2482a"/><rect x="426.87" y="834.2" width="4.43" height="7" fill="#45a6d8"/><rect x="431.65" y="834.2" width="4.43" height="7" fill="#a2482a"/>
<rect x="30.3" y="846.25" width="3.63" height="109.25" fill="#b3d86b"/><rect x="30.3" y="918.39" width="3.63" height="37.26" fill="#6cc6a7"/><rect x="30.3" y="906.05" width="3.63" height="12.5" fill="#b8b8ba"/><rect x="30.3" y="900.95" width="3.63" height="5.25" fill="#84d0c2"/><rect x="30.3" y="867.3" width="3.63" height="33.8" fill="#c6b8dd"/><rect x="30.3" y="858.26" width="3.63" height="9.19" fill="#7fabd8"/><rect x="35.08" y="846.25" width="3.63" height="109.25" fill="#b3d86b"/><rect x="35.08" y="947.85" width="3.63" height="7.8" fill="#6cc6a7"/><rect x="35.08" y="939.7" width="3.63" height="8.31" fill="#8c9ed1"/><rect x="35.08" y="930.68" width="3.63" height="9.17" fill="#f6dc3e"/><rect x="35.08" y="919.92" width="3.63" height="10.91" fill="#eec8a3"/><rect x="35.08" y="905.21" width="3.63" height="14.86" fill="#b8b8ba"/><rect x="35.08" y="892.29" width="3.63" height="13.07" fill="#84d0c2"/><rect x="35.08" y="889.49" width="3.63" height="2.94" fill="#f6f1b5"/><rect x="35.08" y="867.2" width="3.63" height="22.45" fill="#f47c72"/><rect x="35.08" y="855.77" width="3.63" height="11.58" fill="#7fabd8"/><rect x="39.86" y="846.25" width="3.63" height="109.25" fill="#b3d86b"/><rect x="39.86" y="948.34" width="3.63" height="7.31" fill="#6cc6a7"/><rect x="39.86" y="940.38" width="3.63" height="8.11" fill="#f47c72"/><rect x="39.86" y="930.3" width="3.63" height="10.22" fill="#f6dc3e"/><rect x="39.86" y="919.03" width="3.63" height="11.42" fill="#eec8a3"/><rect x="39.86" y="904.11" width="3.63" height="15.07" fill="#b8b8ba"/><rect x="39.86" y="890.29" width="3.63" height="13.96" fill="#84d0c2"/><rect x="39.86" y="887.2" width="3.63" height="3.24" fill="#f6f1b5"/><rect x="39.86" y="869.35" width="3.63" height="18" fill="#f47c72"/><rect x="39.86" y="859.17" width="3.63" height="10.32" fill="#7fabd8"/><rect x="44.63" y="846.25" width="3.63" height="109.25" fill="#b3d86b"/><rect x="44.63" y="949.76" width="3.63" height="5.89" fill="#6cc6a7"/><rect x="44.63" y="943.45" width="3.63" height="6.46" fill="#f47c72"/><rect x="44.63" y="931.23" width="3.63" height="12.37" fill="#f6dc3e"/><rect x="44.63" y="921.39" width="3.63" height="9.99" fill="#eec8a3"/><rect x="44.63" y="905.79" width="3.63" height="15.75" fill="#b8b8ba"/><rect x="44.63" y="892.75" width="3.63" height="13.19" fill="#84d0c2"/><rect x="44.63" y="890.08" width="3.63" height="2.81" fill="#f6f1b5"/><rect x="44.63" y="867.57" width="3.63" height="22.66" fill="#f47c72"/><rect x="44.63" y="858.42" width="3.63" height="9.31" fill="#7fabd8"/><rect x="49.41" y="846.25" width="3.63" height="109.25" fill="#b3d86b"/><rect x="49.41" y="948.94" width="3.63" height="6.71" fill="#6cc6a7"/><rect x="49.41" y="940.46" width="3.63" height="8.63" fill="#f47c72"/><rect x="49.41" y="929.2" width="3.63" height="11.41" fill="#f6dc3e"/><rect x="49.41" y="916.91" width="3.63" height="12.44" fill="#eec8a3"/><rect x="49.41" y="897.11" width="3.63" height="19.94" fill="#b8b8ba"/><rect x="49.41" y="884.42" width="3.63" height="12.84" fill="#84d0c2"/><rect x="49.41" y="882.21" width="3.63" height="2.36" fill="#f6f1b5"/><rect x="49.41" y="865.97" width="3.63" height="16.39" fill="#f47c72"/><rect x="49.41" y="855.78" width="3.63" height="10.34" fill="#7fabd8"/><rect x="54.19" y="846.25" width="3.63" height="109.25" fill="#b3d86b"/><rect x="54.19" y="946.79" width="3.63" height="8.86" fill="#6cc6a7"/><rect x="54.19" y="938.99" width="3.63" height="7.95" fill="#f47c72"/><rect x="54.19" y="929.91" width="3.63" height="9.23" fill="#f6dc3e"/><rect x="54.19" y="919.38" width="3.63" height="10.68" fill="#eec8a3"/><rect x="54.19" y="903.75" width="3.63" height="15.78" fill="#b8b8ba"/><rect x="54.19" y="893.8" width="3.63" height="10.1" fill="#84d0c2"/><rect x="54.19" y="891.25" width="3.63" height="2.7" fill="#f6f1b5"/><rect x="54.19" y="868.53" width="3.63" height="22.87" fill="#f47c72"/><rect x="54.19" y="856.56" width="3.63" height="12.12" fill="#7fabd8"/><rect x="58.97" y="846.25" width="3.63" height="109.25" fill="#b3d86b"/><rect x="58.97" y="948.94" width="3.63" height="6.71" fill="#6cc6a7"/><rect x="58.97" y="941.96" width="3.63" height="7.13" fill="#8c9ed1"/><rect x="58.97" y="930.49" width="3.63" height="11.62" fill="#f6dc3e"/><rect x="58.97" y="921.21" width="3.63" height="9.43" fill="#eec8a3"/><rect x="58.97" y="903.88" width="3.63" height="17.48" fill="#b8b8ba"/><rect x="58.97" y="890.54" width="3.63" height="13.49" fill="#84d0c2"/><rect x="58.97" y="888.33" width="3.63" height="2.36" fill="#f6f1b5"/><rect x="58.97" y="866.34" width="3.63" height="22.14" fill="#f47c72"/><rect x="58.97" y="856.09" width="3.63" height="10.4" fill="#7fabd8"/><rect x="63.75" y="846.25" width="3.63" height="109.25" fill="#b3d86b"/><rect x="63.75" y="946.85" width="3.63" height="8.8" fill="#6cc6a7"/><rect x="63.75" y="940.6" width="3.63" height="6.4" fill="#f47c72"/><rect x="63.75" y="931.69" width="3.63" height="9.05" fill="#f6dc3e"/><rect x="63.75" y="922.53" width="3.63" height="9.32" fill="#eec8a3"/><rect x="63.75" y="903.04" width="3.63" height="19.63" fill="#b8b8ba"/><rect x="63.75" y="891.9" width="3.63" height="11.29" fill="#84d0c2"/><rect x="63.75" y="888.83" width="3.63" height="3.22" fill="#f6f1b5"/><rect x="63.75" y="866.44" width="3.63" height="22.54" fill="#f47c72"/><rect x="63.75" y="857.18" width="3.63" height="9.41" fill="#7fabd8"/><rect x="68.52" y="846.25" width="3.63" height="109.25" fill="#b3d86b"/><rect x="68.52" y="946.05" width="3.63" height="9.6" fill="#6cc6a7"/><rect x="68.52" y="939.02" width="3.63" height="7.18" fill="#f47c72"/><rect x="68.52" y="925.64" width="3.63" height="13.53" fill="#f6dc3e"/><rect x="68.52" y="915.79" width="3.63" height="10" fill="#eec8a3"/><rect x="68.52" y="900.56" width="3.63" height="15.38" fill="#b8b8ba"/><rect x="68.52" y="888.63" width="3.63" height="12.08" fill="#84d0c2"/><rect x="68.52" y="885.56" width="3.63" height="3.22" fill="#f6f1b5"/><rect x="68.52" y="867.6" width="3.63" height="18.11" fill="#f47c72"/><rect x="68.52" y="857.62" width="3.63" height="10.13" fill="#7fabd8"/><rect x="73.3" y="846.25" width="3.63" height="109.25" fill="#b3d86b"/><rect x="73.3" y="918.65" width="3.63" height="37" fill="#6cc6a7"/><rect x="73.3" y="898.81" width="3.63" height="19.99" fill="#a5cf55"/><rect x="73.3" y="886.21" width="3.63" height="12.76" fill="#84d0c2"/><rect x="73.3" y="884.14" width="3.63" height="2.21" fill="#f6f1b5"/><rect x="73.3" y="874.12" width="3.63" height="10.17" fill="#f47c72"/><rect x="73.3" y="855.33" width="3.63" height="18.95" fill="#7fabd8"/><rect x="78.08" y="846.25" width="3.63" height="109.25" fill="#b3d86b"/><rect x="78.08" y="920.91" width="3.63" height="34.74" fill="#6cc6a7"/><rect x="78.08" y="901.61" width="3.63" height="19.45" fill="#a5cf55"/><rect x="78.08" y="889.19" width="3.63" height="12.57" fill="#84d0c2"/><rect x="78.08" y="887.23" width="3.63" height="2.11" fill="#f6f1b5"/><rect x="78.08" y="874.86" width="3.63" height="12.52" fill="#f47c72"/><rect x="78.08" y="858" width="3.63" height="17.01" fill="#7fabd8"/><rect x="82.86" y="846.25" width="3.63" height="109.25" fill="#b3d86b"/><rect x="82.86" y="919.49" width="3.63" height="36.16" fill="#6cc6a7"/><rect x="82.86" y="897.91" width="3.63" height="21.74" fill="#a5cf55"/><rect x="82.86" y="886.79" width="3.63" height="11.27" fill="#84d0c2"/><rect x="82.86" y="884.44" width="3.63" height="2.5" fill="#f6f1b5"/><rect x="82.86" y="872.16" width="3.63" height="12.43" fill="#f47c72"/><rect x="82.86" y="858.06" width="3.63" height="14.24" fill="#7fabd8"/><rect x="87.64" y="846.25" width="3.63" height="109.25" fill="#b3d86b"/><rect x="87.64" y="917.87" width="3.63" height="37.78" fill="#6cc6a7"/><rect x="87.64" y="899.86" width="3.63" height="18.17" fill="#a5cf55"/><rect x="87.64" y="886.52" width="3.63" height="13.48" fill="#84d0c2"/><rect x="87.64" y="883.82" width="3.63" height="2.85" fill="#f6f1b5"/><rect x="87.64" y="872.51" width="3.63" height="11.46" fill="#f47c72"/><rect x="87.64" y="855.4" width="3.63" height="17.26" fill="#7fabd8"/><rect x="92.41" y="846.25" width="3.63" height="109.25" fill="#b3d86b"/><rect x="92.41" y="920.82" width="3.63" height="34.83" fill="#6cc6a7"/><rect x="92.41" y="899.52" width="3.63" height="21.45" fill="#a5cf55"/><rect x="92.41" y="887.29" width="3.63" height="12.37" fill="#84d0c2"/><rect x="92.41" y="884.94" width="3.63" height="2.51" fill="#f6f1b5"/><rect x="92.41" y="874.95" width="3.63" height="10.13" fill="#f47c72"/><rect x="92.41" y="857.57" width="3.63" height="17.53" fill="#7fabd8"/><rect x="97.19" y="846.25" width="3.63" height="109.25" fill="#b3d86b"/><rect x="97.19" y="921.97" width="3.63" height="33.68" fill="#6cc6a7"/><rect x="97.19" y="901.1" width="3.63" height="21.01" fill="#a5cf55"/><rect x="97.19" y="889.59" width="3.63" height="11.67" fill="#84d0c2"/><rect x="97.19" y="887.34" width="3.63" height="2.4" fill="#f6f1b5"/><rect x="97.19" y="875.29" width="3.63" height="12.2" fill="#f47c72"/><rect x="97.19" y="856.45" width="3.63" height="18.99" fill="#7fabd8"/><rect x="101.97" y="846.25" width="3.63" height="109.25" fill="#b3d86b"/><rect x="101.97" y="926.8" width="3.63" height="28.85" fill="#6cc6a7"/><rect x="101.97" y="924.8" width="3.63" height="2.15" fill="#f47c72"/><rect x="101.97" y="917.52" width="3.63" height="7.43" fill="#f6dc3e"/><rect x="101.97" y="914.56" width="3.63" height="3.11" fill="#eec8a3"/><rect x="101.97" y="900" width="3.63" height="14.72" fill="#b8b8ba"/><rect x="101.97" y="888.68" width="3.63" height="11.47" fill="#84d0c2"/><rect x="101.97" y="884.94" width="3.63" height="3.89" fill="#f6f1b5"/><rect x="101.97" y="872.04" width="3.63" height="13.05" fill="#f47c72"/><rect x="101.97" y="858.61" width="3.63" height="13.58" fill="#7fabd8"/><rect x="106.75" y="846.25" width="3.63" height="109.25" fill="#b3d86b"/><rect x="106.75" y="923.56" width="3.63" height="32.09" fill="#6cc6a7"/><rect x="106.75" y="921.26" width="3.63" height="2.45" fill="#f47c72"/><rect x="106.75" y="914.15" width="3.63" height="7.26" fill="#f6dc3e"/><rect x="106.75" y="910.44" width="3.63" height="3.87" fill="#eec8a3"/><rect x="106.75" y="897.91" width="3.63" height="12.68" fill="#b8b8ba"/><rect x="106.75" y="885.55" width="3.63" height="12.51" fill="#84d0c2"/><rect x="106.75" y="882.51" width="3.63" height="3.19" fill="#f6f1b5"/><rect x="106.75" y="867.99" width="3.63" height="14.67" fill="#f47c72"/><rect x="106.75" y="857.04" width="3.63" height="11.1" fill="#7fabd8"/><rect x="111.53" y="846.25" width="3.63" height="109.25" fill="#b3d86b"/><rect x="111.53" y="929.48" width="3.63" height="26.17" fill="#6cc6a7"/><rect x="111.53" y="927.34" width="3.63" height="2.3" fill="#f47c72"/><rect x="111.53" y="922.37" width="3.63" height="5.11" fill="#f6dc3e"/><rect x="111.53" y="913.45" width="3.63" height="9.08" fill="#a5cf55"/><rect x="111.53" y="905.4" width="3.63" height="8.2" fill="#b8b8ba"/><rect x="111.53" y="886" width="3.63" height="19.54" fill="#84d0c2"/><rect x="111.53" y="883.73" width="3.63" height="2.42" fill="#f6f1b5"/><rect x="111.53" y="871.44" width="3.63" height="12.44" fill="#f47c72"/><rect x="111.53" y="856.13" width="3.63" height="15.46" fill="#7fabd8"/><rect x="116.3" y="846.25" width="3.63" height="109.25" fill="#b3d86b"/><rect x="116.3" y="924.97" width="3.63" height="30.68" fill="#6cc6a7"/><rect x="116.3" y="922.73" width="3.63" height="2.39" fill="#f47c72"/><rect x="116.3" y="918.1" width="3.63" height="4.78" fill="#f6dc3e"/><rect x="116.3" y="909.96" width="3.63" height="8.29" fill="#a5cf55"/><rect x="116.3" y="900.19" width="3.63" height="9.92" fill="#b8b8ba"/><rect x="116.3" y="881.84" width="3.63" height="18.5" fill="#84d0c2"/><rect x="116.3" y="879.89" width="3.63" height="2.09" fill="#f6f1b5"/><rect x="116.3" y="869.18" width="3.63" height="10.86" fill="#f47c72"/><rect x="116.3" y="858.02" width="3.63" height="11.31" fill="#7fabd8"/><rect x="121.08" y="846.25" width="3.63" height="109.25" fill="#b3d86b"/><rect x="121.08" y="924.6" width="3.63" height="31.05" fill="#6cc6a7"/><rect x="121.08" y="922.06" width="3.63" height="2.68" fill="#f47c72"/><rect x="121.08" y="917.93" width="3.63" height="4.28" fill="#f6dc3e"/><rect x="121.08" y="910.83" width="3.63" height="7.24" fill="#a5cf55"/><rect x="121.08" y="902.08" width="3.63" height="8.9" fill="#b8b8ba"/><rect x="121.08" y="883.17" width="3.63" height="19.07" fill="#84d0c2"/><rect x="121.08" y="880.95" width="3.63" height="2.36" fill="#f6f1b5"/><rect x="121.08" y="869.17" width="3.63" height="11.93" fill="#f47c72"/><rect x="121.08" y="855.03" width="3.63" height="14.3" fill="#7fabd8"/><rect x="125.86" y="846.25" width="3.63" height="109.25" fill="#b3d86b"/><rect x="125.86" y="922.1" width="3.63" height="33.55" fill="#6cc6a7"/><rect x="125.86" y="920.05" width="3.63" height="2.2" fill="#f47c72"/><rect x="125.86" y="916.34" width="3.63" height="3.86" fill="#f6dc3e"/><rect x="125.86" y="908.99" width="3.63" height="7.51" fill="#a5cf55"/><rect x="125.86" y="901.72" width="3.63" height="7.42" fill="#b8b8ba"/><rect x="125.86" y="888.07" width="3.63" height="13.8" fill="#84d0c2"/><rect x="125.86" y="885.98" width="3.63" height="2.24" fill="#f6f1b5"/><rect x="125.86" y="871.38" width="3.63" height="14.75" fill="#f47c72"/><rect x="125.86" y="857.53" width="3.63" height="13.99" fill="#7fabd8"/><rect x="130.64" y="846.25" width="3.63" height="109.25" fill="#b3d86b"/><rect x="130.64" y="922.98" width="3.63" height="32.67" fill="#6cc6a7"/><rect x="130.64" y="921.26" width="3.63" height="1.86" fill="#f47c72"/><rect x="130.64" y="917.72" width="3.63" height="3.69" fill="#f6dc3e"/><rect x="130.64" y="911.47" width="3.63" height="6.41" fill="#a5cf55"/><rect x="130.64" y="903.38" width="3.63" height="8.24" fill="#b8b8ba"/><rect x="130.64" y="886.33" width="3.63" height="17.19" fill="#84d0c2"/><rect x="130.64" y="884.46" width="3.63" height="2.02" fill="#f6f1b5"/><rect x="130.64" y="871.12" width="3.63" height="13.49" fill="#f47c72"/><rect x="130.64" y="857.27" width="3.63" height="14.01" fill="#7fabd8"/><rect x="135.42" y="846.25" width="3.63" height="109.25" fill="#b3d86b"/><rect x="135.42" y="913.03" width="3.63" height="42.62" fill="#6cc6a7"/><rect x="135.42" y="907.89" width="3.63" height="5.29" fill="#a5cf55"/><rect x="135.42" y="904.59" width="3.63" height="3.45" fill="#f6dc3e"/><rect x="135.42" y="891.08" width="3.63" height="13.66" fill="#b8b8ba"/><rect x="135.42" y="877.23" width="3.63" height="13.99" fill="#84d0c2"/><rect x="135.42" y="875.24" width="3.63" height="2.14" fill="#f6f1b5"/><rect x="135.42" y="868.68" width="3.63" height="6.72" fill="#f47c72"/><rect x="135.42" y="857.92" width="3.63" height="10.91" fill="#7fabd8"/><rect x="140.19" y="846.25" width="3.63" height="109.25" fill="#b3d86b"/><rect x="140.19" y="919.84" width="3.63" height="35.81" fill="#6cc6a7"/><rect x="140.19" y="915.79" width="3.63" height="4.2" fill="#a5cf55"/><rect x="140.19" y="912.23" width="3.63" height="3.7" fill="#f6dc3e"/><rect x="140.19" y="896.65" width="3.63" height="15.74" fill="#b8b8ba"/><rect x="140.19" y="880.18" width="3.63" height="16.61" fill="#84d0c2"/><rect x="140.19" y="877.9" width="3.63" height="2.43" fill="#f6f1b5"/><rect x="140.19" y="871.19" width="3.63" height="6.87" fill="#f47c72"/><rect x="140.19" y="858.63" width="3.63" height="12.7" fill="#7fabd8"/><rect x="144.97" y="846.25" width="3.63" height="109.25" fill="#b3d86b"/><rect x="144.97" y="915.86" width="3.63" height="39.79" fill="#6cc6a7"/><rect x="144.97" y="912.06" width="3.63" height="3.95" fill="#a5cf55"/><rect x="144.97" y="909.22" width="3.63" height="2.99" fill="#f6dc3e"/><rect x="144.97" y="894" width="3.63" height="15.37" fill="#b8b8ba"/><rect x="144.97" y="878.47" width="3.63" height="15.68" fill="#84d0c2"/><rect x="144.97" y="875.92" width="3.63" height="2.71" fill="#f6f1b5"/><rect x="144.97" y="869.91" width="3.63" height="6.16" fill="#f47c72"/><rect x="144.97" y="856.32" width="3.63" height="13.74" fill="#7fabd8"/><rect x="149.75" y="846.25" width="3.63" height="109.25" fill="#b3d86b"/><rect x="149.75" y="941.1" width="3.63" height="14.55" fill="#6cc6a7"/><rect x="149.75" y="934.67" width="3.63" height="6.58" fill="#f47c72"/><rect x="149.75" y="929.82" width="3.63" height="5" fill="#8c9ed1"/><rect x="149.75" y="925.84" width="3.63" height="4.13" fill="#a5cf55"/><rect x="149.75" y="917.5" width="3.63" height="8.49" fill="#f6dc3e"/><rect x="149.75" y="912.08" width="3.63" height="5.57" fill="#eec8a3"/><rect x="149.75" y="901.52" width="3.63" height="10.71" fill="#b8b8ba"/><rect x="149.75" y="893.47" width="3.63" height="8.21" fill="#84d0c2"/><rect x="149.75" y="887.6" width="3.63" height="6.01" fill="#f6f1b5"/><rect x="149.75" y="876.46" width="3.63" height="11.29" fill="#f47c72"/><rect x="149.75" y="855.8" width="3.63" height="20.81" fill="#7fabd8"/><rect x="154.53" y="846.25" width="3.63" height="109.25" fill="#b3d86b"/><rect x="154.53" y="943.45" width="3.63" height="12.2" fill="#6cc6a7"/><rect x="154.53" y="937.48" width="3.63" height="6.11" fill="#f47c72"/><rect x="154.53" y="931.41" width="3.63" height="6.22" fill="#8c9ed1"/><rect x="154.53" y="926.38" width="3.63" height="5.18" fill="#a5cf55"/><rect x="154.53" y="918.72" width="3.63" height="7.81" fill="#f6dc3e"/><rect x="154.53" y="914.07" width="3.63" height="4.8" fill="#eec8a3"/><rect x="154.53" y="903.01" width="3.63" height="11.21" fill="#b8b8ba"/><rect x="154.53" y="893.58" width="3.63" height="9.58" fill="#84d0c2"/><rect x="154.53" y="888.75" width="3.63" height="4.98" fill="#f6f1b5"/><rect x="154.53" y="877.25" width="3.63" height="11.66" fill="#f47c72"/><rect x="154.53" y="856.67" width="3.63" height="20.72" fill="#7fabd8"/><rect x="159.31" y="846.25" width="3.63" height="109.25" fill="#b3d86b"/><rect x="159.31" y="939.39" width="3.63" height="16.26" fill="#6cc6a7"/><rect x="159.31" y="933.53" width="3.63" height="6.01" fill="#f47c72"/><rect x="159.31" y="928.28" width="3.63" height="5.4" fill="#8c9ed1"/><rect x="159.31" y="924.59" width="3.63" height="3.84" fill="#a5cf55"/><rect x="159.31" y="916.18" width="3.63" height="8.56" fill="#f6dc3e"/><rect x="159.31" y="910.29" width="3.63" height="6.04" fill="#eec8a3"/><rect x="159.31" y="901.45" width="3.63" height="8.99" fill="#b8b8ba"/><rect x="159.31" y="893.63" width="3.63" height="7.98" fill="#84d0c2"/><rect x="159.31" y="888.89" width="3.63" height="4.89" fill="#f6f1b5"/><rect x="159.31" y="878.8" width="3.63" height="10.24" fill="#f47c72"/><rect x="159.31" y="856.17" width="3.63" height="22.79" fill="#7fabd8"/><rect x="164.08" y="846.25" width="3.63" height="109.25" fill="#b3d86b"/><rect x="164.08" y="943.54" width="3.63" height="12.11" fill="#6cc6a7"/><rect x="164.08" y="938.11" width="3.63" height="5.58" fill="#f47c72"/><rect x="164.08" y="931.98" width="3.63" height="6.28" fill="#8c9ed1"/><rect x="164.08" y="928.15" width="3.63" height="3.98" fill="#a5cf55"/><rect x="164.08" y="917.93" width="3.63" height="10.37" fill="#f6dc3e"/><rect x="164.08" y="912.82" width="3.63" height="5.26" fill="#eec8a3"/><rect x="164.08" y="902.76" width="3.63" height="10.2" fill="#b8b8ba"/><rect x="164.08" y="892.55" width="3.63" height="10.36" fill="#84d0c2"/><rect x="164.08" y="885.98" width="3.63" height="6.72" fill="#f6f1b5"/><rect x="164.08" y="877.43" width="3.63" height="8.71" fill="#f47c72"/><rect x="164.08" y="855.53" width="3.63" height="22.04" fill="#7fabd8"/><rect x="168.86" y="846.25" width="3.63" height="109.25" fill="#b3d86b"/><rect x="168.86" y="939.64" width="3.63" height="16.01" fill="#6cc6a7"/><rect x="168.86" y="933.67" width="3.63" height="6.11" fill="#f47c72"/><rect x="168.86" y="928.57" width="3.63" height="5.25" fill="#8c9ed1"/><rect x="168.86" y="924.59" width="3.63" height="4.13" fill="#a5cf55"/><rect x="168.86" y="917.56" width="3.63" height="7.19" fill="#f6dc3e"/><rect x="168.86" y="912.4" width="3.63" height="5.3" fill="#eec8a3"/><rect x="168.86" y="903.5" width="3.63" height="9.05" fill="#b8b8ba"/><rect x="168.86" y="896.08" width="3.63" height="7.58" fill="#84d0c2"/><rect x="168.86" y="889.75" width="3.63" height="6.48" fill="#f6f1b5"/><rect x="168.86" y="878.6" width="3.63" height="11.3" fill="#f47c72"/><rect x="168.86" y="858.07" width="3.63" height="20.69" fill="#7fabd8"/><rect x="173.64" y="846.25" width="3.63" height="109.25" fill="#b3d86b"/><rect x="173.64" y="942.63" width="3.63" height="13.02" fill="#6cc6a7"/><rect x="173.64" y="936.97" width="3.63" height="5.81" fill="#f47c72"/><rect x="173.64" y="932.13" width="3.63" height="4.98" fill="#8c9ed1"/><rect x="173.64" y="927.74" width="3.63" height="4.54" fill="#a5cf55"/><rect x="173.64" y="918.02" width="3.63" height="9.87" fill="#f6dc3e"/><rect x="173.64" y="912.62" width="3.63" height="5.55" fill="#eec8a3"/><rect x="173.64" y="902.82" width="3.63" height="9.95" fill="#b8b8ba"/><rect x="173.64" y="894.14" width="3.63" height="8.83" fill="#84d0c2"/><rect x="173.64" y="887.54" width="3.63" height="6.75" fill="#f6f1b5"/><rect x="173.64" y="879" width="3.63" height="8.69" fill="#f47c72"/><rect x="173.64" y="856.69" width="3.63" height="22.46" fill="#7fabd8"/><rect x="178.42" y="846.25" width="3.63" height="109.25" fill="#b3d86b"/><rect x="178.42" y="941.46" width="3.63" height="14.19" fill="#6cc6a7"/><rect x="178.42" y="935.75" width="3.63" height="5.86" fill="#f47c72"/><rect x="178.42" y="931.47" width="3.63" height="4.43" fill="#8c9ed1"/><rect x="178.42" y="926.62" width="3.63" height="5" fill="#a5cf55"/><rect x="178.42" y="918.85" width="3.63" height="7.91" fill="#f6dc3e"/><rect x="178.42" y="913.77" width="3.63" height="5.24" fill="#eec8a3"/><rect x="178.42" y="904.18" width="3.63" height="9.73" fill="#b8b8ba"/><rect x="178.42" y="894.34" width="3.63" height="9.99" fill="#84d0c2"/><rect x="178.42" y="889.62" width="3.63" height="4.87" fill="#f6f1b5"/><rect x="178.42" y="879.99" width="3.63" height="9.78" fill="#f47c72"/><rect x="178.42" y="858.43" width="3.63" height="21.71" fill="#7fabd8"/><rect x="183.2" y="846.25" width="3.63" height="109.25" fill="#b3d86b"/><rect x="183.2" y="940.55" width="3.63" height="15.1" fill="#6cc6a7"/><rect x="183.2" y="935.85" width="3.63" height="4.85" fill="#f47c72"/><rect x="183.2" y="930.28" width="3.63" height="5.72" fill="#8c9ed1"/><rect x="183.2" y="926.05" width="3.63" height="4.38" fill="#a5cf55"/><rect x="183.2" y="917.13" width="3.63" height="9.06" fill="#f6dc3e"/><rect x="183.2" y="912.73" width="3.63" height="4.56" fill="#eec8a3"/><rect x="183.2" y="904.12" width="3.63" height="8.76" fill="#b8b8ba"/><rect x="183.2" y="894.04" width="3.63" height="10.23" fill="#84d0c2"/><rect x="183.2" y="889.31" width="3.63" height="4.88" fill="#f6f1b5"/><rect x="183.2" y="880.32" width="3.63" height="9.14" fill="#f47c72"/><rect x="183.2" y="858.25" width="3.63" height="22.22" fill="#7fabd8"/><rect x="187.97" y="846.25" width="3.63" height="109.25" fill="#b3d86b"/><rect x="187.97" y="939.85" width="3.63" height="15.8" fill="#6cc6a7"/><rect x="187.97" y="934.18" width="3.63" height="5.82" fill="#f47c72"/><rect x="187.97" y="929.51" width="3.63" height="4.82" fill="#8c9ed1"/><rect x="187.97" y="924.57" width="3.63" height="5.08" fill="#a5cf55"/><rect x="187.97" y="915.23" width="3.63" height="9.49" fill="#f6dc3e"/><rect x="187.97" y="908.38" width="3.63" height="7" fill="#eec8a3"/><rect x="187.97" y="895.88" width="3.63" height="12.65" fill="#b8b8ba"/><rect x="187.97" y="888.14" width="3.63" height="7.89" fill="#84d0c2"/><rect x="187.97" y="882.1" width="3.63" height="6.19" fill="#f6f1b5"/><rect x="187.97" y="872.27" width="3.63" height="9.98" fill="#f47c72"/><rect x="187.97" y="855.35" width="3.63" height="17.06" fill="#7fabd8"/><rect x="192.75" y="846.25" width="3.63" height="109.25" fill="#b3d86b"/><rect x="192.75" y="943.06" width="3.63" height="12.59" fill="#6cc6a7"/><rect x="192.75" y="937.33" width="3.63" height="5.88" fill="#f47c72"/><rect x="192.75" y="932.22" width="3.63" height="5.26" fill="#8c9ed1"/><rect x="192.75" y="927.51" width="3.63" height="4.86" fill="#a5cf55"/><rect x="192.75" y="919.42" width="3.63" height="8.24" fill="#f6dc3e"/><rect x="192.75" y="912.89" width="3.63" height="6.68" fill="#eec8a3"/><rect x="192.75" y="902.85" width="3.63" height="10.19" fill="#b8b8ba"/><rect x="192.75" y="894.79" width="3.63" height="8.21" fill="#84d0c2"/><rect x="192.75" y="888.38" width="3.63" height="6.56" fill="#f6f1b5"/><rect x="192.75" y="879.58" width="3.63" height="8.94" fill="#f47c72"/><rect x="192.75" y="858.27" width="3.63" height="21.46" fill="#7fabd8"/><rect x="197.53" y="846.25" width="3.63" height="109.25" fill="#b3d86b"/><rect x="197.53" y="939.36" width="3.63" height="16.29" fill="#6cc6a7"/><rect x="197.53" y="934.43" width="3.63" height="5.08" fill="#f47c72"/><rect x="197.53" y="928.64" width="3.63" height="5.94" fill="#8c9ed1"/><rect x="197.53" y="923.97" width="3.63" height="4.82" fill="#a5cf55"/><rect x="197.53" y="915.22" width="3.63" height="8.9" fill="#f6dc3e"/><rect x="197.53" y="908.95" width="3.63" height="6.42" fill="#eec8a3"/><rect x="197.53" y="898.94" width="3.63" height="10.15" fill="#b8b8ba"/><rect x="197.53" y="891.13" width="3.63" height="7.96" fill="#84d0c2"/><rect x="197.53" y="885.62" width="3.63" height="5.67" fill="#f6f1b5"/><rect x="197.53" y="875.05" width="3.63" height="10.72" fill="#f47c72"/><rect x="197.53" y="857.07" width="3.63" height="18.13" fill="#7fabd8"/><rect x="202.31" y="846.25" width="3.63" height="109.25" fill="#b3d86b"/><rect x="202.31" y="941.85" width="3.63" height="13.8" fill="#6cc6a7"/><rect x="202.31" y="936.15" width="3.63" height="5.85" fill="#f47c72"/><rect x="202.31" y="929.14" width="3.63" height="7.16" fill="#8c9ed1"/><rect x="202.31" y="924.41" width="3.63" height="4.88" fill="#a5cf55"/><rect x="202.31" y="915.54" width="3.63" height="9.02" fill="#f6dc3e"/><rect x="202.31" y="908.46" width="3.63" height="7.23" fill="#eec8a3"/><rect x="202.31" y="899.21" width="3.63" height="9.4" fill="#b8b8ba"/><rect x="202.31" y="890.94" width="3.63" height="8.41" fill="#84d0c2"/><rect x="202.31" y="885.72" width="3.63" height="5.37" fill="#f6f1b5"/><rect x="202.31" y="875.74" width="3.63" height="10.13" fill="#f47c72"/><rect x="202.31" y="858.08" width="3.63" height="17.81" fill="#7fabd8"/><rect x="207.09" y="846.25" width="3.63" height="109.25" fill="#b3d86b"/><rect x="207.09" y="941.41" width="3.63" height="14.24" fill="#6cc6a7"/><rect x="207.09" y="934.43" width="3.63" height="7.13" fill="#f47c72"/><rect x="207.09" y="929.04" width="3.63" height="5.54" fill="#8c9ed1"/><rect x="207.09" y="924.11" width="3.63" height="5.08" fill="#a5cf55"/><rect x="207.09" y="915.34" width="3.63" height="8.92" fill="#f6dc3e"/><rect x="207.09" y="908.83" width="3.63" height="6.66" fill="#eec8a3"/><rect x="207.09" y="899.74" width="3.63" height="9.24" fill="#b8b8ba"/><rect x="207.09" y="890.77" width="3.63" height="9.11" fill="#84d0c2"/><rect x="207.09" y="885.66" width="3.63" height="5.27" fill="#f6f1b5"/><rect x="207.09" y="875.74" width="3.63" height="10.06" fill="#f47c72"/><rect x="207.09" y="857.38" width="3.63" height="18.51" fill="#7fabd8"/><rect x="211.86" y="846.25" width="3.63" height="109.25" fill="#b3d86b"/><rect x="211.86" y="939.23" width="3.63" height="16.42" fill="#6cc6a7"/><rect x="211.86" y="934.92" width="3.63" height="4.46" fill="#f47c72"/><rect x="211.86" y="930.17" width="3.63" height="4.89" fill="#8c9ed1"/><rect x="211.86" y="925.74" width="3.63" height="4.59" fill="#a5cf55"/><rect x="211.86" y="916.09" width="3.63" height="9.79" fill="#f6dc3e"/><rect x="211.86" y="911.04" width="3.63" height="5.21" fill="#eec8a3"/><rect x="211.86" y="902.01" width="3.63" height="9.18" fill="#b8b8ba"/><rect x="211.86" y="894.12" width="3.63" height="8.04" fill="#84d0c2"/><rect x="211.86" y="889.07" width="3.63" height="5.2" fill="#f6f1b5"/><rect x="211.86" y="879.36" width="3.63" height="9.86" fill="#f47c72"/><rect x="211.86" y="859.27" width="3.63" height="20.24" fill="#7fabd8"/><rect x="216.64" y="846.25" width="3.63" height="109.25" fill="#b3d86b"/><rect x="216.64" y="942.25" width="3.63" height="13.4" fill="#6cc6a7"/><rect x="216.64" y="937.04" width="3.63" height="5.36" fill="#f47c72"/><rect x="216.64" y="930.9" width="3.63" height="6.29" fill="#8c9ed1"/><rect x="216.64" y="925.72" width="3.63" height="5.32" fill="#a5cf55"/><rect x="216.64" y="917.96" width="3.63" height="7.91" fill="#f6dc3e"/><rect x="216.64" y="913.28" width="3.63" height="4.84" fill="#eec8a3"/><rect x="216.64" y="904.36" width="3.63" height="9.07" fill="#b8b8ba"/><rect x="216.64" y="895.23" width="3.63" height="9.28" fill="#84d0c2"/><rect x="216.64" y="888.92" width="3.63" height="6.46" fill="#f6f1b5"/><rect x="216.64" y="876.39" width="3.63" height="12.69" fill="#f47c72"/><rect x="216.64" y="857.51" width="3.63" height="19.03" fill="#7fabd8"/><rect x="221.42" y="846.25" width="3.63" height="109.25" fill="#b3d86b"/><rect x="221.42" y="939.31" width="3.63" height="16.34" fill="#6cc6a7"/><rect x="221.42" y="933.32" width="3.63" height="6.14" fill="#f47c72"/><rect x="221.42" y="927.04" width="3.63" height="6.44" fill="#8c9ed1"/><rect x="221.42" y="923.12" width="3.63" height="4.07" fill="#a5cf55"/><rect x="221.42" y="913.73" width="3.63" height="9.54" fill="#f6dc3e"/><rect x="221.42" y="907.65" width="3.63" height="6.23" fill="#eec8a3"/><rect x="221.42" y="898.79" width="3.63" height="9.01" fill="#b8b8ba"/><rect x="221.42" y="891.02" width="3.63" height="7.92" fill="#84d0c2"/><rect x="221.42" y="884.68" width="3.63" height="6.49" fill="#f6f1b5"/><rect x="221.42" y="876.03" width="3.63" height="8.8" fill="#f47c72"/><rect x="221.42" y="858.91" width="3.63" height="17.27" fill="#7fabd8"/><rect x="226.2" y="846.25" width="3.63" height="109.25" fill="#b3d86b"/><rect x="226.2" y="938.42" width="3.63" height="17.23" fill="#6cc6a7"/><rect x="226.2" y="932.43" width="3.63" height="6.14" fill="#f47c72"/><rect x="226.2" y="927.31" width="3.63" height="5.27" fill="#8c9ed1"/><rect x="226.2" y="922.85" width="3.63" height="4.61" fill="#a5cf55"/><rect x="226.2" y="913.92" width="3.63" height="9.08" fill="#f6dc3e"/><rect x="226.2" y="909.31" width="3.63" height="4.76" fill="#eec8a3"/><rect x="226.2" y="898.03" width="3.63" height="11.43" fill="#b8b8ba"/><rect x="226.2" y="890.44" width="3.63" height="7.74" fill="#84d0c2"/><rect x="226.2" y="885" width="3.63" height="5.59" fill="#f6f1b5"/><rect x="226.2" y="873.74" width="3.63" height="11.4" fill="#f47c72"/><rect x="226.2" y="856.02" width="3.63" height="17.87" fill="#7fabd8"/><rect x="230.98" y="846.25" width="3.63" height="109.25" fill="#b3d86b"/><rect x="230.98" y="938.78" width="3.63" height="16.87" fill="#6cc6a7"/><rect x="230.98" y="932.79" width="3.63" height="6.14" fill="#f47c72"/><rect x="230.98" y="927.41" width="3.63" height="5.53" fill="#8c9ed1"/><rect x="230.98" y="922.22" width="3.63" height="5.34" fill="#a5cf55"/><rect x="230.98" y="913.99" width="3.63" height="8.38" fill="#f6dc3e"/><rect x="230.98" y="907.35" width="3.63" height="6.79" fill="#eec8a3"/><rect x="230.98" y="896.95" width="3.63" height="10.54" fill="#b8b8ba"/><rect x="230.98" y="887.97" width="3.63" height="9.14" fill="#84d0c2"/><rect x="230.98" y="881.6" width="3.63" height="6.51" fill="#f6f1b5"/><rect x="230.98" y="873.2" width="3.63" height="8.55" fill="#f47c72"/><rect x="230.98" y="855.97" width="3.63" height="17.38" fill="#7fabd8"/><rect x="235.75" y="846.25" width="3.63" height="109.25" fill="#b3d86b"/><rect x="235.75" y="942.88" width="3.63" height="12.77" fill="#6cc6a7"/><rect x="235.75" y="936.01" width="3.63" height="7.02" fill="#f47c72"/><rect x="235.75" y="930.25" width="3.63" height="5.91" fill="#8c9ed1"/><rect x="235.75" y="925.58" width="3.63" height="4.83" fill="#a5cf55"/><rect x="235.75" y="914.33" width="3.63" height="11.4" fill="#f6dc3e"/><rect x="235.75" y="909.43" width="3.63" height="5.04" fill="#eec8a3"/><rect x="235.75" y="900.9" width="3.63" height="8.68" fill="#b8b8ba"/><rect x="235.75" y="891.27" width="3.63" height="9.78" fill="#84d0c2"/><rect x="235.75" y="885.09" width="3.63" height="6.33" fill="#f6f1b5"/><rect x="235.75" y="873" width="3.63" height="12.24" fill="#f47c72"/><rect x="235.75" y="855.5" width="3.63" height="17.65" fill="#7fabd8"/><rect x="240.53" y="846.25" width="3.63" height="109.25" fill="#b3d86b"/><rect x="240.53" y="939.85" width="3.63" height="15.8" fill="#6cc6a7"/><rect x="240.53" y="934.01" width="3.63" height="5.99" fill="#f47c72"/><rect x="240.53" y="929.44" width="3.63" height="4.72" fill="#8c9ed1"/><rect x="240.53" y="924.36" width="3.63" height="5.22" fill="#a5cf55"/><rect x="240.53" y="916.33" width="3.63" height="8.19" fill="#f6dc3e"/><rect x="240.53" y="910.29" width="3.63" height="6.19" fill="#eec8a3"/><rect x="240.53" y="898.08" width="3.63" height="12.35" fill="#b8b8ba"/><rect x="240.53" y="890.79" width="3.63" height="7.44" fill="#84d0c2"/><rect x="240.53" y="885.29" width="3.63" height="5.65" fill="#f6f1b5"/><rect x="240.53" y="873.31" width="3.63" height="12.13" fill="#f47c72"/><rect x="240.53" y="855.7" width="3.63" height="17.76" fill="#7fabd8"/><rect x="245.31" y="846.25" width="3.63" height="109.25" fill="#b3d86b"/><rect x="245.31" y="939.64" width="3.63" height="16.01" fill="#6cc6a7"/><rect x="245.31" y="933.82" width="3.63" height="5.97" fill="#f47c72"/><rect x="245.31" y="927.33" width="3.63" height="6.64" fill="#8c9ed1"/><rect x="245.31" y="922.65" width="3.63" height="4.83" fill="#a5cf55"/><rect x="245.31" y="915.36" width="3.63" height="7.44" fill="#f6dc3e"/><rect x="245.31" y="909.21" width="3.63" height="6.3" fill="#eec8a3"/><rect x="245.31" y="898.49" width="3.63" height="10.87" fill="#b8b8ba"/><rect x="245.31" y="890.23" width="3.63" height="8.41" fill="#84d0c2"/><rect x="245.31" y="885.69" width="3.63" height="4.69" fill="#f6f1b5"/><rect x="245.31" y="876.85" width="3.63" height="8.99" fill="#f47c72"/><rect x="245.31" y="858.27" width="3.63" height="18.74" fill="#7fabd8"/><rect x="250.09" y="846.25" width="3.63" height="109.25" fill="#b3d86b"/><rect x="250.09" y="936.19" width="3.63" height="19.46" fill="#6cc6a7"/><rect x="250.09" y="932.71" width="3.63" height="3.64" fill="#8c9ed1"/><rect x="250.09" y="927.19" width="3.63" height="5.66" fill="#a5cf55"/><rect x="250.09" y="920.33" width="3.63" height="7.01" fill="#f6dc3e"/><rect x="250.09" y="915.89" width="3.63" height="4.59" fill="#eec8a3"/><rect x="250.09" y="899.89" width="3.63" height="16.15" fill="#b8b8ba"/><rect x="250.09" y="896.25" width="3.63" height="3.79" fill="#84d0c2"/><rect x="250.09" y="891.42" width="3.63" height="4.98" fill="#c6b8dd"/><rect x="250.09" y="876.25" width="3.63" height="15.32" fill="#f47c72"/><rect x="250.09" y="858.41" width="3.63" height="17.99" fill="#7fabd8"/><rect x="254.87" y="846.25" width="3.63" height="109.25" fill="#b3d86b"/><rect x="254.87" y="934.67" width="3.63" height="20.98" fill="#6cc6a7"/><rect x="254.87" y="929.86" width="3.63" height="4.96" fill="#8c9ed1"/><rect x="254.87" y="923.85" width="3.63" height="6.16" fill="#a5cf55"/><rect x="254.87" y="915.34" width="3.63" height="8.66" fill="#f6dc3e"/><rect x="254.87" y="911" width="3.63" height="4.49" fill="#eec8a3"/><rect x="254.87" y="894.98" width="3.63" height="16.17" fill="#b8b8ba"/><rect x="254.87" y="890.7" width="3.63" height="4.42" fill="#84d0c2"/><rect x="254.87" y="886.04" width="3.63" height="4.82" fill="#c6b8dd"/><rect x="254.87" y="872.88" width="3.63" height="13.3" fill="#f47c72"/><rect x="254.87" y="857.16" width="3.63" height="15.87" fill="#7fabd8"/><rect x="259.64" y="846.25" width="3.63" height="109.25" fill="#b3d86b"/><rect x="259.64" y="938.33" width="3.63" height="17.32" fill="#6cc6a7"/><rect x="259.64" y="934.05" width="3.63" height="4.42" fill="#8c9ed1"/><rect x="259.64" y="928.95" width="3.63" height="5.25" fill="#a5cf55"/><rect x="259.64" y="920.55" width="3.63" height="8.55" fill="#f6dc3e"/><rect x="259.64" y="915.98" width="3.63" height="4.72" fill="#eec8a3"/><rect x="259.64" y="901.19" width="3.63" height="14.94" fill="#b8b8ba"/><rect x="259.64" y="897.35" width="3.63" height="3.99" fill="#84d0c2"/><rect x="259.64" y="891.63" width="3.63" height="5.87" fill="#c6b8dd"/><rect x="259.64" y="878.82" width="3.63" height="12.96" fill="#f47c72"/><rect x="259.64" y="859.31" width="3.63" height="19.65" fill="#7fabd8"/><rect x="264.42" y="846.25" width="3.63" height="109.25" fill="#b3d86b"/><rect x="264.42" y="942.67" width="3.63" height="12.98" fill="#6cc6a7"/><rect x="264.42" y="936.86" width="3.63" height="5.96" fill="#f47c72"/><rect x="264.42" y="931.94" width="3.63" height="5.07" fill="#8c9ed1"/><rect x="264.42" y="927.79" width="3.63" height="4.3" fill="#a5cf55"/><rect x="264.42" y="916.7" width="3.63" height="11.24" fill="#f6dc3e"/><rect x="264.42" y="910.14" width="3.63" height="6.71" fill="#eec8a3"/><rect x="264.42" y="900.36" width="3.63" height="9.93" fill="#b8b8ba"/><rect x="264.42" y="892.37" width="3.63" height="8.14" fill="#84d0c2"/><rect x="264.42" y="885.91" width="3.63" height="6.6" fill="#f6f1b5"/><rect x="264.42" y="874.39" width="3.63" height="11.67" fill="#f47c72"/><rect x="264.42" y="856.93" width="3.63" height="17.61" fill="#7fabd8"/><rect x="269.2" y="846.25" width="3.63" height="109.25" fill="#b3d86b"/><rect x="269.2" y="939.66" width="3.63" height="15.99" fill="#6cc6a7"/><rect x="269.2" y="934.84" width="3.63" height="4.97" fill="#f47c72"/><rect x="269.2" y="929.97" width="3.63" height="5.02" fill="#8c9ed1"/><rect x="269.2" y="926.23" width="3.63" height="3.89" fill="#a5cf55"/><rect x="269.2" y="915.76" width="3.63" height="10.62" fill="#f6dc3e"/><rect x="269.2" y="910.46" width="3.63" height="5.45" fill="#eec8a3"/><rect x="269.2" y="900.76" width="3.63" height="9.84" fill="#b8b8ba"/><rect x="269.2" y="893.22" width="3.63" height="7.69" fill="#84d0c2"/><rect x="269.2" y="887.11" width="3.63" height="6.26" fill="#f6f1b5"/><rect x="269.2" y="877.77" width="3.63" height="9.49" fill="#f47c72"/><rect x="269.2" y="857.83" width="3.63" height="20.09" fill="#7fabd8"/><rect x="273.98" y="846.25" width="3.63" height="109.25" fill="#b3d86b"/><rect x="273.98" y="942.36" width="3.63" height="13.29" fill="#6cc6a7"/><rect x="273.98" y="937.96" width="3.63" height="4.55" fill="#f47c72"/><rect x="273.98" y="932.96" width="3.63" height="5.15" fill="#8c9ed1"/><rect x="273.98" y="927.94" width="3.63" height="5.17" fill="#a5cf55"/><rect x="273.98" y="917.8" width="3.63" height="10.29" fill="#f6dc3e"/><rect x="273.98" y="911.53" width="3.63" height="6.42" fill="#eec8a3"/><rect x="273.98" y="900.49" width="3.63" height="11.2" fill="#b8b8ba"/><rect x="273.98" y="890.81" width="3.63" height="9.83" fill="#84d0c2"/><rect x="273.98" y="885.15" width="3.63" height="5.81" fill="#f6f1b5"/><rect x="273.98" y="875.06" width="3.63" height="10.24" fill="#f47c72"/><rect x="273.98" y="855.16" width="3.63" height="20.04" fill="#7fabd8"/><rect x="278.76" y="846.25" width="3.63" height="109.25" fill="#b3d86b"/><rect x="278.76" y="939.81" width="3.63" height="15.84" fill="#6cc6a7"/><rect x="278.76" y="933.88" width="3.63" height="6.08" fill="#f47c72"/><rect x="278.76" y="927.55" width="3.63" height="6.47" fill="#8c9ed1"/><rect x="278.76" y="922.28" width="3.63" height="5.43" fill="#a5cf55"/><rect x="278.76" y="912.88" width="3.63" height="9.55" fill="#f6dc3e"/><rect x="278.76" y="908.2" width="3.63" height="4.83" fill="#eec8a3"/><rect x="278.76" y="897.32" width="3.63" height="11.02" fill="#b8b8ba"/><rect x="278.76" y="888.63" width="3.63" height="8.84" fill="#84d0c2"/><rect x="278.76" y="883.69" width="3.63" height="5.08" fill="#f6f1b5"/><rect x="278.76" y="875.16" width="3.63" height="8.69" fill="#f47c72"/><rect x="278.76" y="855.19" width="3.63" height="20.12" fill="#7fabd8"/><rect x="283.53" y="846.25" width="3.63" height="109.25" fill="#b3d86b"/><rect x="283.53" y="940.82" width="3.63" height="14.83" fill="#6cc6a7"/><rect x="283.53" y="934.57" width="3.63" height="6.4" fill="#f47c72"/><rect x="283.53" y="929.77" width="3.63" height="4.95" fill="#8c9ed1"/><rect x="283.53" y="925.66" width="3.63" height="4.26" fill="#a5cf55"/><rect x="283.53" y="915.23" width="3.63" height="10.58" fill="#f6dc3e"/><rect x="283.53" y="909.3" width="3.63" height="6.08" fill="#eec8a3"/><rect x="283.53" y="898.47" width="3.63" height="10.98" fill="#b8b8ba"/><rect x="283.53" y="890.36" width="3.63" height="8.25" fill="#84d0c2"/><rect x="283.53" y="884.47" width="3.63" height="6.04" fill="#f6f1b5"/><rect x="283.53" y="875.17" width="3.63" height="9.46" fill="#f47c72"/><rect x="283.53" y="858.67" width="3.63" height="16.65" fill="#7fabd8"/><rect x="288.31" y="846.25" width="3.63" height="109.25" fill="#b3d86b"/><rect x="288.31" y="943.48" width="3.63" height="12.17" fill="#6cc6a7"/><rect x="288.31" y="939.03" width="3.63" height="4.6" fill="#f47c72"/><rect x="288.31" y="933.95" width="3.63" height="5.23" fill="#8c9ed1"/><rect x="288.31" y="929.07" width="3.63" height="5.03" fill="#a5cf55"/><rect x="288.31" y="920.42" width="3.63" height="8.8" fill="#f6dc3e"/><rect x="288.31" y="915.38" width="3.63" height="5.19" fill="#eec8a3"/><rect x="288.31" y="905.27" width="3.63" height="10.26" fill="#b8b8ba"/><rect x="288.31" y="895.34" width="3.63" height="10.09" fill="#84d0c2"/><rect x="288.31" y="890.53" width="3.63" height="4.95" fill="#f6f1b5"/><rect x="288.31" y="879.37" width="3.63" height="11.31" fill="#f47c72"/><rect x="288.31" y="857.82" width="3.63" height="21.7" fill="#7fabd8"/><rect x="293.09" y="846.25" width="3.63" height="109.25" fill="#b3d86b"/><rect x="293.09" y="943.33" width="3.63" height="12.32" fill="#6cc6a7"/><rect x="293.09" y="937.25" width="3.63" height="6.23" fill="#f47c72"/><rect x="293.09" y="930.63" width="3.63" height="6.77" fill="#8c9ed1"/><rect x="293.09" y="926.34" width="3.63" height="4.45" fill="#a5cf55"/><rect x="293.09" y="917.94" width="3.63" height="8.54" fill="#f6dc3e"/><rect x="293.09" y="912.87" width="3.63" height="5.22" fill="#eec8a3"/><rect x="293.09" y="904.2" width="3.63" height="8.82" fill="#b8b8ba"/><rect x="293.09" y="894.53" width="3.63" height="9.82" fill="#84d0c2"/><rect x="293.09" y="889.34" width="3.63" height="5.34" fill="#f6f1b5"/><rect x="293.09" y="877.36" width="3.63" height="12.12" fill="#f47c72"/><rect x="293.09" y="858.8" width="3.63" height="18.72" fill="#7fabd8"/><rect x="297.87" y="846.25" width="3.63" height="109.25" fill="#b3d86b"/><rect x="297.87" y="940.45" width="3.63" height="15.2" fill="#6cc6a7"/><rect x="297.87" y="933.98" width="3.63" height="6.62" fill="#f47c72"/><rect x="297.87" y="929.36" width="3.63" height="4.77" fill="#8c9ed1"/><rect x="297.87" y="924.21" width="3.63" height="5.31" fill="#a5cf55"/><rect x="297.87" y="914.96" width="3.63" height="9.39" fill="#f6dc3e"/><rect x="297.87" y="908.96" width="3.63" height="6.16" fill="#eec8a3"/><rect x="297.87" y="897.45" width="3.63" height="11.66" fill="#b8b8ba"/><rect x="297.87" y="888.61" width="3.63" height="9" fill="#84d0c2"/><rect x="297.87" y="883.11" width="3.63" height="5.65" fill="#f6f1b5"/><rect x="297.87" y="874.74" width="3.63" height="8.52" fill="#f47c72"/><rect x="297.87" y="856.95" width="3.63" height="17.94" fill="#7fabd8"/><rect x="302.65" y="846.25" width="3.63" height="109.25" fill="#b3d86b"/><rect x="302.65" y="942.05" width="3.63" height="13.6" fill="#6cc6a7"/><rect x="302.65" y="936.48" width="3.63" height="5.71" fill="#f47c72"/><rect x="302.65" y="931.04" width="3.63" height="5.6" fill="#8c9ed1"/><rect x="302.65" y="925.85" width="3.63" height="5.34" fill="#a5cf55"/><rect x="302.65" y="917.28" width="3.63" height="8.72" fill="#f6dc3e"/><rect x="302.65" y="910.66" width="3.63" height="6.77" fill="#eec8a3"/><rect x="302.65" y="901.5" width="3.63" height="9.31" fill="#b8b8ba"/><rect x="302.65" y="891.8" width="3.63" height="9.84" fill="#84d0c2"/><rect x="302.65" y="886.09" width="3.63" height="5.86" fill="#f6f1b5"/><rect x="302.65" y="876.63" width="3.63" height="9.61" fill="#f47c72"/><rect x="302.65" y="855.04" width="3.63" height="21.74" fill="#7fabd8"/><rect x="307.42" y="846.25" width="3.63" height="109.25" fill="#b3d86b"/><rect x="307.42" y="943" width="3.63" height="12.65" fill="#6cc6a7"/><rect x="307.42" y="936.65" width="3.63" height="6.5" fill="#f47c72"/><rect x="307.42" y="931.97" width="3.63" height="4.83" fill="#8c9ed1"/><rect x="307.42" y="927.72" width="3.63" height="4.41" fill="#a5cf55"/><rect x="307.42" y="917.03" width="3.63" height="10.84" fill="#f6dc3e"/><rect x="307.42" y="910.33" width="3.63" height="6.85" fill="#eec8a3"/><rect x="307.42" y="898.42" width="3.63" height="12.06" fill="#b8b8ba"/><rect x="307.42" y="889.9" width="3.63" height="8.67" fill="#84d0c2"/><rect x="307.42" y="883.71" width="3.63" height="6.34" fill="#f6f1b5"/><rect x="307.42" y="871.6" width="3.63" height="12.26" fill="#f47c72"/><rect x="307.42" y="855.74" width="3.63" height="16.01" fill="#7fabd8"/><rect x="312.2" y="846.25" width="3.63" height="109.25" fill="#b3d86b"/><rect x="312.2" y="937.93" width="3.63" height="17.72" fill="#6cc6a7"/><rect x="312.2" y="933.88" width="3.63" height="4.2" fill="#f47c72"/><rect x="312.2" y="928.23" width="3.63" height="5.8" fill="#8c9ed1"/><rect x="312.2" y="920.92" width="3.63" height="7.46" fill="#a5cf55"/><rect x="312.2" y="913.29" width="3.63" height="7.78" fill="#f6dc3e"/><rect x="312.2" y="897.19" width="3.63" height="16.25" fill="#b8b8ba"/><rect x="312.2" y="877.15" width="3.63" height="20.19" fill="#84d0c2"/><rect x="312.2" y="874.08" width="3.63" height="3.21" fill="#f6f1b5"/><rect x="312.2" y="869.37" width="3.63" height="4.86" fill="#f47c72"/><rect x="312.2" y="855.05" width="3.63" height="14.47" fill="#7fabd8"/><rect x="316.98" y="846.25" width="3.63" height="109.25" fill="#b3d86b"/><rect x="316.98" y="940.2" width="3.63" height="15.45" fill="#6cc6a7"/><rect x="316.98" y="936.31" width="3.63" height="4.04" fill="#f47c72"/><rect x="316.98" y="929.64" width="3.63" height="6.82" fill="#8c9ed1"/><rect x="316.98" y="921.77" width="3.63" height="8.01" fill="#a5cf55"/><rect x="316.98" y="914.9" width="3.63" height="7.02" fill="#f6dc3e"/><rect x="316.98" y="900.51" width="3.63" height="14.55" fill="#b8b8ba"/><rect x="316.98" y="881.75" width="3.63" height="18.91" fill="#84d0c2"/><rect x="316.98" y="878.02" width="3.63" height="3.88" fill="#f6f1b5"/><rect x="316.98" y="871.9" width="3.63" height="6.27" fill="#f47c72"/><rect x="316.98" y="859.11" width="3.63" height="12.94" fill="#7fabd8"/><rect x="321.76" y="846.25" width="3.63" height="109.25" fill="#b3d86b"/><rect x="321.76" y="942.6" width="3.63" height="13.05" fill="#6cc6a7"/><rect x="321.76" y="939.54" width="3.63" height="3.21" fill="#f47c72"/><rect x="321.76" y="934.12" width="3.63" height="5.58" fill="#8c9ed1"/><rect x="321.76" y="927.67" width="3.63" height="6.6" fill="#a5cf55"/><rect x="321.76" y="920.16" width="3.63" height="7.66" fill="#f6dc3e"/><rect x="321.76" y="902.62" width="3.63" height="17.69" fill="#b8b8ba"/><rect x="321.76" y="886.05" width="3.63" height="16.72" fill="#84d0c2"/><rect x="321.76" y="882.85" width="3.63" height="3.34" fill="#f6f1b5"/><rect x="321.76" y="876.3" width="3.63" height="6.7" fill="#f47c72"/><rect x="321.76" y="859.22" width="3.63" height="17.23" fill="#7fabd8"/><rect x="326.54" y="846.25" width="3.63" height="109.25" fill="#b3d86b"/><rect x="326.54" y="940.16" width="3.63" height="15.49" fill="#6cc6a7"/><rect x="326.54" y="936.17" width="3.63" height="4.13" fill="#f47c72"/><rect x="326.54" y="930.21" width="3.63" height="6.12" fill="#8c9ed1"/><rect x="326.54" y="923.99" width="3.63" height="6.36" fill="#a5cf55"/><rect x="326.54" y="917.18" width="3.63" height="6.97" fill="#f6dc3e"/><rect x="326.54" y="899.55" width="3.63" height="17.78" fill="#b8b8ba"/><rect x="326.54" y="883.16" width="3.63" height="16.54" fill="#84d0c2"/><rect x="326.54" y="879.98" width="3.63" height="3.33" fill="#f6f1b5"/><rect x="326.54" y="873.29" width="3.63" height="6.83" fill="#f47c72"/><rect x="326.54" y="857.56" width="3.63" height="15.89" fill="#7fabd8"/><rect x="331.31" y="846.25" width="3.63" height="109.25" fill="#b3d86b"/><rect x="331.31" y="937.72" width="3.63" height="17.93" fill="#6cc6a7"/><rect x="331.31" y="933.95" width="3.63" height="3.92" fill="#f47c72"/><rect x="331.31" y="929.06" width="3.63" height="5.04" fill="#8c9ed1"/><rect x="331.31" y="923.96" width="3.63" height="5.25" fill="#a5cf55"/><rect x="331.31" y="918.43" width="3.63" height="5.69" fill="#f6dc3e"/><rect x="331.31" y="900.73" width="3.63" height="17.84" fill="#b8b8ba"/><rect x="331.31" y="882.37" width="3.63" height="18.52" fill="#84d0c2"/><rect x="331.31" y="879.52" width="3.63" height="2.99" fill="#f6f1b5"/><rect x="331.31" y="873.36" width="3.63" height="6.32" fill="#f47c72"/><rect x="331.31" y="856.25" width="3.63" height="17.26" fill="#7fabd8"/><rect x="336.09" y="846.25" width="3.63" height="109.25" fill="#b3d86b"/><rect x="336.09" y="941.82" width="3.63" height="13.83" fill="#6cc6a7"/><rect x="336.09" y="938.15" width="3.63" height="3.82" fill="#f47c72"/><rect x="336.09" y="932.77" width="3.63" height="5.53" fill="#8c9ed1"/><rect x="336.09" y="926.21" width="3.63" height="6.7" fill="#a5cf55"/><rect x="336.09" y="919.26" width="3.63" height="7.1" fill="#f6dc3e"/><rect x="336.09" y="902.98" width="3.63" height="16.43" fill="#b8b8ba"/><rect x="336.09" y="880.64" width="3.63" height="22.49" fill="#84d0c2"/><rect x="336.09" y="877.19" width="3.63" height="3.6" fill="#f6f1b5"/><rect x="336.09" y="871.95" width="3.63" height="5.39" fill="#f47c72"/><rect x="336.09" y="857.33" width="3.63" height="14.76" fill="#7fabd8"/><rect x="340.87" y="846.25" width="3.63" height="109.25" fill="#b3d86b"/><rect x="340.87" y="942.5" width="3.63" height="13.15" fill="#6cc6a7"/><rect x="340.87" y="937.1" width="3.63" height="5.55" fill="#f47c72"/><rect x="340.87" y="929.59" width="3.63" height="7.66" fill="#8c9ed1"/><rect x="340.87" y="924.39" width="3.63" height="5.35" fill="#eec8a3"/><rect x="340.87" y="916.1" width="3.63" height="8.44" fill="#f6dc3e"/><rect x="340.87" y="903.89" width="3.63" height="12.36" fill="#b8b8ba"/><rect x="340.87" y="885.97" width="3.63" height="18.07" fill="#84d0c2"/><rect x="340.87" y="883.05" width="3.63" height="3.07" fill="#f6f1b5"/><rect x="340.87" y="873.92" width="3.63" height="9.28" fill="#f47c72"/><rect x="340.87" y="858.69" width="3.63" height="15.38" fill="#7fabd8"/><rect x="345.65" y="846.25" width="3.63" height="109.25" fill="#b3d86b"/><rect x="345.65" y="938.63" width="3.63" height="17.02" fill="#6cc6a7"/><rect x="345.65" y="934.43" width="3.63" height="4.36" fill="#f47c72"/><rect x="345.65" y="928.39" width="3.63" height="6.19" fill="#8c9ed1"/><rect x="345.65" y="923.28" width="3.63" height="5.26" fill="#eec8a3"/><rect x="345.65" y="911.93" width="3.63" height="11.5" fill="#f6dc3e"/><rect x="345.65" y="898.75" width="3.63" height="13.33" fill="#b8b8ba"/><rect x="345.65" y="881.9" width="3.63" height="17" fill="#84d0c2"/><rect x="345.65" y="878.58" width="3.63" height="3.47" fill="#f6f1b5"/><rect x="345.65" y="870.16" width="3.63" height="8.57" fill="#f47c72"/><rect x="345.65" y="858.38" width="3.63" height="11.92" fill="#7fabd8"/><rect x="350.43" y="846.25" width="3.63" height="109.25" fill="#b3d86b"/><rect x="350.43" y="940.84" width="3.63" height="14.81" fill="#6cc6a7"/><rect x="350.43" y="936.66" width="3.63" height="4.33" fill="#f47c72"/><rect x="350.43" y="928.33" width="3.63" height="8.48" fill="#8c9ed1"/><rect x="350.43" y="924.32" width="3.63" height="4.16" fill="#eec8a3"/><rect x="350.43" y="915.97" width="3.63" height="8.49" fill="#f6dc3e"/><rect x="350.43" y="904.79" width="3.63" height="11.34" fill="#b8b8ba"/><rect x="350.43" y="885.57" width="3.63" height="19.37" fill="#84d0c2"/><rect x="350.43" y="882.3" width="3.63" height="3.41" fill="#f6f1b5"/><rect x="350.43" y="874.18" width="3.63" height="8.27" fill="#f47c72"/><rect x="350.43" y="858.98" width="3.63" height="15.35" fill="#7fabd8"/><rect x="355.2" y="846.25" width="3.63" height="109.25" fill="#b3d86b"/><rect x="355.2" y="942.03" width="3.63" height="13.62" fill="#6cc6a7"/><rect x="355.2" y="938" width="3.63" height="4.18" fill="#f47c72"/><rect x="355.2" y="929.88" width="3.63" height="8.26" fill="#8c9ed1"/><rect x="355.2" y="925.45" width="3.63" height="4.58" fill="#eec8a3"/><rect x="355.2" y="916.34" width="3.63" height="9.26" fill="#f6dc3e"/><rect x="355.2" y="902.91" width="3.63" height="13.58" fill="#b8b8ba"/><rect x="355.2" y="886.03" width="3.63" height="17.03" fill="#84d0c2"/><rect x="355.2" y="881.95" width="3.63" height="4.23" fill="#f6f1b5"/><rect x="355.2" y="873.12" width="3.63" height="8.98" fill="#f47c72"/><rect x="355.2" y="857.46" width="3.63" height="15.81" fill="#7fabd8"/><rect x="359.98" y="846.25" width="3.63" height="109.25" fill="#b3d86b"/><rect x="359.98" y="941.54" width="3.63" height="14.11" fill="#6cc6a7"/><rect x="359.98" y="935.49" width="3.63" height="6.2" fill="#f47c72"/><rect x="359.98" y="927.45" width="3.63" height="8.19" fill="#8c9ed1"/><rect x="359.98" y="923.07" width="3.63" height="4.53" fill="#eec8a3"/><rect x="359.98" y="912.57" width="3.63" height="10.65" fill="#f6dc3e"/><rect x="359.98" y="898.82" width="3.63" height="13.9" fill="#b8b8ba"/><rect x="359.98" y="883.54" width="3.63" height="15.43" fill="#84d0c2"/><rect x="359.98" y="879.73" width="3.63" height="3.96" fill="#f6f1b5"/><rect x="359.98" y="869.75" width="3.63" height="10.14" fill="#f47c72"/><rect x="359.98" y="856.36" width="3.63" height="13.54" fill="#7fabd8"/><rect x="364.76" y="846.25" width="3.63" height="109.25" fill="#b3d86b"/><rect x="364.76" y="941.42" width="3.63" height="14.23" fill="#6cc6a7"/><rect x="364.76" y="936.52" width="3.63" height="5.05" fill="#f47c72"/><rect x="364.76" y="929.34" width="3.63" height="7.33" fill="#8c9ed1"/><rect x="364.76" y="924.4" width="3.63" height="5.09" fill="#eec8a3"/><rect x="364.76" y="913.91" width="3.63" height="10.64" fill="#f6dc3e"/><rect x="364.76" y="902.19" width="3.63" height="11.87" fill="#b8b8ba"/><rect x="364.76" y="882.61" width="3.63" height="19.74" fill="#84d0c2"/><rect x="364.76" y="878.5" width="3.63" height="4.26" fill="#f6f1b5"/><rect x="364.76" y="869.23" width="3.63" height="9.42" fill="#f47c72"/><rect x="364.76" y="857.22" width="3.63" height="12.16" fill="#7fabd8"/><rect x="369.54" y="846.25" width="3.63" height="109.25" fill="#b3d86b"/><rect x="369.54" y="941.07" width="3.63" height="14.58" fill="#6cc6a7"/><rect x="369.54" y="935.24" width="3.63" height="5.98" fill="#f47c72"/><rect x="369.54" y="928.23" width="3.63" height="7.16" fill="#8c9ed1"/><rect x="369.54" y="924.07" width="3.63" height="4.31" fill="#eec8a3"/><rect x="369.54" y="915.2" width="3.63" height="9.02" fill="#f6dc3e"/><rect x="369.54" y="900.67" width="3.63" height="14.68" fill="#b8b8ba"/><rect x="369.54" y="885.68" width="3.63" height="15.15" fill="#84d0c2"/><rect x="369.54" y="881.27" width="3.63" height="4.56" fill="#f6f1b5"/><rect x="369.54" y="871.46" width="3.63" height="9.96" fill="#f47c72"/><rect x="369.54" y="856.06" width="3.63" height="15.54" fill="#7fabd8"/><rect x="374.32" y="846.25" width="3.63" height="109.25" fill="#b3d86b"/><rect x="374.32" y="939.68" width="3.63" height="15.97" fill="#6cc6a7"/><rect x="374.32" y="935.79" width="3.63" height="4.04" fill="#f47c72"/><rect x="374.32" y="928.65" width="3.63" height="7.29" fill="#8c9ed1"/><rect x="374.32" y="924.63" width="3.63" height="4.18" fill="#eec8a3"/><rect x="374.32" y="913.76" width="3.63" height="11.02" fill="#f6dc3e"/><rect x="374.32" y="901.02" width="3.63" height="12.89" fill="#b8b8ba"/><rect x="374.32" y="886.51" width="3.63" height="14.66" fill="#84d0c2"/><rect x="374.32" y="883.27" width="3.63" height="3.39" fill="#f6f1b5"/><rect x="374.32" y="872.33" width="3.63" height="11.1" fill="#f47c72"/><rect x="374.32" y="856.01" width="3.63" height="16.47" fill="#7fabd8"/><rect x="379.09" y="846.25" width="3.63" height="109.25" fill="#b3d86b"/><rect x="379.09" y="942.66" width="3.63" height="12.99" fill="#6cc6a7"/><rect x="379.09" y="938" width="3.63" height="4.81" fill="#f47c72"/><rect x="379.09" y="929.8" width="3.63" height="8.35" fill="#8c9ed1"/><rect x="379.09" y="925.17" width="3.63" height="4.78" fill="#eec8a3"/><rect x="379.09" y="914.6" width="3.63" height="10.72" fill="#f6dc3e"/><rect x="379.09" y="904.07" width="3.63" height="10.68" fill="#b8b8ba"/><rect x="379.09" y="885.98" width="3.63" height="18.24" fill="#84d0c2"/><rect x="379.09" y="882.08" width="3.63" height="4.05" fill="#f6f1b5"/><rect x="379.09" y="870.21" width="3.63" height="12.03" fill="#f47c72"/><rect x="379.09" y="855.43" width="3.63" height="14.93" fill="#7fabd8"/><rect x="383.87" y="846.25" width="3.63" height="109.25" fill="#b3d86b"/><rect x="383.87" y="942.75" width="3.63" height="12.9" fill="#f47c72"/><rect x="383.87" y="935.1" width="3.63" height="7.79" fill="#8c9ed1"/><rect x="383.87" y="914.2" width="3.63" height="21.05" fill="#eec8a3"/><rect x="383.87" y="903.94" width="3.63" height="10.41" fill="#b8b8ba"/><rect x="383.87" y="887.14" width="3.63" height="16.94" fill="#84d0c2"/><rect x="383.87" y="873.78" width="3.63" height="13.52" fill="#c6b8dd"/><rect x="383.87" y="862.65" width="3.63" height="11.27" fill="#f47c72"/><rect x="383.87" y="850.07" width="3.63" height="12.73" fill="#7fabd8"/><rect x="388.65" y="846.25" width="3.63" height="109.25" fill="#b3d86b"/><rect x="388.65" y="939.41" width="3.63" height="16.24" fill="#f47c72"/><rect x="388.65" y="931" width="3.63" height="8.55" fill="#8c9ed1"/><rect x="388.65" y="907.68" width="3.63" height="23.47" fill="#eec8a3"/><rect x="388.65" y="896.78" width="3.63" height="11.05" fill="#b8b8ba"/><rect x="388.65" y="884.71" width="3.63" height="12.22" fill="#84d0c2"/><rect x="388.65" y="872.39" width="3.63" height="12.47" fill="#c6b8dd"/><rect x="388.65" y="863.79" width="3.63" height="8.74" fill="#f47c72"/><rect x="388.65" y="851.08" width="3.63" height="12.86" fill="#7fabd8"/><rect x="393.43" y="846.25" width="3.63" height="109.25" fill="#b3d86b"/><rect x="393.43" y="942.26" width="3.63" height="13.39" fill="#f47c72"/><rect x="393.43" y="934.21" width="3.63" height="8.2" fill="#6cc6a7"/><rect x="393.43" y="913.93" width="3.63" height="20.43" fill="#eec8a3"/><rect x="393.43" y="898.73" width="3.63" height="15.36" fill="#b8b8ba"/><rect x="393.43" y="873.66" width="3.63" height="25.22" fill="#c6b8dd"/><rect x="393.43" y="867.34" width="3.63" height="6.47" fill="#f47c72"/><rect x="393.43" y="849.74" width="3.63" height="17.75" fill="#7fabd8"/><rect x="398.21" y="846.25" width="3.63" height="109.25" fill="#b3d86b"/><rect x="398.21" y="943.35" width="3.63" height="12.3" fill="#f47c72"/><rect x="398.21" y="932.88" width="3.63" height="10.63" fill="#6cc6a7"/><rect x="398.21" y="908.78" width="3.63" height="24.25" fill="#eec8a3"/><rect x="398.21" y="893.05" width="3.63" height="15.88" fill="#b8b8ba"/><rect x="398.21" y="871.51" width="3.63" height="21.69" fill="#c6b8dd"/><rect x="398.21" y="865.13" width="3.63" height="6.53" fill="#f47c72"/><rect x="398.21" y="852.42" width="3.63" height="12.86" fill="#7fabd8"/><rect x="402.98" y="846.25" width="3.63" height="109.25" fill="#b3d86b"/><rect x="402.98" y="901.95" width="3.63" height="53.7" fill="#e48ac8"/><rect x="402.98" y="855.03" width="3.63" height="47.07" fill="#c6b8dd"/><rect x="402.98" y="849.75" width="3.63" height="5.43" fill="#f47c72"/><rect x="407.76" y="846.25" width="3.63" height="109.25" fill="#b3d86b"/><rect x="407.76" y="897.65" width="3.63" height="58" fill="#e48ac8"/><rect x="407.76" y="857.1" width="3.63" height="40.71" fill="#c6b8dd"/><rect x="407.76" y="852.89" width="3.63" height="4.36" fill="#f47c72"/><rect x="412.54" y="846.25" width="3.63" height="109.25" fill="#b3d86b"/><rect x="412.54" y="908.52" width="3.63" height="47.13" fill="#e48ac8"/><rect x="412.54" y="857.73" width="3.63" height="50.94" fill="#c6b8dd"/><rect x="412.54" y="853.51" width="3.63" height="4.37" fill="#f47c72"/><rect x="417.32" y="846.25" width="3.63" height="109.25" fill="#b3d86b"/><rect x="417.32" y="908.74" width="3.63" height="46.91" fill="#e48ac8"/><rect x="417.32" y="904.9" width="3.63" height="3.99" fill="#f6dc3e"/><rect x="417.32" y="892.58" width="3.63" height="12.47" fill="#eec8a3"/><rect x="417.32" y="863.47" width="3.63" height="29.26" fill="#c6b8dd"/><rect x="417.32" y="852.5" width="3.63" height="11.13" fill="#f47c72"/><rect x="422.1" y="846.25" width="3.63" height="109.25" fill="#b3d86b"/><rect x="422.1" y="914.73" width="3.63" height="40.92" fill="#e48ac8"/><rect x="422.1" y="911.72" width="3.63" height="3.17" fill="#f6dc3e"/><rect x="422.1" y="899.01" width="3.63" height="12.86" fill="#eec8a3"/><rect x="422.1" y="864.71" width="3.63" height="34.45" fill="#c6b8dd"/><rect x="422.1" y="852.16" width="3.63" height="12.7" fill="#f47c72"/><rect x="426.87" y="846.25" width="3.63" height="109.25" fill="#b3d86b"/><rect x="426.87" y="903.39" width="3.63" height="52.26" fill="#e48ac8"/><rect x="426.87" y="900.69" width="3.63" height="2.84" fill="#f6dc3e"/><rect x="426.87" y="890.22" width="3.63" height="10.62" fill="#eec8a3"/><rect x="426.87" y="860.83" width="3.63" height="29.54" fill="#c6b8dd"/><rect x="426.87" y="850.68" width="3.63" height="10.3" fill="#f47c72"/><rect x="431.65" y="846.25" width="3.63" height="109.25" fill="#b3d86b"/><rect x="431.65" y="915.98" width="3.63" height="39.67" fill="#e48ac8"/><rect x="431.65" y="912.16" width="3.63" height="3.97" fill="#f6dc3e"/><rect x="431.65" y="900.75" width="3.63" height="11.56" fill="#eec8a3"/><rect x="431.65" y="862.58" width="3.63" height="38.32" fill="#c6b8dd"/><rect x="431.65" y="853.63" width="3.63" height="9.1" fill="#f47c72"/>
<line x1="30" y1="933.65" x2="436.3" y2="933.65" stroke="#666" stroke-width="0.5" opacity="0.55"/>
<line x1="30" y1="911.8" x2="436.3" y2="911.8" stroke="#666" stroke-width="0.5" opacity="0.55"/>
<line x1="30" y1="889.95" x2="436.3" y2="889.95" stroke="#666" stroke-width="0.5" opacity="0.55"/>
<line x1="30" y1="868.1" x2="436.3" y2="868.1" stroke="#666" stroke-width="0.5" opacity="0.55"/>
<line x1="30" y1="846.25" x2="436.3" y2="846.25" stroke="#555" stroke-width="0.6" opacity="0.6"/>
<line x1="29.8" y1="845.95" x2="29.8" y2="955.8" stroke="#222" stroke-width="0.7"/>
<line x1="29.8" y1="955.7" x2="436.3" y2="955.7" stroke="#222" stroke-width="0.7"/>
<line x1="27.6" y1="846.25" x2="29.8" y2="846.25" stroke="#222" stroke-width="0.7"/>
<text x="25.6" y="849.25" text-anchor="end">1</text>
<line x1="27.6" y1="868.1" x2="29.8" y2="868.1" stroke="#222" stroke-width="0.7"/>
<text x="25.6" y="871.1" text-anchor="end">0.8</text>
<line x1="27.6" y1="889.95" x2="29.8" y2="889.95" stroke="#222" stroke-width="0.7"/>
<text x="25.6" y="892.95" text-anchor="end">0.6</text>
<line x1="27.6" y1="911.8" x2="29.8" y2="911.8" stroke="#222" stroke-width="0.7"/>
<text x="25.6" y="914.8" text-anchor="end">0.4</text>
<line x1="27.6" y1="933.65" x2="29.8" y2="933.65" stroke="#222" stroke-width="0.7"/>
<text x="25.6" y="936.65" text-anchor="end">0.2</text>
<line x1="27.6" y1="955.5" x2="29.8" y2="955.5" stroke="#222" stroke-width="0.7"/>
<text x="25.6" y="958.5" text-anchor="end">0</text>
<text x="9.4" y="900.5" text-anchor="middle" transform="rotate(-90 9.4 900.5)">Fraction</text>
<text x="122.5" y="966.1">AML, CLL, and DLBCL samples from batch cluster I (<tspan font-style="italic">n</tspan> = 85)</text>
<text x="438.7" y="839.7">Diagnosis (<tspan font-style="italic">P</tspan> &lt; 10<tspan font-size="5.5" dy="-3.3">−12</tspan><tspan dy="3.3">)</tspan></text>
<rect x="438.8" y="846.2" width="7.2" height="6.9" fill="#4d5470"/>
<text x="447.9" y="852.6">AML</text>
<rect x="438.8" y="858.9" width="7.2" height="6.9" fill="#45a6d8"/>
<text x="447.9" y="865.3">CLL</text>
<rect x="438.8" y="871.9" width="7.2" height="6.9" fill="#a2482a"/>
<text x="447.9" y="878.8">DLBCL</text>
<text x="2" y="988.5" font-weight="bold" font-size="10" fill="#111">F</text>
<text x="36" y="994.4">Cancer</text>
<text x="136.3" y="994.3">Healthy</text>
<text x="5.2" y="1008.1">1</text>
<text x="38" y="1008.1">2</text>
<text x="71.8" y="1008.1">3</text>
<text x="105.8" y="1008.1">4</text>
<text x="139" y="1008.1">5</text>
<text x="172.6" y="1008.1">6</text>
<text x="18.5" y="1074.8" text-anchor="middle">AML</text>
<text x="51.6" y="1074.8" text-anchor="middle">CLL</text>
<text x="85.6" y="1074.8" text-anchor="middle">DLBCL</text>
<text x="120.2" y="1074.8" text-anchor="middle">AML</text>
<text x="151.2" y="1074.8" text-anchor="middle">CLL</text>
<text x="186.1" y="1074.8" text-anchor="middle">DLBCL</text>
<g><rect x="5.8" y="1011.3" width="11.6" height="11.6" fill="#cfe2f2" filter="url(#bl)"/><rect x="8.3" y="1013.8" width="6.6" height="6.6" fill="#f4f8fc" filter="url(#bl)"/><line x1="9.7" y1="1012.3" x2="9.7" y2="1021.9" stroke="#fff" stroke-width="0.5" opacity="0.45"/><line x1="6.8" y1="1015.2" x2="16.4" y2="1015.2" stroke="#fff" stroke-width="0.5" opacity="0.45"/><line x1="13.5" y1="1012.3" x2="13.5" y2="1021.9" stroke="#fff" stroke-width="0.5" opacity="0.45"/><line x1="6.8" y1="1019" x2="16.4" y2="1019" stroke="#fff" stroke-width="0.5" opacity="0.45"/><rect x="10.69" y="1017.33" width="2.93" height="1.72" fill="none" stroke="#5f93c8" stroke-width="0.5" opacity="0.75"/><rect x="11.66" y="1016.92" width="2.39" height="1.4" fill="none" stroke="#5f93c8" stroke-width="0.5" opacity="0.75"/><rect x="8.71" y="1015.64" width="2.54" height="1.65" fill="none" stroke="#5f93c8" stroke-width="0.5" opacity="0.75"/><circle cx="9.55" cy="1018.49" r="1.27" fill="#e0583a" opacity="0.85"/><rect x="5.8" y="1025.1" width="11.6" height="11.6" fill="#cfe2f2" filter="url(#bl)"/><rect x="8.3" y="1027.6" width="6.6" height="6.6" fill="#f4f8fc" filter="url(#bl)"/><line x1="9.7" y1="1026.1" x2="9.7" y2="1035.7" stroke="#fff" stroke-width="0.5" opacity="0.45"/><line x1="6.8" y1="1029" x2="16.4" y2="1029" stroke="#fff" stroke-width="0.5" opacity="0.45"/><line x1="13.5" y1="1026.1" x2="13.5" y2="1035.7" stroke="#fff" stroke-width="0.5" opacity="0.45"/><line x1="6.8" y1="1032.8" x2="16.4" y2="1032.8" stroke="#fff" stroke-width="0.5" opacity="0.45"/><rect x="10.21" y="1031.89" width="1.31" height="2.66" fill="none" stroke="#5f93c8" stroke-width="0.5" opacity="0.75"/><rect x="12.1" y="1028.5" width="2.47" height="2.21" fill="none" stroke="#5f93c8" stroke-width="0.5" opacity="0.75"/><rect x="12.42" y="1028.74" width="2.17" height="2.79" fill="none" stroke="#5f93c8" stroke-width="0.5" opacity="0.75"/><circle cx="9.53" cy="1029.23" r="1.26" fill="#e0583a" opacity="0.85"/><rect x="5.8" y="1038.9" width="11.6" height="11.6" fill="#cfe2f2" filter="url(#bl)"/><rect x="8.3" y="1041.4" width="6.6" height="6.6" fill="#f4f8fc" filter="url(#bl)"/><line x1="9.7" y1="1039.9" x2="9.7" y2="1049.5" stroke="#fff" stroke-width="0.5" opacity="0.45"/><line x1="6.8" y1="1042.8" x2="16.4" y2="1042.8" stroke="#fff" stroke-width="0.5" opacity="0.45"/><line x1="13.5" y1="1039.9" x2="13.5" y2="1049.5" stroke="#fff" stroke-width="0.5" opacity="0.45"/><line x1="6.8" y1="1046.6" x2="16.4" y2="1046.6" stroke="#fff" stroke-width="0.5" opacity="0.45"/><rect x="10.5" y="1045.69" width="1.45" height="2.66" fill="none" stroke="#5f93c8" stroke-width="0.5" opacity="0.75"/><rect x="11.85" y="1045.38" width="1.23" height="1.87" fill="none" stroke="#5f93c8" stroke-width="0.5" opacity="0.75"/><rect x="8.81" y="1044.71" width="1.84" height="2.93" fill="none" stroke="#5f93c8" stroke-width="0.5" opacity="0.75"/><circle cx="10.92" cy="1046.17" r="0.84" fill="#e0583a" opacity="0.85"/><rect x="5.8" y="1052.6" width="11.6" height="11.6" fill="#cfe2f2" filter="url(#bl)"/><rect x="8.3" y="1055.1" width="6.6" height="6.6" fill="#f4f8fc" filter="url(#bl)"/><line x1="9.7" y1="1053.6" x2="9.7" y2="1063.2" stroke="#fff" stroke-width="0.5" opacity="0.45"/><line x1="6.8" y1="1056.5" x2="16.4" y2="1056.5" stroke="#fff" stroke-width="0.5" opacity="0.45"/><line x1="13.5" y1="1053.6" x2="13.5" y2="1063.2" stroke="#fff" stroke-width="0.5" opacity="0.45"/><line x1="6.8" y1="1060.3" x2="16.4" y2="1060.3" stroke="#fff" stroke-width="0.5" opacity="0.45"/><rect x="10.83" y="1059.23" width="2.15" height="1.85" fill="none" stroke="#5f93c8" stroke-width="0.5" opacity="0.75"/><rect x="9.67" y="1058.55" width="1.55" height="2.29" fill="none" stroke="#5f93c8" stroke-width="0.5" opacity="0.75"/><rect x="10.82" y="1057.61" width="1.43" height="2.39" fill="none" stroke="#5f93c8" stroke-width="0.5" opacity="0.75"/><rect x="19.3" y="1011.3" width="11.6" height="11.6" fill="#cfe2f2" filter="url(#bl)"/><rect x="21.8" y="1013.8" width="6.6" height="6.6" fill="#f4f8fc" filter="url(#bl)"/><line x1="23.2" y1="1012.3" x2="23.2" y2="1021.9" stroke="#fff" stroke-width="0.5" opacity="0.45"/><line x1="20.3" y1="1015.2" x2="29.9" y2="1015.2" stroke="#fff" stroke-width="0.5" opacity="0.45"/><line x1="27" y1="1012.3" x2="27" y2="1021.9" stroke="#fff" stroke-width="0.5" opacity="0.45"/><line x1="20.3" y1="1019" x2="29.9" y2="1019" stroke="#fff" stroke-width="0.5" opacity="0.45"/><rect x="23.38" y="1015.43" width="2.84" height="2.24" fill="none" stroke="#5f93c8" stroke-width="0.5" opacity="0.75"/><rect x="23.19" y="1014.14" width="2.56" height="1.83" fill="none" stroke="#5f93c8" stroke-width="0.5" opacity="0.75"/><rect x="23.97" y="1015.19" width="2.34" height="2.51" fill="none" stroke="#5f93c8" stroke-width="0.5" opacity="0.75"/><circle cx="22.33" cy="1019.05" r="1.25" fill="#e0583a" opacity="0.85"/><rect x="19.3" y="1025.1" width="11.6" height="11.6" fill="#cfe2f2" filter="url(#bl)"/><rect x="21.8" y="1027.6" width="6.6" height="6.6" fill="#f4f8fc" filter="url(#bl)"/><line x1="23.2" y1="1026.1" x2="23.2" y2="1035.7" stroke="#fff" stroke-width="0.5" opacity="0.45"/><line x1="20.3" y1="1029" x2="29.9" y2="1029" stroke="#fff" stroke-width="0.5" opacity="0.45"/><line x1="27" y1="1026.1" x2="27" y2="1035.7" stroke="#fff" stroke-width="0.5" opacity="0.45"/><line x1="20.3" y1="1032.8" x2="29.9" y2="1032.8" stroke="#fff" stroke-width="0.5" opacity="0.45"/><rect x="22.18" y="1030.16" width="2.43" height="1.93" fill="none" stroke="#5f93c8" stroke-width="0.5" opacity="0.75"/><rect x="25.03" y="1031.74" width="2.26" height="1.9" fill="none" stroke="#5f93c8" stroke-width="0.5" opacity="0.75"/><rect x="22.88" y="1028.91" width="1.47" height="1.4" fill="none" stroke="#5f93c8" stroke-width="0.5" opacity="0.75"/><circle cx="24.63" cy="1031.05" r="1.18" fill="#e0583a" opacity="0.85"/><rect x="19.3" y="1038.9" width="11.6" height="11.6" fill="#cfe2f2" filter="url(#bl)"/><rect x="21.8" y="1041.4" width="6.6" height="6.6" fill="#f4f8fc" filter="url(#bl)"/><line x1="23.2" y1="1039.9" x2="23.2" y2="1049.5" stroke="#fff" stroke-width="0.5" opacity="0.45"/><line x1="20.3" y1="1042.8" x2="29.9" y2="1042.8" stroke="#fff" stroke-width="0.5" opacity="0.45"/><line x1="27" y1="1039.9" x2="27" y2="1049.5" stroke="#fff" stroke-width="0.5" opacity="0.45"/><line x1="20.3" y1="1046.6" x2="29.9" y2="1046.6" stroke="#fff" stroke-width="0.5" opacity="0.45"/><rect x="25.78" y="1044.94" width="1.29" height="2.87" fill="none" stroke="#5f93c8" stroke-width="0.5" opacity="0.75"/><rect x="22.47" y="1044.78" width="2.71" height="2.38" fill="none" stroke="#5f93c8" stroke-width="0.5" opacity="0.75"/><rect x="23.71" y="1042" width="1.35" height="2.35" fill="none" stroke="#5f93c8" stroke-width="0.5" opacity="0.75"/><circle cx="23.7" cy="1043.76" r="0.8" fill="#e0583a" opacity="0.85"/><rect x="19.3" y="1052.6" width="11.6" height="11.6" fill="#cfe2f2" filter="url(#bl)"/><rect x="21.8" y="1055.1" width="6.6" height="6.6" fill="#f4f8fc" filter="url(#bl)"/><line x1="23.2" y1="1053.6" x2="23.2" y2="1063.2" stroke="#fff" stroke-width="0.5" opacity="0.45"/><line x1="20.3" y1="1056.5" x2="29.9" y2="1056.5" stroke="#fff" stroke-width="0.5" opacity="0.45"/><line x1="27" y1="1053.6" x2="27" y2="1063.2" stroke="#fff" stroke-width="0.5" opacity="0.45"/><line x1="20.3" y1="1060.3" x2="29.9" y2="1060.3" stroke="#fff" stroke-width="0.5" opacity="0.45"/><rect x="23.28" y="1058.3" width="2.08" height="1.91" fill="none" stroke="#5f93c8" stroke-width="0.5" opacity="0.75"/><rect x="24.05" y="1057.62" width="2.13" height="2" fill="none" stroke="#5f93c8" stroke-width="0.5" opacity="0.75"/><rect x="25.97" y="1058.41" width="1.61" height="1.77" fill="none" stroke="#5f93c8" stroke-width="0.5" opacity="0.75"/><circle cx="23.19" cy="1056.51" r="1.15" fill="#e0583a" opacity="0.85"/><rect x="38.6" y="1011.3" width="11.6" height="11.6" fill="#cfe2f2" filter="url(#bl)"/><rect x="41.1" y="1013.8" width="6.6" height="6.6" fill="#f4f8fc" filter="url(#bl)"/><line x1="42.5" y1="1012.3" x2="42.5" y2="1021.9" stroke="#fff" stroke-width="0.5" opacity="0.45"/><line x1="39.6" y1="1015.2" x2="49.2" y2="1015.2" stroke="#fff" stroke-width="0.5" opacity="0.45"/><line x1="46.3" y1="1012.3" x2="46.3" y2="1021.9" stroke="#fff" stroke-width="0.5" opacity="0.45"/><line x1="39.6" y1="1019" x2="49.2" y2="1019" stroke="#fff" stroke-width="0.5" opacity="0.45"/><rect x="43.67" y="1015.79" width="2.81" height="1.79" fill="none" stroke="#5f93c8" stroke-width="0.5" opacity="0.75"/><rect x="43.71" y="1017.82" width="2.2" height="2.3" fill="none" stroke="#5f93c8" stroke-width="0.5" opacity="0.75"/><rect x="42.87" y="1018.09" width="2.56" height="1.75" fill="none" stroke="#5f93c8" stroke-width="0.5" opacity="0.75"/><circle cx="44.77" cy="1017.17" r="0.7" fill="#e89070" opacity="0.7"/><rect x="38.6" y="1025.1" width="11.6" height="11.6" fill="#cfe2f2" filter="url(#bl)"/><rect x="41.1" y="1027.6" width="6.6" height="6.6" fill="#f4f8fc" filter="url(#bl)"/><line x1="42.5" y1="1026.1" x2="42.5" y2="1035.7" stroke="#fff" stroke-width="0.5" opacity="0.45"/><line x1="39.6" y1="1029" x2="49.2" y2="1029" stroke="#fff" stroke-width="0.5" opacity="0.45"/><line x1="46.3" y1="1026.1" x2="46.3" y2="1035.7" stroke="#fff" stroke-width="0.5" opacity="0.45"/><line x1="39.6" y1="1032.8" x2="49.2" y2="1032.8" stroke="#fff" stroke-width="0.5" opacity="0.45"/><rect x="43.49" y="1028.67" width="2.24" height="2.47" fill="none" stroke="#5f93c8" stroke-width="0.5" opacity="0.75"/><rect x="44.46" y="1029.7" width="2" height="2.11" fill="none" stroke="#5f93c8" stroke-width="0.5" opacity="0.75"/><rect x="43.55" y="1029.8" width="1.22" height="1.67" fill="none" stroke="#5f93c8" stroke-width="0.5" opacity="0.75"/><rect x="38.6" y="1038.9" width="11.6" height="11.6" fill="#cfe2f2" filter="url(#bl)"/><rect x="41.1" y="1041.4" width="6.6" height="6.6" fill="#f4f8fc" filter="url(#bl)"/><line x1="42.5" y1="1039.9" x2="42.5" y2="1049.5" stroke="#fff" stroke-width="0.5" opacity="0.45"/><line x1="39.6" y1="1042.8" x2="49.2" y2="1042.8" stroke="#fff" stroke-width="0.5" opacity="0.45"/><line x1="46.3" y1="1039.9" x2="46.3" y2="1049.5" stroke="#fff" stroke-width="0.5" opacity="0.45"/><line x1="39.6" y1="1046.6" x2="49.2" y2="1046.6" stroke="#fff" stroke-width="0.5" opacity="0.45"/><rect x="44.71" y="1043.57" width="2.55" height="1.58" fill="none" stroke="#5f93c8" stroke-width="0.5" opacity="0.75"/><rect x="42.47" y="1043.77" width="2.46" height="1.25" fill="none" stroke="#5f93c8" stroke-width="0.5" opacity="0.75"/><rect x="43.29" y="1045.32" width="2.3" height="2.99" fill="none" stroke="#5f93c8" stroke-width="0.5" opacity="0.75"/><circle cx="46.03" cy="1046.05" r="0.7" fill="#e89070" opacity="0.7"/><rect x="38.6" y="1052.6" width="11.6" height="11.6" fill="#cfe2f2" filter="url(#bl)"/><rect x="41.1" y="1055.1" width="6.6" height="6.6" fill="#f4f8fc" filter="url(#bl)"/><line x1="42.5" y1="1053.6" x2="42.5" y2="1063.2" stroke="#fff" stroke-width="0.5" opacity="0.45"/><line x1="39.6" y1="1056.5" x2="49.2" y2="1056.5" stroke="#fff" stroke-width="0.5" opacity="0.45"/><line x1="46.3" y1="1053.6" x2="46.3" y2="1063.2" stroke="#fff" stroke-width="0.5" opacity="0.45"/><line x1="39.6" y1="1060.3" x2="49.2" y2="1060.3" stroke="#fff" stroke-width="0.5" opacity="0.45"/><rect x="41.5" y="1057.55" width="2.57" height="1.6" fill="none" stroke="#5f93c8" stroke-width="0.5" opacity="0.75"/><rect x="44" y="1058.8" width="2.63" height="1.97" fill="none" stroke="#5f93c8" stroke-width="0.5" opacity="0.75"/><rect x="41.63" y="1057.56" width="1.54" height="2.17" fill="none" stroke="#5f93c8" stroke-width="0.5" opacity="0.75"/><circle cx="43.79" cy="1058.57" r="0.7" fill="#e89070" opacity="0.7"/><rect x="52.1" y="1011.3" width="11.6" height="11.6" fill="#cfe2f2" filter="url(#bl)"/><rect x="54.6" y="1013.8" width="6.6" height="6.6" fill="#f4f8fc" filter="url(#bl)"/><line x1="56" y1="1012.3" x2="56" y2="1021.9" stroke="#fff" stroke-width="0.5" opacity="0.45"/><line x1="53.1" y1="1015.2" x2="62.7" y2="1015.2" stroke="#fff" stroke-width="0.5" opacity="0.45"/><line x1="59.8" y1="1012.3" x2="59.8" y2="1021.9" stroke="#fff" stroke-width="0.5" opacity="0.45"/><line x1="53.1" y1="1019" x2="62.7" y2="1019" stroke="#fff" stroke-width="0.5" opacity="0.45"/><rect x="58.18" y="1018" width="1.93" height="1.21" fill="none" stroke="#5f93c8" stroke-width="0.5" opacity="0.75"/><rect x="57.9" y="1015.46" width="2.56" height="2.7" fill="none" stroke="#5f93c8" stroke-width="0.5" opacity="0.75"/><rect x="55.03" y="1017.02" width="1.71" height="1.78" fill="none" stroke="#5f93c8" stroke-width="0.5" opacity="0.75"/><circle cx="58.05" cy="1016.07" r="0.7" fill="#e89070" opacity="0.7"/><rect x="52.1" y="1025.1" width="11.6" height="11.6" fill="#cfe2f2" filter="url(#bl)"/><rect x="54.6" y="1027.6" width="6.6" height="6.6" fill="#f4f8fc" filter="url(#bl)"/><line x1="56" y1="1026.1" x2="56" y2="1035.7" stroke="#fff" stroke-width="0.5" opacity="0.45"/><line x1="53.1" y1="1029" x2="62.7" y2="1029" stroke="#fff" stroke-width="0.5" opacity="0.45"/><line x1="59.8" y1="1026.1" x2="59.8" y2="1035.7" stroke="#fff" stroke-width="0.5" opacity="0.45"/><line x1="53.1" y1="1032.8" x2="62.7" y2="1032.8" stroke="#fff" stroke-width="0.5" opacity="0.45"/><rect x="56.88" y="1029.03" width="1.42" height="1.65" fill="none" stroke="#5f93c8" stroke-width="0.5" opacity="0.75"/><rect x="57.62" y="1029.14" width="1.56" height="1.86" fill="none" stroke="#5f93c8" stroke-width="0.5" opacity="0.75"/><rect x="55.75" y="1031.84" width="2.62" height="1.47" fill="none" stroke="#5f93c8" stroke-width="0.5" opacity="0.75"/><circle cx="57.64" cy="1031.01" r="0.7" fill="#e89070" opacity="0.7"/><rect x="52.1" y="1038.9" width="11.6" height="11.6" fill="#cfe2f2" filter="url(#bl)"/><rect x="54.6" y="1041.4" width="6.6" height="6.6" fill="#f4f8fc" filter="url(#bl)"/><line x1="56" y1="1039.9" x2="56" y2="1049.5" stroke="#fff" stroke-width="0.5" opacity="0.45"/><line x1="53.1" y1="1042.8" x2="62.7" y2="1042.8" stroke="#fff" stroke-width="0.5" opacity="0.45"/><line x1="59.8" y1="1039.9" x2="59.8" y2="1049.5" stroke="#fff" stroke-width="0.5" opacity="0.45"/><line x1="53.1" y1="1046.6" x2="62.7" y2="1046.6" stroke="#fff" stroke-width="0.5" opacity="0.45"/><rect x="56.45" y="1043.79" width="2.57" height="1.48" fill="none" stroke="#5f93c8" stroke-width="0.5" opacity="0.75"/><rect x="57.14" y="1042.36" width="2.16" height="1.77" fill="none" stroke="#5f93c8" stroke-width="0.5" opacity="0.75"/><rect x="58.11" y="1045.22" width="2.92" height="1.93" fill="none" stroke="#5f93c8" stroke-width="0.5" opacity="0.75"/><rect x="52.1" y="1052.6" width="11.6" height="11.6" fill="#cfe2f2" filter="url(#bl)"/><rect x="54.6" y="1055.1" width="6.6" height="6.6" fill="#f4f8fc" filter="url(#bl)"/><line x1="56" y1="1053.6" x2="56" y2="1063.2" stroke="#fff" stroke-width="0.5" opacity="0.45"/><line x1="53.1" y1="1056.5" x2="62.7" y2="1056.5" stroke="#fff" stroke-width="0.5" opacity="0.45"/><line x1="59.8" y1="1053.6" x2="59.8" y2="1063.2" stroke="#fff" stroke-width="0.5" opacity="0.45"/><line x1="53.1" y1="1060.3" x2="62.7" y2="1060.3" stroke="#fff" stroke-width="0.5" opacity="0.45"/><rect x="55.57" y="1058.25" width="2.6" height="1.97" fill="none" stroke="#5f93c8" stroke-width="0.5" opacity="0.75"/><rect x="56.19" y="1058.43" width="2.55" height="2.64" fill="none" stroke="#5f93c8" stroke-width="0.5" opacity="0.75"/><rect x="56.05" y="1056.37" width="1.65" height="1.54" fill="none" stroke="#5f93c8" stroke-width="0.5" opacity="0.75"/><circle cx="56.39" cy="1058.37" r="0.7" fill="#e89070" opacity="0.7"/><rect x="72.1" y="1011.3" width="11.6" height="11.6" fill="#b4d2ec" filter="url(#bl)"/><rect x="75.1" y="1014.3" width="5.6" height="5.6" fill="#8dbbe2" filter="url(#bl)"/><line x1="76" y1="1012.3" x2="76" y2="1021.9" stroke="#fff" stroke-width="0.5" opacity="0.45"/><line x1="73.1" y1="1015.2" x2="82.7" y2="1015.2" stroke="#fff" stroke-width="0.5" opacity="0.45"/><line x1="79.8" y1="1012.3" x2="79.8" y2="1021.9" stroke="#fff" stroke-width="0.5" opacity="0.45"/><line x1="73.1" y1="1019" x2="82.7" y2="1019" stroke="#fff" stroke-width="0.5" opacity="0.45"/><rect x="76.62" y="1017.66" width="1.88" height="1.51" fill="none" stroke="#4a86c2" stroke-width="0.5" opacity="0.75"/><rect x="78.62" y="1014.39" width="1.81" height="2.57" fill="none" stroke="#4a86c2" stroke-width="0.5" opacity="0.75"/><rect x="76.19" y="1017.96" width="2.54" height="1.75" fill="none" stroke="#4a86c2" stroke-width="0.5" opacity="0.75"/><rect x="72.1" y="1025.1" width="11.6" height="11.6" fill="#b4d2ec" filter="url(#bl)"/><rect x="75.1" y="1028.1" width="5.6" height="5.6" fill="#8dbbe2" filter="url(#bl)"/><line x1="76" y1="1026.1" x2="76" y2="1035.7" stroke="#fff" stroke-width="0.5" opacity="0.45"/><line x1="73.1" y1="1029" x2="82.7" y2="1029" stroke="#fff" stroke-width="0.5" opacity="0.45"/><line x1="79.8" y1="1026.1" x2="79.8" y2="1035.7" stroke="#fff" stroke-width="0.5" opacity="0.45"/><line x1="73.1" y1="1032.8" x2="82.7" y2="1032.8" stroke="#fff" stroke-width="0.5" opacity="0.45"/><rect x="78.35" y="1031.59" width="2.13" height="1.46" fill="none" stroke="#4a86c2" stroke-width="0.5" opacity="0.75"/><rect x="75.32" y="1031.17" width="2.8" height="2.38" fill="none" stroke="#4a86c2" stroke-width="0.5" opacity="0.75"/><rect x="78" y="1031.07" width="1.63" height="1.58" fill="none" stroke="#4a86c2" stroke-width="0.5" opacity="0.75"/><rect x="72.1" y="1038.9" width="11.6" height="11.6" fill="#b4d2ec" filter="url(#bl)"/><rect x="75.1" y="1041.9" width="5.6" height="5.6" fill="#8dbbe2" filter="url(#bl)"/><line x1="76" y1="1039.9" x2="76" y2="1049.5" stroke="#fff" stroke-width="0.5" opacity="0.45"/><line x1="73.1" y1="1042.8" x2="82.7" y2="1042.8" stroke="#fff" stroke-width="0.5" opacity="0.45"/><line x1="79.8" y1="1039.9" x2="79.8" y2="1049.5" stroke="#fff" stroke-width="0.5" opacity="0.45"/><line x1="73.1" y1="1046.6" x2="82.7" y2="1046.6" stroke="#fff" stroke-width="0.5" opacity="0.45"/><rect x="78.37" y="1045.06" width="1.99" height="1.69" fill="none" stroke="#4a86c2" stroke-width="0.5" opacity="0.75"/><rect x="75.21" y="1043.32" width="2.84" height="1.57" fill="none" stroke="#4a86c2" stroke-width="0.5" opacity="0.75"/><rect x="76.16" y="1041.84" width="2.22" height="1.31" fill="none" stroke="#4a86c2" stroke-width="0.5" opacity="0.75"/><rect x="72.1" y="1052.6" width="11.6" height="11.6" fill="#b4d2ec" filter="url(#bl)"/><rect x="75.1" y="1055.6" width="5.6" height="5.6" fill="#8dbbe2" filter="url(#bl)"/><line x1="76" y1="1053.6" x2="76" y2="1063.2" stroke="#fff" stroke-width="0.5" opacity="0.45"/><line x1="73.1" y1="1056.5" x2="82.7" y2="1056.5" stroke="#fff" stroke-width="0.5" opacity="0.45"/><line x1="79.8" y1="1053.6" x2="79.8" y2="1063.2" stroke="#fff" stroke-width="0.5" opacity="0.45"/><line x1="73.1" y1="1060.3" x2="82.7" y2="1060.3" stroke="#fff" stroke-width="0.5" opacity="0.45"/><rect x="77.6" y="1057.37" width="1.96" height="1.67" fill="none" stroke="#4a86c2" stroke-width="0.5" opacity="0.75"/><rect x="76.11" y="1058.97" width="2.89" height="2.55" fill="none" stroke="#4a86c2" stroke-width="0.5" opacity="0.75"/><rect x="75.75" y="1056.23" width="1.85" height="2.78" fill="none" stroke="#4a86c2" stroke-width="0.5" opacity="0.75"/><rect x="85.7" y="1011.3" width="11.6" height="11.6" fill="#b4d2ec" filter="url(#bl)"/><rect x="88.7" y="1014.3" width="5.6" height="5.6" fill="#8dbbe2" filter="url(#bl)"/><line x1="89.6" y1="1012.3" x2="89.6" y2="1021.9" stroke="#fff" stroke-width="0.5" opacity="0.45"/><line x1="86.7" y1="1015.2" x2="96.3" y2="1015.2" stroke="#fff" stroke-width="0.5" opacity="0.45"/><line x1="93.4" y1="1012.3" x2="93.4" y2="1021.9" stroke="#fff" stroke-width="0.5" opacity="0.45"/><line x1="86.7" y1="1019" x2="96.3" y2="1019" stroke="#fff" stroke-width="0.5" opacity="0.45"/><rect x="92.27" y="1015.02" width="2.34" height="1.88" fill="none" stroke="#4a86c2" stroke-width="0.5" opacity="0.75"/><rect x="90.32" y="1014.89" width="2.5" height="2.61" fill="none" stroke="#4a86c2" stroke-width="0.5" opacity="0.75"/><rect x="92.26" y="1016.04" width="2" height="2.36" fill="none" stroke="#4a86c2" stroke-width="0.5" opacity="0.75"/><rect x="85.7" y="1025.1" width="11.6" height="11.6" fill="#b4d2ec" filter="url(#bl)"/><rect x="88.7" y="1028.1" width="5.6" height="5.6" fill="#8dbbe2" filter="url(#bl)"/><line x1="89.6" y1="1026.1" x2="89.6" y2="1035.7" stroke="#fff" stroke-width="0.5" opacity="0.45"/><line x1="86.7" y1="1029" x2="96.3" y2="1029" stroke="#fff" stroke-width="0.5" opacity="0.45"/><line x1="93.4" y1="1026.1" x2="93.4" y2="1035.7" stroke="#fff" stroke-width="0.5" opacity="0.45"/><line x1="86.7" y1="1032.8" x2="96.3" y2="1032.8" stroke="#fff" stroke-width="0.5" opacity="0.45"/><rect x="89.03" y="1031.41" width="2.58" height="1.61" fill="none" stroke="#4a86c2" stroke-width="0.5" opacity="0.75"/><rect x="90.11" y="1029.84" width="2.73" height="2.45" fill="none" stroke="#4a86c2" stroke-width="0.5" opacity="0.75"/><rect x="89.46" y="1031.7" width="2.87" height="2.74" fill="none" stroke="#4a86c2" stroke-width="0.5" opacity="0.75"/><rect x="85.7" y="1038.9" width="11.6" height="11.6" fill="#b4d2ec" filter="url(#bl)"/><rect x="88.7" y="1041.9" width="5.6" height="5.6" fill="#8dbbe2" filter="url(#bl)"/><line x1="89.6" y1="1039.9" x2="89.6" y2="1049.5" stroke="#fff" stroke-width="0.5" opacity="0.45"/><line x1="86.7" y1="1042.8" x2="96.3" y2="1042.8" stroke="#fff" stroke-width="0.5" opacity="0.45"/><line x1="93.4" y1="1039.9" x2="93.4" y2="1049.5" stroke="#fff" stroke-width="0.5" opacity="0.45"/><line x1="86.7" y1="1046.6" x2="96.3" y2="1046.6" stroke="#fff" stroke-width="0.5" opacity="0.45"/><rect x="90.47" y="1043.59" width="1.93" height="2.96" fill="none" stroke="#4a86c2" stroke-width="0.5" opacity="0.75"/><rect x="90.43" y="1045.54" width="1.53" height="1.25" fill="none" stroke="#4a86c2" stroke-width="0.5" opacity="0.75"/><rect x="90.39" y="1042.5" width="1.66" height="1.26" fill="none" stroke="#4a86c2" stroke-width="0.5" opacity="0.75"/><rect x="85.7" y="1052.6" width="11.6" height="11.6" fill="#b4d2ec" filter="url(#bl)"/><rect x="88.7" y="1055.6" width="5.6" height="5.6" fill="#8dbbe2" filter="url(#bl)"/><line x1="89.6" y1="1053.6" x2="89.6" y2="1063.2" stroke="#fff" stroke-width="0.5" opacity="0.45"/><line x1="86.7" y1="1056.5" x2="96.3" y2="1056.5" stroke="#fff" stroke-width="0.5" opacity="0.45"/><line x1="93.4" y1="1053.6" x2="93.4" y2="1063.2" stroke="#fff" stroke-width="0.5" opacity="0.45"/><line x1="86.7" y1="1060.3" x2="96.3" y2="1060.3" stroke="#fff" stroke-width="0.5" opacity="0.45"/><rect x="89" y="1057.16" width="1.36" height="1.73" fill="none" stroke="#4a86c2" stroke-width="0.5" opacity="0.75"/><rect x="90.95" y="1056.44" width="1.76" height="1.88" fill="none" stroke="#4a86c2" stroke-width="0.5" opacity="0.75"/><rect x="89.55" y="1057.65" width="2.6" height="1.26" fill="none" stroke="#4a86c2" stroke-width="0.5" opacity="0.75"/><rect x="105.9" y="1011.3" width="12.2" height="11.6" fill="#f4a27e" filter="url(#bl)"/><rect x="107.9" y="1013.3" width="8.2" height="7.6" fill="#eaf0f7" filter="url(#bl)"/><rect x="110.35" y="1015.7" width="3.88" height="3.56" fill="#5d96cc" opacity="0.8" filter="url(#bl2)"/><line x1="109.8" y1="1012.3" x2="109.8" y2="1021.9" stroke="#fff" stroke-width="0.5" opacity="0.45"/><line x1="106.9" y1="1015.2" x2="116.5" y2="1015.2" stroke="#fff" stroke-width="0.5" opacity="0.45"/><line x1="113.6" y1="1012.3" x2="113.6" y2="1021.9" stroke="#fff" stroke-width="0.5" opacity="0.45"/><line x1="106.9" y1="1019" x2="116.5" y2="1019" stroke="#fff" stroke-width="0.5" opacity="0.45"/><rect x="105.9" y="1025.1" width="12.2" height="11.6" fill="#f4a27e" filter="url(#bl)"/><rect x="107.9" y="1027.1" width="8.2" height="7.6" fill="#eaf0f7" filter="url(#bl)"/><rect x="109.3" y="1029.75" width="3.85" height="3.93" fill="#5d96cc" opacity="0.8" filter="url(#bl2)"/><line x1="109.8" y1="1026.1" x2="109.8" y2="1035.7" stroke="#fff" stroke-width="0.5" opacity="0.45"/><line x1="106.9" y1="1029" x2="116.5" y2="1029" stroke="#fff" stroke-width="0.5" opacity="0.45"/><line x1="113.6" y1="1026.1" x2="113.6" y2="1035.7" stroke="#fff" stroke-width="0.5" opacity="0.45"/><line x1="106.9" y1="1032.8" x2="116.5" y2="1032.8" stroke="#fff" stroke-width="0.5" opacity="0.45"/><rect x="105.9" y="1038.9" width="12.2" height="11.6" fill="#f4a27e" filter="url(#bl)"/><rect x="107.9" y="1040.9" width="8.2" height="7.6" fill="#eaf0f7" filter="url(#bl)"/><rect x="111.27" y="1042.02" width="3.06" height="3.22" fill="#5d96cc" opacity="0.8" filter="url(#bl2)"/><line x1="109.8" y1="1039.9" x2="109.8" y2="1049.5" stroke="#fff" stroke-width="0.5" opacity="0.45"/><line x1="106.9" y1="1042.8" x2="116.5" y2="1042.8" stroke="#fff" stroke-width="0.5" opacity="0.45"/><line x1="113.6" y1="1039.9" x2="113.6" y2="1049.5" stroke="#fff" stroke-width="0.5" opacity="0.45"/><line x1="106.9" y1="1046.6" x2="116.5" y2="1046.6" stroke="#fff" stroke-width="0.5" opacity="0.45"/><rect x="105.9" y="1052.6" width="12.2" height="11.6" fill="#f4a27e" filter="url(#bl)"/><rect x="107.9" y="1054.6" width="8.2" height="7.6" fill="#eaf0f7" filter="url(#bl)"/><rect x="109.52" y="1057.68" width="3.24" height="3.97" fill="#5d96cc" opacity="0.8" filter="url(#bl2)"/><line x1="109.8" y1="1053.6" x2="109.8" y2="1063.2" stroke="#fff" stroke-width="0.5" opacity="0.45"/><line x1="106.9" y1="1056.5" x2="116.5" y2="1056.5" stroke="#fff" stroke-width="0.5" opacity="0.45"/><line x1="113.6" y1="1053.6" x2="113.6" y2="1063.2" stroke="#fff" stroke-width="0.5" opacity="0.45"/><line x1="106.9" y1="1060.3" x2="116.5" y2="1060.3" stroke="#fff" stroke-width="0.5" opacity="0.45"/><rect x="120.2" y="1011.3" width="12.2" height="11.6" fill="#f4a27e" filter="url(#bl)"/><rect x="122.2" y="1013.3" width="8.2" height="7.6" fill="#eaf0f7" filter="url(#bl)"/><rect x="122.53" y="1016.52" width="2.67" height="3.28" fill="#5d96cc" opacity="0.8" filter="url(#bl2)"/><line x1="124.1" y1="1012.3" x2="124.1" y2="1021.9" stroke="#fff" stroke-width="0.5" opacity="0.45"/><line x1="121.2" y1="1015.2" x2="130.8" y2="1015.2" stroke="#fff" stroke-width="0.5" opacity="0.45"/><line x1="127.9" y1="1012.3" x2="127.9" y2="1021.9" stroke="#fff" stroke-width="0.5" opacity="0.45"/><line x1="121.2" y1="1019" x2="130.8" y2="1019" stroke="#fff" stroke-width="0.5" opacity="0.45"/><rect x="120.2" y="1025.1" width="12.2" height="11.6" fill="#f4a27e" filter="url(#bl)"/><rect x="122.2" y="1027.1" width="8.2" height="7.6" fill="#eaf0f7" filter="url(#bl)"/><rect x="123.1" y="1029.05" width="3.42" height="3.94" fill="#5d96cc" opacity="0.8" filter="url(#bl2)"/><line x1="124.1" y1="1026.1" x2="124.1" y2="1035.7" stroke="#fff" stroke-width="0.5" opacity="0.45"/><line x1="121.2" y1="1029" x2="130.8" y2="1029" stroke="#fff" stroke-width="0.5" opacity="0.45"/><line x1="127.9" y1="1026.1" x2="127.9" y2="1035.7" stroke="#fff" stroke-width="0.5" opacity="0.45"/><line x1="121.2" y1="1032.8" x2="130.8" y2="1032.8" stroke="#fff" stroke-width="0.5" opacity="0.45"/><rect x="120.2" y="1038.9" width="12.2" height="11.6" fill="#f4a27e" filter="url(#bl)"/><rect x="122.2" y="1040.9" width="8.2" height="7.6" fill="#eaf0f7" filter="url(#bl)"/><rect x="122.66" y="1042.88" width="2.66" height="3.61" fill="#5d96cc" opacity="0.8" filter="url(#bl2)"/><line x1="124.1" y1="1039.9" x2="124.1" y2="1049.5" stroke="#fff" stroke-width="0.5" opacity="0.45"/><line x1="121.2" y1="1042.8" x2="130.8" y2="1042.8" stroke="#fff" stroke-width="0.5" opacity="0.45"/><line x1="127.9" y1="1039.9" x2="127.9" y2="1049.5" stroke="#fff" stroke-width="0.5" opacity="0.45"/><line x1="121.2" y1="1046.6" x2="130.8" y2="1046.6" stroke="#fff" stroke-width="0.5" opacity="0.45"/><rect x="120.2" y="1052.6" width="12.2" height="11.6" fill="#f4a27e" filter="url(#bl)"/><rect x="122.2" y="1054.6" width="8.2" height="7.6" fill="#eaf0f7" filter="url(#bl)"/><rect x="123.07" y="1055.99" width="3.71" height="2.57" fill="#5d96cc" opacity="0.8" filter="url(#bl2)"/><line x1="124.1" y1="1053.6" x2="124.1" y2="1063.2" stroke="#fff" stroke-width="0.5" opacity="0.45"/><line x1="121.2" y1="1056.5" x2="130.8" y2="1056.5" stroke="#fff" stroke-width="0.5" opacity="0.45"/><line x1="127.9" y1="1053.6" x2="127.9" y2="1063.2" stroke="#fff" stroke-width="0.5" opacity="0.45"/><line x1="121.2" y1="1060.3" x2="130.8" y2="1060.3" stroke="#fff" stroke-width="0.5" opacity="0.45"/><rect x="139.5" y="1011.3" width="11.6" height="11.6" fill="#f6c4b4" filter="url(#bl)"/><rect x="141.5" y="1013.3" width="7.6" height="7.6" fill="#e06a56" filter="url(#bl)"/><rect x="143.1" y="1014.9" width="4.4" height="4.4" fill="#760c16" filter="url(#bl2)"/><line x1="143.4" y1="1012.3" x2="143.4" y2="1021.9" stroke="#fff" stroke-width="0.5" opacity="0.45"/><line x1="140.5" y1="1015.2" x2="150.1" y2="1015.2" stroke="#fff" stroke-width="0.5" opacity="0.45"/><line x1="147.2" y1="1012.3" x2="147.2" y2="1021.9" stroke="#fff" stroke-width="0.5" opacity="0.45"/><line x1="140.5" y1="1019" x2="150.1" y2="1019" stroke="#fff" stroke-width="0.5" opacity="0.45"/><rect x="139.5" y="1025.1" width="11.6" height="11.6" fill="#f6c4b4" filter="url(#bl)"/><rect x="141.5" y="1027.1" width="7.6" height="7.6" fill="#e06a56" filter="url(#bl)"/><rect x="143.1" y="1028.7" width="4.4" height="4.4" fill="#760c16" filter="url(#bl2)"/><line x1="143.4" y1="1026.1" x2="143.4" y2="1035.7" stroke="#fff" stroke-width="0.5" opacity="0.45"/><line x1="140.5" y1="1029" x2="150.1" y2="1029" stroke="#fff" stroke-width="0.5" opacity="0.45"/><line x1="147.2" y1="1026.1" x2="147.2" y2="1035.7" stroke="#fff" stroke-width="0.5" opacity="0.45"/><line x1="140.5" y1="1032.8" x2="150.1" y2="1032.8" stroke="#fff" stroke-width="0.5" opacity="0.45"/><rect x="139.5" y="1038.9" width="11.6" height="11.6" fill="#f6c4b4" filter="url(#bl)"/><rect x="141.5" y="1040.9" width="7.6" height="7.6" fill="#e06a56" filter="url(#bl)"/><rect x="143.1" y="1042.5" width="4.4" height="4.4" fill="#760c16" filter="url(#bl2)"/><line x1="143.4" y1="1039.9" x2="143.4" y2="1049.5" stroke="#fff" stroke-width="0.5" opacity="0.45"/><line x1="140.5" y1="1042.8" x2="150.1" y2="1042.8" stroke="#fff" stroke-width="0.5" opacity="0.45"/><line x1="147.2" y1="1039.9" x2="147.2" y2="1049.5" stroke="#fff" stroke-width="0.5" opacity="0.45"/><line x1="140.5" y1="1046.6" x2="150.1" y2="1046.6" stroke="#fff" stroke-width="0.5" opacity="0.45"/><rect x="139.5" y="1052.6" width="11.6" height="11.6" fill="#f6c4b4" filter="url(#bl)"/><rect x="141.5" y="1054.6" width="7.6" height="7.6" fill="#e06a56" filter="url(#bl)"/><rect x="143.1" y="1056.2" width="4.4" height="4.4" fill="#760c16" filter="url(#bl2)"/><line x1="143.4" y1="1053.6" x2="143.4" y2="1063.2" stroke="#fff" stroke-width="0.5" opacity="0.45"/><line x1="140.5" y1="1056.5" x2="150.1" y2="1056.5" stroke="#fff" stroke-width="0.5" opacity="0.45"/><line x1="147.2" y1="1053.6" x2="147.2" y2="1063.2" stroke="#fff" stroke-width="0.5" opacity="0.45"/><line x1="140.5" y1="1060.3" x2="150.1" y2="1060.3" stroke="#fff" stroke-width="0.5" opacity="0.45"/><rect x="153.9" y="1011.3" width="11.6" height="11.6" fill="#f6c4b4" filter="url(#bl)"/><rect x="155.9" y="1013.3" width="7.6" height="7.6" fill="#e06a56" filter="url(#bl)"/><rect x="157.5" y="1014.9" width="4.4" height="4.4" fill="#760c16" filter="url(#bl2)"/><line x1="157.8" y1="1012.3" x2="157.8" y2="1021.9" stroke="#fff" stroke-width="0.5" opacity="0.45"/><line x1="154.9" y1="1015.2" x2="164.5" y2="1015.2" stroke="#fff" stroke-width="0.5" opacity="0.45"/><line x1="161.6" y1="1012.3" x2="161.6" y2="1021.9" stroke="#fff" stroke-width="0.5" opacity="0.45"/><line x1="154.9" y1="1019" x2="164.5" y2="1019" stroke="#fff" stroke-width="0.5" opacity="0.45"/><rect x="153.9" y="1025.1" width="11.6" height="11.6" fill="#f6c4b4" filter="url(#bl)"/><rect x="155.9" y="1027.1" width="7.6" height="7.6" fill="#e06a56" filter="url(#bl)"/><rect x="157.5" y="1028.7" width="4.4" height="4.4" fill="#760c16" filter="url(#bl2)"/><line x1="157.8" y1="1026.1" x2="157.8" y2="1035.7" stroke="#fff" stroke-width="0.5" opacity="0.45"/><line x1="154.9" y1="1029" x2="164.5" y2="1029" stroke="#fff" stroke-width="0.5" opacity="0.45"/><line x1="161.6" y1="1026.1" x2="161.6" y2="1035.7" stroke="#fff" stroke-width="0.5" opacity="0.45"/><line x1="154.9" y1="1032.8" x2="164.5" y2="1032.8" stroke="#fff" stroke-width="0.5" opacity="0.45"/><rect x="153.9" y="1038.9" width="11.6" height="11.6" fill="#f6c4b4" filter="url(#bl)"/><rect x="155.9" y="1040.9" width="7.6" height="7.6" fill="#e06a56" filter="url(#bl)"/><rect x="157.5" y="1042.5" width="4.4" height="4.4" fill="#760c16" filter="url(#bl2)"/><line x1="157.8" y1="1039.9" x2="157.8" y2="1049.5" stroke="#fff" stroke-width="0.5" opacity="0.45"/><line x1="154.9" y1="1042.8" x2="164.5" y2="1042.8" stroke="#fff" stroke-width="0.5" opacity="0.45"/><line x1="161.6" y1="1039.9" x2="161.6" y2="1049.5" stroke="#fff" stroke-width="0.5" opacity="0.45"/><line x1="154.9" y1="1046.6" x2="164.5" y2="1046.6" stroke="#fff" stroke-width="0.5" opacity="0.45"/><rect x="153.9" y="1052.6" width="11.6" height="11.6" fill="#f6c4b4" filter="url(#bl)"/><rect x="155.9" y="1054.6" width="7.6" height="7.6" fill="#e06a56" filter="url(#bl)"/><rect x="157.5" y="1056.2" width="4.4" height="4.4" fill="#760c16" filter="url(#bl2)"/><line x1="157.8" y1="1053.6" x2="157.8" y2="1063.2" stroke="#fff" stroke-width="0.5" opacity="0.45"/><line x1="154.9" y1="1056.5" x2="164.5" y2="1056.5" stroke="#fff" stroke-width="0.5" opacity="0.45"/><line x1="161.6" y1="1053.6" x2="161.6" y2="1063.2" stroke="#fff" stroke-width="0.5" opacity="0.45"/><line x1="154.9" y1="1060.3" x2="164.5" y2="1060.3" stroke="#fff" stroke-width="0.5" opacity="0.45"/><rect x="173" y="1011.3" width="11.6" height="11.6" fill="#f8c8b8" filter="url(#bl)"/><rect x="175.2" y="1013.5" width="7.2" height="7.2" fill="#ef8e76" filter="url(#bl)"/><line x1="176.9" y1="1012.3" x2="176.9" y2="1021.9" stroke="#fff" stroke-width="0.5" opacity="0.45"/><line x1="174" y1="1015.2" x2="183.6" y2="1015.2" stroke="#fff" stroke-width="0.5" opacity="0.45"/><line x1="180.7" y1="1012.3" x2="180.7" y2="1021.9" stroke="#fff" stroke-width="0.5" opacity="0.45"/><line x1="174" y1="1019" x2="183.6" y2="1019" stroke="#fff" stroke-width="0.5" opacity="0.45"/><rect x="173" y="1025.1" width="11.6" height="11.6" fill="#f8c8b8" filter="url(#bl)"/><rect x="175.2" y="1027.3" width="7.2" height="7.2" fill="#ef8e76" filter="url(#bl)"/><line x1="176.9" y1="1026.1" x2="176.9" y2="1035.7" stroke="#fff" stroke-width="0.5" opacity="0.45"/><line x1="174" y1="1029" x2="183.6" y2="1029" stroke="#fff" stroke-width="0.5" opacity="0.45"/><line x1="180.7" y1="1026.1" x2="180.7" y2="1035.7" stroke="#fff" stroke-width="0.5" opacity="0.45"/><line x1="174" y1="1032.8" x2="183.6" y2="1032.8" stroke="#fff" stroke-width="0.5" opacity="0.45"/><rect x="173" y="1038.9" width="11.6" height="11.6" fill="#f8c8b8" filter="url(#bl)"/><rect x="175.2" y="1041.1" width="7.2" height="7.2" fill="#ef8e76" filter="url(#bl)"/><line x1="176.9" y1="1039.9" x2="176.9" y2="1049.5" stroke="#fff" stroke-width="0.5" opacity="0.45"/><line x1="174" y1="1042.8" x2="183.6" y2="1042.8" stroke="#fff" stroke-width="0.5" opacity="0.45"/><line x1="180.7" y1="1039.9" x2="180.7" y2="1049.5" stroke="#fff" stroke-width="0.5" opacity="0.45"/><line x1="174" y1="1046.6" x2="183.6" y2="1046.6" stroke="#fff" stroke-width="0.5" opacity="0.45"/><rect x="173" y="1052.6" width="11.6" height="11.6" fill="#f8c8b8" filter="url(#bl)"/><rect x="175.2" y="1054.8" width="7.2" height="7.2" fill="#ef8e76" filter="url(#bl)"/><line x1="176.9" y1="1053.6" x2="176.9" y2="1063.2" stroke="#fff" stroke-width="0.5" opacity="0.45"/><line x1="174" y1="1056.5" x2="183.6" y2="1056.5" stroke="#fff" stroke-width="0.5" opacity="0.45"/><line x1="180.7" y1="1053.6" x2="180.7" y2="1063.2" stroke="#fff" stroke-width="0.5" opacity="0.45"/><line x1="174" y1="1060.3" x2="183.6" y2="1060.3" stroke="#fff" stroke-width="0.5" opacity="0.45"/><rect x="187.2" y="1011.3" width="11.6" height="11.6" fill="#f8c8b8" filter="url(#bl)"/><rect x="189.4" y="1013.5" width="7.2" height="7.2" fill="#ef8e76" filter="url(#bl)"/><line x1="191.1" y1="1012.3" x2="191.1" y2="1021.9" stroke="#fff" stroke-width="0.5" opacity="0.45"/><line x1="188.2" y1="1015.2" x2="197.8" y2="1015.2" stroke="#fff" stroke-width="0.5" opacity="0.45"/><line x1="194.9" y1="1012.3" x2="194.9" y2="1021.9" stroke="#fff" stroke-width="0.5" opacity="0.45"/><line x1="188.2" y1="1019" x2="197.8" y2="1019" stroke="#fff" stroke-width="0.5" opacity="0.45"/><rect x="187.2" y="1025.1" width="11.6" height="11.6" fill="#f8c8b8" filter="url(#bl)"/><rect x="189.4" y="1027.3" width="7.2" height="7.2" fill="#ef8e76" filter="url(#bl)"/><line x1="191.1" y1="1026.1" x2="191.1" y2="1035.7" stroke="#fff" stroke-width="0.5" opacity="0.45"/><line x1="188.2" y1="1029" x2="197.8" y2="1029" stroke="#fff" stroke-width="0.5" opacity="0.45"/><line x1="194.9" y1="1026.1" x2="194.9" y2="1035.7" stroke="#fff" stroke-width="0.5" opacity="0.45"/><line x1="188.2" y1="1032.8" x2="197.8" y2="1032.8" stroke="#fff" stroke-width="0.5" opacity="0.45"/><rect x="187.2" y="1038.9" width="11.6" height="11.6" fill="#f8c8b8" filter="url(#bl)"/><rect x="189.4" y="1041.1" width="7.2" height="7.2" fill="#ef8e76" filter="url(#bl)"/><line x1="191.1" y1="1039.9" x2="191.1" y2="1049.5" stroke="#fff" stroke-width="0.5" opacity="0.45"/><line x1="188.2" y1="1042.8" x2="197.8" y2="1042.8" stroke="#fff" stroke-width="0.5" opacity="0.45"/><line x1="194.9" y1="1039.9" x2="194.9" y2="1049.5" stroke="#fff" stroke-width="0.5" opacity="0.45"/><line x1="188.2" y1="1046.6" x2="197.8" y2="1046.6" stroke="#fff" stroke-width="0.5" opacity="0.45"/><rect x="187.2" y="1052.6" width="11.6" height="11.6" fill="#f8c8b8" filter="url(#bl)"/><rect x="189.4" y="1054.8" width="7.2" height="7.2" fill="#ef8e76" filter="url(#bl)"/><line x1="191.1" y1="1053.6" x2="191.1" y2="1063.2" stroke="#fff" stroke-width="0.5" opacity="0.45"/><line x1="188.2" y1="1056.5" x2="197.8" y2="1056.5" stroke="#fff" stroke-width="0.5" opacity="0.45"/><line x1="194.9" y1="1053.6" x2="194.9" y2="1063.2" stroke="#fff" stroke-width="0.5" opacity="0.45"/><line x1="188.2" y1="1060.3" x2="197.8" y2="1060.3" stroke="#fff" stroke-width="0.5" opacity="0.45"/></g>
<rect x="201.7" y="1010.6" width="4.6" height="55" fill="url(#gRdBu)"/>
<text x="207.9" y="1012.9">0.2</text>
<text x="207.6" y="1040.3">0</text>
<text x="206.8" y="1066.7">−0.2</text>
<text x="225" y="1037" text-anchor="middle" transform="rotate(-90 225 1037)">Δ Class</text>
<text x="234.4" y="1037" text-anchor="middle" transform="rotate(-90 234.4 1037)">probability</text>
<text x="245.8" y="988.8" font-weight="bold" font-size="10" fill="#111">G</text>
<text x="263" y="994.6">Median (Δ class probability)</text>
<text x="390.2" y="994.6">Variance (Δ class probability)</text>
<g transform="translate(235.1 547.5) scale(0.82)"><use href="#tU" fill="#254c27"/><use href="#tT2" fill="#1b301d"/><use href="#tO1" fill="#1e3a22"/><use href="#tS" fill="#3c8c4c"/><use href="#tO2" fill="#2a2818" stroke="#fff" stroke-width="1"/><use href="#tL" fill="#b4c644" stroke="#fff" stroke-width="1.4"/><g clip-path="url(#cL)"><path d="M52 614C53.67 604 57.33 611 62 612C66.67 613 75.67 615.33 80 620C84.33 624.67 86.67 631.33 88 640C89.33 648.67 94 666.67 88 672C82 677.33 58 681.67 52 672C46 662.33 50.33 624 52 614Z" fill="#d2b43c" opacity="0.8" filter="url(#bl3)"/><g><path d="M29.3 589.2h0M48.2 617.3h0M71.9 639.3h0M82.5 636.3h0M34.6 589.9h0M49 645.1h0M46.5 582.7h0M43.7 608.8h0M73.6 643.1h0M67 656.7h0M60.4 648.4h0M52.4 585.9h0M54.6 592.4h0M34.9 614.2h0M28.7 586.3h0M64.1 642.7h0M62.6 659h0M49.1 637.1h0M48.5 602h0M34.4 631.9h0M56.6 583.2h0M40.6 639.9h0M69.1 659.6h0M77.8 653.9h0M46.8 580.5h0M53.2 636.3h0M49.6 613.5h0M43.7 598.2h0M51.8 649.5h0M58.5 662.6h0M41.6 608.9h0" stroke="#b8cc40" stroke-width="1.5" stroke-linecap="round"/><path d="M51.6 597.4h0M46.3 620.4h0M28.6 588h0M81.2 660.4h0M79.1 644h0M66.1 659.5h0M52.2 582.4h0M81.6 655.2h0M55.9 635.9h0M46.8 618.3h0M31.7 586.8h0M73.4 647.2h0M50.4 611.4h0M54.5 606.6h0M76.9 626.5h0" stroke="#d0c848" stroke-width="1.5" stroke-linecap="round"/><path d="M42.3 627h0M50.2 634.5h0M41.3 624h0M54.8 600.2h0M38.2 577.4h0M28.9 606.7h0M50.5 644h0M38.2 631h0M61.7 665.8h0M74.3 651.7h0M59.3 625h0M66.7 627.3h0M80.8 633h0M55.4 626.4h0M67.9 639.9h0M51.7 642h0M57.4 629.1h0M67.8 668.2h0M49.1 575.8h0M31 618.7h0M50.8 585.1h0M53.4 653.8h0M68.6 622.6h0M74.7 650.7h0M75.7 651.3h0M44.5 622.9h0" stroke="#c6a23c" stroke-width="1.5" stroke-linecap="round"/><path d="M77 653.5h0M59.9 653.6h0M76.2 623.7h0M49.1 630.8h0M48.8 587.1h0M37.8 596.4h0M49.1 644.5h0M44.9 636.2h0M64.8 653h0M56.4 597.7h0M81.7 648.7h0" stroke="#d0c848" stroke-width="2" stroke-linecap="round"/><path d="M70.9 623.5h0M49.7 625h0M43.7 625.2h0M53.1 652.9h0M54.8 660.4h0M62 628.6h0M82.2 651.9h0M77.5 648.8h0M60.4 645.1h0M54.6 583.1h0M79.2 645.1h0M33.7 634.5h0M52.2 597.9h0" stroke="#9fc040" stroke-width="2" stroke-linecap="round"/><path d="M73.1 647.9h0M49.5 582.1h0M30.9 596.8h0M36.2 578.5h0M55 626.5h0M38.8 580.4h0M43.6 580.6h0M66.9 667h0M59 640h0M77.7 650.7h0M36.7 621.7h0" stroke="#88b038" stroke-width="2" stroke-linecap="round"/><path d="M36.3 606.1h0M29.3 607.1h0M67.7 617.8h0M33.7 609.3h0M46.5 596.6h0M43.5 634.4h0M56.5 615.5h0M48.2 633.8h0M67.7 660.4h0M62.5 622.4h0M58.7 608.2h0M45.5 616.7h0M54.6 642.1h0M36.4 620.6h0M32.6 598.2h0" stroke="#c6a23c" stroke-width="1" stroke-linecap="round"/><path d="M58.9 626.3h0M64.7 629.2h0M49.9 647.5h0M63.2 661.5h0M57.9 639.3h0M64.5 635.3h0M71.6 653.7h0" stroke="#88b038" stroke-width="1" stroke-linecap="round"/><path d="M38.1 628.1h0M34.8 582h0M77.9 654.2h0M57.9 626h0M68 650.9h0M51 575.9h0M52.3 584.2h0M57.2 622.4h0M62.4 646.7h0M34.5 594.2h0M60.4 628.6h0M81 662h0M74.7 634.8h0M27.1 611.5h0M27.1 605.1h0M74.8 651h0M62.6 624.6h0M65.7 654.8h0" stroke="#e2d85a" stroke-width="1.5" stroke-linecap="round"/><path d="M33.2 632.9h0M51.8 604.6h0M81.5 634.2h0M39 610.3h0M49.3 593.9h0M51.3 592.3h0M40.5 584.2h0M73.2 660.9h0M33.1 588h0M46.2 628.6h0M55.1 581.3h0M47.1 576h0M79.4 633.5h0M39.3 611.5h0M34.5 582.1h0M44.2 628.2h0M41.1 583.4h0M63.5 666.8h0M56.9 653.4h0M27.4 620.7h0M36.4 608.9h0M47.1 591h0M67.9 655.6h0M47.2 582.4h0M32.4 627h0M77.4 633.8h0" stroke="#88b038" stroke-width="1.5" stroke-linecap="round"/><path d="M31.4 600.2h0M46.2 593.1h0M66.7 649.4h0M36.1 577.6h0M65.6 616h0M77.3 634.1h0M37.3 602.4h0M61.1 654.6h0M57.2 602.2h0M42.7 586.4h0M80.1 653.2h0" stroke="#9fc040" stroke-width="1" stroke-linecap="round"/><path d="M50.7 648.2h0M57.2 628.7h0M47.9 576.3h0M28.4 603.3h0M41.2 625.2h0M29.4 599.9h0M49.7 608.5h0M57.5 651.9h0M50.1 628.3h0M49.3 586.2h0M67.3 630.1h0M63.4 623.4h0M77.5 642.3h0M57.5 650.7h0M46.7 578h0M66.9 664.3h0M74.2 628h0M58.9 639h0" stroke="#b8cc40" stroke-width="2" stroke-linecap="round"/><path d="M56.3 622.1h0M66.1 641h0M57.3 659.2h0M57 597h0M51.1 623.6h0M71 637.6h0M74.4 643.7h0M61.5 634.9h0M31 628.7h0M48.9 601.8h0M32.3 620.8h0M52.5 653.5h0M76.7 651.3h0M34.3 611.8h0M53.7 621.3h0M26.7 616.1h0M42.6 624.1h0M34.3 628.4h0" stroke="#9fc040" stroke-width="1.5" stroke-linecap="round"/><path d="M41 632.2h0M30.1 588h0M58.9 660.1h0M28.3 623.9h0M60.7 660.5h0M53.2 640.4h0M53.3 578.8h0M49.8 629.8h0M63.6 641.2h0M51.6 586.3h0M58.4 665.4h0M39.8 578.4h0" stroke="#e2d85a" stroke-width="2" stroke-linecap="round"/><path d="M71.2 624.2h0M64.8 654.4h0M66.1 627.7h0M53.3 629.5h0M46.9 611.1h0M39.5 637.5h0M40 612.8h0" stroke="#d0c848" stroke-width="1" stroke-linecap="round"/><path d="M63.3 618.9h0M76.5 661.7h0M51.8 597.3h0M31.3 603.5h0M29.8 600.1h0M56.6 590.5h0M28.6 624.8h0M56.2 626h0M55.1 612.1h0M75.1 650.3h0M59.1 654.6h0M25.8 616.6h0M53.9 649.5h0M47.5 593.8h0M32.7 577.2h0M37 588.3h0M29.4 604.7h0M33.7 623.8h0M36.8 610.7h0" stroke="#b8cc40" stroke-width="1" stroke-linecap="round"/><path d="M60.9 643.2h0M70.4 645.4h0M58.6 655.3h0M31.5 586.7h0M44 622h0M36.1 603.9h0M49.1 621.5h0M80.7 660.8h0M74.6 641.5h0M83.3 636.1h0M33.9 577h0M42.4 638.5h0" stroke="#e2d85a" stroke-width="1" stroke-linecap="round"/><path d="M62.3 633h0M42.6 612.7h0M72.3 625.9h0M31.4 577.6h0M42.8 600.4h0M65.5 630.2h0M60.5 646.8h0M42.5 577h0M27.4 619h0M76.2 642.4h0" stroke="#c6a23c" stroke-width="2" stroke-linecap="round"/></g><g><path d="M65.7 665.3h0M58.8 659.8h0M58.9 656.3h0M66.8 648h0M65.2 650.9h0M57.6 656.6h0M56.4 625.5h0M63.5 666.3h0M68.1 622.7h0M58.9 627.5h0M73.7 631.9h0M73.8 627.1h0" stroke="#c89a36" stroke-width="2" stroke-linecap="round"/><path d="M57.8 633.9h0M66.7 656h0M71.4 632h0M74.7 634.2h0M64.9 657.8h0M55.2 615.9h0M59.6 646h0M61.7 667.1h0M57.1 627.4h0M64.4 647.4h0M67.2 667.5h0M71.6 635h0" stroke="#dca03a" stroke-width="1.5" stroke-linecap="round"/><path d="M55.6 637.6h0M67.6 660.8h0M82.2 657.9h0M71.8 639.6h0M72.5 639h0M69.7 630.2h0" stroke="#c89a36" stroke-width="1" stroke-linecap="round"/><path d="M68.9 632.6h0M79.1 658.7h0M58.8 625.7h0M64.6 642.4h0M66.9 626.1h0M73.6 650.2h0M65 668.8h0M69.8 667.7h0M69.3 641.3h0M59.5 626.6h0M77.6 635.3h0M72.4 621h0M63.5 624.7h0M62.7 630.3h0" stroke="#c89a36" stroke-width="1.5" stroke-linecap="round"/><path d="M81.2 632.9h0M63.5 616h0M75.2 622.4h0M64.1 661.8h0M64.5 622.6h0M58.1 642.3h0M62.8 659.2h0M80.6 643.7h0" stroke="#dca03a" stroke-width="1" stroke-linecap="round"/><path d="M71.2 629.3h0M68.2 651.4h0M66.6 639.5h0M63.4 665.4h0M58 628.8h0M56.6 615.5h0M70.6 635.2h0M80 626.8h0" stroke="#dca03a" stroke-width="2" stroke-linecap="round"/></g></g><g clip-path="url(#cU)"><path d="M89 566C92.08 562 103.83 560.33 107 566C110.17 571.67 108.33 592 108 600C107.67 608 106.83 610.83 105 614C103.17 617.17 99.5 619.67 97 619C94.5 618.33 91.42 614.83 90 610C88.58 605.17 88.67 597.33 88.5 590C88.33 582.67 85.92 570 89 566Z" fill="#9c6a30" filter="url(#bl3)"/><g><path d="M71.4 603.1h0M79.2 618.3h0M83.4 617.8h0M63.4 583.5h0M68.4 613.8h0M85.4 582.6h0M78.5 604.2h0M79.5 587.2h0M74.4 577.6h0" stroke="#3a6a34" stroke-width="2" stroke-linecap="round"/><path d="M84.5 615.5h0M78.7 578h0M86.6 617.4h0M84.8 603.4h0M71.5 599.7h0M80.7 613h0M84.5 601.8h0M85.2 574.9h0M72.3 594.6h0M69.5 612.8h0M64.3 580.8h0M61.5 589.2h0M68.3 571.1h0M83.1 625.3h0M69.3 589h0M65.8 608.6h0M75.8 620.7h0M78.6 612.1h0M77.7 582h0M77.7 585.7h0M73.5 585.1h0M83.4 622.7h0M78.4 622.5h0M66.8 598.5h0M79.2 587h0M81.4 612h0" stroke="#2c5a2e" stroke-width="1.5" stroke-linecap="round"/><path d="M87.9 603.6h0M87.3 623.1h0M72.3 615.5h0M86.8 571.9h0M81.1 600.9h0M66.2 585.4h0M72 577.5h0" stroke="#4c7a3a" stroke-width="1" stroke-linecap="round"/><path d="M84.1 608h0M65.7 578.9h0M83.6 619.7h0M85.4 621.9h0M83.7 615h0M66.8 612.6h0M79.1 603.6h0M75.7 597h0M64.9 609.7h0M69.9 602.4h0M69.5 603.9h0M73.9 601.8h0M66.4 588.4h0M67.9 587.9h0" stroke="#1e3c20" stroke-width="2" stroke-linecap="round"/><path d="M64 606.3h0M78.8 605.4h0M80 611.2h0M82.7 580.9h0M73.7 579.6h0M76.9 609.4h0M79 575.4h0M77.3 591.2h0M72.3 586.9h0M73.8 578.6h0M85.8 583.3h0M66.8 608.5h0M78.6 618.5h0M80.3 600.5h0M69.7 580.6h0M63.4 606.1h0M72.5 596.7h0M85.6 611.5h0M67.6 571.3h0M61.2 576.3h0M60.5 600.8h0M74.9 596.2h0M61.6 602.1h0M68.6 601.6h0" stroke="#17301a" stroke-width="1.5" stroke-linecap="round"/><path d="M71.2 584.8h0M71 602.1h0M78.3 605.2h0M79.9 601.5h0M82.5 572.5h0M65.7 593.6h0M66.1 587.5h0M85.5 588.8h0M80.9 595h0M82.8 583.9h0M76.3 606.9h0M84.5 600.5h0M71.9 598.9h0M78.4 603h0M85.7 589.5h0M61.9 590.7h0M83.2 586.7h0M79.2 576.5h0" stroke="#1e3c20" stroke-width="1.5" stroke-linecap="round"/><path d="M67.7 609.3h0M76.6 582.3h0M87.1 590.6h0M80.8 586.7h0M78.5 616.2h0M70 595.9h0M85.1 604.7h0M61.8 600.5h0M64 600.2h0M87.1 600.5h0M87 625.3h0" stroke="#2c5a2e" stroke-width="2" stroke-linecap="round"/><path d="M63.4 605.4h0M73.4 573.5h0M84.9 589.5h0M70.6 601.9h0M72.7 599h0M67.9 572.4h0M81.7 622.2h0M61.1 589.7h0M71.8 584.5h0M86.4 622.8h0M68.9 601.7h0M82.4 573h0M69.9 582.1h0M82.6 591h0M87.2 589.4h0" stroke="#4c7a3a" stroke-width="1.5" stroke-linecap="round"/><path d="M79.9 620.4h0M76.3 615.9h0M70.9 586.5h0M70.8 593.1h0M84.5 616.2h0M84.4 616.3h0M75.4 574.9h0M80.9 593.9h0M81.9 580.1h0M65.5 600.5h0M81.5 602.4h0M60.1 580.3h0M63.9 578.1h0M61.1 581.2h0" stroke="#17301a" stroke-width="1" stroke-linecap="round"/><path d="M82.6 623.1h0M82.6 574.9h0M61.2 605.2h0M81.4 608.7h0M87.3 590.7h0M78.1 615.2h0M76.1 579.8h0M61.5 599.2h0M68.4 599.8h0M84.4 622.4h0M84.8 625.4h0M86.6 572h0M67.4 599h0M79.7 608.3h0M68.2 581.4h0M61.8 604.6h0M61.2 605.6h0M77.1 581.8h0M76.9 602h0M83 581.8h0M83.4 601.5h0" stroke="#3a6a34" stroke-width="1.5" stroke-linecap="round"/><path d="M74.8 574.1h0M79.3 592.2h0M79.8 579.9h0M65.6 591.2h0M86 596.2h0M80.6 573.9h0M79.3 622.9h0M74.8 597.9h0M75.3 580.8h0M67.8 591.1h0M83.7 584h0M67.6 582.6h0M64.5 579.8h0M65.8 598.9h0M60.1 589.1h0M63.2 593.8h0M84.9 621.4h0M84.5 601.7h0" stroke="#3a6a34" stroke-width="1" stroke-linecap="round"/><path d="M64.3 580.5h0M86.9 580.8h0M71.9 596.9h0M83.8 609.4h0M65.9 577.8h0M75.7 571.5h0M62.3 603.8h0M60.4 585.4h0M67.3 612.9h0M83.4 625.4h0M72.6 613.1h0M72.7 574.7h0M83.6 613.8h0" stroke="#17301a" stroke-width="2" stroke-linecap="round"/><path d="M62 586.9h0M87.3 572.9h0M67.9 603.6h0M70.9 605.2h0M86.7 583.1h0M64.7 603.7h0M78.1 596.6h0M62.7 577.6h0M88 621.4h0M87.3 596.2h0M59.6 585.8h0M84.9 600h0" stroke="#2c5a2e" stroke-width="1" stroke-linecap="round"/><path d="M78 583.8h0M70.6 578.7h0M64.9 588h0M69.4 578.9h0M84.4 572.2h0M76.3 589.8h0M65.3 579.1h0M62.1 597.3h0" stroke="#1e3c20" stroke-width="1" stroke-linecap="round"/><path d="M82.4 623.9h0M83.1 596.4h0M62 606.3h0M66.9 594.6h0M81.4 615.5h0M76.9 599.9h0M79.2 600.2h0M86.2 589.6h0M65.5 579.6h0M75 605.5h0" stroke="#4c7a3a" stroke-width="2" stroke-linecap="round"/></g><g><path d="M105.3 596.5h0M96.2 603.4h0M99.3 569h0M101.2 576.2h0M96 601.3h0M106.1 589.1h0M106.8 584.7h0M105.6 592.6h0M88.6 593.8h0" stroke="#c09040" stroke-width="2" stroke-linecap="round"/><path d="M89.7 576.2h0M88.4 607.7h0M89.5 619.2h0M96.2 595.7h0M98.6 620.9h0M96.1 574.6h0M104.7 601.8h0M93.2 621.5h0M96.4 572.1h0M90.3 570.3h0M91.9 601.1h0M104.7 572h0" stroke="#4c7a3a" stroke-width="1" stroke-linecap="round"/><path d="M91.1 569.5h0M103.9 590.9h0M104.9 611h0M103.8 588h0M100.3 605.3h0M95 615.9h0M93.5 587.6h0M90.2 622.6h0M103 604.3h0M92.2 573.9h0M106.6 597.6h0M105 580h0M106.3 606.3h0M93.2 610h0M90.2 593.9h0" stroke="#b0803a" stroke-width="1.5" stroke-linecap="round"/><path d="M102.6 605.5h0M93.6 584.7h0M103.9 613.9h0M103.6 597h0M90.6 609.2h0M88.7 570.9h0M96.1 609h0M90.8 594.4h0" stroke="#7a6430" stroke-width="2" stroke-linecap="round"/><path d="M97 571.3h0M105.4 573.7h0M105.9 581.2h0M90.4 579.5h0M96.4 625.4h0M101.6 571.2h0M94.7 578.9h0M95.5 591.9h0" stroke="#b0803a" stroke-width="1" stroke-linecap="round"/><path d="M102.4 615h0M105.6 607.8h0M97.6 622h0M104.1 616h0M92.3 588.1h0M89.5 625.6h0M98.2 601.8h0M88.9 616.1h0M90.3 573.7h0M91.9 600.6h0M92.9 585.7h0M97 602.1h0M98.8 617.8h0M92.1 590.2h0M100.8 597.5h0M97.8 612.1h0M91.5 602.5h0M90.8 619h0M92.8 610.2h0M89.9 574.4h0M93.1 570.6h0" stroke="#7a6430" stroke-width="1.5" stroke-linecap="round"/><path d="M91.6 590.1h0M100.5 621h0M88.1 625.5h0M93.3 608.3h0M88.3 618h0M90.4 573.7h0M96.9 621.6h0M97.9 569.9h0M88.6 611.2h0M102.3 589.2h0M101 618.3h0M103.8 611.3h0" stroke="#c09040" stroke-width="1.5" stroke-linecap="round"/><path d="M93.8 623.7h0M93.2 618.3h0M93.4 576.4h0M95.4 578.6h0M103.1 603.1h0M93.4 625.9h0M97.5 604.7h0M98.2 578h0M91.2 607.9h0M93.4 589.5h0M103.4 605.5h0M93.9 612.1h0M92 604.1h0M93.7 623.1h0M103.7 593.3h0M98.3 600.7h0M103.4 593.3h0M103.3 610.7h0" stroke="#4c7a3a" stroke-width="1.5" stroke-linecap="round"/><path d="M94.4 598.4h0M94.3 623.4h0M96.3 578.2h0" stroke="#c09040" stroke-width="1" stroke-linecap="round"/><path d="M96.2 610h0M92 606.1h0M93.3 624.1h0M100.3 623.3h0M94.8 595.1h0" stroke="#7a6430" stroke-width="1" stroke-linecap="round"/><path d="M91.5 582.2h0M95 594.5h0M88.4 624.1h0M97.6 609.3h0M104.8 584.3h0M93 617.5h0M105.7 611.1h0M98.7 588.8h0M98.1 625.2h0" stroke="#b0803a" stroke-width="2" stroke-linecap="round"/></g></g><g clip-path="url(#cT2)"><g><path d="M73.7 553h0M73.6 567.8h0M76.5 555.1h0M73.6 562h0M69.6 554.8h0M76.2 566.1h0M69.7 563h0" stroke="#2c4a2c" stroke-width="1.5" stroke-linecap="round"/><path d="M81.2 565.9h0M84.1 561h0M72.1 567.5h0M76 561.6h0" stroke="#2c4a2c" stroke-width="2" stroke-linecap="round"/><path d="M70.7 569.2h0M64.2 555.4h0M64.8 565h0M62.7 560.2h0" stroke="#3a6a3a" stroke-width="1" stroke-linecap="round"/><path d="M84 560.6h0M64.3 570.7h0M75.6 571.8h0M63.2 561.5h0M80.4 569.4h0M70.1 551.4h0M79.7 560.4h0M79.3 559.7h0M82.2 555.2h0M74.1 559.1h0" stroke="#0e1e10" stroke-width="1.5" stroke-linecap="round"/><path d="M76.1 553.8h0M84.1 563.8h0M71 566.7h0M82.4 558.7h0M82.3 558.6h0" stroke="#0e1e10" stroke-width="1" stroke-linecap="round"/><path d="M80.3 560h0M72.5 564.8h0M75.6 557.5h0M63.9 572.1h0M61.5 568.9h0" stroke="#3a6a3a" stroke-width="1.5" stroke-linecap="round"/><path d="M65.6 570h0M78.8 560.7h0" stroke="#2c4a2c" stroke-width="1" stroke-linecap="round"/><path d="M78.6 563.2h0M73.8 564.7h0M62.1 567.1h0M63.8 570.5h0" stroke="#0e1e10" stroke-width="2" stroke-linecap="round"/><path d="M60.4 571.9h0M70.4 561.8h0M63.5 568.8h0M66.7 557h0M74.9 570.3h0M70.6 571.9h0M78.2 557.2h0M62.1 568.5h0M71.5 569.9h0" stroke="#3a6a3a" stroke-width="2" stroke-linecap="round"/></g></g><g clip-path="url(#cO1)"><g><path d="M47.4 564.2h0M48 556.1h0" stroke="#3a6a3a" stroke-width="2" stroke-linecap="round"/><path d="M52.7 558.7h0" stroke="#0e1e10" stroke-width="2" stroke-linecap="round"/><path d="M51.5 554h0M51.6 552.2h0M50.5 566.9h0M56.3 557h0M45.6 559.8h0" stroke="#0e1e10" stroke-width="1" stroke-linecap="round"/><path d="M45.9 559.7h0M51.5 564.7h0M52.4 560.1h0M55 556.5h0M51.2 567.2h0M47.6 558.9h0M51.5 557.7h0M53.9 559.6h0" stroke="#0e1e10" stroke-width="1.5" stroke-linecap="round"/><path d="M55.5 559.1h0M50 563.7h0" stroke="#3a6a3a" stroke-width="1" stroke-linecap="round"/><path d="M53.8 560.1h0M53.9 556.9h0" stroke="#3a6a3a" stroke-width="1.5" stroke-linecap="round"/></g></g><g clip-path="url(#cO2)"><g><path d="M112.3 602.6h0M119.7 600.6h0M110.3 586.5h0M114.2 586h0M117.3 594.9h0M115.8 582.4h0M113 600.6h0M109.5 596.1h0" stroke="#141008" stroke-width="1.5" stroke-linecap="round"/><path d="M118.7 595.6h0M111.8 599.5h0" stroke="#141008" stroke-width="2" stroke-linecap="round"/><path d="M112.9 598.2h0M118.6 588.3h0M115.9 582.3h0" stroke="#5a4a24" stroke-width="2" stroke-linecap="round"/><path d="M116.3 599.2h0M111.6 586.9h0M117.4 588.6h0M116 602.9h0M118.3 589.9h0" stroke="#141008" stroke-width="1" stroke-linecap="round"/><path d="M118.8 585.9h0M118.2 590.6h0M119.3 598.7h0M119.9 592.3h0" stroke="#3a4a24" stroke-width="1.5" stroke-linecap="round"/><path d="M120.1 594.7h0M119.6 586.2h0" stroke="#3a4a24" stroke-width="2" stroke-linecap="round"/><path d="M115.1 595.3h0M119.2 589.9h0M112.3 596.9h0M111.7 594.5h0" stroke="#5a4a24" stroke-width="1" stroke-linecap="round"/><path d="M113.4 592.2h0M110.4 598.4h0" stroke="#5a4a24" stroke-width="1.5" stroke-linecap="round"/></g></g><g clip-path="url(#cS)"><g><path d="M44.6 652.6h0" stroke="#ffffff" stroke-width="1.5" stroke-linecap="round"/><path d="M43.2 653.8h0M44.4 651.4h0M43.1 652.6h0" stroke="#ffffff" stroke-width="0.5" stroke-linecap="round"/><path d="M44.3 653.6h0M41.3 650.9h0M43.3 651.3h0M45.8 654.1h0M45.2 654.1h0M42.4 650.3h0" stroke="#ffffff" stroke-width="1" stroke-linecap="round"/><path d="M38.8 651.1h0M42.6 651h0" stroke="#7ac07a" stroke-width="1" stroke-linecap="round"/><path d="M41.4 653.9h0" stroke="#7ac07a" stroke-width="0.5" stroke-linecap="round"/><path d="M43.2 648.6h0M39.6 650.7h0" stroke="#7ac07a" stroke-width="1.5" stroke-linecap="round"/></g></g><path d="M84.6 566 L86.6 566 L86.2 582 L85.8 596 L85.4 596 L84.9 582 Z" fill="#fff" stroke="#fff" stroke-width="0.96" stroke-linejoin="round"/><path d="M33.1 574.6C35.6 572.68 38.65 572.1 42.3 572.3C45.95 572.5 52.3 574.45 55 575.8C57.7 577.15 58.07 577.7 58.5 580.4C58.93 583.1 57.8 587.97 57.6 592C57.4 596.03 56.38 600.97 57.3 604.6C58.22 608.23 60.22 611.1 63.1 613.8C65.98 616.5 71.53 618.48 74.6 620.8C77.67 623.12 79.97 625.02 81.5 627.7C83.03 630.38 83.42 633.05 83.8 636.9C84.18 640.75 84.18 646.57 83.8 650.8C83.42 655.03 82.65 659.42 81.5 662.3C80.35 665.18 79.2 666.75 76.9 668.1C74.6 669.45 70.77 670.78 67.7 670.4C64.63 670.02 60.82 667.53 58.5 665.8C56.18 664.07 54.97 662.12 53.8 660C52.63 657.88 52.27 655.4 51.5 653.1C50.73 650.8 50.73 648.13 49.2 646.2C47.67 644.27 44.6 643.05 42.3 641.5C40 639.95 37.7 639.2 35.4 636.9C33.1 634.6 30.23 631.15 28.5 627.7C26.77 624.25 25.7 620.05 25 616.2C24.3 612.35 24.3 608.45 24.3 604.6C24.3 600.75 24.5 596.57 25 593.1C25.5 589.63 25.95 586.88 27.3 583.8C28.65 580.72 30.6 576.52 33.1 574.6Z" fill="none" stroke="#fff" stroke-width="1.4"/><path d="M121.2 594.2C121.2 595.3 121.12 596.43 120.96 597.49C120.81 598.55 120.57 599.6 120.28 600.55C119.98 601.5 119.6 602.41 119.18 603.18C118.76 603.96 118.27 604.65 117.75 605.2C117.23 605.75 116.66 606.18 116.09 606.47C115.51 606.75 114.9 606.9 114.3 606.9C113.7 606.9 113.09 606.75 112.51 606.47C111.94 606.18 111.37 605.75 110.85 605.2C110.33 604.65 109.84 603.96 109.42 603.18C109 602.41 108.62 601.5 108.32 600.55C108.03 599.6 107.79 598.55 107.64 597.49C107.48 596.43 107.4 595.3 107.4 594.2C107.4 593.1 107.48 591.97 107.64 590.91C107.79 589.85 108.03 588.8 108.32 587.85C108.62 586.9 109 585.99 109.42 585.22C109.84 584.44 110.33 583.75 110.85 583.2C111.37 582.65 111.94 582.22 112.51 581.93C113.09 581.65 113.7 581.5 114.3 581.5C114.9 581.5 115.51 581.65 116.09 581.93C116.66 582.22 117.23 582.65 117.75 583.2C118.27 583.75 118.76 584.44 119.18 585.22C119.6 585.99 119.98 586.9 120.28 587.85C120.57 588.8 120.81 589.85 120.96 590.91C121.12 591.97 121.2 593.1 121.2 594.2Z" fill="none" stroke="#fff" stroke-width="1"/></g>
<circle cx="247.6" cy="1044" r="1.1" fill="#e07a30"/>
<rect x="353.8" y="1066.9" width="25.4" height="28.5" fill="url(#cmAT)"/>
<rect x="353.8" y="1066.9" width="25.4" height="28.5" fill="url(#cmAB)" mask="url(#cmAK)"/>
<text x="353.2" y="1070.2" text-anchor="end" font-size="7.3">10<tspan font-size="4.6" dy="-2.6">−2</tspan></text>
<text x="353.2" y="1096" text-anchor="end" font-size="7.3">−10<tspan font-size="4.6" dy="-2.6">−2</tspan></text>
<text x="331.3" y="1080.8" text-anchor="middle" transform="rotate(-90 331.3 1080.8)">Brightfield</text>
<text x="351.5" y="1103.2" text-anchor="middle" font-size="7.3">−10<tspan font-size="4.6" dy="-2.6">−2</tspan></text>
<text x="381.5" y="1103.2" text-anchor="middle" font-size="7.3">10<tspan font-size="4.6" dy="-2.6">−2</tspan></text>
<text x="368.1" y="1112.4" text-anchor="middle">DAPI</text>
<g transform="translate(371.2 547.5) scale(0.82)"><use href="#tU" fill="#dc4e22"/><use href="#tT2" fill="#ea8a2c"/><use href="#tO1" fill="#f0a030"/><use href="#tS" fill="#e42428"/><use href="#tO2" fill="#f0a23a" stroke="#fff" stroke-width="1"/><use href="#tL" fill="#c2722a" stroke="#fff" stroke-width="1.4"/><g clip-path="url(#cL)"><path d="M20 566C26.33 558.67 51.67 563.67 58 568C64.33 572.33 59.33 586 58 592C56.67 598 53.67 601.33 50 604C46.33 606.67 41 606.67 36 608C31 609.33 22.67 619 20 612C17.33 605 13.67 573.33 20 566Z" fill="#8a8a34" filter="url(#bl3)"/><path d="M64 642C65.67 634.33 76 626.33 80 626C84 625.67 86.67 632.33 88 640C89.33 647.67 91 666.67 88 672C85 677.33 74 677 70 672C66 667 62.33 649.67 64 642Z" fill="#503614" opacity="0.75" filter="url(#bl3)"/><g><path d="M52.1 637.4h0M43.1 574.1h0M49.1 598.3h0M62.6 624.5h0M26.2 602.2h0M36.2 587.1h0M74 662.2h0M61.5 633.4h0M58 658.5h0M34.7 624.9h0M58.9 659.1h0M58.7 643.3h0M67 649h0M62 652.3h0M68.1 648.5h0M81.1 651h0M78.5 644.8h0M35.9 631.5h0M63.3 618.4h0M31.5 603h0M30 613.9h0M48 598.1h0M64.3 615.6h0M56.4 629.9h0" stroke="#8a8634" stroke-width="1.5" stroke-linecap="round"/><path d="M50.4 597.3h0M71.9 666.4h0M68.6 623h0M28.2 603.5h0M31.4 628.1h0M65.7 651.8h0M28.3 618.3h0" stroke="#8a8634" stroke-width="1" stroke-linecap="round"/><path d="M52.4 604.3h0M28.3 626.1h0M51.8 591.2h0M78.8 649h0M59.6 637.3h0M30.5 613h0M71.2 626.9h0M65.2 632.8h0M63.1 637.5h0M39.2 575.9h0M24.8 599.8h0M71.8 627.4h0M58.3 616.1h0M32.4 612.2h0M72.8 660.2h0M74.1 667.7h0M50.9 582.3h0M57.3 653.3h0M78.1 661.8h0" stroke="#6a7a2a" stroke-width="2" stroke-linecap="round"/><path d="M49.4 578.5h0M46.9 613.8h0M64.7 660h0M61 648.3h0M63.6 645.4h0M66.4 646.1h0M56.5 659.2h0M56.4 647.5h0M43.4 613.5h0M74.1 649.1h0M73.2 645.9h0M55.9 627.8h0M52.2 588.2h0M82.5 639.6h0M47.9 577.3h0M61.2 640.8h0M81.9 659.6h0M31.4 606.6h0M73.4 644.7h0M75.7 650.3h0M38.1 620.2h0M49 628.7h0" stroke="#3a2a10" stroke-width="1.5" stroke-linecap="round"/><path d="M64.8 637.5h0M29.1 587h0M38.9 629h0M50.4 637.7h0M32.3 578.1h0M37.7 601.9h0M78.8 640.6h0M71 656.6h0M74.1 635.5h0M28.4 600.8h0M60.6 610.4h0M29.4 605.1h0M25.4 602.1h0M70 639.9h0M62.5 664.2h0M50.3 579.2h0M82.1 642.1h0M65.4 628.8h0M35.6 614.7h0M80 657.4h0M52 638.7h0M74.2 631.5h0M44.1 618.9h0" stroke="#e8a030" stroke-width="1.5" stroke-linecap="round"/><path d="M37.2 581.6h0M35.1 624.3h0M32.6 589.8h0M44.9 609.8h0M25.7 608.7h0M33.8 580.7h0M62.1 633.8h0M46.6 632.9h0M35.3 623.8h0M71.4 638.6h0M78.9 637.4h0" stroke="#d07a2a" stroke-width="1" stroke-linecap="round"/><path d="M57.9 587.3h0M76.4 654.6h0M39.2 592.4h0M61.1 654.7h0M37.8 630.4h0M82.6 655.7h0M42.3 589.6h0M69.7 661.7h0M56.4 587.2h0M38.7 575.6h0M71.8 655.2h0M66.9 636.1h0M37.3 623.2h0M36.6 632.2h0M34.7 577h0M71.9 652.9h0M71.3 622.2h0M61.6 645.9h0M65.9 666.9h0M55.3 632.9h0M53.1 594.4h0M39 635.5h0M52 577.6h0M44.6 642.4h0M34.6 592.8h0M25.6 597.3h0" stroke="#e04a20" stroke-width="1.5" stroke-linecap="round"/><path d="M73.6 660.2h0M40.6 637.1h0M64.2 653.1h0M57 584.8h0M79.7 661h0M58.3 658h0M42.3 632.9h0M61 663.9h0M42.9 600h0M38.1 612.2h0M27.8 608.2h0M34.7 612.6h0M61.8 622.9h0M58.6 634h0M39 591.5h0M64 660.9h0M47.6 610.9h0M26.6 615.9h0M56.8 634.9h0M40.3 576h0M53.3 628.5h0M34.8 579.5h0M45.1 579.1h0M61.5 665.8h0" stroke="#b86a28" stroke-width="1.5" stroke-linecap="round"/><path d="M54 658.2h0M50.2 616.9h0M53.3 591.3h0M77.3 637.9h0M52.2 601.7h0M43.9 587.4h0M37.5 596.1h0M43.6 616.1h0M27.3 606.5h0M57 662.6h0M52.2 588.5h0M65.4 621.2h0M53.5 615.2h0M64 630.8h0M76.4 653.9h0M44 612.9h0" stroke="#e8a030" stroke-width="2" stroke-linecap="round"/><path d="M60.6 631.7h0M36.5 575.6h0M35.3 621.3h0M55.1 659.8h0M30.7 602.4h0M33.1 633.7h0M41.2 607h0M63.6 629.8h0M56.1 605.6h0M33 632.5h0M45.6 623.2h0M26.5 615.2h0M64.8 637.2h0" stroke="#3a2a10" stroke-width="2" stroke-linecap="round"/><path d="M63.2 659.4h0M28.7 591.8h0M57.9 617h0M67.4 631.5h0M36.4 595.6h0M54.6 651.6h0M31.2 579.4h0M50 583.3h0M48.6 592.5h0M59 622.9h0M44.4 628.5h0M63.7 661.6h0" stroke="#e04a20" stroke-width="1" stroke-linecap="round"/><path d="M47.8 632.4h0M80.3 650.2h0M66.5 641.8h0M82.1 643.7h0M33.7 584.7h0M27.5 608.1h0M55.6 600h0M28.7 586.1h0M53.5 617.8h0M62.3 635.1h0M46.1 629.3h0M71.5 654.8h0M30.6 626.3h0M54.7 583.9h0M70.7 624.3h0M49.9 618.9h0M55.1 607.9h0M58.4 656.9h0M31.1 621.9h0M48.4 636.8h0M78.7 634.7h0" stroke="#6a7a2a" stroke-width="1.5" stroke-linecap="round"/><path d="M31.5 605.9h0M42.2 601.8h0M60.4 619.6h0M39.4 596.3h0M81.5 651.1h0M64.2 647.2h0M61.1 665h0M76.8 624.4h0M44.4 573h0M46.7 631.5h0M78.1 626.8h0" stroke="#e8a030" stroke-width="1" stroke-linecap="round"/><path d="M51.2 599.2h0M62.3 640.1h0M55.6 604.7h0M36.2 594.3h0M35.2 619.3h0M56.4 602.4h0M25.9 594.6h0M79.2 650.5h0M30 607.8h0M72.3 620.9h0M62.2 639.9h0M26.8 617.9h0" stroke="#b86a28" stroke-width="2" stroke-linecap="round"/><path d="M53.3 651.3h0M28.7 596.9h0M60.9 632.6h0M61.8 632.3h0M32.3 626.4h0M35.8 577.5h0M65.9 616.1h0M46.3 635.5h0M45.5 641.7h0" stroke="#6a7a2a" stroke-width="1" stroke-linecap="round"/><path d="M51 576h0M70.7 621.5h0M31.5 595.7h0M37.9 629.7h0M70.8 664h0M47.3 589.8h0M48.3 579.4h0M57.9 660h0" stroke="#8a8634" stroke-width="2" stroke-linecap="round"/><path d="M41.4 588.6h0M42 595h0M52.9 648.1h0M32.7 627.2h0M71.6 635.2h0M53.1 587.1h0M47.8 627.6h0M56.2 626.2h0M50 603.5h0M57 613.4h0M51.2 642h0M39.3 630.1h0M51.5 608.4h0M46.5 595.4h0M50 574.8h0M64 625.4h0M44 599.9h0M43.1 583.7h0M46 615h0M47.7 587.8h0M51.8 581.9h0M65.6 667h0M53.8 577.6h0M71.4 654.4h0M67.5 623.5h0" stroke="#d07a2a" stroke-width="1.5" stroke-linecap="round"/><path d="M57.5 587.2h0M71 657.3h0M55.7 653.1h0M44.7 581.9h0M61.2 611.1h0M43.3 622.2h0M48.9 611.9h0M49 580.1h0M56.3 594.4h0M69 621.3h0M31.1 610.4h0M41.5 621.6h0M46.7 590.9h0M75 655.1h0M51.9 590.8h0M51.7 577.7h0M47 609.1h0M56.5 593.7h0M68.6 649.5h0" stroke="#d07a2a" stroke-width="2" stroke-linecap="round"/><path d="M39.2 616h0M67.3 663.7h0M65.1 663.7h0M25.2 610.1h0M43.1 624.3h0M53.7 652.1h0M28.3 608.6h0M53.6 638.5h0" stroke="#b86a28" stroke-width="1" stroke-linecap="round"/><path d="M69.6 649h0M78.5 655.4h0M62.5 647.4h0M66.9 624.4h0M35.2 614.5h0M48.4 582.4h0M68 625.3h0M33.3 583.7h0M71.5 665.1h0" stroke="#e04a20" stroke-width="2" stroke-linecap="round"/><path d="M60.4 636.2h0M35.9 580.6h0M69.8 622.7h0M70.1 649.5h0M74.6 625.7h0M58.4 648.6h0M78.1 627.2h0M40.4 583.5h0M47.2 577.6h0M59.3 615.4h0M46.5 630.3h0" stroke="#3a2a10" stroke-width="1" stroke-linecap="round"/></g></g><g clip-path="url(#cU)"><path d="M87 566C90.17 562 103.5 559.5 107 566C110.5 572.5 108.17 595.67 108 605C107.83 614.33 108 617.83 106 622C104 626.17 98.83 630.67 96 630C93.17 629.33 90.33 624.67 89 618C87.67 611.33 88.33 598.67 88 590C87.67 581.33 83.83 570 87 566Z" fill="#961a16" filter="url(#bl3)"/><path d="M86 565 L93 565 L92 574 L86 576 Z" fill="#1a0a06"/><g><path d="M63.6 606.3h0M62 588.5h0M77.3 622.2h0M72.2 609.3h0M82.1 603.6h0M66.7 593.2h0M77.6 597.5h0M87.5 627.4h0M80.6 599h0M83.2 596.7h0M62.5 601.9h0M65 580.3h0M73.4 609.1h0M72.3 604.4h0M83.6 597.9h0M76.6 607.2h0M71.7 605.3h0M83.5 618.7h0M73.1 613.4h0M62.1 594.9h0M60.3 581.2h0M84.2 604.3h0M79.6 572.5h0" stroke="#f08a30" stroke-width="1.5" stroke-linecap="round"/><path d="M78.3 579.1h0M82.1 612.5h0M75.2 619h0M74.7 595h0M87.4 578.2h0M70.1 614.8h0M77.6 613.8h0M82.6 621.6h0M77.2 619.9h0M66.6 583.4h0M83.5 615.3h0M76.9 587.8h0M60.2 572.9h0M74.2 616.4h0M78.6 600.5h0M68.8 593.7h0M74.1 571.8h0M72.5 595.2h0" stroke="#b82a1a" stroke-width="1.5" stroke-linecap="round"/><path d="M74.6 606.6h0M64.3 572.2h0M65 573.3h0M64.4 581.4h0M69.3 606.6h0M85.2 614.7h0M87.6 620.1h0M81.7 597.6h0M80.6 581.7h0M63.9 601.4h0M71.8 588.5h0M62.5 589.1h0M75.8 586.3h0M87.1 579h0" stroke="#e86a2a" stroke-width="2" stroke-linecap="round"/><path d="M72 599.7h0M70.9 614.2h0M59.9 596h0M67.2 609.3h0M85.7 591.1h0M73.2 618.7h0M63 601.5h0M85.5 586.2h0M70.1 574.6h0M82 585.8h0M80.4 585.4h0M67 610.6h0M63.4 580.4h0M86.8 610h0" stroke="#e05424" stroke-width="2" stroke-linecap="round"/><path d="M79.1 605.9h0M74.5 592.7h0M67.4 602.6h0M65.3 609.8h0M79.3 611.4h0M86.2 624.5h0M86.3 611.6h0M69 603.6h0M60.2 598.6h0M86.4 622.6h0M76 602.5h0M75.1 616.8h0M86.6 573.9h0" stroke="#c83a1c" stroke-width="2" stroke-linecap="round"/><path d="M83.4 612.5h0M63.3 605.3h0M73.9 602.6h0M80.2 598.4h0M87.4 626.9h0M85.7 618.2h0M75.6 603.5h0M63.8 606h0M79.3 605h0M74.6 617.6h0M68.5 603.1h0" stroke="#e86a2a" stroke-width="1" stroke-linecap="round"/><path d="M77.2 607.2h0M75.2 572.6h0M73.2 580.5h0M87.7 600.9h0M77.5 585.4h0M74.1 579.7h0M64.4 572.3h0M87.5 598.3h0M78.2 576.2h0M71.5 575h0M61.9 589.4h0M84.8 607.9h0M79.4 575.9h0" stroke="#e05424" stroke-width="1" stroke-linecap="round"/><path d="M80.8 594.7h0M79.8 609.7h0M79.5 622.2h0M67.3 584h0M86.4 582.5h0M86 593.7h0M66.3 585h0M81.5 581.5h0M82.9 586.7h0M79.3 577.6h0M72.1 597.8h0M60.6 584.8h0M78.9 616.8h0M84.5 621.9h0" stroke="#c83a1c" stroke-width="1" stroke-linecap="round"/><path d="M82.4 590.5h0M81.7 613.4h0M70.9 610.3h0M83.9 623.8h0M85.3 620.7h0M82.4 625.6h0M72.1 585.2h0M87.7 608.1h0M78.6 622.5h0M86.2 626.6h0M68.4 591.5h0M84.3 594.3h0" stroke="#e05424" stroke-width="1.5" stroke-linecap="round"/><path d="M77.5 594.8h0M77.7 597.2h0M80.7 605.4h0M78.4 589.5h0M80 583h0M73.8 585.4h0M86.7 610.4h0M62.3 588.4h0M77.1 611.1h0M87.4 579.6h0M73.8 592.7h0M71.9 612.1h0M68.3 596.1h0M74.1 589h0M81.7 625.6h0M70.5 578.8h0M72.9 581h0M82.1 590.2h0M67.2 575.1h0M78.2 600.9h0M62.6 584.9h0M74.1 581.9h0M87.5 616.4h0M71.8 592.5h0M77.9 599.7h0" stroke="#e86a2a" stroke-width="1.5" stroke-linecap="round"/><path d="M87 615.9h0M66.4 579.4h0M84.7 576.1h0M77.4 594h0M65.7 610.1h0M83 598.2h0M84.7 575.4h0M61.8 574.1h0" stroke="#b82a1a" stroke-width="2" stroke-linecap="round"/><path d="M70.4 583.6h0M61.7 592.1h0M74 607.6h0M85.9 593.8h0M73.2 614.5h0M82.2 603h0M67.5 572.9h0M64.3 594.7h0M62.6 587.4h0M87.8 592.7h0M86 577.4h0M84.9 571.6h0M73.1 604.2h0M61.6 574.3h0" stroke="#f08a30" stroke-width="1" stroke-linecap="round"/><path d="M67.2 584.4h0M69.2 576.1h0M70.6 595.3h0M85.9 626.2h0M77.1 573.4h0M79.9 578.7h0M77.4 584.9h0M74.4 609h0M66.3 592.6h0M69.6 602.9h0M70.3 573.5h0M80.4 573.7h0M84.4 579.7h0M85.2 586.5h0M74.4 590.1h0M62.7 596.7h0M77 572.3h0M87.1 620.3h0M66 584.5h0M85.1 575h0" stroke="#c83a1c" stroke-width="1.5" stroke-linecap="round"/><path d="M65.9 573.4h0M66.7 573.8h0M82.7 609h0M64.6 585h0M82.8 610.9h0M66.3 590h0M70.3 608.2h0M80.1 599h0M76 621.1h0M68.5 586.5h0M61.1 578.5h0M75.4 570.9h0M70.2 606.2h0M61.4 572.8h0M74.5 575h0" stroke="#f08a30" stroke-width="2" stroke-linecap="round"/><path d="M66.3 608h0M87.9 591.3h0M70.8 598.2h0M68.3 570.8h0M64.1 589h0M78.6 622.4h0" stroke="#b82a1a" stroke-width="1" stroke-linecap="round"/></g><g><path d="M101.9 581.9h0M99.2 618.7h0M105.1 576h0M93.3 627.9h0" stroke="#b82a1a" stroke-width="1" stroke-linecap="round"/><path d="M90.4 619h0M95.4 601.7h0M92.4 603.3h0M100.9 596.7h0M101.3 571.5h0M96.1 568.6h0" stroke="#2a0a06" stroke-width="1" stroke-linecap="round"/><path d="M90.8 572.4h0M89.2 580.4h0M94.1 606.7h0M93.1 623.4h0M104.5 573.9h0M97.4 625.8h0M98.9 622.9h0M89.4 599.1h0M106.6 592.5h0M103 576.3h0" stroke="#b82a1a" stroke-width="1.5" stroke-linecap="round"/><path d="M96.9 601.3h0" stroke="#b82a1a" stroke-width="2" stroke-linecap="round"/><path d="M88.7 617h0M101.7 587.1h0M103.2 578.1h0M90.8 582.6h0M94.3 581.2h0M105 585.7h0M96.6 622.3h0M94.8 576.1h0M102.1 593.8h0" stroke="#7a1010" stroke-width="2" stroke-linecap="round"/><path d="M92.8 593.7h0M91.4 600.5h0M104.9 620.4h0M101.1 613.8h0M104.5 585.9h0M91.4 578.1h0M92.6 611.2h0M90.4 601.8h0M101 587.9h0M102.7 606.4h0M98.9 617.2h0M92.4 605.3h0M98.5 576.2h0M93.6 580h0M103.6 590.2h0M106.5 592.5h0M93.8 590.5h0M106.6 601.6h0M91.6 622.3h0M89.1 603.4h0M93 624.9h0M94.7 609.1h0" stroke="#7a1010" stroke-width="1.5" stroke-linecap="round"/><path d="M100.7 618.3h0M101.3 575.4h0M101.6 607.3h0M99.6 625.1h0M102.3 618.2h0M94.1 609.1h0M97.8 610.1h0M90.3 582.1h0M91.5 584.7h0M98.4 597.3h0M93.1 617.1h0M91.4 608.1h0" stroke="#a01818" stroke-width="1.5" stroke-linecap="round"/><path d="M88.6 596.7h0M104.7 575.5h0M92 582.1h0M101.4 599.6h0M96.1 628.8h0M102.1 609h0M100.8 599.2h0M103.6 601.8h0M99.4 604.5h0M98.1 573.8h0M92.5 579.3h0M104.1 582.4h0M101.1 622.4h0M100.7 572.3h0" stroke="#2a0a06" stroke-width="1.5" stroke-linecap="round"/><path d="M89.6 577.3h0M99 577.5h0M101 610.1h0M93.6 615.7h0M92.6 617.9h0M105.2 581.3h0M92.3 599.6h0M104.4 588.6h0M105.8 597.8h0" stroke="#7a1010" stroke-width="1" stroke-linecap="round"/><path d="M88.5 625.3h0M88.2 611h0M105 581.5h0M93.8 598.4h0M97.4 572.6h0M98.4 628.5h0M100.4 600.3h0" stroke="#2a0a06" stroke-width="2" stroke-linecap="round"/><path d="M98.4 627.2h0M94.3 583h0M97.2 570.2h0" stroke="#a01818" stroke-width="1" stroke-linecap="round"/><path d="M102.2 612.1h0M106.3 611.1h0M105 589.1h0" stroke="#a01818" stroke-width="2" stroke-linecap="round"/></g></g><g clip-path="url(#cT2)"><g><path d="M78 567h0M71.4 552.2h0M68.2 565.8h0M75.5 559h0M79.9 559.8h0M80.1 556h0M79.4 557h0M66.6 567.2h0M68 555.7h0" stroke="#e04020" stroke-width="1.5" stroke-linecap="round"/><path d="M82.8 567.1h0M77.8 570.9h0M67.3 562.7h0M76 565.3h0M82.9 562.5h0M73 559.3h0M67.3 558.9h0M70.3 571.4h0M72.9 552.1h0M68.1 558.3h0M65.8 552.9h0M62.6 566.3h0M76 563.5h0" stroke="#d86020" stroke-width="1.5" stroke-linecap="round"/><path d="M68.5 565.6h0M70.2 566.9h0M69.7 563.4h0M64.5 572.7h0M69.2 564.6h0" stroke="#d86020" stroke-width="1" stroke-linecap="round"/><path d="M65.6 569.1h0M78.2 556.2h0M71.1 572.5h0M84.1 566h0" stroke="#f0a838" stroke-width="1" stroke-linecap="round"/><path d="M84 566h0M84.2 567.6h0M81.9 570.3h0M70 552.7h0M79.6 568h0M67.5 561.7h0" stroke="#f8c040" stroke-width="1" stroke-linecap="round"/><path d="M76.4 567.8h0M73.6 563.1h0M83 569.1h0" stroke="#e04020" stroke-width="1" stroke-linecap="round"/><path d="M65.1 555.2h0M77.7 557h0M63.9 560.6h0" stroke="#d86020" stroke-width="2" stroke-linecap="round"/><path d="M63.3 561.9h0M68.7 569.4h0M76.7 553h0M69.1 568.8h0M71.5 565.6h0M60.3 573h0M84.5 571.7h0M79.8 562.1h0M77.5 564.8h0M70.6 556.3h0M77.3 562.8h0M71 555.6h0" stroke="#f0a838" stroke-width="1.5" stroke-linecap="round"/><path d="M79.5 557.6h0M78.3 557.8h0M75.9 569h0M80.3 568.6h0M77.3 552.8h0" stroke="#f8c040" stroke-width="2" stroke-linecap="round"/><path d="M68.3 564.6h0M68.8 568.5h0M72.3 553.9h0M71.8 553.4h0" stroke="#f0a838" stroke-width="2" stroke-linecap="round"/><path d="M80.6 567.8h0M64.8 556.7h0M81.9 566.7h0M64.6 565.5h0" stroke="#f8c040" stroke-width="1.5" stroke-linecap="round"/><path d="M65.3 556.9h0M77.4 569.8h0" stroke="#e04020" stroke-width="2" stroke-linecap="round"/></g></g><g clip-path="url(#cO1)"><g><path d="M55.6 556.8h0" stroke="#f0a838" stroke-width="2" stroke-linecap="round"/><path d="M48.8 563.5h0M49.9 566.2h0M46.6 557.9h0M52.7 556.9h0M48 566h0" stroke="#e04020" stroke-width="1.5" stroke-linecap="round"/><path d="M55.3 553.8h0M51.2 553.8h0" stroke="#f0a838" stroke-width="1" stroke-linecap="round"/><path d="M55.1 559.1h0" stroke="#f8c040" stroke-width="1" stroke-linecap="round"/><path d="M51.4 555.2h0M48.9 562.8h0M46.4 564h0" stroke="#e04020" stroke-width="2" stroke-linecap="round"/><path d="M52.6 553h0M54.5 565.2h0M51.7 554.4h0M57 559.5h0M48.4 553h0" stroke="#f8c040" stroke-width="2" stroke-linecap="round"/><path d="M49.8 559.7h0M52.7 559h0M52.2 566.7h0M51.9 566h0M47.6 562.3h0" stroke="#f8c040" stroke-width="1.5" stroke-linecap="round"/><path d="M49.2 555.1h0M51.4 565.5h0" stroke="#f0a838" stroke-width="1.5" stroke-linecap="round"/><path d="M47.7 563.3h0" stroke="#e04020" stroke-width="1" stroke-linecap="round"/></g></g><g clip-path="url(#cO2)"><g><path d="M117.2 604.4h0M113.3 585.4h0M116.6 605h0" stroke="#f0a838" stroke-width="1.5" stroke-linecap="round"/><path d="M114.7 593.6h0M110.3 584.8h0M111.2 584.1h0M111.4 604.2h0M110.9 598.9h0" stroke="#e06020" stroke-width="2" stroke-linecap="round"/><path d="M112.4 593h0M110.5 593.4h0M111.8 599.9h0M116.6 603.6h0M114.7 598.2h0M120.3 591h0M116.1 599.5h0" stroke="#f8c040" stroke-width="1.5" stroke-linecap="round"/><path d="M109.3 588.5h0M116.9 589.4h0M113.2 597.5h0M114.8 599.7h0M121 593.9h0M113.8 596.7h0M112.8 597.1h0M109.5 595h0" stroke="#e06020" stroke-width="1.5" stroke-linecap="round"/><path d="M111.4 589.9h0M107.4 594.6h0" stroke="#f0a838" stroke-width="1" stroke-linecap="round"/><path d="M109.5 586.3h0M115.6 605.1h0M114.9 604.1h0" stroke="#f8c040" stroke-width="2" stroke-linecap="round"/><path d="M115 593h0M108.7 592.1h0M120.8 594.9h0M115.2 604h0" stroke="#e06020" stroke-width="1" stroke-linecap="round"/><path d="M112.2 594.9h0M111.5 601.5h0" stroke="#f8c040" stroke-width="1" stroke-linecap="round"/><path d="M108.1 589.6h0" stroke="#f0a838" stroke-width="2" stroke-linecap="round"/></g></g><path d="M84.6 566 L86.6 566 L86.2 582 L85.8 596 L85.4 596 L84.9 582 Z" fill="#fff" stroke="#fff" stroke-width="0.96" stroke-linejoin="round"/><path d="M33.1 574.6C35.6 572.68 38.65 572.1 42.3 572.3C45.95 572.5 52.3 574.45 55 575.8C57.7 577.15 58.07 577.7 58.5 580.4C58.93 583.1 57.8 587.97 57.6 592C57.4 596.03 56.38 600.97 57.3 604.6C58.22 608.23 60.22 611.1 63.1 613.8C65.98 616.5 71.53 618.48 74.6 620.8C77.67 623.12 79.97 625.02 81.5 627.7C83.03 630.38 83.42 633.05 83.8 636.9C84.18 640.75 84.18 646.57 83.8 650.8C83.42 655.03 82.65 659.42 81.5 662.3C80.35 665.18 79.2 666.75 76.9 668.1C74.6 669.45 70.77 670.78 67.7 670.4C64.63 670.02 60.82 667.53 58.5 665.8C56.18 664.07 54.97 662.12 53.8 660C52.63 657.88 52.27 655.4 51.5 653.1C50.73 650.8 50.73 648.13 49.2 646.2C47.67 644.27 44.6 643.05 42.3 641.5C40 639.95 37.7 639.2 35.4 636.9C33.1 634.6 30.23 631.15 28.5 627.7C26.77 624.25 25.7 620.05 25 616.2C24.3 612.35 24.3 608.45 24.3 604.6C24.3 600.75 24.5 596.57 25 593.1C25.5 589.63 25.95 586.88 27.3 583.8C28.65 580.72 30.6 576.52 33.1 574.6Z" fill="none" stroke="#fff" stroke-width="1.4"/><path d="M121.2 594.2C121.2 595.3 121.12 596.43 120.96 597.49C120.81 598.55 120.57 599.6 120.28 600.55C119.98 601.5 119.6 602.41 119.18 603.18C118.76 603.96 118.27 604.65 117.75 605.2C117.23 605.75 116.66 606.18 116.09 606.47C115.51 606.75 114.9 606.9 114.3 606.9C113.7 606.9 113.09 606.75 112.51 606.47C111.94 606.18 111.37 605.75 110.85 605.2C110.33 604.65 109.84 603.96 109.42 603.18C109 602.41 108.62 601.5 108.32 600.55C108.03 599.6 107.79 598.55 107.64 597.49C107.48 596.43 107.4 595.3 107.4 594.2C107.4 593.1 107.48 591.97 107.64 590.91C107.79 589.85 108.03 588.8 108.32 587.85C108.62 586.9 109 585.99 109.42 585.22C109.84 584.44 110.33 583.75 110.85 583.2C111.37 582.65 111.94 582.22 112.51 581.93C113.09 581.65 113.7 581.5 114.3 581.5C114.9 581.5 115.51 581.65 116.09 581.93C116.66 582.22 117.23 582.65 117.75 583.2C118.27 583.75 118.76 584.44 119.18 585.22C119.6 585.99 119.98 586.9 120.28 587.85C120.57 588.8 120.81 589.85 120.96 590.91C121.12 591.97 121.2 593.1 121.2 594.2Z" fill="none" stroke="#fff" stroke-width="1"/></g>
<circle cx="386.3" cy="1050.8" r="1.5" fill="#111"/>
<rect x="485.6" y="1068.1" width="26.7" height="28.8" fill="url(#cmBT)"/>
<rect x="485.6" y="1068.1" width="26.7" height="28.8" fill="url(#cmBB)" mask="url(#cmBK)"/>
<text x="485.2" y="1071" text-anchor="end" font-size="7.3">10<tspan font-size="4.6" dy="-2.6">−3</tspan></text>
<text x="484" y="1098.2" text-anchor="end" font-size="7.3">0</text>
<text x="468" y="1082.5" text-anchor="middle" transform="rotate(-90 468 1082.5)">Brightfield</text>
<text x="486.2" y="1105" text-anchor="middle" font-size="7.3">0</text>
<text x="511.5" y="1105" text-anchor="middle" font-size="7.3">10<tspan font-size="4.6" dy="-2.6">−3</tspan></text>
<text x="500" y="1112.6" text-anchor="middle">DAPI</text>
</svg>
</body></html>
